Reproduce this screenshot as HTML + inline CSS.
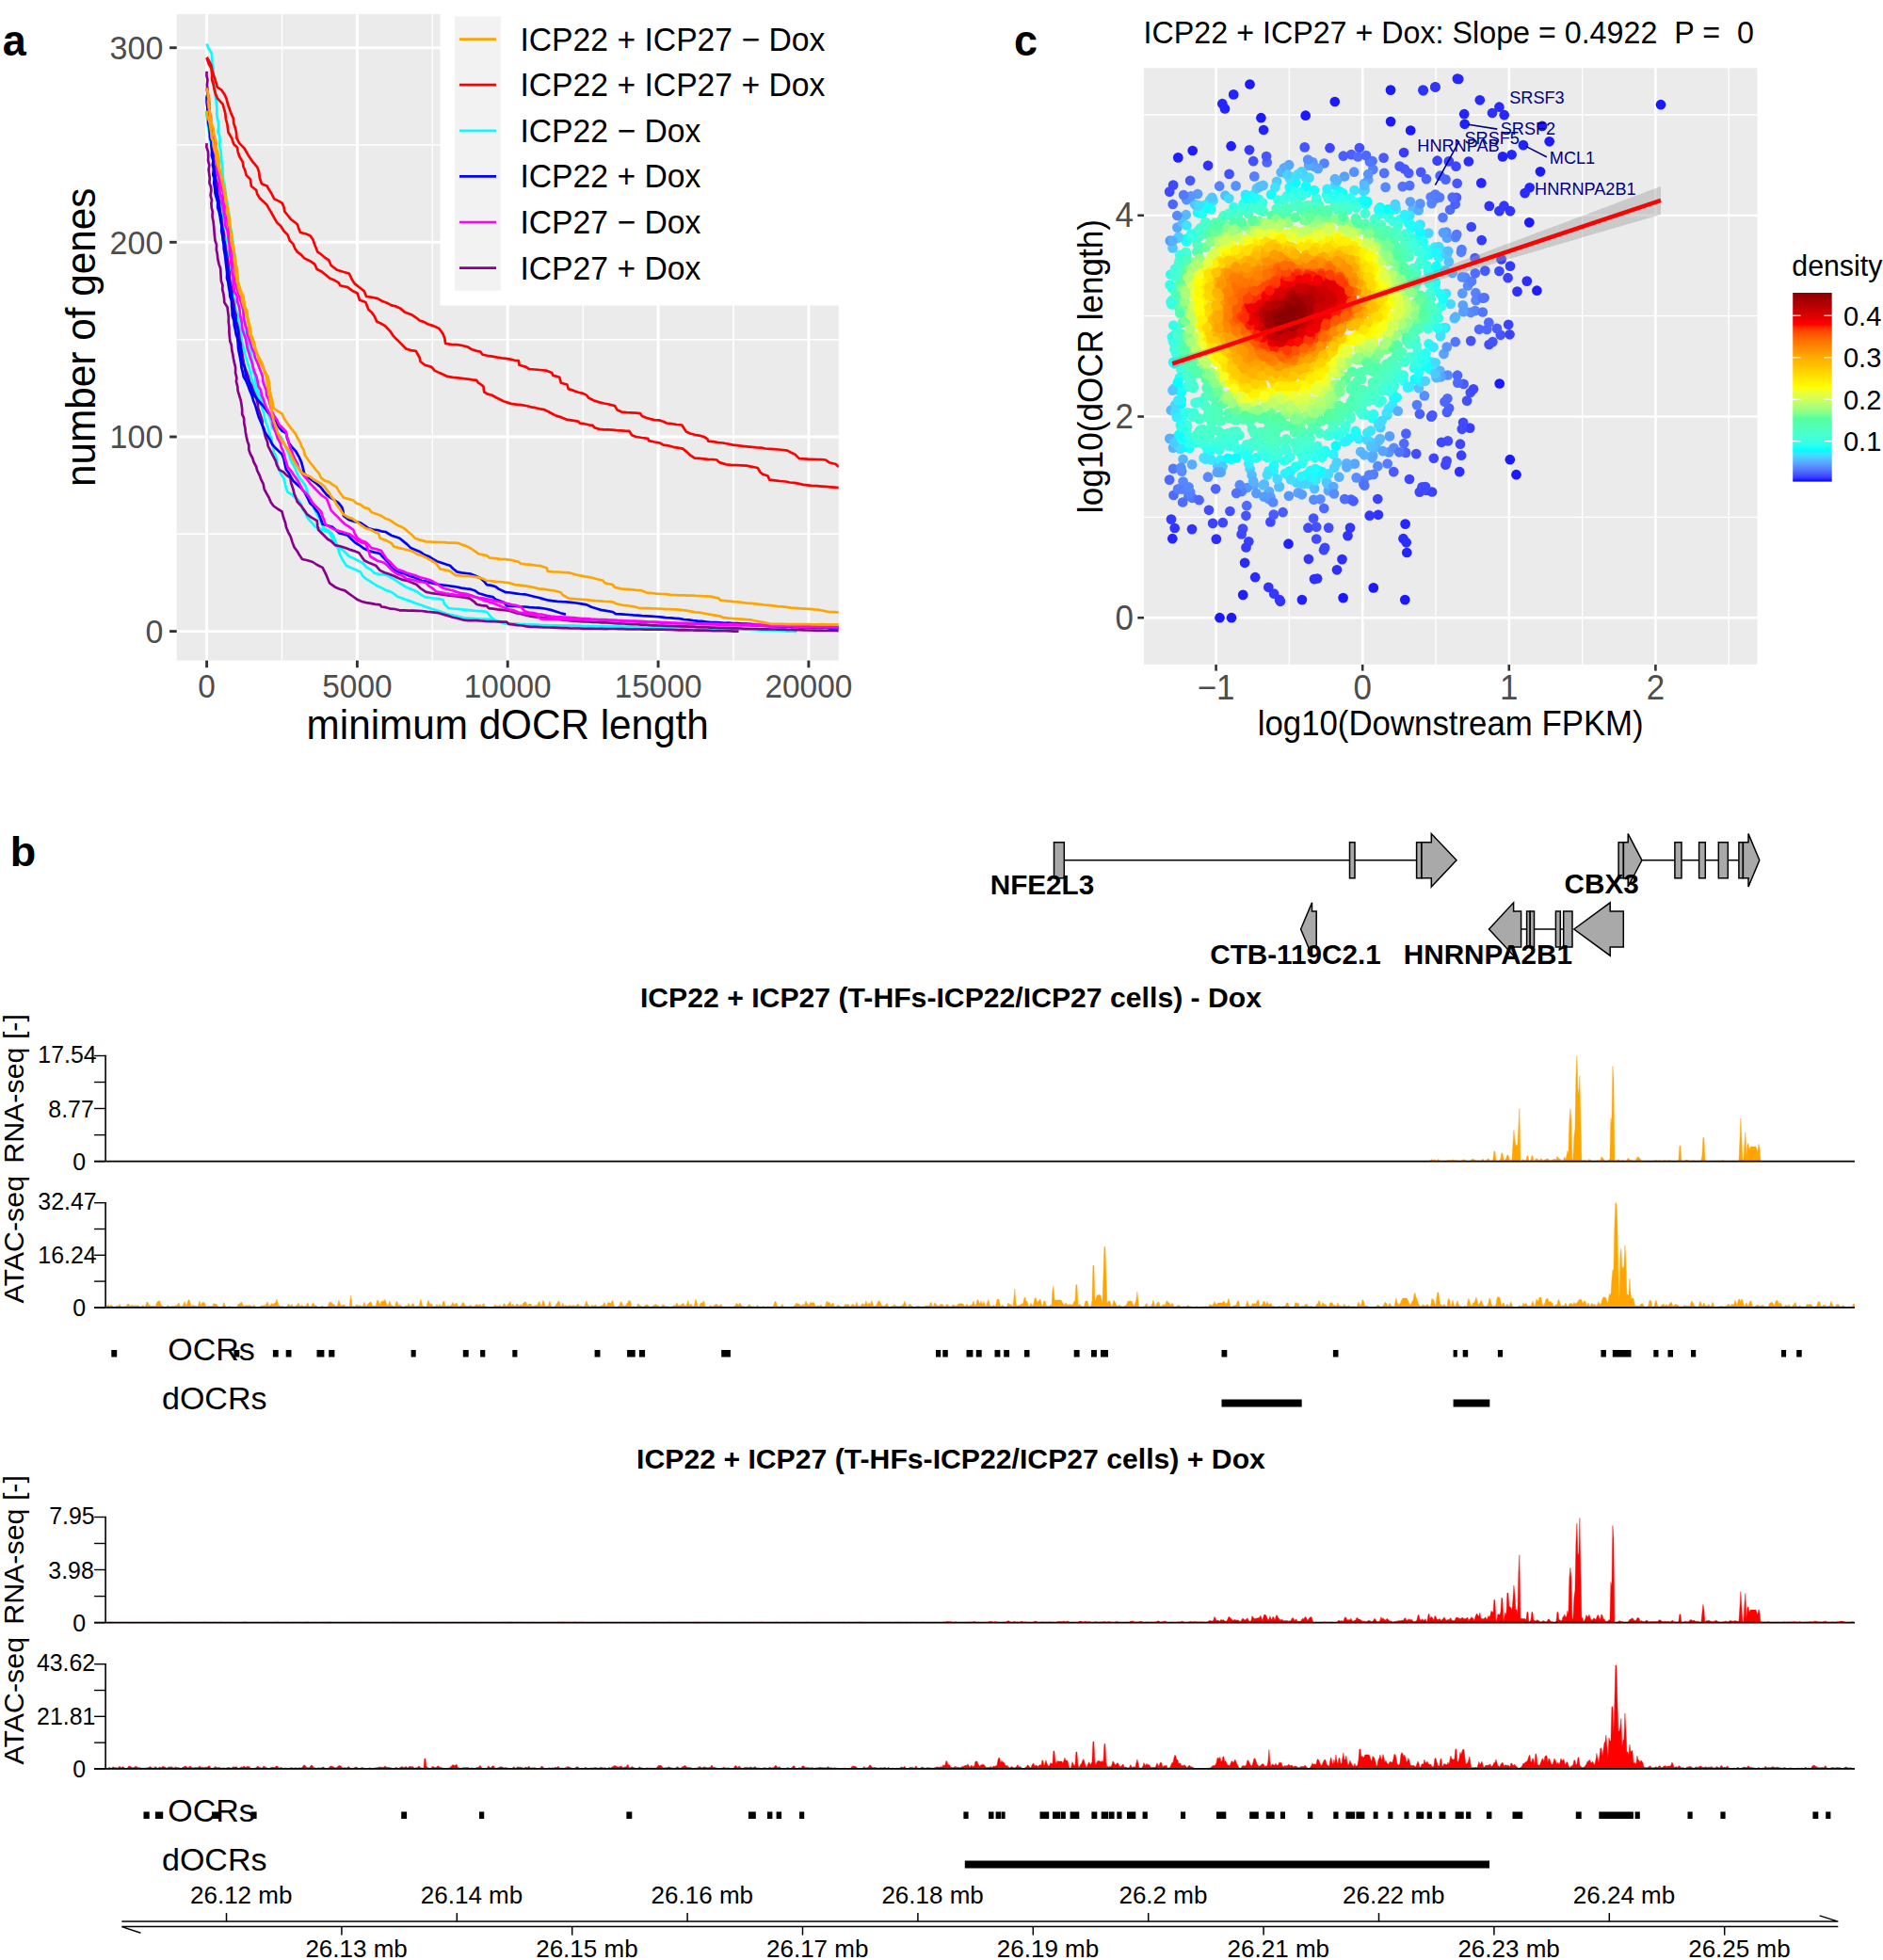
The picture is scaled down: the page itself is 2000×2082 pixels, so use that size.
<!DOCTYPE html>
<html lang="en"><head><meta charset="utf-8"><title>Figure</title>
<style>html,body{margin:0;padding:0;background:#fff}svg{display:block}text{font-family:'Liberation Sans', sans-serif}</style></head><body>
<svg width="2000" height="2082" viewBox="0 0 2000 2082">
<defs><clipPath id="clipA"><rect x="187.7" y="15.0" width="703.1" height="686.6"/></clipPath><linearGradient id="jet" x1="0" y1="0" x2="0" y2="1"><stop offset="0.0000" stop-color="#8b0000"/><stop offset="0.0208" stop-color="#990001"/><stop offset="0.0417" stop-color="#a70002"/><stop offset="0.0625" stop-color="#b50002"/><stop offset="0.0833" stop-color="#c30002"/><stop offset="0.1042" stop-color="#d20002"/><stop offset="0.1250" stop-color="#e10001"/><stop offset="0.1458" stop-color="#f00001"/><stop offset="0.1667" stop-color="#ff0000"/><stop offset="0.1875" stop-color="#ff3400"/><stop offset="0.2083" stop-color="#ff4b00"/><stop offset="0.2292" stop-color="#ff5e00"/><stop offset="0.2500" stop-color="#ff6e00"/><stop offset="0.2708" stop-color="#ff7d00"/><stop offset="0.2917" stop-color="#ff8b00"/><stop offset="0.3125" stop-color="#ff9800"/><stop offset="0.3333" stop-color="#ffa500"/><stop offset="0.3542" stop-color="#ffb100"/><stop offset="0.3750" stop-color="#ffbc00"/><stop offset="0.3958" stop-color="#ffc700"/><stop offset="0.4167" stop-color="#ffd300"/><stop offset="0.4375" stop-color="#ffde00"/><stop offset="0.4583" stop-color="#ffe900"/><stop offset="0.4792" stop-color="#fff400"/><stop offset="0.5000" stop-color="#ffff00"/><stop offset="0.5208" stop-color="#f0ff30"/><stop offset="0.5417" stop-color="#e1ff47"/><stop offset="0.5625" stop-color="#d1ff59"/><stop offset="0.5833" stop-color="#bfff69"/><stop offset="0.6042" stop-color="#abff78"/><stop offset="0.6250" stop-color="#95ff85"/><stop offset="0.6458" stop-color="#79ff92"/><stop offset="0.6667" stop-color="#54ff9f"/><stop offset="0.6875" stop-color="#52ffab"/><stop offset="0.7083" stop-color="#50ffb7"/><stop offset="0.7292" stop-color="#4cffc3"/><stop offset="0.7500" stop-color="#47ffcf"/><stop offset="0.7708" stop-color="#40ffdb"/><stop offset="0.7917" stop-color="#36ffe7"/><stop offset="0.8125" stop-color="#26fff3"/><stop offset="0.8333" stop-color="#00ffff"/><stop offset="0.8542" stop-color="#3ee4ff"/><stop offset="0.8750" stop-color="#4fc8ff"/><stop offset="0.8958" stop-color="#57adff"/><stop offset="0.9167" stop-color="#5792ff"/><stop offset="0.9375" stop-color="#5377ff"/><stop offset="0.9583" stop-color="#485aff"/><stop offset="0.9792" stop-color="#353aff"/><stop offset="1.0000" stop-color="#0000ff"/></linearGradient></defs>
<rect width="2000" height="2082" fill="#fff"/>
<g id="panel-a">
<rect x="187.7" y="15.0" width="703.1" height="686.6" fill="#ebebeb"/>
<line x1="299.5" x2="299.5" y1="15.0" y2="701.6" stroke="#fff" stroke-width="1.45"/>
<line x1="459.3" x2="459.3" y1="15.0" y2="701.6" stroke="#fff" stroke-width="1.45"/>
<line x1="619.2" x2="619.2" y1="15.0" y2="701.6" stroke="#fff" stroke-width="1.45"/>
<line x1="779.0" x2="779.0" y1="15.0" y2="701.6" stroke="#fff" stroke-width="1.45"/>
<line x1="187.7" x2="890.8" y1="567.3" y2="567.3" stroke="#fff" stroke-width="1.45"/>
<line x1="187.7" x2="890.8" y1="360.7" y2="360.7" stroke="#fff" stroke-width="1.45"/>
<line x1="187.7" x2="890.8" y1="154.0" y2="154.0" stroke="#fff" stroke-width="1.45"/>
<line x1="219.6" x2="219.6" y1="15.0" y2="701.6" stroke="#fff" stroke-width="2.9"/>
<line x1="379.4" x2="379.4" y1="15.0" y2="701.6" stroke="#fff" stroke-width="2.9"/>
<line x1="539.2" x2="539.2" y1="15.0" y2="701.6" stroke="#fff" stroke-width="2.9"/>
<line x1="699.1" x2="699.1" y1="15.0" y2="701.6" stroke="#fff" stroke-width="2.9"/>
<line x1="858.9" x2="858.9" y1="15.0" y2="701.6" stroke="#fff" stroke-width="2.9"/>
<line x1="187.7" x2="890.8" y1="670.6" y2="670.6" stroke="#fff" stroke-width="2.9"/>
<line x1="187.7" x2="890.8" y1="464.0" y2="464.0" stroke="#fff" stroke-width="2.9"/>
<line x1="187.7" x2="890.8" y1="257.3" y2="257.3" stroke="#fff" stroke-width="2.9"/>
<line x1="187.7" x2="890.8" y1="50.7" y2="50.7" stroke="#fff" stroke-width="2.9"/>
<g clip-path="url(#clipA)">
<path d="M219.6 117.6 L219.4 122.3 L220.2 126.4 L220.6 132.1 L221.3 136.1 L222.2 141.7 L222.3 145.8 L223.6 151.2 L224.6 155.8 L224.7 160.0 L225.0 164.3 L225.9 169.5 L227.5 172.8 L227.0 177.4 L227.8 182.2 L229.1 186.3 L228.9 191.0 L230.2 195.7 L231.1 200.0 L232.6 205.3 L232.7 210.2 L233.8 214.3 L234.9 220.4 L235.7 225.4 L235.8 229.8 L236.8 235.0 L237.0 240.2 L237.7 244.4 L238.7 249.5 L239.7 254.3 L240.0 259.5 L241.0 264.8 L242.4 270.0 L242.1 275.6 L243.5 279.5 L243.4 284.8 L244.1 289.4 L245.3 295.7 L245.2 300.0 L246.2 305.0 L246.6 309.4 L247.9 314.6 L249.6 319.5 L249.4 325.7 L251.1 330.0 L252.1 334.5 L253.0 339.3 L254.0 345.7 L255.4 350.3 L255.8 355.0 L256.6 359.8 L257.5 365.4 L259.2 370.4 L260.0 374.6 L261.4 380.0 L263.2 385.7 L264.6 390.5 L265.8 395.4 L266.7 400.0 L268.0 405.0 L269.9 409.3 L271.1 414.7 L273.5 420.0 L274.7 425.2 L277.4 429.7 L278.9 435.4 L280.5 439.3 L281.0 444.0 L282.6 448.9 L284.6 454.2 L286.3 460.3 L288.1 465.1 L289.1 470.6 L290.5 475.8 L290.8 480.3 L293.3 485.2 L294.2 489.5 L295.0 494.3 L296.4 499.2 L298.5 503.7 L301.3 507.6 L302.5 512.2 L303.8 518.1 L305.4 522.6 L309.7 525.1 L312.8 528.0 L317.3 531.5 L320.1 536.4 L321.2 540.9 L324.7 545.2 L326.2 549.4 L329.0 552.9 L331.6 555.6 L335.2 559.8 L340.7 561.9 L345.1 564.2 L350.0 565.7 L352.9 572.2 L356.0 577.6 L359.0 582.6 L360.6 588.2 L363.4 594.0 L367.9 600.7 L372.5 603.0 L377.5 605.1 L382.8 607.4 L385.2 611.7 L388.7 614.8 L392.6 617.1 L397.1 620.2 L401.1 622.6 L405.3 624.4 L409.5 626.7 L414.0 628.2 L418.4 630.7 L422.2 633.8 L427.4 635.6 L432.2 637.4 L438.0 639.4 L442.8 641.2 L448.2 643.0 L453.0 644.9 L457.3 646.3 L462.2 647.7 L467.5 649.6 L472.0 651.2 L477.3 652.7 L482.7 653.8 L487.7 655.1 L492.8 656.4 L497.5 656.7 L502.2 656.9 L507.0 657.3 L511.8 657.5 L516.6 657.6 L521.2 657.9 L526.9 659.7 L532.8 660.4 L538.2 662.1 L542.7 662.3 L547.4 662.5 L552.1 662.9 L557.0 663.2 L561.5 663.4 L566.3 663.5 L571.1 664.0 L575.5 664.3 L580.3 664.3 L585.0 664.6 L589.7 664.8 L594.0 664.8 L598.7 664.8 L603.1 664.9 L607.8 664.9 L612.3 665.1 L616.7 665.2 L621.4 665.3 L625.8 665.6 L630.6 665.7 L634.9 665.6 L639.5 665.8 L644.1 665.7 L648.7 666.0 L653.3 665.9 L657.7 666.2 L662.4 666.2 L666.8 666.2 L671.5 666.3 L675.9 666.6 L680.6 666.6 L685.0 666.7 L689.5 666.8 L694.2 666.8 L698.8 667.0 L703.2 666.9 L707.9 667.0 L712.4 667.2 L716.9 667.2 L721.5 667.3 L726.2 667.4 L730.9 667.5 L735.5 667.6 L740.1 667.7 L744.7 667.8 L749.4 668.0 L753.9 668.1 L758.7 668.1 L763.3 668.3 L767.8 668.5 L772.4 668.5 L777.1 668.7 L781.6 668.8 L786.3 668.8 L790.9 668.9 L795.4 668.9 L800.0 669.2 L804.7 669.1 L809.3 669.4 L814.1 669.4 L818.6 669.5 L823.1 669.6 L827.8 670.0 L832.3 670.2 L837.0 670.6 L841.8 670.7 L846.3 670.9" fill="none" stroke="#00ffff" stroke-width="2.70" stroke-linejoin="round" stroke-linecap="butt"/>
<path d="M219.6 46.5 L221.9 52.2 L225.0 56.6 L225.2 61.7 L225.3 67.0 L226.5 72.4 L226.6 77.7 L227.6 83.0 L227.2 87.4 L227.7 92.3 L228.0 96.5 L228.7 101.5 L229.5 106.7 L230.1 111.6 L230.4 116.7 L230.3 120.6 L230.8 125.6 L232.0 129.8 L232.1 135.2 L231.5 140.2 L233.3 144.6 L233.5 149.6 L233.1 153.9 L234.1 159.1 L235.0 163.8 L235.0 168.0 L235.7 173.2 L236.4 177.5 L236.3 181.2 L236.7 186.3 L237.2 191.6 L238.5 195.9 L239.1 200.6 L239.5 205.0 L240.2 209.3 L241.4 215.4 L241.8 220.1 L242.7 224.3 L243.6 229.6 L244.0 235.0 L244.2 240.1 L245.9 245.6 L246.8 252.2 L247.2 257.0 L247.9 261.5 L248.5 266.7 L249.7 271.3 L250.2 275.2 L250.1 280.2 L251.7 285.0 L252.0 290.0 L252.8 294.3 L252.8 299.7 L254.4 305.3 L255.1 309.7 L255.6 314.9 L256.2 319.4 L257.0 325.0 L258.4 329.5 L259.4 335.7 L258.8 339.9 L260.9 345.7 L261.2 349.7 L261.7 355.7 L263.0 360.0 L263.5 365.1 L264.3 370.0 L266.5 374.4 L267.2 380.0 L268.2 385.3 L268.2 390.6 L269.5 395.0 L270.7 399.3 L271.2 405.0 L273.1 409.7 L273.9 414.8 L275.7 420.0 L277.6 425.3 L279.4 430.0 L282.9 433.9 L284.6 439.3 L286.7 444.6 L288.2 448.9 L289.1 454.2 L292.4 458.0 L296.8 462.3 L299.5 466.1 L301.8 471.5 L304.1 476.4 L306.9 482.5 L308.1 487.2 L310.1 491.5 L311.9 494.6 L314.0 498.7 L315.8 503.3 L318.6 508.5 L322.4 512.7 L324.8 516.7 L326.5 522.8 L328.4 527.6 L329.2 533.0 L332.0 536.8 L334.5 541.9 L336.7 546.4 L339.5 551.6 L341.3 555.7 L344.1 561.3 L349.2 563.7 L353.0 567.2 L355.0 571.4 L356.7 576.5 L359.0 580.6 L363.7 583.7 L367.2 587.2 L370.9 591.0 L375.9 593.3 L380.3 595.5 L385.7 598.4 L389.2 602.5 L393.6 604.9 L397.6 608.8 L402.3 609.9 L406.5 610.1 L411.0 611.1 L415.0 613.3 L419.7 616.0 L424.0 619.1 L428.8 622.2 L434.1 624.9 L439.3 626.7 L443.6 629.0 L447.1 631.7 L451.2 634.1 L456.0 634.8 L460.6 635.5 L466.0 636.1 L470.5 637.1 L472.0 641.6 L476.4 646.0 L481.2 646.5 L486.1 646.8 L490.6 647.3 L495.4 647.8 L500.2 648.3 L506.0 649.0 L511.6 649.2 L517.0 650.0 L522.3 656.4 L526.4 659.0 L531.9 661.1 L538.2 662.8 L543.0 662.9 L547.6 662.9 L552.2 663.4 L557.0 663.5 L561.7 663.5 L566.2 663.6 L571.0 663.9 L575.8 664.1 L580.4 664.2 L585.0 664.3 L589.5 664.4 L594.0 664.6 L598.6 664.7 L603.2 664.6 L607.6 664.7 L612.3 664.9 L616.7 664.8 L621.4 665.0 L625.9 665.0 L630.5 665.1 L635.0 665.3 L639.7 665.4 L644.3 665.5 L648.6 665.5 L653.4 665.7 L657.7 665.6 L662.3 665.9 L666.9 665.8 L671.5 666.1 L675.9 666.0 L680.5 666.2 L685.1 666.2 L689.7 666.4 L694.2 666.4 L698.9 666.5 L703.4 666.5 L707.8 666.8 L712.4 666.8 L717.0 667.0 L721.6 666.9 L726.2 667.1 L730.9 667.3 L735.4 667.3 L740.0 667.6 L744.6 667.4 L749.2 667.6 L754.1 667.8 L758.6 668.0 L763.3 667.9 L767.7 668.2 L772.5 668.0 L777.1 668.2 L781.6 668.3 L786.2 668.3 L790.8 668.5 L795.6 668.6 L800.3 668.7 L804.7 669.0 L809.5 669.0 L813.9 669.1 L818.6 669.2 L823.2 669.6 L827.7 669.7 L832.6 669.9 L837.0 670.4 L841.8 670.4 L846.3 670.9" fill="none" stroke="#00ffff" stroke-width="2.70" stroke-linejoin="round" stroke-linecap="butt"/>
<path d="M219.6 152.1 L219.3 156.1 L221.0 161.0 L221.2 166.6 L221.0 170.4 L222.3 175.5 L221.6 180.3 L222.1 184.3 L222.8 189.3 L222.4 194.2 L224.0 198.5 L224.4 202.2 L223.6 207.4 L225.0 212.6 L224.4 216.1 L224.8 220.9 L225.8 225.0 L225.5 230.0 L226.6 235.6 L227.2 240.9 L227.5 245.5 L228.0 251.0 L228.5 255.6 L230.0 259.9 L229.9 265.7 L230.8 269.5 L231.3 275.0 L232.5 280.4 L234.2 285.2 L234.4 289.3 L234.6 293.2 L234.9 298.4 L236.4 302.9 L236.2 307.4 L237.4 312.3 L238.1 317.2 L238.3 321.2 L241.5 326.3 L242.1 331.1 L242.8 336.7 L242.7 342.1 L243.4 347.2 L243.4 353.0 L243.8 357.2 L244.4 362.8 L245.8 366.5 L246.3 372.1 L247.2 376.0 L247.9 380.5 L249.1 386.1 L250.1 390.2 L250.1 396.2 L251.4 401.3 L250.9 405.3 L252.3 410.5 L252.6 414.8 L254.1 420.0 L255.7 425.1 L256.5 429.7 L257.2 434.8 L257.2 440.2 L259.1 444.2 L259.3 449.7 L260.4 454.6 L260.8 458.9 L261.6 463.3 L262.8 468.6 L264.3 472.7 L264.3 477.6 L266.0 482.5 L268.2 486.5 L269.6 491.0 L272.3 496.0 L273.1 499.7 L275.7 504.8 L277.4 509.7 L279.6 513.8 L280.7 519.6 L283.1 524.1 L285.5 528.2 L287.8 533.7 L290.6 537.5 L294.8 540.5 L299.5 543.4 L300.8 548.7 L303.0 555.1 L303.9 559.8 L305.9 564.8 L308.7 570.2 L310.6 576.1 L312.5 581.2 L315.7 585.5 L318.3 590.1 L321.0 594.0 L326.6 595.2 L332.2 597.0 L336.7 600.0 L342.6 602.9 L346.3 610.3 L348.4 615.4 L350.0 619.3 L356.0 623.7 L360.8 625.7 L366.4 627.4 L370.7 630.6 L374.8 633.5 L379.8 637.1 L384.3 639.0 L388.7 640.1 L393.4 640.8 L398.8 641.8 L403.6 642.3 L405.1 644.5 L409.7 645.2 L415.1 646.7 L419.6 647.0 L424.4 648.3 L429.3 648.4 L434.0 648.6 L438.8 648.6 L443.5 648.8 L448.2 649.0 L454.1 649.9 L460.2 650.3 L466.0 651.2 L470.7 652.6 L476.0 654.1 L480.9 655.7 L486.5 657.0 L492.8 658.7 L497.4 659.1 L501.7 659.2 L506.5 659.2 L511.1 659.5 L515.5 659.9 L520.0 660.1 L524.6 660.2 L529.1 660.4 L533.6 660.6 L538.2 660.7 L540.4 662.8 L545.0 663.4 L549.5 664.1 L554.4 664.5 L559.2 665.3 L563.7 665.8 L568.4 665.9 L573.1 666.1 L577.7 666.3 L582.5 666.5 L587.3 666.6 L592.1 666.8 L596.8 667.2 L601.5 667.2 L606.2 667.5 L610.8 667.5 L615.6 667.5 L620.1 667.8 L624.7 667.8 L629.2 667.9 L633.9 668.0 L638.6 667.8 L643.2 668.1 L647.6 668.0 L652.4 668.0 L657.1 668.1 L661.7 668.1 L666.2 668.4 L670.8 668.3 L675.5 668.4 L680.0 668.4 L684.6 668.6 L689.4 668.7 L693.8 668.7 L698.4 668.7 L703.2 668.7 L707.9 668.9 L712.4 668.9 L716.9 669.1 L721.3 669.3 L726.0 669.2 L730.5 669.3 L735.1 669.5 L739.4 669.6 L744.0 669.6 L748.6 669.6 L753.1 669.8 L757.6 670.1 L762.1 670.1 L766.5 670.0 L770.9 670.2 L775.6 670.4 L780.1 670.6 L784.6 670.6" fill="none" stroke="#8b008b" stroke-width="2.70" stroke-linejoin="round" stroke-linecap="butt"/>
<path d="M219.6 75.7 L219.4 80.2 L220.5 84.8 L219.9 90.2 L220.4 95.2 L220.9 100.4 L221.8 104.8 L222.2 110.1 L221.8 115.7 L222.7 120.0 L222.8 124.5 L223.0 130.2 L224.5 135.4 L224.3 139.6 L224.1 145.2 L225.4 149.8 L225.9 154.9 L226.1 160.0 L227.4 165.4 L226.9 170.6 L227.1 175.0 L228.3 179.6 L228.3 185.4 L228.8 190.1 L230.7 194.5 L230.6 200.0 L230.9 205.2 L232.0 210.2 L233.1 214.5 L233.0 219.7 L233.3 225.6 L235.0 230.3 L235.3 235.0 L235.3 240.5 L237.2 244.9 L238.0 249.9 L238.1 254.4 L238.9 259.3 L239.8 265.4 L240.9 270.0 L241.8 275.5 L242.4 279.6 L242.7 284.9 L243.7 290.0 L243.5 295.2 L244.4 300.0 L245.9 304.6 L246.6 309.3 L246.4 314.6 L248.0 320.7 L248.8 324.7 L249.2 330.0 L250.7 334.7 L250.7 340.6 L252.2 345.3 L253.2 350.7 L253.8 355.0 L254.6 360.5 L255.8 365.5 L256.2 370.3 L257.2 374.7 L257.9 380.0 L258.9 385.2 L260.1 390.6 L261.7 394.3 L263.7 400.0 L265.0 405.6 L267.2 409.5 L268.6 414.3 L271.2 420.0 L272.7 424.7 L273.9 429.3 L274.1 433.5 L275.8 438.3 L277.2 442.3 L278.7 447.3 L278.7 451.8 L281.0 456.3 L280.8 459.7 L281.9 463.9 L284.1 469.5 L284.6 473.5 L287.8 479.9 L290.6 485.4 L292.8 489.5 L293.9 493.7 L296.5 498.8 L300.9 501.3 L304.2 504.6 L308.4 507.7 L309.2 513.3 L311.4 519.6 L312.5 524.4 L314.1 528.3 L315.8 533.0 L320.0 537.5 L323.3 542.1 L326.2 546.4 L330.7 549.6 L336.7 553.1 L337.3 558.4 L338.1 562.8 L344.1 568.7 L347.8 572.5 L352.1 575.2 L356.0 579.1 L361.3 580.2 L366.2 581.8 L370.9 583.6 L375.6 585.1 L381.3 587.3 L384.6 592.1 L387.2 595.5 L392.5 598.1 L399.1 600.7 L403.6 605.9 L408.5 608.2 L413.1 609.8 L418.4 611.8 L423.0 614.0 L427.7 615.9 L432.4 616.8 L437.7 618.9 L442.2 620.7 L446.8 625.0 L452.6 628.9 L457.2 629.8 L462.4 630.6 L467.2 631.1 L472.0 631.9 L477.3 632.6 L482.9 633.1 L488.2 633.9 L493.2 634.7 L498.7 635.6 L503.2 638.8 L506.4 642.0 L511.6 643.1 L517.0 643.7 L519.1 646.2 L523.7 646.7 L528.7 647.4 L533.5 647.8 L538.2 648.3 L543.2 649.4 L548.1 651.1 L553.6 652.3 L558.3 653.4 L563.7 654.7 L568.6 655.3 L573.0 655.7 L578.1 656.2 L582.4 656.7 L587.4 657.5 L591.9 657.7 L596.6 658.3 L601.5 658.8 L606.2 659.5 L610.8 659.6 L615.7 660.1 L620.1 660.4 L624.8 660.5 L629.8 660.9 L634.4 661.0 L638.9 661.3 L643.6 661.4 L648.4 661.6 L653.1 662.1 L657.9 662.3 L662.5 662.5 L667.0 662.8 L671.8 663.1 L676.7 663.2 L681.3 663.6 L685.9 663.7 L690.7 664.1 L695.4 664.3 L700.0 664.5 L704.7 664.7 L709.1 664.8 L713.6 665.0 L718.1 665.1 L722.8 665.4 L727.3 665.4 L731.8 665.6 L736.4 665.7 L741.0 666.1 L745.4 666.1 L750.1 666.2 L754.5 666.6 L758.9 666.6 L763.5 666.8 L768.3 666.9 L772.6 667.1 L777.3 667.3 L781.8 667.4 L786.5 667.5 L790.9 667.8 L795.4 667.9 L800.0 668.0 L804.5 668.2 L809.0 668.4 L813.6 668.2 L818.1 668.4 L822.6 668.5 L827.2 668.7 L831.7 668.7 L836.2 668.9 L841.0 669.0 L845.3 669.2 L849.9 669.1 L854.4 669.4 L859.1 669.5 L863.6 669.6 L868.0 669.8 L872.6 669.8 L877.3 670.0 L881.7 669.9 L886.3 670.0 L890.8 670.2" fill="none" stroke="#8b008b" stroke-width="2.70" stroke-linejoin="round" stroke-linecap="butt"/>
<path d="M219.6 101.0 L220.4 105.5 L220.7 110.2 L220.3 114.9 L220.8 120.0 L221.3 124.5 L221.2 130.3 L222.1 134.6 L222.7 140.0 L223.5 145.2 L224.3 149.8 L225.3 155.5 L225.2 160.0 L224.9 165.5 L226.5 170.4 L225.8 175.5 L226.9 179.3 L226.3 185.7 L227.6 189.6 L227.2 194.5 L228.2 200.0 L228.6 205.4 L229.7 209.5 L231.4 215.4 L231.2 220.6 L232.8 225.4 L233.8 230.6 L234.4 235.0 L235.5 240.5 L235.2 245.3 L236.3 250.4 L236.8 255.6 L237.6 259.6 L237.8 264.5 L238.8 270.0 L239.4 274.3 L239.9 279.5 L240.6 285.0 L241.2 290.5 L241.0 295.5 L242.3 300.0 L243.0 305.1 L244.0 310.5 L244.3 314.9 L245.9 319.4 L246.1 325.2 L246.6 330.0 L246.7 335.2 L248.5 340.6 L248.8 345.7 L249.9 350.0 L250.7 355.0 L252.2 359.3 L252.8 365.2 L253.1 370.5 L254.0 375.0 L255.0 380.0 L256.0 385.4 L256.4 389.9 L257.7 395.1 L258.7 400.0 L261.4 404.7 L263.6 409.9 L265.3 414.7 L267.5 420.0 L269.0 425.2 L270.7 429.4 L272.0 433.4 L273.2 437.6 L274.6 442.5 L276.4 446.8 L278.8 452.2 L280.2 457.0 L283.1 461.6 L286.7 466.9 L289.1 472.0 L291.9 475.2 L295.3 478.5 L299.5 482.5 L301.6 488.1 L302.7 493.8 L303.9 498.8 L307.0 502.9 L309.1 506.9 L311.4 510.7 L315.7 514.8 L319.6 518.2 L323.3 522.6 L326.5 528.5 L329.2 534.5 L332.6 537.4 L334.7 540.7 L338.1 544.9 L340.8 551.5 L342.6 556.8 L347.9 558.2 L353.0 559.8 L357.2 563.6 L360.4 566.5 L365.0 567.4 L369.4 568.7 L372.8 572.3 L376.8 576.1 L381.5 579.0 L386.9 582.8 L391.7 585.1 L397.3 586.6 L403.6 588.0 L405.9 590.8 L410.0 595.0 L413.1 598.2 L414.7 601.5 L418.4 605.1 L424.0 607.9 L429.9 609.5 L434.8 611.8 L439.2 613.1 L443.9 614.9 L448.2 617.0 L452.4 617.6 L456.8 618.9 L461.3 620.0 L465.7 620.9 L470.5 621.5 L475.2 622.0 L480.5 622.8 L485.5 623.5 L490.0 624.6 L495.4 625.4 L500.2 625.9 L504.7 627.5 L508.5 630.3 L513.6 631.7 L518.4 633.2 L523.4 634.1 L526.6 636.7 L535.0 639.8 L538.2 643.5 L543.0 644.0 L548.0 643.9 L552.6 644.5 L557.7 644.5 L562.4 645.1 L567.2 645.4 L572.2 645.6 L578.6 646.5 L585.0 647.9 L590.2 649.5 L595.5 651.2 L600.9 652.6" fill="none" stroke="#0000ff" stroke-width="2.70" stroke-linejoin="round" stroke-linecap="butt"/>
<path d="M219.6 103.0 L219.6 109.1 L220.4 114.6 L221.1 120.0 L221.8 124.9 L221.9 130.4 L223.3 135.4 L223.3 139.7 L223.0 145.7 L224.5 150.5 L224.5 155.2 L225.3 160.0 L226.5 165.5 L226.5 169.7 L226.8 175.6 L227.3 180.3 L228.1 185.6 L229.0 189.7 L228.3 194.6 L229.6 200.0 L230.3 205.1 L231.6 210.6 L231.3 215.5 L233.2 220.6 L233.6 224.7 L234.8 230.5 L235.1 235.0 L236.0 240.6 L236.2 244.4 L237.1 250.4 L237.2 255.4 L239.0 259.6 L239.1 265.3 L239.6 270.0 L240.2 274.6 L240.5 280.4 L241.9 284.9 L241.5 290.5 L243.1 294.6 L243.3 300.0 L244.3 305.6 L245.5 310.0 L245.8 315.1 L246.2 319.5 L247.0 325.3 L248.3 330.0 L249.0 335.1 L250.0 340.0 L250.5 344.3 L252.7 349.8 L252.9 355.0 L253.1 360.2 L254.9 364.5 L255.4 369.8 L256.1 374.3 L256.8 380.0 L257.3 385.7 L259.8 390.0 L260.5 394.6 L261.6 400.0 L264.1 404.9 L266.3 410.4 L268.2 415.7 L269.7 420.0 L272.6 423.0 L275.7 427.0 L278.8 430.5 L282.7 435.4 L285.8 439.3 L289.1 442.3 L292.2 445.6 L294.2 450.1 L296.5 454.2 L299.6 457.8 L303.9 460.1 L305.0 465.4 L306.9 470.6 L310.8 475.7 L314.3 479.5 L317.6 485.3 L320.3 491.4 L321.7 496.8 L323.3 503.3 L328.4 507.7 L332.2 510.7 L336.2 513.7 L341.1 518.1 L343.7 521.6 L347.1 525.6 L351.4 528.8 L354.5 530.8 L359.5 534.2 L363.4 539.0 L364.6 543.8 L364.9 547.9 L370.9 552.3 L377.0 554.2 L382.8 555.3 L386.6 557.8 L391.7 561.3 L396.3 562.5 L400.7 563.0 L405.1 564.3 L409.5 565.0 L415.5 568.7 L419.5 570.0 L424.4 571.7 L428.0 574.6 L432.3 578.1 L436.3 582.1 L440.9 584.1 L446.5 586.3 L451.2 589.5 L456.0 591.3 L460.1 594.0 L464.0 596.2 L468.7 597.8 L473.9 599.5 L477.9 600.7 L481.1 604.0 L485.4 607.4 L490.0 608.4 L495.3 609.0 L500.0 609.7 L505.2 611.8 L510.6 614.3 L514.3 617.7 L517.0 621.1 L521.9 621.9 L526.6 623.3 L529.7 625.6 L537.2 629.2 L542.1 629.5 L547.4 630.3 L552.2 631.0 L557.4 631.3 L562.3 632.5 L567.3 633.7 L572.9 635.0 L577.4 636.4 L582.8 637.7 L587.4 638.3 L592.0 638.8 L596.6 639.1 L601.6 639.3 L606.2 639.8 L611.9 640.5 L617.4 641.4 L623.2 642.4 L628.0 644.8 L633.7 646.5 L638.1 647.9 L644.2 648.8 L650.8 650.0 L654.0 652.2 L658.8 652.3 L663.4 652.7 L668.1 653.0 L672.7 653.4 L677.1 653.6 L682.0 654.1 L686.4 654.4 L691.2 654.7 L696.7 655.0 L701.8 655.4 L707.0 656.1 L712.4 656.4 L717.2 656.8 L721.6 657.2 L726.6 658.0 L731.2 658.3 L736.1 659.1 L740.9 659.6 L745.3 659.8 L750.3 660.5 L754.9 661.1 L759.7 661.1 L764.4 661.4 L769.2 661.8 L773.8 661.7 L778.6 662.0 L783.4 662.2 L787.9 662.5 L792.6 662.5 L797.4 662.8 L802.6 663.5 L807.7 664.1 L813.3 664.7 L818.6 665.3 L823.0 665.5 L827.7 665.7 L832.1 665.8 L836.6 665.9 L841.0 666.1 L845.8 666.1 L850.2 666.3 L854.7 666.3 L859.4 666.5 L863.6 666.6 L868.2 666.9 L872.6 666.8 L877.3 667.0 L881.6 667.3 L886.3 667.4 L890.8 667.5" fill="none" stroke="#0000ff" stroke-width="2.70" stroke-linejoin="round" stroke-linecap="butt"/>
<path d="M219.6 93.2 L220.5 98.0 L221.3 104.2 L220.7 108.7 L222.0 114.6 L222.6 120.0 L222.9 124.4 L223.7 129.5 L224.6 135.5 L224.6 140.1 L226.2 144.5 L226.9 150.7 L226.9 154.9 L227.7 160.0 L229.0 165.0 L229.0 170.7 L230.3 174.8 L230.2 179.8 L231.2 185.7 L232.5 190.6 L233.2 195.5 L233.4 200.0 L233.6 205.0 L235.8 210.7 L235.6 214.9 L237.0 219.8 L237.7 224.4 L238.4 230.0 L239.4 235.0 L239.4 239.5 L241.5 245.4 L242.2 250.2 L242.7 255.6 L243.5 259.3 L243.8 264.6 L244.3 270.0 L245.1 274.7 L245.5 280.6 L246.1 284.6 L246.5 289.9 L247.7 294.7 L247.5 300.0 L248.4 305.2 L249.3 310.1 L251.8 315.0 L252.0 319.9 L253.6 324.5 L254.7 330.0 L255.0 334.4 L256.2 339.9 L257.0 344.6 L257.6 350.1 L259.1 355.0 L261.0 360.2 L261.9 365.2 L262.7 370.3 L264.4 375.1 L265.8 380.0 L267.6 385.0 L268.8 389.6 L270.3 395.0 L272.4 400.0 L273.6 405.1 L274.4 409.8 L277.1 414.6 L277.9 420.0 L279.9 424.4 L281.5 429.7 L283.4 433.8 L285.1 437.2 L287.6 442.3 L289.6 447.0 L289.9 451.8 L291.9 457.1 L293.5 461.6 L294.8 465.7 L297.9 470.9 L298.6 474.8 L301.0 479.5 L302.2 485.2 L304.1 490.9 L305.4 495.8 L308.8 499.8 L311.7 504.1 L314.3 507.7 L317.2 512.1 L319.7 516.9 L321.8 521.1 L325.9 525.0 L329.3 529.3 L332.2 534.5 L337.0 539.1 L341.1 543.4 L342.6 548.6 L344.2 552.2 L345.6 556.8 L351.2 560.4 L356.0 562.8 L361.1 564.2 L365.9 565.7 L370.9 567.2 L375.7 570.6 L379.8 574.6 L384.1 576.2 L388.7 577.6 L390.0 581.8 L392.1 587.1 L393.2 591.0 L400.6 595.5 L408.0 597.7 L411.5 600.8 L414.5 603.9 L418.4 607.4 L422.3 610.0 L427.5 611.7 L431.8 614.8 L437.3 615.8 L442.5 617.3 L447.7 618.0 L452.6 619.3 L456.0 622.9 L458.9 624.6 L463.1 628.2 L468.1 629.2 L473.3 630.4 L477.9 631.2 L483.4 631.8 L489.0 632.1 L494.6 632.4 L500.0 632.9 L504.8 634.0 L509.6 635.2 L514.7 635.9 L519.1 636.8 L524.2 637.9 L529.2 639.1 L534.0 639.8 L539.2 641.0 L543.5 642.3 L548.7 643.2 L553.1 644.5 L557.4 649.4 L562.0 650.5 L566.4 651.0 L571.5 652.3 L575.8 652.7 L580.7 653.9 L585.0 654.7 L589.8 655.2 L594.6 655.3 L599.0 655.6 L603.9 655.9 L608.5 656.1 L613.4 656.6 L618.0 657.1 L622.8 657.0 L627.5 657.5 L632.2 657.8 L636.9 658.0 L641.5 658.1 L646.5 658.4 L651.1 658.5 L655.8 658.9 L660.4 659.1 L665.2 659.4 L670.0 659.5 L674.5 659.6 L679.5 659.8 L684.0 660.1 L688.8 660.5 L693.6 660.7 L698.1 660.7 L703.1 661.0 L707.8 661.2 L712.4 661.5 L716.9 661.5 L721.4 661.8 L726.1 661.8 L730.7 661.9 L735.1 662.2 L739.9 662.3 L744.4 662.3 L748.9 662.3 L753.7 662.6 L758.1 662.7 L762.8 662.7 L767.3 663.0 L771.9 663.1 L776.4 663.0 L781.1 663.1 L785.5 663.4 L790.2 663.5 L794.7 663.4 L799.3 663.5 L804.0 663.6 L808.5 663.7 L813.0 663.9 L817.6 663.9 L822.1 664.2 L826.7 664.2 L831.2 664.3 L835.8 664.3 L840.5 664.5 L845.0 664.8 L849.5 664.7 L854.3 664.8 L858.8 665.1 L863.4 665.0 L867.9 665.3 L872.5 665.5 L877.0 665.6 L881.7 665.5 L886.2 665.6 L890.8 665.8" fill="none" stroke="#ff00ff" stroke-width="2.70" stroke-linejoin="round" stroke-linecap="butt"/>
<path d="M219.6 94.5 L220.5 99.2 L221.4 104.8 L221.2 109.4 L222.1 114.5 L222.6 120.0 L223.9 123.9 L224.2 129.0 L224.6 133.7 L225.6 138.0 L226.7 141.9 L227.2 146.0 L227.7 151.6 L228.7 155.8 L229.7 160.0 L229.9 165.1 L231.0 170.0 L231.7 174.3 L232.4 179.6 L232.9 185.3 L233.9 189.9 L235.6 195.4 L235.7 200.0 L237.1 205.5 L236.8 209.7 L237.5 215.3 L239.2 219.8 L239.7 225.2 L240.9 229.6 L241.4 235.0 L242.7 239.8 L243.2 244.5 L243.2 250.6 L244.9 255.3 L244.7 259.3 L245.6 264.5 L246.9 270.0 L247.1 274.8 L247.2 279.7 L248.6 284.5 L249.4 290.1 L249.8 294.6 L249.9 300.0 L251.3 305.3 L252.5 309.3 L254.7 315.4 L255.3 319.3 L257.5 325.2 L258.4 330.0 L258.6 334.6 L259.5 340.4 L260.5 345.6 L262.2 349.4 L262.6 355.0 L264.6 359.8 L266.3 365.5 L267.3 369.4 L269.9 374.9 L270.9 380.0 L273.5 385.3 L275.3 390.5 L277.1 394.9 L278.9 400.0 L279.3 405.3 L280.9 410.0 L282.7 414.4 L283.1 420.0 L285.4 424.5 L287.2 430.9 L288.4 435.7 L290.6 440.8 L294.3 446.2 L296.5 451.2 L300.3 454.6 L303.9 458.7 L304.4 462.9 L306.0 467.2 L307.0 471.5 L308.4 476.5 L310.5 480.9 L311.6 484.4 L313.8 488.9 L316.2 492.9 L317.3 497.3 L320.0 501.8 L322.7 505.3 L326.2 509.2 L329.9 514.1 L334.2 518.5 L338.1 522.6 L342.1 526.5 L347.1 530.0 L349.4 535.9 L351.5 541.9 L355.6 546.1 L359.0 549.4 L362.1 552.8 L366.4 556.8 L370.6 559.4 L375.3 562.8 L376.9 566.9 L379.8 571.7 L383.8 574.2 L388.7 576.1 L394.6 582.1 L399.8 583.2 L405.1 585.1 L407.8 589.5 L411.0 594.0 L414.3 597.0 L417.3 600.2 L421.4 604.4 L427.4 606.6 L431.9 608.6 L437.8 610.3 L442.8 611.9 L446.3 613.3 L451.1 614.5 L455.7 615.8 L460.1 617.8 L464.7 620.5 L468.2 623.4 L472.0 625.2 L476.6 626.2 L480.7 627.3 L485.4 628.9 L489.9 630.2 L495.4 630.9 L500.0 632.2 L504.2 634.1 L509.5 636.1 L513.3 637.6 L518.6 639.3 L522.6 640.3 L527.7 642.2 L531.9 644.1 L536.5 645.8 L541.3 647.6 L546.0 648.4 L551.0 650.5 L556.7 651.3 L562.5 652.0 L568.0 652.6 L574.4 657.5 L579.3 657.7 L584.1 657.6 L588.8 657.6 L593.7 657.6 L598.6 657.7 L603.3 657.9 L608.1 657.8 L613.0 657.9 L617.9 657.9 L622.8 658.1 L627.5 658.1 L632.3 658.3 L636.9 658.6 L641.7 658.7 L646.3 659.0 L651.1 659.3 L655.9 659.3 L660.4 659.6 L665.3 659.8 L669.8 660.0 L674.6 660.3 L679.5 660.7 L684.2 660.9 L689.0 661.0 L693.6 661.1 L698.3 661.5 L702.9 661.7 L707.8 661.9 L712.4 662.1 L717.1 662.2 L721.6 662.5 L726.1 662.4 L730.9 662.6 L735.4 662.8 L740.1 663.0 L744.7 663.1 L749.4 663.2 L753.8 663.3 L758.7 663.5 L763.1 663.7 L767.7 663.6 L772.4 663.8 L777.0 664.1 L781.6 664.2 L786.2 664.3 L790.9 664.3 L795.5 664.5 L800.1 664.9 L804.8 664.9 L809.4 664.9 L814.1 665.2 L818.6 665.3 L823.0 665.5 L827.6 665.4 L832.3 665.5 L836.7 665.5 L841.2 665.5 L845.6 665.7 L850.1 665.8 L854.6 665.8 L859.3 665.9 L863.8 666.0 L868.3 666.1 L872.9 666.2 L877.2 666.3 L881.7 666.3 L886.3 666.4 L890.8 666.4" fill="none" stroke="#ff00ff" stroke-width="2.70" stroke-linejoin="round" stroke-linecap="butt"/>
<path d="M219.6 117.6 L220.0 122.1 L221.8 127.7 L222.8 131.0 L223.5 135.8 L224.4 141.6 L224.7 146.5 L226.4 150.2 L226.7 155.2 L228.1 160.0 L229.7 164.6 L229.7 168.2 L230.8 173.8 L232.0 177.9 L233.3 182.5 L234.5 186.1 L236.4 191.2 L237.2 196.0 L238.0 200.0 L239.4 204.3 L239.2 209.5 L240.1 215.6 L241.2 219.3 L240.9 225.5 L242.4 229.8 L242.8 235.0 L243.5 239.5 L244.9 244.8 L245.7 250.2 L245.3 254.7 L246.3 260.6 L247.6 264.3 L248.3 270.0 L248.4 274.8 L249.5 280.1 L249.9 284.8 L250.0 290.1 L251.1 294.3 L251.9 300.0 L253.3 305.7 L254.2 309.5 L256.6 314.7 L257.4 320.0 L258.9 325.1 L260.7 330.0 L261.7 335.7 L263.4 339.3 L263.7 345.4 L265.1 350.4 L265.5 355.0 L267.4 360.2 L268.8 364.7 L271.1 370.6 L273.1 375.3 L274.2 380.0 L276.1 385.4 L278.9 390.0 L280.9 394.8 L282.9 400.0 L283.8 404.9 L283.8 409.8 L285.0 415.7 L286.1 420.0 L286.8 424.3 L287.2 428.5 L288.1 432.9 L288.4 438.4 L289.8 442.3 L290.6 446.8 L292.7 451.9 L294.0 457.0 L296.5 463.1 L298.7 466.8 L301.8 471.1 L303.9 475.0 L307.1 479.2 L309.5 484.1 L311.4 488.4 L313.7 492.4 L317.5 498.1 L320.3 501.8 L324.5 504.4 L329.2 506.2 L333.1 509.3 L336.5 511.2 L341.1 513.7 L344.7 516.8 L346.7 519.9 L350.0 524.1 L352.0 527.7 L355.3 531.6 L357.5 536.0 L361.0 540.8 L364.9 546.4 L369.5 549.4 L374.1 550.9 L378.3 553.8 L383.9 558.2 L388.7 561.3 L393.3 562.5 L398.0 565.2 L402.1 566.5 L403.6 571.7 L409.3 573.8 L415.5 576.9 L418.4 580.6 L423.1 581.9 L428.6 583.2 L433.3 584.3 L438.8 586.0 L443.0 588.6 L448.2 590.3 L453.4 592.9 L458.4 595.5 L463.1 598.4 L467.5 604.4 L472.4 605.4 L477.9 606.6 L483.9 611.1 L489.1 611.5 L494.6 611.8 L500.0 612.2 L508.5 613.3 L512.9 614.8 L517.0 616.9 L521.7 617.1 L526.5 617.8 L531.3 618.0 L535.8 618.7 L540.4 619.0 L546.7 621.1 L552.3 621.6 L557.8 622.4 L563.7 623.3 L572.2 625.4 L578.0 625.9 L583.7 626.8 L589.2 627.5 L595.6 629.2 L597.7 632.0 L604.1 635.6 L608.8 636.1 L613.5 636.5 L618.2 636.8 L622.9 637.2 L627.5 637.7 L632.2 638.1 L636.9 638.3 L641.6 638.9 L646.1 639.0 L650.8 639.4 L655.1 641.5 L661.5 642.8 L667.8 643.5 L672.8 644.3 L678.4 645.8 L683.1 646.1 L687.9 646.2 L692.7 646.3 L697.4 646.5 L701.9 646.7 L706.6 647.1 L711.5 647.2 L716.3 647.4 L720.9 647.7 L727.1 648.4 L733.7 649.4 L738.4 650.4 L742.6 650.6 L747.5 651.5 L752.2 652.4 L756.5 653.1 L761.1 653.9 L765.5 654.7 L768.7 656.2 L773.4 656.7 L778.1 657.0 L782.9 657.3 L787.8 657.7 L792.4 658.0 L797.4 658.3 L802.6 659.7 L808.3 660.6 L813.1 661.5 L818.6 662.8 L823.1 662.8 L827.6 662.8 L832.2 662.9 L836.6 663.1 L841.1 663.0 L845.6 663.1 L850.3 663.0 L854.8 663.2 L859.2 663.1 L863.7 663.3 L868.2 663.3 L872.8 663.2 L877.3 663.4 L881.7 663.4 L886.3 663.4 L890.8 663.4" fill="none" stroke="#ffa500" stroke-width="2.70" stroke-linejoin="round" stroke-linecap="butt"/>
<path d="M219.6 93.7 L220.9 98.5 L221.6 105.0 L221.5 108.8 L222.0 115.5 L223.3 120.0 L223.4 125.1 L224.4 129.2 L225.2 132.8 L226.9 137.2 L227.2 142.8 L228.5 147.2 L229.8 150.4 L229.4 156.0 L230.7 160.0 L231.7 163.8 L232.3 168.5 L232.9 172.7 L233.1 178.5 L234.3 182.8 L234.8 186.6 L235.6 191.0 L236.5 195.8 L237.8 200.0 L238.1 205.4 L239.5 209.4 L240.2 215.0 L241.9 219.8 L241.8 225.7 L243.7 230.3 L244.0 235.0 L244.3 239.5 L245.0 244.4 L245.4 250.0 L246.7 255.1 L247.3 259.3 L248.5 265.2 L249.0 270.0 L249.7 275.1 L250.6 280.7 L251.6 285.3 L251.6 289.7 L252.3 295.7 L253.1 300.0 L254.5 304.8 L256.0 309.5 L258.4 314.3 L259.3 320.6 L260.2 325.2 L262.1 330.0 L262.8 334.6 L263.4 339.4 L265.2 345.4 L266.2 349.3 L266.5 355.0 L268.5 359.7 L270.2 365.1 L271.4 370.7 L272.7 375.4 L275.2 380.0 L278.0 385.0 L279.9 390.7 L281.7 395.2 L284.4 400.0 L285.6 404.8 L286.3 409.8 L286.8 415.2 L287.6 420.0 L288.9 424.2 L289.8 429.0 L290.6 433.4 L294.6 436.5 L299.5 439.3 L302.1 445.1 L305.4 449.7 L308.3 454.0 L311.4 457.6 L314.3 461.6 L315.9 465.3 L318.9 470.1 L320.3 474.3 L322.7 478.1 L323.7 483.2 L326.2 486.9 L329.1 491.1 L332.7 495.4 L335.2 498.8 L338.7 502.6 L341.1 507.7 L345.0 510.6 L349.8 512.0 L352.9 514.6 L357.5 517.4 L360.6 522.8 L364.9 528.6 L370.4 530.1 L375.3 531.5 L378.3 534.5 L382.7 535.9 L387.1 539.1 L391.7 540.4 L394.6 544.2 L400.1 546.0 L405.1 547.9 L409.1 550.7 L413.6 552.2 L417.6 554.9 L421.4 557.5 L425.9 559.4 L430.3 562.0 L433.6 565.0 L437.1 567.7 L440.7 571.7 L446.4 573.6 L452.6 575.4 L457.3 575.5 L462.4 575.8 L467.2 576.0 L472.3 576.1 L477.1 576.6 L481.8 576.7 L486.8 576.9 L491.6 578.9 L495.4 580.1 L500.0 582.5 L504.2 585.3 L508.5 588.4 L517.0 590.1 L520.2 592.7 L525.9 593.1 L531.3 593.8 L537.1 594.2 L542.5 594.8 L551.0 596.9 L553.1 598.8 L558.3 599.4 L563.9 599.8 L569.2 600.7 L574.3 601.2 L580.7 603.3 L581.8 606.9 L587.3 607.3 L592.9 607.5 L598.6 608.0 L604.1 608.4 L609.4 609.8 L614.7 611.2 L621.3 612.4 L627.5 613.3 L633.5 615.0 L640.2 616.5 L642.3 619.2 L650.8 621.1 L652.9 623.9 L659.3 625.4 L664.6 625.8 L670.1 626.2 L675.3 626.8 L680.6 627.1 L686.9 629.6 L692.0 630.0 L697.1 630.6 L702.3 631.0 L707.3 631.2 L712.4 631.8 L717.2 632.0 L721.9 632.3 L726.4 632.3 L731.2 632.7 L735.9 632.6 L740.8 633.0 L745.3 633.2 L750.2 633.3 L754.9 633.5 L763.4 635.6 L765.5 637.7 L769.8 638.2 L774.6 638.7 L779.4 639.2 L783.9 639.4 L788.2 640.0 L792.6 640.7 L797.4 640.9 L802.0 641.3 L806.8 641.8 L811.7 642.5 L816.3 642.9 L820.8 643.4 L825.9 644.2 L830.6 644.4 L835.0 644.9 L839.9 645.6 L844.9 645.9 L849.8 646.3 L854.8 646.6 L859.8 646.9 L864.8 647.4 L869.6 647.7 L874.6 648.7 L880.3 650.0 L885.6 650.2 L890.8 650.5" fill="none" stroke="#ffa500" stroke-width="2.70" stroke-linejoin="round" stroke-linecap="butt"/>
<path d="M219.6 60.8 L222.1 64.8 L224.4 69.3 L225.5 75.0 L227.0 80.2 L228.7 85.2 L230.8 92.7 L235.0 95.3 L238.2 99.9 L240.4 104.3 L241.9 110.3 L243.5 115.0 L245.6 120.9 L247.8 125.6 L248.2 130.8 L250.0 136.2 L251.0 140.8 L251.5 146.8 L254.2 152.1 L259.5 157.5 L263.7 164.9 L268.0 171.3 L273.3 177.6 L275.1 182.8 L275.9 189.3 L278.0 195.2 L283.9 197.8 L284.8 200.0 L288.1 205.1 L291.2 211.2 L296.2 213.6 L299.9 215.9 L301.6 220.3 L302.3 224.7 L305.8 229.0 L308.7 232.7 L315.8 238.2 L317.1 242.2 L319.0 247.0 L324.5 248.3 L329.4 250.2 L332.4 254.5 L334.2 259.7 L337.4 267.7 L340.8 270.0 L345.8 274.2 L349.3 276.5 L351.7 282.0 L358.1 286.8 L364.4 288.8 L370.8 290.5 L374.0 297.2 L376.8 301.4 L380.4 304.3 L386.7 309.1 L389.1 315.0 L395.2 315.8 L401.1 317.1 L406.1 320.0 L412.2 322.3 L415.9 324.4 L420.5 325.4 L425.0 327.4 L429.7 331.4 L437.7 334.6 L441.8 337.3 L445.7 340.5 L450.1 341.9 L454.4 344.2 L460.9 346.4 L466.4 349.0 L470.4 354.5 L472.3 359.2 L473.1 364.9 L479.4 365.8 L485.5 366.2 L491.0 367.0 L496.7 368.5 L501.4 371.3 L505.7 372.6 L510.2 373.6 L512.6 376.8 L517.7 377.8 L522.9 378.7 L528.5 379.7 L533.1 380.4 L537.5 380.9 L542.1 381.6 L546.6 382.8 L550.8 383.2 L551.6 387.7 L558.8 389.9 L562.0 392.0 L568.2 392.5 L573.8 393.0 L579.9 393.6 L586.2 395.9 L587.1 398.6 L594.3 400.8 L595.8 406.7 L602.4 408.5 L603.7 413.1 L609.2 414.9 L614.2 416.7 L619.2 417.9 L623.2 419.9 L625.0 422.5 L630.4 425.3 L635.8 427.1 L641.6 428.5 L646.9 429.5 L653.0 431.1 L655.7 435.6 L660.2 437.6 L665.1 438.2 L670.3 438.3 L675.3 438.6 L680.1 439.2 L681.9 442.0 L686.4 443.8 L691.0 445.1 L695.3 446.1 L700.1 446.4 L704.5 447.7 L708.1 449.5 L713.4 450.1 L718.8 451.0 L724.3 451.5 L728.8 458.6 L733.0 460.5 L737.9 461.8 L742.7 462.6 L747.8 464.0 L751.4 466.3 L752.3 468.7 L757.5 469.1 L762.6 470.0 L767.7 470.5 L773.2 471.5 L778.5 472.6 L783.3 473.2 L788.4 473.8 L793.5 474.3 L798.7 474.8 L803.8 475.4 L808.5 475.7 L812.9 476.5 L817.7 476.9 L822.5 477.2 L826.9 477.5 L831.8 478.0 L836.3 478.6 L840.3 480.7 L844.4 482.6 L848.9 487.1 L853.4 487.3 L858.1 487.6 L862.9 487.8 L867.5 488.0 L872.1 488.1 L876.9 488.5 L880.5 491.2 L887.7 493.0 L890.8 496.1" fill="none" stroke="#ff0000" stroke-width="2.70" stroke-linejoin="round" stroke-linecap="butt"/>
<path d="M219.6 61.5 L221.6 67.6 L224.4 72.5 L225.1 78.8 L225.1 84.5 L226.6 89.5 L227.6 94.7 L228.7 99.0 L230.8 104.3 L236.6 110.7 L238.1 115.8 L239.3 120.3 L239.9 126.5 L241.4 132.0 L242.5 140.5 L246.2 146.8 L248.3 153.2 L252.0 156.4 L252.6 160.8 L254.2 166.0 L257.9 172.3 L258.4 176.7 L260.4 181.2 L261.6 186.1 L265.9 190.4 L266.9 197.8 L272.2 202.0 L273.3 206.3 L275.9 210.6 L280.0 214.3 L283.3 217.4 L285.5 221.4 L288.0 225.5 L291.3 231.5 L294.3 236.6 L298.3 240.2 L301.4 245.3 L305.5 249.4 L307.9 255.8 L311.3 259.1 L313.3 264.0 L315.8 267.7 L319.9 270.7 L323.0 274.1 L329.1 277.2 L334.2 280.5 L336.6 286.0 L341.7 288.5 L346.3 292.3 L350.1 295.6 L354.8 297.4 L359.7 300.4 L361.2 303.2 L369.2 305.1 L374.0 308.7 L379.6 311.5 L382.0 318.7 L388.3 321.1 L391.5 329.0 L395.0 332.1 L397.9 336.2 L400.3 341.8 L404.4 343.5 L409.0 346.2 L414.6 352.1 L417.8 356.9 L420.9 360.1 L425.0 364.1 L431.3 370.5 L436.4 372.1 L441.7 372.9 L445.7 380.0 L446.5 384.0 L451.3 387.7 L458.4 389.9 L461.6 393.6 L466.8 396.1 L470.6 397.8 L475.2 399.9 L480.9 400.8 L486.5 401.4 L491.9 402.0 L496.5 402.7 L501.6 403.4 L506.2 403.9 L507.8 406.3 L513.4 410.3 L514.2 416.3 L517.9 418.6 L522.5 419.8 L526.9 422.2 L534.9 426.2 L542.9 428.9 L548.5 429.7 L553.6 430.1 L558.8 431.0 L563.9 432.3 L568.7 433.2 L573.5 434.3 L578.1 435.1 L582.4 437.2 L587.0 439.8 L590.7 441.6 L596.5 443.4 L601.5 445.6 L608.1 446.7 L614.2 447.7 L616.0 449.7 L620.8 450.2 L625.3 451.3 L629.5 451.9 L631.3 454.2 L636.7 455.9 L641.1 456.3 L645.6 456.3 L650.2 456.6 L654.8 457.1 L659.3 457.3 L663.7 457.6 L668.3 457.8 L671.1 462.2 L675.6 464.0 L682.1 465.0 L688.2 465.8 L689.1 468.1 L695.3 469.5 L700.8 470.5 L704.5 472.6 L709.6 473.3 L715.0 474.8 L719.9 475.7 L725.2 476.6 L729.9 480.4 L732.9 483.3 L737.9 486.7 L742.4 486.9 L747.4 487.4 L752.0 487.8 L756.6 488.0 L761.3 488.5 L764.0 491.1 L771.3 493.4 L776.6 493.9 L782.1 494.0 L787.3 494.3 L792.9 494.7 L798.9 495.8 L804.7 497.0 L807.4 501.5 L810.1 503.7 L815.5 505.5 L817.3 509.7 L823.1 510.4 L828.6 511.0 L834.5 511.5 L838.9 512.5 L843.7 512.9 L848.8 513.8 L853.0 514.9 L857.9 515.4 L862.6 516.0 L867.3 516.2 L872.2 516.6 L876.9 516.9 L881.5 517.3 L886.1 517.6 L890.8 518.2" fill="none" stroke="#ff0000" stroke-width="2.70" stroke-linejoin="round" stroke-linecap="butt"/>
</g>
<rect x="467.5" y="3.0" width="543.3" height="321.5" fill="#fff"/>
<rect x="483" y="17.3" width="48.8" height="291.5" fill="#f2f2f2"/>
<line x1="488" x2="527" y1="41.6" y2="41.6" stroke="#ffa500" stroke-width="2.7"/>
<text transform="translate(552.4,53.5) scale(1,1.04)" font-size="33.7" fill="#000">ICP22 + ICP27 − Dox</text>
<line x1="488" x2="527" y1="90.2" y2="90.2" stroke="#ff0000" stroke-width="2.7"/>
<text transform="translate(552.4,102.1) scale(1,1.04)" font-size="33.7" fill="#000">ICP22 + ICP27 + Dox</text>
<line x1="488" x2="527" y1="138.8" y2="138.8" stroke="#00ffff" stroke-width="2.7"/>
<text transform="translate(552.4,150.7) scale(1,1.04)" font-size="33.7" fill="#000">ICP22 − Dox</text>
<line x1="488" x2="527" y1="187.4" y2="187.4" stroke="#0000ff" stroke-width="2.7"/>
<text transform="translate(552.4,199.3) scale(1,1.04)" font-size="33.7" fill="#000">ICP22 + Dox</text>
<line x1="488" x2="527" y1="236.0" y2="236.0" stroke="#ff00ff" stroke-width="2.7"/>
<text transform="translate(552.4,247.9) scale(1,1.04)" font-size="33.7" fill="#000">ICP27 − Dox</text>
<line x1="488" x2="527" y1="284.6" y2="284.6" stroke="#8b008b" stroke-width="2.7"/>
<text transform="translate(552.4,296.5) scale(1,1.04)" font-size="33.7" fill="#000">ICP27 + Dox</text>
<line x1="219.6" x2="219.6" y1="701.6" y2="709.2" stroke="#333" stroke-width="2.9"/>
<text transform="translate(219.6,740.9) scale(1,1.04)" font-size="33.4" fill="#4d4d4d" text-anchor="middle">0</text>
<line x1="379.4" x2="379.4" y1="701.6" y2="709.2" stroke="#333" stroke-width="2.9"/>
<text transform="translate(379.4,740.9) scale(1,1.04)" font-size="33.4" fill="#4d4d4d" text-anchor="middle">5000</text>
<line x1="539.2" x2="539.2" y1="701.6" y2="709.2" stroke="#333" stroke-width="2.9"/>
<text transform="translate(539.2,740.9) scale(1,1.04)" font-size="33.4" fill="#4d4d4d" text-anchor="middle">10000</text>
<line x1="699.1" x2="699.1" y1="701.6" y2="709.2" stroke="#333" stroke-width="2.9"/>
<text transform="translate(699.1,740.9) scale(1,1.04)" font-size="33.4" fill="#4d4d4d" text-anchor="middle">15000</text>
<line x1="858.9" x2="858.9" y1="701.6" y2="709.2" stroke="#333" stroke-width="2.9"/>
<text transform="translate(858.9,740.9) scale(1,1.04)" font-size="33.4" fill="#4d4d4d" text-anchor="middle">20000</text>
<line x1="180.1" x2="187.7" y1="670.6" y2="670.6" stroke="#333" stroke-width="2.9"/>
<text transform="translate(173.3,682.8) scale(1,1.04)" font-size="34" fill="#4d4d4d" text-anchor="end">0</text>
<line x1="180.1" x2="187.7" y1="464.0" y2="464.0" stroke="#333" stroke-width="2.9"/>
<text transform="translate(173.3,476.2) scale(1,1.04)" font-size="34" fill="#4d4d4d" text-anchor="end">100</text>
<line x1="180.1" x2="187.7" y1="257.3" y2="257.3" stroke="#333" stroke-width="2.9"/>
<text transform="translate(173.3,269.5) scale(1,1.04)" font-size="34" fill="#4d4d4d" text-anchor="end">200</text>
<line x1="180.1" x2="187.7" y1="50.7" y2="50.7" stroke="#333" stroke-width="2.9"/>
<text transform="translate(173.3,62.9) scale(1,1.04)" font-size="34" fill="#4d4d4d" text-anchor="end">300</text>
<text transform="translate(539.2,785.2) scale(1,1.04)" font-size="42.25" fill="#000" text-anchor="middle">minimum dOCR length</text>
<text transform="translate(101,358.3) rotate(-90) scale(1,1.04)" font-size="42.3" fill="#000" text-anchor="middle">number of genes</text>
<text transform="translate(2.7,58.9) scale(1,1.04)" font-size="45" font-weight="bold" fill="#000">a</text>
</g>
<g id="panel-c">
<rect x="1215.0" y="72.3" width="651.4" height="633.6" fill="#ebebeb"/>
<line x1="1369.4" x2="1369.4" y1="72.3" y2="705.9" stroke="#fff" stroke-width="1.3"/>
<line x1="1525.0" x2="1525.0" y1="72.3" y2="705.9" stroke="#fff" stroke-width="1.3"/>
<line x1="1680.6" x2="1680.6" y1="72.3" y2="705.9" stroke="#fff" stroke-width="1.3"/>
<line x1="1836.2" x2="1836.2" y1="72.3" y2="705.9" stroke="#fff" stroke-width="1.3"/>
<line x1="1215.0" x2="1866.4" y1="549.4" y2="549.4" stroke="#fff" stroke-width="1.3"/>
<line x1="1215.0" x2="1866.4" y1="335.7" y2="335.7" stroke="#fff" stroke-width="1.3"/>
<line x1="1215.0" x2="1866.4" y1="122.0" y2="122.0" stroke="#fff" stroke-width="1.3"/>
<line x1="1291.6" x2="1291.6" y1="72.3" y2="705.9" stroke="#fff" stroke-width="2.6"/>
<line x1="1447.2" x2="1447.2" y1="72.3" y2="705.9" stroke="#fff" stroke-width="2.6"/>
<line x1="1602.8" x2="1602.8" y1="72.3" y2="705.9" stroke="#fff" stroke-width="2.6"/>
<line x1="1758.4" x2="1758.4" y1="72.3" y2="705.9" stroke="#fff" stroke-width="2.6"/>
<line x1="1215.0" x2="1866.4" y1="656.2" y2="656.2" stroke="#fff" stroke-width="2.6"/>
<line x1="1215.0" x2="1866.4" y1="442.5" y2="442.5" stroke="#fff" stroke-width="2.6"/>
<line x1="1215.0" x2="1866.4" y1="228.8" y2="228.8" stroke="#fff" stroke-width="2.6"/>
<g class="pt">
<circle cx="1388.8" cy="370.6" r="5.35" fill="#ff7100"/>
<circle cx="1367.8" cy="416.3" r="5.35" fill="#fcff12"/>
<circle cx="1374.7" cy="393.2" r="5.35" fill="#ffb200"/>
<circle cx="1256.6" cy="487.8" r="5.35" fill="#56b3ff"/>
<circle cx="1414.5" cy="361.3" r="5.35" fill="#ffa600"/>
<circle cx="1409.2" cy="206.7" r="5.35" fill="#2afff1"/>
<circle cx="1315.8" cy="386.2" r="5.35" fill="#ffb000"/>
<circle cx="1532.5" cy="231.1" r="5.35" fill="#547bff"/>
<circle cx="1428.4" cy="325.7" r="5.35" fill="#ff1800"/>
<circle cx="1360.3" cy="236.5" r="5.35" fill="#a5ff7c"/>
<circle cx="1340.1" cy="407.9" r="5.35" fill="#ffd600"/>
<circle cx="1535.4" cy="348.3" r="5.35" fill="#43deff"/>
<circle cx="1536.9" cy="437.9" r="5.35" fill="#495cff"/>
<circle cx="1421.6" cy="301.4" r="5.35" fill="#fb0000"/>
<circle cx="1321.8" cy="476.9" r="5.35" fill="#38ffe5"/>
<circle cx="1389.6" cy="435.2" r="5.35" fill="#b4ff71"/>
<circle cx="1395.9" cy="426.5" r="5.35" fill="#c8ff62"/>
<circle cx="1348.0" cy="522.0" r="5.35" fill="#56afff"/>
<circle cx="1394.5" cy="280.4" r="5.35" fill="#ff8400"/>
<circle cx="1341.4" cy="370.3" r="5.35" fill="#ff5a00"/>
<circle cx="1251.1" cy="519.5" r="5.35" fill="#547dff"/>
<circle cx="1329.3" cy="326.1" r="5.35" fill="#f30001"/>
<circle cx="1374.3" cy="303.8" r="5.35" fill="#da0001"/>
<circle cx="1365.7" cy="286.3" r="5.35" fill="#ff5600"/>
<circle cx="1408.9" cy="511.5" r="5.35" fill="#4ccfff"/>
<circle cx="1446.8" cy="440.1" r="5.35" fill="#41ffda"/>
<circle cx="1479.2" cy="417.4" r="5.35" fill="#2fffed"/>
<circle cx="1379.1" cy="324.6" r="5.35" fill="#900001"/>
<circle cx="1336.6" cy="289.8" r="5.35" fill="#ff8600"/>
<circle cx="1424.2" cy="378.0" r="5.35" fill="#efff32"/>
<circle cx="1295.6" cy="271.4" r="5.35" fill="#fffc00"/>
<circle cx="1336.9" cy="319.3" r="5.35" fill="#f20001"/>
<circle cx="1321.2" cy="381.0" r="5.35" fill="#ff9f00"/>
<circle cx="1283.8" cy="221.6" r="5.35" fill="#20fff6"/>
<circle cx="1402.8" cy="404.6" r="5.35" fill="#f6ff25"/>
<circle cx="1330.6" cy="368.4" r="5.35" fill="#ff7700"/>
<circle cx="1363.3" cy="284.3" r="5.35" fill="#ff6100"/>
<circle cx="1314.4" cy="346.2" r="5.35" fill="#ff6800"/>
<circle cx="1433.5" cy="295.9" r="5.35" fill="#ff7c00"/>
<circle cx="1420.6" cy="296.1" r="5.35" fill="#ff3500"/>
<circle cx="1424.3" cy="315.8" r="5.35" fill="#e50001"/>
<circle cx="1345.0" cy="374.3" r="5.35" fill="#ff6400"/>
<circle cx="1382.2" cy="443.9" r="5.35" fill="#8dff89"/>
<circle cx="1441.7" cy="334.2" r="5.35" fill="#ff9700"/>
<circle cx="1253.7" cy="476.9" r="5.35" fill="#45dbff"/>
<circle cx="1477.1" cy="291.0" r="5.35" fill="#bdff6b"/>
<circle cx="1336.0" cy="285.1" r="5.35" fill="#ff9200"/>
<circle cx="1398.9" cy="353.6" r="5.35" fill="#ff3100"/>
<circle cx="1375.0" cy="347.9" r="5.35" fill="#af0002"/>
<circle cx="1446.2" cy="338.9" r="5.35" fill="#ffb700"/>
<circle cx="1438.1" cy="282.7" r="5.35" fill="#ffad00"/>
<circle cx="1359.4" cy="344.2" r="5.35" fill="#900001"/>
<circle cx="1273.2" cy="334.0" r="5.35" fill="#fbff15"/>
<circle cx="1432.0" cy="339.3" r="5.35" fill="#ff8800"/>
<circle cx="1338.3" cy="341.1" r="5.35" fill="#c80002"/>
<circle cx="1327.9" cy="427.5" r="5.35" fill="#d6ff53"/>
<circle cx="1364.1" cy="344.5" r="5.35" fill="#910001"/>
<circle cx="1314.1" cy="297.9" r="5.35" fill="#ff7600"/>
<circle cx="1310.3" cy="313.2" r="5.35" fill="#ff7300"/>
<circle cx="1490.9" cy="398.9" r="5.35" fill="#38ffe5"/>
<circle cx="1427.9" cy="326.7" r="5.35" fill="#ff1c00"/>
<circle cx="1315.1" cy="248.9" r="5.35" fill="#bbff6c"/>
<circle cx="1289.8" cy="380.9" r="5.35" fill="#faff1b"/>
<circle cx="1343.2" cy="311.3" r="5.35" fill="#ff1d00"/>
<circle cx="1423.2" cy="342.4" r="5.35" fill="#ff7700"/>
<circle cx="1261.7" cy="284.1" r="5.35" fill="#7cff91"/>
<circle cx="1259.7" cy="336.3" r="5.35" fill="#89ff8b"/>
<circle cx="1498.7" cy="303.3" r="5.35" fill="#6bff98"/>
<circle cx="1342.6" cy="261.0" r="5.35" fill="#ffcf00"/>
<circle cx="1338.7" cy="324.0" r="5.35" fill="#db0001"/>
<circle cx="1398.8" cy="390.4" r="5.35" fill="#ffd600"/>
<circle cx="1456.8" cy="329.3" r="5.35" fill="#ffc000"/>
<circle cx="1345.6" cy="385.7" r="5.35" fill="#ff9700"/>
<circle cx="1380.3" cy="391.5" r="5.35" fill="#ffb500"/>
<circle cx="1387.5" cy="283.9" r="5.35" fill="#ff6d00"/>
<circle cx="1497.0" cy="509.0" r="5.35" fill="#3d45ff"/>
<circle cx="1489.3" cy="374.3" r="5.35" fill="#4effbe"/>
<circle cx="1395.8" cy="177.0" r="5.35" fill="#57a6ff"/>
<circle cx="1593.8" cy="355.8" r="5.35" fill="#4554ff"/>
<circle cx="1362.0" cy="400.4" r="5.35" fill="#ffc600"/>
<circle cx="1501.9" cy="390.9" r="5.35" fill="#36ffe7"/>
<circle cx="1331.1" cy="256.7" r="5.35" fill="#fffb00"/>
<circle cx="1277.4" cy="391.7" r="5.35" fill="#8bff8a"/>
<circle cx="1428.3" cy="340.9" r="5.35" fill="#ff8300"/>
<circle cx="1288.8" cy="375.8" r="5.35" fill="#fff800"/>
<circle cx="1429.3" cy="295.3" r="5.35" fill="#ff6700"/>
<circle cx="1384.0" cy="381.1" r="5.35" fill="#ff9500"/>
<circle cx="1246.5" cy="526.0" r="5.35" fill="#4f6aff"/>
<circle cx="1396.4" cy="400.7" r="5.35" fill="#ffef00"/>
<circle cx="1338.8" cy="296.3" r="5.35" fill="#ff7300"/>
<circle cx="1244.5" cy="323.4" r="5.35" fill="#3bffe1"/>
<circle cx="1463.3" cy="245.0" r="5.35" fill="#53ffa9"/>
<circle cx="1535.4" cy="493.7" r="5.35" fill="#3d45ff"/>
<circle cx="1337.9" cy="336.8" r="5.35" fill="#c50002"/>
<circle cx="1452.5" cy="323.1" r="5.35" fill="#ffaf00"/>
<circle cx="1399.1" cy="410.9" r="5.35" fill="#edff36"/>
<circle cx="1518.5" cy="320.5" r="5.35" fill="#4effbc"/>
<circle cx="1253.0" cy="303.2" r="5.35" fill="#54ff9f"/>
<circle cx="1324.3" cy="284.5" r="5.35" fill="#ff9c00"/>
<circle cx="1334.5" cy="417.1" r="5.35" fill="#fff000"/>
<circle cx="1460.6" cy="314.6" r="5.35" fill="#ffd100"/>
<circle cx="1357.8" cy="264.6" r="5.35" fill="#ffb800"/>
<circle cx="1256.0" cy="342.8" r="5.35" fill="#53ffa9"/>
<circle cx="1257.6" cy="281.1" r="5.35" fill="#52ffb0"/>
<circle cx="1348.5" cy="368.1" r="5.35" fill="#ff2900"/>
<circle cx="1334.4" cy="417.9" r="5.35" fill="#fff300"/>
<circle cx="1371.0" cy="370.3" r="5.35" fill="#ff3600"/>
<circle cx="1354.1" cy="262.6" r="5.35" fill="#ffbf00"/>
<circle cx="1278.9" cy="469.2" r="5.35" fill="#41ffd9"/>
<circle cx="1346.3" cy="273.0" r="5.35" fill="#ff9d00"/>
<circle cx="1323.1" cy="333.4" r="5.35" fill="#ff1200"/>
<circle cx="1263.3" cy="476.0" r="5.35" fill="#18fffa"/>
<circle cx="1285.0" cy="354.3" r="5.35" fill="#ffcf00"/>
<circle cx="1447.1" cy="413.9" r="5.35" fill="#4fffba"/>
<circle cx="1498.2" cy="138.5" r="5.35" fill="#1b1aff"/>
<circle cx="1274.6" cy="291.5" r="5.35" fill="#f8ff20"/>
<circle cx="1284.0" cy="541.8" r="5.35" fill="#414cff"/>
<circle cx="1365.2" cy="340.8" r="5.35" fill="#8b0000"/>
<circle cx="1382.8" cy="339.3" r="5.35" fill="#a40002"/>
<circle cx="1362.7" cy="342.0" r="5.35" fill="#8b0000"/>
<circle cx="1448.1" cy="370.5" r="5.35" fill="#c0ff68"/>
<circle cx="1479.8" cy="335.7" r="5.35" fill="#efff33"/>
<circle cx="1280.5" cy="421.5" r="5.35" fill="#4cffc4"/>
<circle cx="1247.5" cy="412.3" r="5.35" fill="#48d7ff"/>
<circle cx="1573.7" cy="255.1" r="5.35" fill="#353aff"/>
<circle cx="1383.4" cy="491.9" r="5.35" fill="#2dffef"/>
<circle cx="1398.2" cy="278.0" r="5.35" fill="#ff9100"/>
<circle cx="1432.7" cy="380.1" r="5.35" fill="#b9ff6e"/>
<circle cx="1390.1" cy="233.0" r="5.35" fill="#7bff91"/>
<circle cx="1333.4" cy="213.3" r="5.35" fill="#2fffed"/>
<circle cx="1312.3" cy="276.9" r="5.35" fill="#ffbc00"/>
<circle cx="1336.8" cy="211.6" r="5.35" fill="#29fff2"/>
<circle cx="1300.5" cy="385.1" r="5.35" fill="#ffe400"/>
<circle cx="1394.7" cy="391.0" r="5.35" fill="#ffcf00"/>
<circle cx="1561.2" cy="454.6" r="5.35" fill="#383dff"/>
<circle cx="1433.7" cy="314.3" r="5.35" fill="#ff4500"/>
<circle cx="1376.1" cy="293.8" r="5.35" fill="#ff1400"/>
<circle cx="1431.8" cy="325.7" r="5.35" fill="#ff3f00"/>
<circle cx="1289.5" cy="362.3" r="5.35" fill="#ffce00"/>
<circle cx="1356.7" cy="455.7" r="5.35" fill="#51ffb1"/>
<circle cx="1358.7" cy="360.7" r="5.35" fill="#d10002"/>
<circle cx="1287.3" cy="368.6" r="5.35" fill="#ffe700"/>
<circle cx="1331.1" cy="355.0" r="5.35" fill="#ff4100"/>
<circle cx="1429.5" cy="379.3" r="5.35" fill="#cdff5d"/>
<circle cx="1342.8" cy="514.4" r="5.35" fill="#53bfff"/>
<circle cx="1429.3" cy="343.5" r="5.35" fill="#ff9600"/>
<circle cx="1374.2" cy="383.4" r="5.35" fill="#ff8800"/>
<circle cx="1298.6" cy="319.8" r="5.35" fill="#ff9e00"/>
<circle cx="1298.1" cy="357.1" r="5.35" fill="#ffa800"/>
<circle cx="1365.9" cy="358.4" r="5.35" fill="#cc0002"/>
<circle cx="1261.7" cy="411.0" r="5.35" fill="#3cffe0"/>
<circle cx="1320.8" cy="284.9" r="5.35" fill="#ff9a00"/>
<circle cx="1370.5" cy="200.7" r="5.35" fill="#1ffff7"/>
<circle cx="1477.8" cy="402.8" r="5.35" fill="#46ffd2"/>
<circle cx="1463.8" cy="305.8" r="5.35" fill="#ffea00"/>
<circle cx="1442.5" cy="325.8" r="5.35" fill="#ff8300"/>
<circle cx="1449.9" cy="325.8" r="5.35" fill="#ffa500"/>
<circle cx="1284.9" cy="276.2" r="5.35" fill="#e2ff46"/>
<circle cx="1363.9" cy="256.7" r="5.35" fill="#ffe600"/>
<circle cx="1331.5" cy="381.0" r="5.35" fill="#ff9300"/>
<circle cx="1388.1" cy="460.5" r="5.35" fill="#4fffba"/>
<circle cx="1443.3" cy="466.2" r="5.35" fill="#3fe3ff"/>
<circle cx="1520.9" cy="340.0" r="5.35" fill="#4affc9"/>
<circle cx="1397.5" cy="238.0" r="5.35" fill="#aeff76"/>
<circle cx="1356.3" cy="401.0" r="5.35" fill="#ffc900"/>
<circle cx="1275.2" cy="318.5" r="5.35" fill="#fff700"/>
<circle cx="1399.9" cy="337.6" r="5.35" fill="#de0001"/>
<circle cx="1396.3" cy="324.7" r="5.35" fill="#b90002"/>
<circle cx="1469.2" cy="291.2" r="5.35" fill="#e1ff48"/>
<circle cx="1390.1" cy="248.2" r="5.35" fill="#d7ff53"/>
<circle cx="1463.4" cy="495.2" r="5.35" fill="#568aff"/>
<circle cx="1310.1" cy="353.5" r="5.35" fill="#ff8800"/>
<circle cx="1441.3" cy="268.1" r="5.35" fill="#ffdb00"/>
<circle cx="1386.7" cy="122.7" r="5.35" fill="#1b1aff"/>
<circle cx="1404.3" cy="349.0" r="5.35" fill="#ff3900"/>
<circle cx="1390.4" cy="175.2" r="5.35" fill="#57a9ff"/>
<circle cx="1501.7" cy="348.2" r="5.35" fill="#53ffaa"/>
<circle cx="1368.7" cy="273.9" r="5.35" fill="#ff9900"/>
<circle cx="1517.1" cy="335.8" r="5.35" fill="#51ffb4"/>
<circle cx="1448.5" cy="510.3" r="5.35" fill="#547eff"/>
<circle cx="1401.7" cy="289.9" r="5.35" fill="#ff4700"/>
<circle cx="1367.1" cy="208.1" r="5.35" fill="#34ffe9"/>
<circle cx="1459.4" cy="393.9" r="5.35" fill="#51ffb1"/>
<circle cx="1421.4" cy="223.7" r="5.35" fill="#50ffb7"/>
<circle cx="1430.1" cy="260.1" r="5.35" fill="#ffe200"/>
<circle cx="1500.7" cy="222.2" r="5.35" fill="#54baff"/>
<circle cx="1337.4" cy="415.6" r="5.35" fill="#ffed00"/>
<circle cx="1298.8" cy="555.2" r="5.35" fill="#3d46ff"/>
<circle cx="1381.8" cy="354.1" r="5.35" fill="#dc0001"/>
<circle cx="1410.0" cy="236.4" r="5.35" fill="#adff76"/>
<circle cx="1538.8" cy="277.9" r="5.35" fill="#53bfff"/>
<circle cx="1410.9" cy="521.1" r="5.35" fill="#57a7ff"/>
<circle cx="1366.0" cy="317.7" r="5.35" fill="#b10002"/>
<circle cx="1507.8" cy="319.7" r="5.35" fill="#6eff97"/>
<circle cx="1310.8" cy="466.2" r="5.35" fill="#42ffd8"/>
<circle cx="1351.4" cy="346.9" r="5.35" fill="#a20002"/>
<circle cx="1339.3" cy="253.7" r="5.35" fill="#fff600"/>
<circle cx="1384.0" cy="408.7" r="5.35" fill="#fff300"/>
<circle cx="1267.6" cy="356.5" r="5.35" fill="#c6ff63"/>
<circle cx="1255.2" cy="304.2" r="5.35" fill="#80ff90"/>
<circle cx="1445.3" cy="360.2" r="5.35" fill="#f7ff24"/>
<circle cx="1417.9" cy="190.2" r="5.35" fill="#56b0ff"/>
<circle cx="1366.8" cy="281.5" r="5.35" fill="#ff6f00"/>
<circle cx="1435.3" cy="164.1" r="5.35" fill="#4b60ff"/>
<circle cx="1385.3" cy="389.2" r="5.35" fill="#ffb600"/>
<circle cx="1322.5" cy="401.0" r="5.35" fill="#ffc100"/>
<circle cx="1450.5" cy="216.9" r="5.35" fill="#23fff5"/>
<circle cx="1311.0" cy="331.1" r="5.35" fill="#ff6200"/>
<circle cx="1323.9" cy="397.4" r="5.35" fill="#ffb700"/>
<circle cx="1448.5" cy="215.7" r="5.35" fill="#23fff5"/>
<circle cx="1311.1" cy="405.5" r="5.35" fill="#ffeb00"/>
<circle cx="1377.0" cy="473.3" r="5.35" fill="#46ffd1"/>
<circle cx="1476.8" cy="310.0" r="5.35" fill="#f7ff23"/>
<circle cx="1455.3" cy="260.0" r="5.35" fill="#ceff5c"/>
<circle cx="1293.6" cy="345.0" r="5.35" fill="#ffa200"/>
<circle cx="1262.5" cy="343.0" r="5.35" fill="#a1ff7e"/>
<circle cx="1409.3" cy="410.1" r="5.35" fill="#cfff5b"/>
<circle cx="1465.6" cy="323.4" r="5.35" fill="#ffd800"/>
<circle cx="1330.7" cy="376.5" r="5.35" fill="#ff8a00"/>
<circle cx="1334.7" cy="337.9" r="5.35" fill="#d40002"/>
<circle cx="1415.7" cy="455.6" r="5.35" fill="#47ffcf"/>
<circle cx="1370.4" cy="382.7" r="5.35" fill="#ff7f00"/>
<circle cx="1498.9" cy="328.9" r="5.35" fill="#adff76"/>
<circle cx="1328.8" cy="351.6" r="5.35" fill="#ff3e00"/>
<circle cx="1321.6" cy="366.9" r="5.35" fill="#ff8d00"/>
<circle cx="1348.3" cy="342.6" r="5.35" fill="#a20002"/>
<circle cx="1381.2" cy="334.8" r="5.35" fill="#950001"/>
<circle cx="1508.5" cy="238.6" r="5.35" fill="#42dfff"/>
<circle cx="1255.6" cy="461.0" r="5.35" fill="#2bfff0"/>
<circle cx="1512.4" cy="272.7" r="5.35" fill="#37ffe6"/>
<circle cx="1624.7" cy="199.3" r="5.35" fill="#2626ff"/>
<circle cx="1345.8" cy="284.7" r="5.35" fill="#ff7e00"/>
<circle cx="1356.3" cy="400.2" r="5.35" fill="#ffc600"/>
<circle cx="1382.2" cy="335.9" r="5.35" fill="#9a0001"/>
<circle cx="1304.3" cy="289.6" r="5.35" fill="#ff9600"/>
<circle cx="1370.0" cy="412.2" r="5.35" fill="#fff300"/>
<circle cx="1295.3" cy="308.6" r="5.35" fill="#ffa600"/>
<circle cx="1430.1" cy="360.7" r="5.35" fill="#ffe600"/>
<circle cx="1466.2" cy="454.2" r="5.35" fill="#4eccff"/>
<circle cx="1461.9" cy="317.7" r="5.35" fill="#ffd100"/>
<circle cx="1316.1" cy="274.8" r="5.35" fill="#ffc200"/>
<circle cx="1252.8" cy="303.0" r="5.35" fill="#54ffa0"/>
<circle cx="1416.4" cy="409.1" r="5.35" fill="#afff75"/>
<circle cx="1311.2" cy="242.8" r="5.35" fill="#90ff87"/>
<circle cx="1408.8" cy="313.5" r="5.35" fill="#c80002"/>
<circle cx="1325.5" cy="311.6" r="5.35" fill="#ff5600"/>
<circle cx="1261.1" cy="382.0" r="5.35" fill="#53ffaa"/>
<circle cx="1257.3" cy="333.9" r="5.35" fill="#69ff99"/>
<circle cx="1358.4" cy="391.3" r="5.35" fill="#ffa300"/>
<circle cx="1320.2" cy="269.0" r="5.35" fill="#ffd800"/>
<circle cx="1424.7" cy="262.6" r="5.35" fill="#ffd400"/>
<circle cx="1332.8" cy="403.2" r="5.35" fill="#ffc300"/>
<circle cx="1316.9" cy="409.1" r="5.35" fill="#ffe500"/>
<circle cx="1331.1" cy="406.5" r="5.35" fill="#ffcb00"/>
<circle cx="1418.0" cy="250.6" r="5.35" fill="#fbff17"/>
<circle cx="1427.1" cy="345.0" r="5.35" fill="#ff9500"/>
<circle cx="1278.2" cy="299.6" r="5.35" fill="#ffe900"/>
<circle cx="1473.9" cy="292.1" r="5.35" fill="#cfff5b"/>
<circle cx="1311.0" cy="290.9" r="5.35" fill="#ff8700"/>
<circle cx="1405.3" cy="316.6" r="5.35" fill="#c50002"/>
<circle cx="1352.3" cy="475.9" r="5.35" fill="#47ffcf"/>
<circle cx="1410.5" cy="374.2" r="5.35" fill="#ffc700"/>
<circle cx="1357.8" cy="304.1" r="5.35" fill="#fc0000"/>
<circle cx="1396.2" cy="378.9" r="5.35" fill="#ffaa00"/>
<circle cx="1259.9" cy="271.4" r="5.35" fill="#4affc8"/>
<circle cx="1407.6" cy="479.3" r="5.35" fill="#23fff5"/>
<circle cx="1365.9" cy="227.8" r="5.35" fill="#53ffa8"/>
<circle cx="1284.9" cy="464.6" r="5.35" fill="#47ffd0"/>
<circle cx="1479.3" cy="299.0" r="5.35" fill="#ceff5b"/>
<circle cx="1345.2" cy="371.8" r="5.35" fill="#ff5500"/>
<circle cx="1393.1" cy="448.7" r="5.35" fill="#5bff9d"/>
<circle cx="1338.7" cy="459.0" r="5.35" fill="#4effbf"/>
<circle cx="1442.5" cy="342.6" r="5.35" fill="#ffbb00"/>
<circle cx="1332.7" cy="422.8" r="5.35" fill="#f4ff29"/>
<circle cx="1354.5" cy="356.8" r="5.35" fill="#c20002"/>
<circle cx="1423.8" cy="247.2" r="5.35" fill="#e4ff43"/>
<circle cx="1244.0" cy="551.6" r="5.35" fill="#353aff"/>
<circle cx="1376.1" cy="283.8" r="5.35" fill="#ff6800"/>
<circle cx="1438.2" cy="275.3" r="5.35" fill="#ffbe00"/>
<circle cx="1260.0" cy="256.7" r="5.35" fill="#2cffef"/>
<circle cx="1346.4" cy="351.4" r="5.35" fill="#c00002"/>
<circle cx="1331.9" cy="459.8" r="5.35" fill="#4bffc7"/>
<circle cx="1414.9" cy="356.4" r="5.35" fill="#ff9400"/>
<circle cx="1528.2" cy="273.5" r="5.35" fill="#2df1ff"/>
<circle cx="1290.4" cy="472.9" r="5.35" fill="#3dffdf"/>
<circle cx="1415.9" cy="264.4" r="5.35" fill="#ffce00"/>
<circle cx="1383.7" cy="335.4" r="5.35" fill="#9d0002"/>
<circle cx="1252.5" cy="327.1" r="5.35" fill="#52ffaf"/>
<circle cx="1495.9" cy="236.8" r="5.35" fill="#21fff6"/>
<circle cx="1277.7" cy="456.0" r="5.35" fill="#4affc8"/>
<circle cx="1328.8" cy="315.7" r="5.35" fill="#ff3d00"/>
<circle cx="1259.4" cy="296.0" r="5.35" fill="#a3ff7d"/>
<circle cx="1414.3" cy="338.9" r="5.35" fill="#ff3900"/>
<circle cx="1377.3" cy="512.6" r="5.35" fill="#4ad4ff"/>
<circle cx="1304.7" cy="279.8" r="5.35" fill="#ffbc00"/>
<circle cx="1507.8" cy="522.6" r="5.35" fill="#3d46ff"/>
<circle cx="1447.5" cy="359.1" r="5.35" fill="#f9ff1e"/>
<circle cx="1302.3" cy="335.2" r="5.35" fill="#ff8200"/>
<circle cx="1356.1" cy="192.9" r="5.35" fill="#4eccff"/>
<circle cx="1395.4" cy="327.8" r="5.35" fill="#ba0002"/>
<circle cx="1277.0" cy="369.4" r="5.35" fill="#eaff3b"/>
<circle cx="1286.3" cy="309.0" r="5.35" fill="#ffca00"/>
<circle cx="1286.7" cy="454.5" r="5.35" fill="#4bffc6"/>
<circle cx="1435.5" cy="317.0" r="5.35" fill="#ff5200"/>
<circle cx="1367.7" cy="405.7" r="5.35" fill="#ffdb00"/>
<circle cx="1375.9" cy="329.0" r="5.35" fill="#8b0000"/>
<circle cx="1465.7" cy="258.5" r="5.35" fill="#97ff84"/>
<circle cx="1556.3" cy="294.7" r="5.35" fill="#5685ff"/>
<circle cx="1344.0" cy="351.3" r="5.35" fill="#ca0002"/>
<circle cx="1329.9" cy="473.2" r="5.35" fill="#42ffd8"/>
<circle cx="1438.6" cy="321.7" r="5.35" fill="#ff6800"/>
<circle cx="1290.7" cy="372.0" r="5.35" fill="#ffe600"/>
<circle cx="1350.3" cy="286.3" r="5.35" fill="#ff6e00"/>
<circle cx="1487.0" cy="287.3" r="5.35" fill="#76ff94"/>
<circle cx="1269.6" cy="470.1" r="5.35" fill="#3affe2"/>
<circle cx="1481.9" cy="217.0" r="5.35" fill="#4fcaff"/>
<circle cx="1328.4" cy="284.0" r="5.35" fill="#ff9d00"/>
<circle cx="1367.2" cy="261.4" r="5.35" fill="#ffd600"/>
<circle cx="1361.0" cy="227.9" r="5.35" fill="#53ffa6"/>
<circle cx="1458.0" cy="383.8" r="5.35" fill="#5cff9d"/>
<circle cx="1272.0" cy="225.6" r="5.35" fill="#23f6ff"/>
<circle cx="1345.2" cy="278.5" r="5.35" fill="#ff8f00"/>
<circle cx="1506.5" cy="267.4" r="5.35" fill="#3fffdd"/>
<circle cx="1363.7" cy="267.1" r="5.35" fill="#ffb500"/>
<circle cx="1334.6" cy="258.6" r="5.35" fill="#ffeb00"/>
<circle cx="1330.2" cy="245.3" r="5.35" fill="#bcff6b"/>
<circle cx="1466.4" cy="372.9" r="5.35" fill="#90ff88"/>
<circle cx="1369.8" cy="198.8" r="5.35" fill="#15fffb"/>
<circle cx="1286.5" cy="395.4" r="5.35" fill="#afff75"/>
<circle cx="1332.0" cy="367.8" r="5.35" fill="#ff7000"/>
<circle cx="1269.2" cy="217.3" r="5.35" fill="#51c5ff"/>
<circle cx="1350.3" cy="437.7" r="5.35" fill="#7dff91"/>
<circle cx="1417.2" cy="350.4" r="5.35" fill="#ff8500"/>
<circle cx="1414.5" cy="295.8" r="5.35" fill="#ff1500"/>
<circle cx="1295.5" cy="291.2" r="5.35" fill="#ffb000"/>
<circle cx="1272.8" cy="266.3" r="5.35" fill="#53ffaa"/>
<circle cx="1344.9" cy="242.6" r="5.35" fill="#d1ff59"/>
<circle cx="1363.5" cy="250.2" r="5.35" fill="#faff1b"/>
<circle cx="1493.7" cy="361.9" r="5.35" fill="#50ffb5"/>
<circle cx="1345.4" cy="307.6" r="5.35" fill="#ff3500"/>
<circle cx="1307.7" cy="339.4" r="5.35" fill="#ff6f00"/>
<circle cx="1394.3" cy="172.4" r="5.35" fill="#5897ff"/>
<circle cx="1429.2" cy="326.7" r="5.35" fill="#ff2c00"/>
<circle cx="1391.9" cy="218.6" r="5.35" fill="#4cffc3"/>
<circle cx="1347.6" cy="374.0" r="5.35" fill="#ff5c00"/>
<circle cx="1341.0" cy="410.3" r="5.35" fill="#ffdf00"/>
<circle cx="1321.0" cy="420.2" r="5.35" fill="#f8ff20"/>
<circle cx="1390.1" cy="175.6" r="5.35" fill="#57abff"/>
<circle cx="1356.3" cy="282.3" r="5.35" fill="#ff6f00"/>
<circle cx="1418.4" cy="366.1" r="5.35" fill="#ffca00"/>
<circle cx="1342.0" cy="224.6" r="5.35" fill="#4effbe"/>
<circle cx="1320.4" cy="377.6" r="5.35" fill="#ff9c00"/>
<circle cx="1369.3" cy="301.4" r="5.35" fill="#eb0001"/>
<circle cx="1359.9" cy="638.8" r="5.35" fill="#3134ff"/>
<circle cx="1300.3" cy="290.9" r="5.35" fill="#ff9f00"/>
<circle cx="1388.8" cy="273.8" r="5.35" fill="#ffa800"/>
<circle cx="1400.7" cy="295.0" r="5.35" fill="#fd0000"/>
<circle cx="1261.6" cy="325.3" r="5.35" fill="#b2ff73"/>
<circle cx="1279.1" cy="300.2" r="5.35" fill="#ffe500"/>
<circle cx="1318.6" cy="387.6" r="5.35" fill="#ffac00"/>
<circle cx="1355.7" cy="299.7" r="5.35" fill="#ff3400"/>
<circle cx="1527.8" cy="286.5" r="5.35" fill="#25f5ff"/>
<circle cx="1339.6" cy="444.6" r="5.35" fill="#53ffa7"/>
<circle cx="1363.6" cy="411.3" r="5.35" fill="#fff000"/>
<circle cx="1353.5" cy="359.5" r="5.35" fill="#d10002"/>
<circle cx="1346.0" cy="254.3" r="5.35" fill="#ffe700"/>
<circle cx="1283.9" cy="325.7" r="5.35" fill="#ffd700"/>
<circle cx="1387.6" cy="504.3" r="5.35" fill="#10fcff"/>
<circle cx="1398.2" cy="559.7" r="5.35" fill="#4351ff"/>
<circle cx="1355.4" cy="486.7" r="5.35" fill="#36ffe7"/>
<circle cx="1632.4" cy="308.7" r="5.35" fill="#1f1eff"/>
<circle cx="1426.5" cy="284.0" r="5.35" fill="#ff8900"/>
<circle cx="1494.3" cy="273.1" r="5.35" fill="#4fffbc"/>
<circle cx="1458.2" cy="483.8" r="5.35" fill="#57adff"/>
<circle cx="1392.9" cy="442.9" r="5.35" fill="#8aff8b"/>
<circle cx="1283.8" cy="436.7" r="5.35" fill="#4cffc3"/>
<circle cx="1323.2" cy="212.2" r="5.35" fill="#1afff9"/>
<circle cx="1320.7" cy="331.2" r="5.35" fill="#ff2e00"/>
<circle cx="1465.9" cy="220.3" r="5.35" fill="#08fffe"/>
<circle cx="1465.5" cy="354.1" r="5.35" fill="#ebff3a"/>
<circle cx="1368.4" cy="235.3" r="5.35" fill="#8aff8b"/>
<circle cx="1344.9" cy="304.4" r="5.35" fill="#ff4900"/>
<circle cx="1344.7" cy="305.9" r="5.35" fill="#ff4200"/>
<circle cx="1395.0" cy="315.9" r="5.35" fill="#b70002"/>
<circle cx="1339.6" cy="382.4" r="5.35" fill="#ff9000"/>
<circle cx="1390.7" cy="330.8" r="5.35" fill="#ad0002"/>
<circle cx="1344.0" cy="270.0" r="5.35" fill="#ffab00"/>
<circle cx="1381.5" cy="324.5" r="5.35" fill="#930001"/>
<circle cx="1280.8" cy="369.3" r="5.35" fill="#fdff0b"/>
<circle cx="1393.4" cy="260.6" r="5.35" fill="#ffe800"/>
<circle cx="1364.2" cy="343.0" r="5.35" fill="#8d0000"/>
<circle cx="1387.9" cy="382.5" r="5.35" fill="#ffa400"/>
<circle cx="1399.6" cy="407.6" r="5.35" fill="#f6ff25"/>
<circle cx="1390.8" cy="356.3" r="5.35" fill="#fe0000"/>
<circle cx="1394.0" cy="316.9" r="5.35" fill="#b40002"/>
<circle cx="1353.2" cy="265.2" r="5.35" fill="#ffb400"/>
<circle cx="1435.9" cy="312.8" r="5.35" fill="#ff5b00"/>
<circle cx="1303.3" cy="228.7" r="5.35" fill="#4bffc6"/>
<circle cx="1386.7" cy="291.4" r="5.35" fill="#ff3500"/>
<circle cx="1415.0" cy="356.2" r="5.35" fill="#ff9400"/>
<circle cx="1358.8" cy="331.5" r="5.35" fill="#8e0000"/>
<circle cx="1428.8" cy="322.6" r="5.35" fill="#fe0000"/>
<circle cx="1522.9" cy="334.3" r="5.35" fill="#4affc8"/>
<circle cx="1342.5" cy="475.4" r="5.35" fill="#46ffd0"/>
<circle cx="1372.2" cy="273.8" r="5.35" fill="#ff9e00"/>
<circle cx="1434.7" cy="278.4" r="5.35" fill="#ffad00"/>
<circle cx="1372.1" cy="411.4" r="5.35" fill="#fff100"/>
<circle cx="1338.4" cy="328.7" r="5.35" fill="#cd0002"/>
<circle cx="1312.1" cy="238.2" r="5.35" fill="#63ff9b"/>
<circle cx="1429.8" cy="335.6" r="5.35" fill="#ff6a00"/>
<circle cx="1473.4" cy="441.0" r="5.35" fill="#48d6ff"/>
<circle cx="1275.2" cy="456.5" r="5.35" fill="#4affca"/>
<circle cx="1396.5" cy="268.4" r="5.35" fill="#ffc200"/>
<circle cx="1246.1" cy="497.9" r="5.35" fill="#5378ff"/>
<circle cx="1530.2" cy="288.6" r="5.35" fill="#39e8ff"/>
<circle cx="1484.2" cy="377.1" r="5.35" fill="#50ffb7"/>
<circle cx="1371.6" cy="360.5" r="5.35" fill="#e10001"/>
<circle cx="1365.6" cy="437.3" r="5.35" fill="#98ff83"/>
<circle cx="1293.3" cy="495.2" r="5.35" fill="#50c6ff"/>
<circle cx="1367.7" cy="261.0" r="5.35" fill="#ffd900"/>
<circle cx="1283.3" cy="404.4" r="5.35" fill="#62ff9b"/>
<circle cx="1448.7" cy="290.4" r="5.35" fill="#ffcc00"/>
<circle cx="1407.4" cy="348.0" r="5.35" fill="#ff4800"/>
<circle cx="1276.8" cy="226.9" r="5.35" fill="#23fff5"/>
<circle cx="1398.1" cy="304.6" r="5.35" fill="#d30002"/>
<circle cx="1295.7" cy="265.6" r="5.35" fill="#e7ff3f"/>
<circle cx="1399.0" cy="366.5" r="5.35" fill="#ff7c00"/>
<circle cx="1454.4" cy="314.5" r="5.35" fill="#ffbd00"/>
<circle cx="1520.6" cy="216.1" r="5.35" fill="#5686ff"/>
<circle cx="1273.6" cy="365.2" r="5.35" fill="#e3ff45"/>
<circle cx="1469.0" cy="339.2" r="5.35" fill="#fff300"/>
<circle cx="1355.1" cy="332.3" r="5.35" fill="#930001"/>
<circle cx="1352.3" cy="348.6" r="5.35" fill="#a50002"/>
<circle cx="1388.0" cy="369.4" r="5.35" fill="#ff6900"/>
<circle cx="1286.2" cy="277.8" r="5.35" fill="#f3ff2c"/>
<circle cx="1455.9" cy="357.4" r="5.35" fill="#f4ff2a"/>
<circle cx="1505.7" cy="373.9" r="5.35" fill="#3cffe0"/>
<circle cx="1320.5" cy="390.0" r="5.35" fill="#ffac00"/>
<circle cx="1318.2" cy="396.9" r="5.35" fill="#ffbe00"/>
<circle cx="1288.7" cy="213.2" r="5.35" fill="#41e0ff"/>
<circle cx="1343.4" cy="342.6" r="5.35" fill="#b40002"/>
<circle cx="1362.1" cy="356.2" r="5.35" fill="#bd0002"/>
<circle cx="1292.5" cy="366.1" r="5.35" fill="#ffcf00"/>
<circle cx="1469.3" cy="268.8" r="5.35" fill="#a9ff79"/>
<circle cx="1373.2" cy="188.1" r="5.35" fill="#3ce6ff"/>
<circle cx="1304.6" cy="274.7" r="5.35" fill="#ffd300"/>
<circle cx="1383.7" cy="386.7" r="5.35" fill="#ffaa00"/>
<circle cx="1412.9" cy="333.1" r="5.35" fill="#f50000"/>
<circle cx="1331.6" cy="401.9" r="5.35" fill="#ffc000"/>
<circle cx="1296.7" cy="351.2" r="5.35" fill="#ff9f00"/>
<circle cx="1441.2" cy="356.5" r="5.35" fill="#fff200"/>
<circle cx="1416.1" cy="290.2" r="5.35" fill="#ff5300"/>
<circle cx="1458.3" cy="335.4" r="5.35" fill="#ffce00"/>
<circle cx="1308.1" cy="304.3" r="5.35" fill="#ff7800"/>
<circle cx="1448.6" cy="353.5" r="5.35" fill="#fff200"/>
<circle cx="1404.9" cy="394.1" r="5.35" fill="#fff100"/>
<circle cx="1422.0" cy="282.8" r="5.35" fill="#ff8500"/>
<circle cx="1378.2" cy="337.8" r="5.35" fill="#940001"/>
<circle cx="1503.0" cy="387.4" r="5.35" fill="#39ffe4"/>
<circle cx="1310.3" cy="294.9" r="5.35" fill="#ff7d00"/>
<circle cx="1242.1" cy="509.6" r="5.35" fill="#4d66ff"/>
<circle cx="1395.9" cy="202.1" r="5.35" fill="#16fffa"/>
<circle cx="1305.5" cy="257.4" r="5.35" fill="#e1ff48"/>
<circle cx="1278.7" cy="355.0" r="5.35" fill="#ffed00"/>
<circle cx="1307.9" cy="314.8" r="5.35" fill="#ff7a00"/>
<circle cx="1346.3" cy="399.2" r="5.35" fill="#ffc300"/>
<circle cx="1441.4" cy="333.8" r="5.35" fill="#ff9400"/>
<circle cx="1414.6" cy="308.1" r="5.35" fill="#d40002"/>
<circle cx="1327.6" cy="246.2" r="5.35" fill="#bbff6c"/>
<circle cx="1433.9" cy="251.6" r="5.35" fill="#ecff38"/>
<circle cx="1502.7" cy="291.5" r="5.35" fill="#4effbd"/>
<circle cx="1355.4" cy="332.0" r="5.35" fill="#930001"/>
<circle cx="1323.5" cy="383.8" r="5.35" fill="#ff9f00"/>
<circle cx="1439.4" cy="287.2" r="5.35" fill="#ffaa00"/>
<circle cx="1490.6" cy="404.3" r="5.35" fill="#2dffee"/>
<circle cx="1482.1" cy="323.9" r="5.35" fill="#f2ff2d"/>
<circle cx="1434.0" cy="433.3" r="5.35" fill="#51ffb5"/>
<circle cx="1409.2" cy="402.3" r="5.35" fill="#e6ff41"/>
<circle cx="1404.1" cy="330.1" r="5.35" fill="#d80001"/>
<circle cx="1562.2" cy="362.1" r="5.35" fill="#4553ff"/>
<circle cx="1377.8" cy="426.2" r="5.35" fill="#d6ff53"/>
<circle cx="1477.3" cy="349.9" r="5.35" fill="#cfff5b"/>
<circle cx="1456.2" cy="347.9" r="5.35" fill="#ffea00"/>
<circle cx="1303.5" cy="460.7" r="5.35" fill="#46ffd0"/>
<circle cx="1358.4" cy="517.2" r="5.35" fill="#53bfff"/>
<circle cx="1356.5" cy="430.7" r="5.35" fill="#aeff76"/>
<circle cx="1309.3" cy="365.5" r="5.35" fill="#ffa600"/>
<circle cx="1463.5" cy="257.9" r="5.35" fill="#9eff80"/>
<circle cx="1299.9" cy="341.3" r="5.35" fill="#ff8a00"/>
<circle cx="1533.5" cy="375.9" r="5.35" fill="#57a4ff"/>
<circle cx="1320.0" cy="399.8" r="5.35" fill="#ffc200"/>
<circle cx="1423.2" cy="363.3" r="5.35" fill="#ffd400"/>
<circle cx="1473.1" cy="247.2" r="5.35" fill="#51ffb1"/>
<circle cx="1412.0" cy="415.4" r="5.35" fill="#b6ff70"/>
<circle cx="1290.4" cy="440.9" r="5.35" fill="#4effbd"/>
<circle cx="1453.6" cy="384.8" r="5.35" fill="#5aff9d"/>
<circle cx="1329.4" cy="266.9" r="5.35" fill="#ffd500"/>
<circle cx="1307.6" cy="370.3" r="5.35" fill="#ffb200"/>
<circle cx="1463.3" cy="530.0" r="5.35" fill="#3b42ff"/>
<circle cx="1254.2" cy="392.1" r="5.35" fill="#3fffdc"/>
<circle cx="1352.9" cy="382.1" r="5.35" fill="#ff7e00"/>
<circle cx="1393.1" cy="409.7" r="5.35" fill="#fdff0d"/>
<circle cx="1436.3" cy="324.1" r="5.35" fill="#ff5b00"/>
<circle cx="1392.3" cy="447.1" r="5.35" fill="#6dff97"/>
<circle cx="1468.5" cy="226.6" r="5.35" fill="#30ffec"/>
<circle cx="1454.0" cy="317.0" r="5.35" fill="#ffb800"/>
<circle cx="1461.0" cy="309.4" r="5.35" fill="#ffdb00"/>
<circle cx="1462.3" cy="330.6" r="5.35" fill="#ffd200"/>
<circle cx="1245.8" cy="361.9" r="5.35" fill="#34ffe9"/>
<circle cx="1422.7" cy="253.2" r="5.35" fill="#fff900"/>
<circle cx="1318.0" cy="264.5" r="5.35" fill="#ffee00"/>
<circle cx="1313.6" cy="235.0" r="5.35" fill="#53ffa8"/>
<circle cx="1405.7" cy="420.2" r="5.35" fill="#c2ff67"/>
<circle cx="1474.7" cy="406.1" r="5.35" fill="#46ffd0"/>
<circle cx="1404.2" cy="350.5" r="5.35" fill="#ff4100"/>
<circle cx="1406.4" cy="259.3" r="5.35" fill="#ffe600"/>
<circle cx="1333.7" cy="389.0" r="5.35" fill="#ffa400"/>
<circle cx="1258.8" cy="253.9" r="5.35" fill="#19fff9"/>
<circle cx="1389.4" cy="560.7" r="5.35" fill="#3f49ff"/>
<circle cx="1423.0" cy="303.0" r="5.35" fill="#fa0000"/>
<circle cx="1246.0" cy="475.6" r="5.35" fill="#56b2ff"/>
<circle cx="1328.4" cy="380.1" r="5.35" fill="#ff9400"/>
<circle cx="1523.9" cy="262.5" r="5.35" fill="#2ef1ff"/>
<circle cx="1474.0" cy="370.7" r="5.35" fill="#7bff91"/>
<circle cx="1311.6" cy="440.9" r="5.35" fill="#53ffa9"/>
<circle cx="1385.6" cy="313.1" r="5.35" fill="#b00002"/>
<circle cx="1278.8" cy="369.7" r="5.35" fill="#f2ff2e"/>
<circle cx="1291.3" cy="431.1" r="5.35" fill="#51ffb4"/>
<circle cx="1456.5" cy="346.0" r="5.35" fill="#ffe500"/>
<circle cx="1325.2" cy="381.1" r="5.35" fill="#ff9900"/>
<circle cx="1470.2" cy="183.9" r="5.35" fill="#5171ff"/>
<circle cx="1368.9" cy="526.8" r="5.35" fill="#5796ff"/>
<circle cx="1332.4" cy="299.7" r="5.35" fill="#ff7300"/>
<circle cx="1436.2" cy="332.1" r="5.35" fill="#ff7600"/>
<circle cx="1308.8" cy="326.7" r="5.35" fill="#ff6f00"/>
<circle cx="1263.7" cy="373.1" r="5.35" fill="#84ff8e"/>
<circle cx="1414.8" cy="331.5" r="5.35" fill="#f20001"/>
<circle cx="1369.4" cy="331.3" r="5.35" fill="#8b0000"/>
<circle cx="1306.8" cy="402.2" r="5.35" fill="#fff100"/>
<circle cx="1457.8" cy="444.1" r="5.35" fill="#1efff7"/>
<circle cx="1345.4" cy="274.2" r="5.35" fill="#ff9b00"/>
<circle cx="1412.2" cy="237.6" r="5.35" fill="#b4ff72"/>
<circle cx="1259.7" cy="228.2" r="5.35" fill="#54bbff"/>
<circle cx="1281.8" cy="304.9" r="5.35" fill="#ffda00"/>
<circle cx="1307.4" cy="342.7" r="5.35" fill="#ff7300"/>
<circle cx="1480.5" cy="322.0" r="5.35" fill="#f8ff1f"/>
<circle cx="1482.3" cy="365.1" r="5.35" fill="#65ff9a"/>
<circle cx="1391.2" cy="376.3" r="5.35" fill="#ff9300"/>
<circle cx="1385.2" cy="465.2" r="5.35" fill="#4cffc3"/>
<circle cx="1353.8" cy="235.4" r="5.35" fill="#9fff7f"/>
<circle cx="1366.2" cy="306.1" r="5.35" fill="#e10001"/>
<circle cx="1319.9" cy="374.7" r="5.35" fill="#ff9a00"/>
<circle cx="1280.9" cy="236.3" r="5.35" fill="#46ffd0"/>
<circle cx="1283.8" cy="342.1" r="5.35" fill="#ffcd00"/>
<circle cx="1312.5" cy="435.7" r="5.35" fill="#72ff95"/>
<circle cx="1361.8" cy="345.8" r="5.35" fill="#940001"/>
<circle cx="1380.8" cy="457.4" r="5.35" fill="#52ffaf"/>
<circle cx="1358.4" cy="351.0" r="5.35" fill="#a60002"/>
<circle cx="1292.3" cy="419.9" r="5.35" fill="#54ffa1"/>
<circle cx="1369.9" cy="365.7" r="5.35" fill="#f70000"/>
<circle cx="1347.0" cy="293.2" r="5.35" fill="#ff6700"/>
<circle cx="1359.0" cy="352.2" r="5.35" fill="#aa0002"/>
<circle cx="1379.7" cy="314.7" r="5.35" fill="#aa0002"/>
<circle cx="1265.4" cy="403.2" r="5.35" fill="#4affc8"/>
<circle cx="1316.6" cy="266.6" r="5.35" fill="#ffe600"/>
<circle cx="1324.7" cy="240.6" r="5.35" fill="#88ff8c"/>
<circle cx="1446.4" cy="243.7" r="5.35" fill="#7eff90"/>
<circle cx="1463.8" cy="372.5" r="5.35" fill="#9aff82"/>
<circle cx="1368.0" cy="384.7" r="5.35" fill="#ff8500"/>
<circle cx="1246.0" cy="466.2" r="5.35" fill="#4eccff"/>
<circle cx="1356.1" cy="338.6" r="5.35" fill="#8c0000"/>
<circle cx="1401.2" cy="218.1" r="5.35" fill="#4cffc4"/>
<circle cx="1334.4" cy="265.8" r="5.35" fill="#ffce00"/>
<circle cx="1259.6" cy="267.8" r="5.35" fill="#44ffd5"/>
<circle cx="1377.8" cy="435.5" r="5.35" fill="#b4ff72"/>
<circle cx="1467.0" cy="238.9" r="5.35" fill="#4dffc2"/>
<circle cx="1249.2" cy="373.0" r="5.35" fill="#41ffd9"/>
<circle cx="1298.1" cy="495.3" r="5.35" fill="#4fc9ff"/>
<circle cx="1412.3" cy="249.8" r="5.35" fill="#f6ff25"/>
<circle cx="1420.9" cy="274.8" r="5.35" fill="#ffa600"/>
<circle cx="1435.0" cy="530.5" r="5.35" fill="#4c63ff"/>
<circle cx="1265.0" cy="384.3" r="5.35" fill="#55ff9f"/>
<circle cx="1517.1" cy="321.0" r="5.35" fill="#50ffb6"/>
<circle cx="1481.1" cy="356.7" r="5.35" fill="#9fff7f"/>
<circle cx="1370.8" cy="500.6" r="5.35" fill="#05feff"/>
<circle cx="1439.1" cy="358.6" r="5.35" fill="#fff600"/>
<circle cx="1274.5" cy="326.0" r="5.35" fill="#fffc00"/>
<circle cx="1456.9" cy="260.4" r="5.35" fill="#c9ff61"/>
<circle cx="1425.5" cy="594.1" r="5.35" fill="#2d2fff"/>
<circle cx="1335.0" cy="374.3" r="5.35" fill="#ff7c00"/>
<circle cx="1403.6" cy="503.5" r="5.35" fill="#28f4ff"/>
<circle cx="1353.3" cy="485.5" r="5.35" fill="#39ffe4"/>
<circle cx="1452.9" cy="392.3" r="5.35" fill="#52ffad"/>
<circle cx="1429.4" cy="241.5" r="5.35" fill="#b2ff73"/>
<circle cx="1394.6" cy="363.1" r="5.35" fill="#ff5b00"/>
<circle cx="1250.1" cy="319.4" r="5.35" fill="#50ffb8"/>
<circle cx="1418.9" cy="473.6" r="5.35" fill="#05feff"/>
<circle cx="1430.7" cy="302.3" r="5.35" fill="#ff5400"/>
<circle cx="1307.2" cy="293.8" r="5.35" fill="#ff8400"/>
<circle cx="1260.9" cy="283.1" r="5.35" fill="#69ff99"/>
<circle cx="1439.9" cy="234.9" r="5.35" fill="#53ffaa"/>
<circle cx="1305.4" cy="397.0" r="5.35" fill="#ffe900"/>
<circle cx="1349.7" cy="288.9" r="5.35" fill="#ff6900"/>
<circle cx="1386.2" cy="460.8" r="5.35" fill="#4fffba"/>
<circle cx="1384.9" cy="247.7" r="5.35" fill="#ceff5c"/>
<circle cx="1345.4" cy="335.5" r="5.35" fill="#a90002"/>
<circle cx="1393.2" cy="317.5" r="5.35" fill="#b20002"/>
<circle cx="1411.0" cy="503.3" r="5.35" fill="#41e1ff"/>
<circle cx="1298.6" cy="401.2" r="5.35" fill="#e5ff42"/>
<circle cx="1307.8" cy="356.4" r="5.35" fill="#ff9400"/>
<circle cx="1260.3" cy="212.2" r="5.35" fill="#5793ff"/>
<circle cx="1444.5" cy="366.5" r="5.35" fill="#daff50"/>
<circle cx="1464.4" cy="247.7" r="5.35" fill="#54ffa1"/>
<circle cx="1349.4" cy="554.4" r="5.35" fill="#3f49ff"/>
<circle cx="1434.5" cy="321.7" r="5.35" fill="#ff4900"/>
<circle cx="1298.4" cy="267.0" r="5.35" fill="#faff1b"/>
<circle cx="1452.2" cy="214.0" r="5.35" fill="#05fffe"/>
<circle cx="1256.3" cy="306.1" r="5.35" fill="#8fff88"/>
<circle cx="1420.8" cy="232.7" r="5.35" fill="#7eff90"/>
<circle cx="1389.6" cy="323.8" r="5.35" fill="#a50002"/>
<circle cx="1286.9" cy="417.7" r="5.35" fill="#52ffae"/>
<circle cx="1364.3" cy="329.9" r="5.35" fill="#8b0000"/>
<circle cx="1456.8" cy="295.0" r="5.35" fill="#ffe600"/>
<circle cx="1408.8" cy="334.8" r="5.35" fill="#f10001"/>
<circle cx="1309.4" cy="383.5" r="5.35" fill="#ffbf00"/>
<circle cx="1320.4" cy="219.9" r="5.35" fill="#3cffe0"/>
<circle cx="1502.8" cy="402.8" r="5.35" fill="#04fffe"/>
<circle cx="1418.1" cy="336.0" r="5.35" fill="#ff3500"/>
<circle cx="1301.8" cy="277.5" r="5.35" fill="#ffce00"/>
<circle cx="1280.4" cy="473.6" r="5.35" fill="#39ffe3"/>
<circle cx="1370.3" cy="338.8" r="5.35" fill="#8b0000"/>
<circle cx="1439.5" cy="284.6" r="5.35" fill="#ffaf00"/>
<circle cx="1408.5" cy="330.1" r="5.35" fill="#e10001"/>
<circle cx="1386.9" cy="188.7" r="5.35" fill="#3fe2ff"/>
<circle cx="1297.8" cy="393.7" r="5.35" fill="#fbff17"/>
<circle cx="1517.3" cy="315.9" r="5.35" fill="#4dffc1"/>
<circle cx="1383.1" cy="327.0" r="5.35" fill="#940001"/>
<circle cx="1428.2" cy="280.0" r="5.35" fill="#ff9a00"/>
<circle cx="1376.2" cy="360.8" r="5.35" fill="#ee0001"/>
<circle cx="1312.1" cy="426.6" r="5.35" fill="#b5ff71"/>
<circle cx="1483.0" cy="395.3" r="5.35" fill="#46ffd1"/>
<circle cx="1296.6" cy="330.0" r="5.35" fill="#ffa000"/>
<circle cx="1381.5" cy="287.0" r="5.35" fill="#ff5700"/>
<circle cx="1258.4" cy="474.6" r="5.35" fill="#01ffff"/>
<circle cx="1477.1" cy="349.9" r="5.35" fill="#d0ff5a"/>
<circle cx="1318.6" cy="319.5" r="5.35" fill="#ff5300"/>
<circle cx="1489.7" cy="198.1" r="5.35" fill="#5273ff"/>
<circle cx="1459.5" cy="355.3" r="5.35" fill="#f5ff26"/>
<circle cx="1496.2" cy="183.9" r="5.35" fill="#4a5dff"/>
<circle cx="1305.6" cy="184.9" r="5.35" fill="#4350ff"/>
<circle cx="1258.5" cy="368.6" r="5.35" fill="#54ffa3"/>
<circle cx="1394.1" cy="475.2" r="5.35" fill="#3fffdc"/>
<circle cx="1276.5" cy="395.7" r="5.35" fill="#6aff98"/>
<circle cx="1330.4" cy="339.9" r="5.35" fill="#e90001"/>
<circle cx="1425.5" cy="216.3" r="5.35" fill="#43ffd7"/>
<circle cx="1295.8" cy="346.8" r="5.35" fill="#ff9b00"/>
<circle cx="1472.3" cy="353.7" r="5.35" fill="#d6ff54"/>
<circle cx="1338.8" cy="345.3" r="5.35" fill="#ce0002"/>
<circle cx="1393.8" cy="456.0" r="5.35" fill="#51ffb3"/>
<circle cx="1427.7" cy="368.1" r="5.35" fill="#fff800"/>
<circle cx="1328.9" cy="362.5" r="5.35" fill="#ff6c00"/>
<circle cx="1343.5" cy="255.3" r="5.35" fill="#ffe600"/>
<circle cx="1369.8" cy="305.4" r="5.35" fill="#dc0001"/>
<circle cx="1377.1" cy="317.6" r="5.35" fill="#a10002"/>
<circle cx="1272.4" cy="304.4" r="5.35" fill="#fffc00"/>
<circle cx="1387.9" cy="204.7" r="5.35" fill="#2dffee"/>
<circle cx="1271.4" cy="267.3" r="5.35" fill="#52ffac"/>
<circle cx="1429.4" cy="317.8" r="5.35" fill="#fd0000"/>
<circle cx="1347.9" cy="343.0" r="5.35" fill="#a40002"/>
<circle cx="1301.9" cy="326.8" r="5.35" fill="#ff8c00"/>
<circle cx="1462.3" cy="330.0" r="5.35" fill="#ffd200"/>
<circle cx="1343.5" cy="303.5" r="5.35" fill="#ff5100"/>
<circle cx="1446.1" cy="402.7" r="5.35" fill="#50ffb7"/>
<circle cx="1389.6" cy="243.4" r="5.35" fill="#bcff6b"/>
<circle cx="1402.1" cy="270.0" r="5.35" fill="#ffb900"/>
<circle cx="1356.7" cy="452.8" r="5.35" fill="#52ffad"/>
<circle cx="1421.1" cy="212.7" r="5.35" fill="#3dffdf"/>
<circle cx="1415.1" cy="252.2" r="5.35" fill="#fffc00"/>
<circle cx="1404.2" cy="501.1" r="5.35" fill="#1df9ff"/>
<circle cx="1448.3" cy="260.0" r="5.35" fill="#edff37"/>
<circle cx="1355.1" cy="367.9" r="5.35" fill="#fa0000"/>
<circle cx="1274.0" cy="458.3" r="5.35" fill="#49ffcb"/>
<circle cx="1428.0" cy="187.5" r="5.35" fill="#58a1ff"/>
<circle cx="1340.5" cy="378.8" r="5.35" fill="#ff8200"/>
<circle cx="1286.5" cy="222.1" r="5.35" fill="#2afff1"/>
<circle cx="1367.2" cy="452.3" r="5.35" fill="#53ffa7"/>
<circle cx="1249.3" cy="313.2" r="5.35" fill="#50ffb9"/>
<circle cx="1555.0" cy="329.2" r="5.35" fill="#589eff"/>
<circle cx="1277.5" cy="298.9" r="5.35" fill="#ffed00"/>
<circle cx="1307.7" cy="487.8" r="5.35" fill="#1ff8ff"/>
<circle cx="1286.5" cy="328.9" r="5.35" fill="#ffcb00"/>
<circle cx="1343.3" cy="421.2" r="5.35" fill="#f0ff31"/>
<circle cx="1464.7" cy="468.0" r="5.35" fill="#53bdff"/>
<circle cx="1407.2" cy="581.8" r="5.35" fill="#3e47ff"/>
<circle cx="1331.9" cy="515.3" r="5.35" fill="#57abff"/>
<circle cx="1450.2" cy="238.6" r="5.35" fill="#52ffae"/>
<circle cx="1247.3" cy="356.0" r="5.35" fill="#3cffe1"/>
<circle cx="1358.0" cy="237.2" r="5.35" fill="#acff77"/>
<circle cx="1443.7" cy="261.8" r="5.35" fill="#fff800"/>
<circle cx="1287.1" cy="271.5" r="5.35" fill="#d5ff55"/>
<circle cx="1422.1" cy="311.5" r="5.35" fill="#e00001"/>
<circle cx="1275.3" cy="316.9" r="5.35" fill="#fff600"/>
<circle cx="1399.5" cy="441.1" r="5.35" fill="#86ff8d"/>
<circle cx="1341.1" cy="215.3" r="5.35" fill="#39ffe3"/>
<circle cx="1400.8" cy="282.9" r="5.35" fill="#ff7600"/>
<circle cx="1483.6" cy="422.3" r="5.35" fill="#22f7ff"/>
<circle cx="1452.9" cy="287.7" r="5.35" fill="#ffe000"/>
<circle cx="1474.5" cy="222.4" r="5.35" fill="#06feff"/>
<circle cx="1325.9" cy="309.1" r="5.35" fill="#ff5e00"/>
<circle cx="1396.1" cy="268.6" r="5.35" fill="#ffc100"/>
<circle cx="1396.3" cy="288.2" r="5.35" fill="#ff5300"/>
<circle cx="1341.7" cy="421.7" r="5.35" fill="#f0ff31"/>
<circle cx="1385.2" cy="324.2" r="5.35" fill="#9a0001"/>
<circle cx="1324.0" cy="254.0" r="5.35" fill="#e4ff43"/>
<circle cx="1302.1" cy="306.2" r="5.35" fill="#ff8900"/>
<circle cx="1359.4" cy="283.1" r="5.35" fill="#ff6900"/>
<circle cx="1376.4" cy="251.3" r="5.35" fill="#e5ff42"/>
<circle cx="1362.8" cy="339.3" r="5.35" fill="#8b0000"/>
<circle cx="1390.6" cy="302.8" r="5.35" fill="#d70002"/>
<circle cx="1287.9" cy="272.1" r="5.35" fill="#ddff4c"/>
<circle cx="1443.8" cy="332.9" r="5.35" fill="#ff9b00"/>
<circle cx="1403.2" cy="261.9" r="5.35" fill="#ffdd00"/>
<circle cx="1275.5" cy="325.3" r="5.35" fill="#fff800"/>
<circle cx="1423.0" cy="393.3" r="5.35" fill="#b6ff70"/>
<circle cx="1350.9" cy="423.7" r="5.35" fill="#d7ff53"/>
<circle cx="1365.9" cy="399.5" r="5.35" fill="#ffc300"/>
<circle cx="1340.0" cy="369.3" r="5.35" fill="#ff5a00"/>
<circle cx="1390.4" cy="304.8" r="5.35" fill="#cf0002"/>
<circle cx="1277.8" cy="249.0" r="5.35" fill="#4effbe"/>
<circle cx="1426.8" cy="236.3" r="5.35" fill="#8dff89"/>
<circle cx="1311.9" cy="326.8" r="5.35" fill="#ff6200"/>
<circle cx="1318.9" cy="272.6" r="5.35" fill="#ffca00"/>
<circle cx="1334.4" cy="524.0" r="5.35" fill="#589bff"/>
<circle cx="1360.1" cy="413.3" r="5.35" fill="#fff700"/>
<circle cx="1406.8" cy="339.3" r="5.35" fill="#fa0000"/>
<circle cx="1404.4" cy="308.3" r="5.35" fill="#cc0002"/>
<circle cx="1440.9" cy="263.2" r="5.35" fill="#ffeb00"/>
<circle cx="1381.0" cy="454.0" r="5.35" fill="#53ffa6"/>
<circle cx="1500.1" cy="324.8" r="5.35" fill="#a9ff79"/>
<circle cx="1301.4" cy="207.7" r="5.35" fill="#52c2ff"/>
<circle cx="1353.3" cy="314.7" r="5.35" fill="#de0001"/>
<circle cx="1423.3" cy="324.3" r="5.35" fill="#ec0001"/>
<circle cx="1385.0" cy="386.7" r="5.35" fill="#ffad00"/>
<circle cx="1495.6" cy="345.1" r="5.35" fill="#81ff8f"/>
<circle cx="1363.6" cy="265.9" r="5.35" fill="#ffbb00"/>
<circle cx="1352.9" cy="326.0" r="5.35" fill="#ab0002"/>
<circle cx="1299.9" cy="230.0" r="5.35" fill="#4cffc3"/>
<circle cx="1251.6" cy="251.7" r="5.35" fill="#4ccfff"/>
<circle cx="1506.5" cy="324.7" r="5.35" fill="#86ff8d"/>
<circle cx="1350.6" cy="285.3" r="5.35" fill="#ff7000"/>
<circle cx="1413.1" cy="380.8" r="5.35" fill="#ffe700"/>
<circle cx="1278.7" cy="281.7" r="5.35" fill="#e0ff49"/>
<circle cx="1334.1" cy="405.7" r="5.35" fill="#ffca00"/>
<circle cx="1496.6" cy="272.5" r="5.35" fill="#4dffc2"/>
<circle cx="1254.1" cy="429.7" r="5.35" fill="#05fffe"/>
<circle cx="1375.7" cy="438.8" r="5.35" fill="#a3ff7d"/>
<circle cx="1435.0" cy="334.7" r="5.35" fill="#ff7d00"/>
<circle cx="1529.6" cy="186.7" r="5.35" fill="#4a5fff"/>
<circle cx="1453.0" cy="252.6" r="5.35" fill="#aeff76"/>
<circle cx="1399.3" cy="356.8" r="5.35" fill="#ff4900"/>
<circle cx="1251.6" cy="382.0" r="5.35" fill="#42ffd8"/>
<circle cx="1415.4" cy="385.1" r="5.35" fill="#fffd00"/>
<circle cx="1458.8" cy="503.9" r="5.35" fill="#547dff"/>
<circle cx="1308.6" cy="293.8" r="5.35" fill="#ff8100"/>
<circle cx="1449.4" cy="342.1" r="5.35" fill="#ffca00"/>
<circle cx="1497.3" cy="410.6" r="5.35" fill="#35ecff"/>
<circle cx="1428.2" cy="376.3" r="5.35" fill="#e1ff47"/>
<circle cx="1266.4" cy="528.9" r="5.35" fill="#5275ff"/>
<circle cx="1387.9" cy="276.6" r="5.35" fill="#ff9800"/>
<circle cx="1385.3" cy="276.1" r="5.35" fill="#ff9a00"/>
<circle cx="1306.0" cy="262.0" r="5.35" fill="#f8ff21"/>
<circle cx="1253.2" cy="270.8" r="5.35" fill="#36ffe7"/>
<circle cx="1562.1" cy="331.9" r="5.35" fill="#578cff"/>
<circle cx="1514.6" cy="264.5" r="5.35" fill="#2afff1"/>
<circle cx="1265.7" cy="292.7" r="5.35" fill="#ccff5e"/>
<circle cx="1300.3" cy="323.3" r="5.35" fill="#ff9600"/>
<circle cx="1428.2" cy="530.1" r="5.35" fill="#4f6bff"/>
<circle cx="1399.0" cy="293.9" r="5.35" fill="#ff1900"/>
<circle cx="1322.1" cy="442.5" r="5.35" fill="#53ffa5"/>
<circle cx="1298.9" cy="287.2" r="5.35" fill="#ffb000"/>
<circle cx="1352.4" cy="344.9" r="5.35" fill="#9b0001"/>
<circle cx="1343.5" cy="394.4" r="5.35" fill="#ffb400"/>
<circle cx="1470.3" cy="270.9" r="5.35" fill="#a9ff79"/>
<circle cx="1431.2" cy="307.5" r="5.35" fill="#ff4200"/>
<circle cx="1483.1" cy="245.3" r="5.35" fill="#4affc8"/>
<circle cx="1398.2" cy="572.5" r="5.35" fill="#404bff"/>
<circle cx="1491.8" cy="179.5" r="5.35" fill="#4859ff"/>
<circle cx="1463.5" cy="415.7" r="5.35" fill="#49ffcb"/>
<circle cx="1369.7" cy="324.3" r="5.35" fill="#920001"/>
<circle cx="1247.5" cy="386.3" r="5.35" fill="#24fff4"/>
<circle cx="1358.2" cy="253.6" r="5.35" fill="#ffeb00"/>
<circle cx="1410.6" cy="274.2" r="5.35" fill="#ffa600"/>
<circle cx="1452.3" cy="358.9" r="5.35" fill="#f3ff2c"/>
<circle cx="1481.6" cy="366.1" r="5.35" fill="#64ff9a"/>
<circle cx="1358.4" cy="230.0" r="5.35" fill="#5fff9c"/>
<circle cx="1290.4" cy="336.1" r="5.35" fill="#ffb300"/>
<circle cx="1332.0" cy="353.2" r="5.35" fill="#ff2d00"/>
<circle cx="1362.1" cy="332.8" r="5.35" fill="#8b0000"/>
<circle cx="1297.7" cy="245.5" r="5.35" fill="#91ff87"/>
<circle cx="1474.3" cy="277.4" r="5.35" fill="#a3ff7d"/>
<circle cx="1441.2" cy="382.0" r="5.35" fill="#8aff8b"/>
<circle cx="1326.8" cy="305.7" r="5.35" fill="#ff6700"/>
<circle cx="1503.2" cy="295.0" r="5.35" fill="#50ffb9"/>
<circle cx="1412.5" cy="157.2" r="5.35" fill="#3e47ff"/>
<circle cx="1339.6" cy="326.5" r="5.35" fill="#d00002"/>
<circle cx="1302.7" cy="469.8" r="5.35" fill="#40ffdb"/>
<circle cx="1376.3" cy="193.9" r="5.35" fill="#08feff"/>
<circle cx="1443.2" cy="292.8" r="5.35" fill="#ffb100"/>
<circle cx="1292.0" cy="338.0" r="5.35" fill="#ffab00"/>
<circle cx="1319.8" cy="326.5" r="5.35" fill="#ff3c00"/>
<circle cx="1415.9" cy="329.7" r="5.35" fill="#ed0001"/>
<circle cx="1295.0" cy="310.3" r="5.35" fill="#ffa800"/>
<circle cx="1508.1" cy="345.2" r="5.35" fill="#51ffb1"/>
<circle cx="1278.4" cy="393.0" r="5.35" fill="#89ff8b"/>
<circle cx="1357.4" cy="399.9" r="5.35" fill="#ffc500"/>
<circle cx="1406.2" cy="328.7" r="5.35" fill="#d90001"/>
<circle cx="1308.6" cy="334.9" r="5.35" fill="#ff6a00"/>
<circle cx="1243.8" cy="435.7" r="5.35" fill="#55b8ff"/>
<circle cx="1342.5" cy="527.7" r="5.35" fill="#589bff"/>
<circle cx="1392.0" cy="311.9" r="5.35" fill="#ba0002"/>
<circle cx="1316.6" cy="438.6" r="5.35" fill="#62ff9b"/>
<circle cx="1333.2" cy="365.1" r="5.35" fill="#ff6300"/>
<circle cx="1429.4" cy="387.4" r="5.35" fill="#a6ff7b"/>
<circle cx="1277.7" cy="331.4" r="5.35" fill="#ffee00"/>
<circle cx="1406.0" cy="358.3" r="5.35" fill="#ff7200"/>
<circle cx="1377.2" cy="368.2" r="5.35" fill="#ff3e00"/>
<circle cx="1340.3" cy="479.0" r="5.35" fill="#41ffda"/>
<circle cx="1253.6" cy="298.8" r="5.35" fill="#56ff9e"/>
<circle cx="1415.0" cy="427.6" r="5.35" fill="#8cff8a"/>
<circle cx="1447.5" cy="343.8" r="5.35" fill="#ffcc00"/>
<circle cx="1270.7" cy="293.8" r="5.35" fill="#ecff38"/>
<circle cx="1326.8" cy="242.8" r="5.35" fill="#a0ff7f"/>
<circle cx="1399.7" cy="312.6" r="5.35" fill="#c10002"/>
<circle cx="1279.5" cy="359.9" r="5.35" fill="#fff100"/>
<circle cx="1280.1" cy="217.5" r="5.35" fill="#35ecff"/>
<circle cx="1263.0" cy="397.6" r="5.35" fill="#4cffc3"/>
<circle cx="1512.9" cy="420.4" r="5.35" fill="#578fff"/>
<circle cx="1425.7" cy="276.2" r="5.35" fill="#ffa400"/>
<circle cx="1340.5" cy="418.6" r="5.35" fill="#fffc00"/>
<circle cx="1407.5" cy="243.2" r="5.35" fill="#d4ff56"/>
<circle cx="1379.8" cy="353.8" r="5.35" fill="#d60002"/>
<circle cx="1294.4" cy="328.2" r="5.35" fill="#ffab00"/>
<circle cx="1268.1" cy="381.1" r="5.35" fill="#88ff8c"/>
<circle cx="1333.3" cy="343.8" r="5.35" fill="#e40001"/>
<circle cx="1504.5" cy="378.6" r="5.35" fill="#3cffe0"/>
<circle cx="1535.5" cy="190.6" r="5.35" fill="#4b62ff"/>
<circle cx="1338.4" cy="408.2" r="5.35" fill="#ffd600"/>
<circle cx="1290.1" cy="399.7" r="5.35" fill="#b3ff72"/>
<circle cx="1430.6" cy="273.1" r="5.35" fill="#ffb400"/>
<circle cx="1446.0" cy="431.8" r="5.35" fill="#4bffc7"/>
<circle cx="1579.3" cy="350.0" r="5.35" fill="#4d67ff"/>
<circle cx="1482.6" cy="323.3" r="5.35" fill="#f1ff30"/>
<circle cx="1304.3" cy="357.1" r="5.35" fill="#ff9b00"/>
<circle cx="1347.5" cy="286.9" r="5.35" fill="#ff7400"/>
<circle cx="1448.3" cy="301.8" r="5.35" fill="#ffbb00"/>
<circle cx="1433.5" cy="250.6" r="5.35" fill="#e7ff3f"/>
<circle cx="1247.4" cy="371.2" r="5.35" fill="#3affe2"/>
<circle cx="1566.8" cy="330.1" r="5.35" fill="#5686ff"/>
<circle cx="1400.2" cy="263.5" r="5.35" fill="#ffd700"/>
<circle cx="1311.0" cy="317.5" r="5.35" fill="#ff6f00"/>
<circle cx="1547.0" cy="209.8" r="5.35" fill="#4a5eff"/>
<circle cx="1276.2" cy="396.8" r="5.35" fill="#5eff9c"/>
<circle cx="1254.7" cy="271.5" r="5.35" fill="#3effde"/>
<circle cx="1404.6" cy="408.0" r="5.35" fill="#e6ff41"/>
<circle cx="1319.7" cy="254.6" r="5.35" fill="#e1ff47"/>
<circle cx="1281.1" cy="465.8" r="5.35" fill="#46ffd2"/>
<circle cx="1416.9" cy="346.4" r="5.35" fill="#ff7100"/>
<circle cx="1245.3" cy="572.2" r="5.35" fill="#2525ff"/>
<circle cx="1288.5" cy="363.8" r="5.35" fill="#ffd500"/>
<circle cx="1327.5" cy="423.0" r="5.35" fill="#f3ff2c"/>
<circle cx="1402.9" cy="240.4" r="5.35" fill="#c2ff67"/>
<circle cx="1385.9" cy="231.5" r="5.35" fill="#63ff9b"/>
<circle cx="1372.8" cy="301.2" r="5.35" fill="#e60001"/>
<circle cx="1506.1" cy="330.9" r="5.35" fill="#87ff8c"/>
<circle cx="1300.8" cy="312.6" r="5.35" fill="#ff9300"/>
<circle cx="1388.6" cy="291.0" r="5.35" fill="#ff3900"/>
<circle cx="1352.7" cy="484.9" r="5.35" fill="#3affe3"/>
<circle cx="1321.0" cy="318.9" r="5.35" fill="#ff4c00"/>
<circle cx="1474.9" cy="264.7" r="5.35" fill="#7bff91"/>
<circle cx="1295.9" cy="287.2" r="5.35" fill="#ffbb00"/>
<circle cx="1432.3" cy="493.7" r="5.35" fill="#57adff"/>
<circle cx="1343.1" cy="293.8" r="5.35" fill="#ff7000"/>
<circle cx="1474.9" cy="434.0" r="5.35" fill="#33eeff"/>
<circle cx="1567.6" cy="319.1" r="5.35" fill="#5685ff"/>
<circle cx="1404.5" cy="224.0" r="5.35" fill="#53ffab"/>
<circle cx="1400.0" cy="241.1" r="5.35" fill="#c2ff66"/>
<circle cx="1455.6" cy="469.6" r="5.35" fill="#4ecbff"/>
<circle cx="1325.7" cy="319.2" r="5.35" fill="#ff3700"/>
<circle cx="1511.6" cy="256.4" r="5.35" fill="#23fff5"/>
<circle cx="1342.7" cy="442.6" r="5.35" fill="#54ffa1"/>
<circle cx="1361.0" cy="235.2" r="5.35" fill="#98ff84"/>
<circle cx="1436.3" cy="394.8" r="5.35" fill="#54ffa2"/>
<circle cx="1342.1" cy="349.0" r="5.35" fill="#ca0002"/>
<circle cx="1423.6" cy="444.4" r="5.35" fill="#4fffba"/>
<circle cx="1362.1" cy="293.0" r="5.35" fill="#ff3a00"/>
<circle cx="1389.2" cy="296.6" r="5.35" fill="#f40001"/>
<circle cx="1425.8" cy="436.3" r="5.35" fill="#52ffac"/>
<circle cx="1436.6" cy="214.4" r="5.35" fill="#34ffe8"/>
<circle cx="1380.2" cy="302.1" r="5.35" fill="#db0001"/>
<circle cx="1363.2" cy="279.3" r="5.35" fill="#ff7800"/>
<circle cx="1330.8" cy="207.1" r="5.35" fill="#27f5ff"/>
<circle cx="1314.2" cy="273.4" r="5.35" fill="#ffca00"/>
<circle cx="1428.4" cy="456.8" r="5.35" fill="#38ffe5"/>
<circle cx="1339.6" cy="266.4" r="5.35" fill="#ffc000"/>
<circle cx="1290.1" cy="256.4" r="5.35" fill="#a3ff7d"/>
<circle cx="1281.3" cy="464.7" r="5.35" fill="#46ffd0"/>
<circle cx="1462.3" cy="292.3" r="5.35" fill="#fffd00"/>
<circle cx="1337.3" cy="248.2" r="5.35" fill="#e4ff43"/>
<circle cx="1512.6" cy="344.3" r="5.35" fill="#4fffba"/>
<circle cx="1374.3" cy="282.0" r="5.35" fill="#ff7100"/>
<circle cx="1347.8" cy="530.2" r="5.35" fill="#5795ff"/>
<circle cx="1255.1" cy="415.9" r="5.35" fill="#1cfff8"/>
<circle cx="1324.1" cy="285.6" r="5.35" fill="#ff9800"/>
<circle cx="1372.2" cy="280.0" r="5.35" fill="#ff7b00"/>
<circle cx="1445.3" cy="214.4" r="5.35" fill="#25fff4"/>
<circle cx="1399.3" cy="307.5" r="5.35" fill="#cb0002"/>
<circle cx="1387.6" cy="325.0" r="5.35" fill="#a00002"/>
<circle cx="1338.5" cy="223.4" r="5.35" fill="#4bffc6"/>
<circle cx="1474.9" cy="323.9" r="5.35" fill="#fff400"/>
<circle cx="1552.0" cy="267.8" r="5.35" fill="#5582ff"/>
<circle cx="1430.5" cy="258.4" r="5.35" fill="#ffea00"/>
<circle cx="1368.5" cy="577.7" r="5.35" fill="#2121ff"/>
<circle cx="1323.4" cy="547.8" r="5.35" fill="#4656ff"/>
<circle cx="1379.4" cy="378.1" r="5.35" fill="#ff7c00"/>
<circle cx="1249.7" cy="348.0" r="5.35" fill="#45ffd3"/>
<circle cx="1299.3" cy="429.0" r="5.35" fill="#57ff9e"/>
<circle cx="1603.5" cy="355.3" r="5.35" fill="#3a41ff"/>
<circle cx="1410.1" cy="344.5" r="5.35" fill="#ff4500"/>
<circle cx="1385.7" cy="156.4" r="5.35" fill="#4555ff"/>
<circle cx="1513.5" cy="324.5" r="5.35" fill="#53ffa4"/>
<circle cx="1471.3" cy="342.6" r="5.35" fill="#feff05"/>
<circle cx="1503.5" cy="259.6" r="5.35" fill="#3effde"/>
<circle cx="1408.4" cy="355.7" r="5.35" fill="#ff7100"/>
<circle cx="1369.6" cy="397.6" r="5.35" fill="#ffbd00"/>
<circle cx="1347.1" cy="331.1" r="5.35" fill="#ab0002"/>
<circle cx="1425.1" cy="314.4" r="5.35" fill="#e90001"/>
<circle cx="1305.2" cy="392.1" r="5.35" fill="#ffde00"/>
<circle cx="1327.9" cy="323.0" r="5.35" fill="#ff0000"/>
<circle cx="1369.8" cy="345.2" r="5.35" fill="#9a0001"/>
<circle cx="1396.2" cy="349.5" r="5.35" fill="#f30001"/>
<circle cx="1411.5" cy="250.1" r="5.35" fill="#f7ff22"/>
<circle cx="1452.9" cy="331.0" r="5.35" fill="#ffb600"/>
<circle cx="1431.4" cy="385.2" r="5.35" fill="#a5ff7b"/>
<circle cx="1318.6" cy="381.1" r="5.35" fill="#ffa400"/>
<circle cx="1359.8" cy="384.4" r="5.35" fill="#ff8300"/>
<circle cx="1473.0" cy="395.7" r="5.35" fill="#4dffc1"/>
<circle cx="1298.5" cy="261.6" r="5.35" fill="#e2ff47"/>
<circle cx="1308.5" cy="338.2" r="5.35" fill="#ff6b00"/>
<circle cx="1260.4" cy="451.2" r="5.35" fill="#3bffe1"/>
<circle cx="1423.7" cy="350.5" r="5.35" fill="#ffa300"/>
<circle cx="1252.6" cy="324.5" r="5.35" fill="#52ffac"/>
<circle cx="1357.5" cy="366.6" r="5.35" fill="#f10001"/>
<circle cx="1324.7" cy="518.0" r="5.35" fill="#5795ff"/>
<circle cx="1392.5" cy="274.7" r="5.35" fill="#ffa300"/>
<circle cx="1426.8" cy="312.7" r="5.35" fill="#f20001"/>
<circle cx="1386.4" cy="307.6" r="5.35" fill="#c30002"/>
<circle cx="1450.1" cy="237.7" r="5.35" fill="#51ffb1"/>
<circle cx="1378.3" cy="334.8" r="5.35" fill="#8e0000"/>
<circle cx="1469.5" cy="276.8" r="5.35" fill="#bcff6b"/>
<circle cx="1363.6" cy="212.1" r="5.35" fill="#3cffe1"/>
<circle cx="1396.4" cy="397.0" r="5.35" fill="#ffe400"/>
<circle cx="1369.0" cy="366.5" r="5.35" fill="#f80000"/>
<circle cx="1458.4" cy="335.1" r="5.35" fill="#ffce00"/>
<circle cx="1328.0" cy="372.8" r="5.35" fill="#ff8700"/>
<circle cx="1427.2" cy="298.1" r="5.35" fill="#ff4f00"/>
<circle cx="1423.1" cy="356.4" r="5.35" fill="#ffb900"/>
<circle cx="1335.7" cy="340.5" r="5.35" fill="#d20002"/>
<circle cx="1389.7" cy="361.1" r="5.35" fill="#ff3a00"/>
<circle cx="1410.0" cy="302.1" r="5.35" fill="#e10001"/>
<circle cx="1416.1" cy="411.6" r="5.35" fill="#abff78"/>
<circle cx="1418.1" cy="324.9" r="5.35" fill="#e10001"/>
<circle cx="1365.9" cy="317.8" r="5.35" fill="#b10002"/>
<circle cx="1433.8" cy="293.5" r="5.35" fill="#ff8400"/>
<circle cx="1536.6" cy="489.5" r="5.35" fill="#3f48ff"/>
<circle cx="1335.5" cy="406.5" r="5.35" fill="#ffce00"/>
<circle cx="1326.0" cy="283.9" r="5.35" fill="#ff9e00"/>
<circle cx="1429.2" cy="433.4" r="5.35" fill="#52ffac"/>
<circle cx="1299.8" cy="333.5" r="5.35" fill="#ff8e00"/>
<circle cx="1369.7" cy="274.5" r="5.35" fill="#ff9700"/>
<circle cx="1433.6" cy="304.6" r="5.35" fill="#ff6100"/>
<circle cx="1302.7" cy="424.0" r="5.35" fill="#92ff87"/>
<circle cx="1415.7" cy="363.4" r="5.35" fill="#ffb300"/>
<circle cx="1354.4" cy="354.4" r="5.35" fill="#b70002"/>
<circle cx="1486.8" cy="397.5" r="5.35" fill="#3fffdc"/>
<circle cx="1394.7" cy="374.8" r="5.35" fill="#ff9600"/>
<circle cx="1536.8" cy="270.5" r="5.35" fill="#50c6ff"/>
<circle cx="1374.1" cy="393.9" r="5.35" fill="#ffb300"/>
<circle cx="1395.1" cy="353.0" r="5.35" fill="#fd0000"/>
<circle cx="1387.1" cy="326.2" r="5.35" fill="#9e0002"/>
<circle cx="1382.9" cy="483.9" r="5.35" fill="#3affe3"/>
<circle cx="1267.4" cy="412.2" r="5.35" fill="#44ffd4"/>
<circle cx="1422.5" cy="289.6" r="5.35" fill="#ff6600"/>
<circle cx="1454.8" cy="327.4" r="5.35" fill="#ffb800"/>
<circle cx="1306.6" cy="420.0" r="5.35" fill="#bfff69"/>
<circle cx="1498.9" cy="290.9" r="5.35" fill="#51ffb1"/>
<circle cx="1468.9" cy="412.2" r="5.35" fill="#47ffce"/>
<circle cx="1486.6" cy="315.4" r="5.35" fill="#dbff4f"/>
<circle cx="1336.7" cy="334.5" r="5.35" fill="#cb0002"/>
<circle cx="1427.8" cy="233.3" r="5.35" fill="#67ff99"/>
<circle cx="1400.7" cy="361.6" r="5.35" fill="#ff6a00"/>
<circle cx="1350.9" cy="344.8" r="5.35" fill="#9e0002"/>
<circle cx="1492.6" cy="556.6" r="5.35" fill="#2525ff"/>
<circle cx="1274.1" cy="381.7" r="5.35" fill="#abff77"/>
<circle cx="1364.8" cy="233.3" r="5.35" fill="#7fff90"/>
<circle cx="1294.2" cy="286.4" r="5.35" fill="#ffc500"/>
<circle cx="1467.4" cy="313.3" r="5.35" fill="#ffe600"/>
<circle cx="1480.9" cy="259.0" r="5.35" fill="#53ffa9"/>
<circle cx="1490.8" cy="285.8" r="5.35" fill="#54ffa2"/>
<circle cx="1383.5" cy="256.1" r="5.35" fill="#feff08"/>
<circle cx="1310.7" cy="276.9" r="5.35" fill="#ffbe00"/>
<circle cx="1422.1" cy="446.8" r="5.35" fill="#4effbe"/>
<circle cx="1376.2" cy="300.8" r="5.35" fill="#e40001"/>
<circle cx="1443.0" cy="371.1" r="5.35" fill="#c4ff64"/>
<circle cx="1362.6" cy="270.6" r="5.35" fill="#ffa300"/>
<circle cx="1465.3" cy="295.4" r="5.35" fill="#fbff15"/>
<circle cx="1369.8" cy="278.1" r="5.35" fill="#ff8300"/>
<circle cx="1480.0" cy="254.1" r="5.35" fill="#52ffaf"/>
<circle cx="1298.0" cy="232.6" r="5.35" fill="#4fffba"/>
<circle cx="1431.3" cy="276.3" r="5.35" fill="#ffac00"/>
<circle cx="1417.8" cy="353.6" r="5.35" fill="#ff9600"/>
<circle cx="1434.1" cy="274.8" r="5.35" fill="#ffb500"/>
<circle cx="1382.6" cy="203.8" r="5.35" fill="#2dffee"/>
<circle cx="1319.9" cy="354.9" r="5.35" fill="#ff7500"/>
<circle cx="1411.2" cy="289.5" r="5.35" fill="#ff5000"/>
<circle cx="1259.8" cy="288.8" r="5.35" fill="#89ff8b"/>
<circle cx="1515.0" cy="521.0" r="5.35" fill="#3f48ff"/>
<circle cx="1451.1" cy="362.5" r="5.35" fill="#e4ff44"/>
<circle cx="1368.7" cy="424.0" r="5.35" fill="#daff4f"/>
<circle cx="1425.1" cy="264.1" r="5.35" fill="#ffcf00"/>
<circle cx="1386.8" cy="473.9" r="5.35" fill="#44ffd4"/>
<circle cx="1266.0" cy="333.8" r="5.35" fill="#cbff5e"/>
<circle cx="1360.0" cy="366.0" r="5.35" fill="#ed0001"/>
<circle cx="1317.3" cy="305.0" r="5.35" fill="#ff6d00"/>
<circle cx="1256.2" cy="439.7" r="5.35" fill="#26fff3"/>
<circle cx="1465.9" cy="466.0" r="5.35" fill="#54bcff"/>
<circle cx="1422.0" cy="413.1" r="5.35" fill="#84ff8e"/>
<circle cx="1417.0" cy="294.9" r="5.35" fill="#ff2e00"/>
<circle cx="1434.5" cy="297.6" r="5.35" fill="#ff7c00"/>
<circle cx="1529.9" cy="357.3" r="5.35" fill="#44ddff"/>
<circle cx="1254.1" cy="417.0" r="5.35" fill="#0ffffc"/>
<circle cx="1320.0" cy="272.4" r="5.35" fill="#ffca00"/>
<circle cx="1411.4" cy="292.8" r="5.35" fill="#ff3300"/>
<circle cx="1385.0" cy="402.4" r="5.35" fill="#ffe100"/>
<circle cx="1250.4" cy="241.6" r="5.35" fill="#57a8ff"/>
<circle cx="1345.7" cy="311.9" r="5.35" fill="#fc0000"/>
<circle cx="1492.1" cy="250.7" r="5.35" fill="#47ffd0"/>
<circle cx="1418.1" cy="196.7" r="5.35" fill="#49d5ff"/>
<circle cx="1293.4" cy="328.4" r="5.35" fill="#ffaf00"/>
<circle cx="1373.1" cy="295.7" r="5.35" fill="#fc0000"/>
<circle cx="1457.2" cy="282.3" r="5.35" fill="#fff800"/>
<circle cx="1421.6" cy="334.7" r="5.35" fill="#ff3c00"/>
<circle cx="1297.8" cy="378.0" r="5.35" fill="#ffdf00"/>
<circle cx="1443.4" cy="428.5" r="5.35" fill="#4effbd"/>
<circle cx="1441.2" cy="333.6" r="5.35" fill="#ff9200"/>
<circle cx="1368.5" cy="383.6" r="5.35" fill="#ff8100"/>
<circle cx="1391.9" cy="344.0" r="5.35" fill="#d20002"/>
<circle cx="1400.3" cy="370.7" r="5.35" fill="#ff9500"/>
<circle cx="1362.4" cy="287.9" r="5.35" fill="#ff5100"/>
<circle cx="1376.6" cy="214.0" r="5.35" fill="#44ffd5"/>
<circle cx="1492.7" cy="248.5" r="5.35" fill="#44ffd5"/>
<circle cx="1456.3" cy="292.3" r="5.35" fill="#ffe800"/>
<circle cx="1301.8" cy="315.6" r="5.35" fill="#ff9100"/>
<circle cx="1315.3" cy="402.6" r="5.35" fill="#ffd400"/>
<circle cx="1354.3" cy="377.7" r="5.35" fill="#ff6400"/>
<circle cx="1377.5" cy="335.5" r="5.35" fill="#8e0000"/>
<circle cx="1453.1" cy="289.5" r="5.35" fill="#ffdf00"/>
<circle cx="1369.6" cy="500.6" r="5.35" fill="#0bfdff"/>
<circle cx="1291.0" cy="301.3" r="5.35" fill="#ffb500"/>
<circle cx="1566.6" cy="274.0" r="5.35" fill="#495bff"/>
<circle cx="1269.5" cy="312.2" r="5.35" fill="#f2ff2e"/>
<circle cx="1350.1" cy="206.6" r="5.35" fill="#10fffc"/>
<circle cx="1306.4" cy="338.3" r="5.35" fill="#ff7200"/>
<circle cx="1468.8" cy="415.1" r="5.35" fill="#45ffd3"/>
<circle cx="1451.2" cy="440.6" r="5.35" fill="#39ffe3"/>
<circle cx="1403.3" cy="282.5" r="5.35" fill="#ff7900"/>
<circle cx="1316.9" cy="443.9" r="5.35" fill="#52ffae"/>
<circle cx="1300.0" cy="378.9" r="5.35" fill="#ffd900"/>
<circle cx="1443.0" cy="278.0" r="5.35" fill="#ffc700"/>
<circle cx="1381.2" cy="251.3" r="5.35" fill="#e2ff46"/>
<circle cx="1364.0" cy="183.1" r="5.35" fill="#53bdff"/>
<circle cx="1530.7" cy="325.4" r="5.35" fill="#34ffe9"/>
<circle cx="1475.2" cy="480.4" r="5.35" fill="#5793ff"/>
<circle cx="1318.9" cy="522.0" r="5.35" fill="#5580ff"/>
<circle cx="1437.3" cy="423.3" r="5.35" fill="#52ffb0"/>
<circle cx="1389.1" cy="513.8" r="5.35" fill="#48d7ff"/>
<circle cx="1404.2" cy="236.2" r="5.35" fill="#abff77"/>
<circle cx="1362.6" cy="544.2" r="5.35" fill="#495dff"/>
<circle cx="1354.6" cy="292.9" r="5.35" fill="#ff5000"/>
<circle cx="1465.3" cy="227.3" r="5.35" fill="#36ffe7"/>
<circle cx="1309.4" cy="241.6" r="5.35" fill="#85ff8d"/>
<circle cx="1520.9" cy="268.2" r="5.35" fill="#18fffa"/>
<circle cx="1382.0" cy="457.3" r="5.35" fill="#52ffaf"/>
<circle cx="1368.1" cy="359.7" r="5.35" fill="#d60002"/>
<circle cx="1508.8" cy="313.8" r="5.35" fill="#53ffa6"/>
<circle cx="1423.3" cy="441.3" r="5.35" fill="#51ffb2"/>
<circle cx="1300.4" cy="242.6" r="5.35" fill="#83ff8e"/>
<circle cx="1417.1" cy="299.4" r="5.35" fill="#f60000"/>
<circle cx="1292.9" cy="355.7" r="5.35" fill="#ffb300"/>
<circle cx="1274.0" cy="445.5" r="5.35" fill="#49ffcc"/>
<circle cx="1449.9" cy="367.4" r="5.35" fill="#cdff5c"/>
<circle cx="1468.8" cy="288.1" r="5.35" fill="#daff4f"/>
<circle cx="1418.3" cy="350.6" r="5.35" fill="#ff8b00"/>
<circle cx="1366.4" cy="360.4" r="5.35" fill="#d60002"/>
<circle cx="1431.8" cy="238.1" r="5.35" fill="#8bff8a"/>
<circle cx="1332.0" cy="407.8" r="5.35" fill="#ffcf00"/>
<circle cx="1389.0" cy="367.4" r="5.35" fill="#ff6100"/>
<circle cx="1272.0" cy="377.3" r="5.35" fill="#b3ff72"/>
<circle cx="1437.6" cy="323.2" r="5.35" fill="#ff6200"/>
<circle cx="1306.4" cy="543.0" r="5.35" fill="#4350ff"/>
<circle cx="1349.0" cy="267.0" r="5.35" fill="#ffae00"/>
<circle cx="1356.6" cy="336.6" r="5.35" fill="#8b0000"/>
<circle cx="1479.2" cy="356.6" r="5.35" fill="#aaff78"/>
<circle cx="1293.8" cy="457.9" r="5.35" fill="#49ffca"/>
<circle cx="1409.7" cy="513.8" r="5.35" fill="#51c6ff"/>
<circle cx="1487.3" cy="401.4" r="5.35" fill="#3affe3"/>
<circle cx="1272.1" cy="206.0" r="5.35" fill="#589aff"/>
<circle cx="1296.6" cy="418.8" r="5.35" fill="#83ff8e"/>
<circle cx="1378.8" cy="523.4" r="5.35" fill="#57a4ff"/>
<circle cx="1318.5" cy="334.1" r="5.35" fill="#ff3d00"/>
<circle cx="1339.5" cy="332.7" r="5.35" fill="#c20002"/>
<circle cx="1470.7" cy="334.0" r="5.35" fill="#ffef00"/>
<circle cx="1434.0" cy="560.6" r="5.35" fill="#3236ff"/>
<circle cx="1390.1" cy="330.5" r="5.35" fill="#ab0002"/>
<circle cx="1314.4" cy="336.1" r="5.35" fill="#ff5300"/>
<circle cx="1322.0" cy="333.9" r="5.35" fill="#ff2100"/>
<circle cx="1313.4" cy="251.8" r="5.35" fill="#cbff5e"/>
<circle cx="1399.6" cy="369.7" r="5.35" fill="#ff8e00"/>
<circle cx="1349.4" cy="320.7" r="5.35" fill="#cb0002"/>
<circle cx="1449.0" cy="272.4" r="5.35" fill="#ffe900"/>
<circle cx="1285.9" cy="282.8" r="5.35" fill="#fff600"/>
<circle cx="1396.8" cy="255.0" r="5.35" fill="#fffd00"/>
<circle cx="1253.6" cy="360.9" r="5.35" fill="#4fffba"/>
<circle cx="1349.0" cy="245.5" r="5.35" fill="#ebff39"/>
<circle cx="1490.2" cy="351.1" r="5.35" fill="#81ff8f"/>
<circle cx="1298.9" cy="301.9" r="5.35" fill="#ff9300"/>
<circle cx="1321.0" cy="351.2" r="5.35" fill="#ff6400"/>
<circle cx="1391.8" cy="347.7" r="5.35" fill="#de0001"/>
<circle cx="1414.1" cy="360.6" r="5.35" fill="#ffa100"/>
<circle cx="1256.3" cy="326.5" r="5.35" fill="#6fff96"/>
<circle cx="1309.3" cy="407.5" r="5.35" fill="#fff800"/>
<circle cx="1507.4" cy="253.1" r="5.35" fill="#2bfff0"/>
<circle cx="1314.3" cy="425.4" r="5.35" fill="#c5ff64"/>
<circle cx="1372.5" cy="418.2" r="5.35" fill="#f4ff29"/>
<circle cx="1405.9" cy="332.6" r="5.35" fill="#e30001"/>
<circle cx="1387.3" cy="323.5" r="5.35" fill="#a00002"/>
<circle cx="1323.1" cy="349.1" r="5.35" fill="#ff5300"/>
<circle cx="1484.4" cy="378.1" r="5.35" fill="#4fffb9"/>
<circle cx="1459.8" cy="318.3" r="5.35" fill="#ffca00"/>
<circle cx="1294.4" cy="445.2" r="5.35" fill="#4effbe"/>
<circle cx="1317.0" cy="278.3" r="5.35" fill="#ffb300"/>
<circle cx="1441.5" cy="268.2" r="5.35" fill="#ffdc00"/>
<circle cx="1449.5" cy="288.8" r="5.35" fill="#ffd100"/>
<circle cx="1374.5" cy="428.6" r="5.35" fill="#ccff5e"/>
<circle cx="1290.9" cy="267.5" r="5.35" fill="#d8ff52"/>
<circle cx="1263.9" cy="282.0" r="5.35" fill="#83ff8e"/>
<circle cx="1410.3" cy="422.7" r="5.35" fill="#acff77"/>
<circle cx="1311.8" cy="374.8" r="5.35" fill="#ffad00"/>
<circle cx="1297.1" cy="245.5" r="5.35" fill="#8fff88"/>
<circle cx="1345.1" cy="463.6" r="5.35" fill="#4effbe"/>
<circle cx="1305.7" cy="269.5" r="5.35" fill="#ffe700"/>
<circle cx="1382.1" cy="334.9" r="5.35" fill="#980001"/>
<circle cx="1284.2" cy="442.5" r="5.35" fill="#4cffc3"/>
<circle cx="1470.6" cy="320.0" r="5.35" fill="#ffe900"/>
<circle cx="1349.2" cy="301.4" r="5.35" fill="#ff4700"/>
<circle cx="1461.7" cy="345.1" r="5.35" fill="#ffed00"/>
<circle cx="1477.1" cy="129.1" r="5.35" fill="#1b1aff"/>
<circle cx="1493.2" cy="480.9" r="5.35" fill="#4c63ff"/>
<circle cx="1418.3" cy="295.2" r="5.35" fill="#ff3100"/>
<circle cx="1303.7" cy="250.2" r="5.35" fill="#baff6d"/>
<circle cx="1452.0" cy="422.2" r="5.35" fill="#4cffc3"/>
<circle cx="1331.1" cy="356.7" r="5.35" fill="#ff4a00"/>
<circle cx="1440.0" cy="308.3" r="5.35" fill="#ff8200"/>
<circle cx="1444.3" cy="400.3" r="5.35" fill="#51ffb4"/>
<circle cx="1363.8" cy="289.7" r="5.35" fill="#ff4700"/>
<circle cx="1524.8" cy="335.5" r="5.35" fill="#46ffd1"/>
<circle cx="1412.7" cy="359.4" r="5.35" fill="#ff9600"/>
<circle cx="1487.0" cy="344.6" r="5.35" fill="#b6ff70"/>
<circle cx="1358.5" cy="253.5" r="5.35" fill="#ffec00"/>
<circle cx="1424.9" cy="327.4" r="5.35" fill="#fc0000"/>
<circle cx="1346.7" cy="337.9" r="5.35" fill="#a40002"/>
<circle cx="1336.7" cy="317.8" r="5.35" fill="#f80000"/>
<circle cx="1421.2" cy="220.3" r="5.35" fill="#4cffc4"/>
<circle cx="1430.3" cy="257.0" r="5.35" fill="#ffef00"/>
<circle cx="1280.4" cy="309.8" r="5.35" fill="#ffe100"/>
<circle cx="1480.1" cy="291.3" r="5.35" fill="#b0ff74"/>
<circle cx="1430.1" cy="400.3" r="5.35" fill="#62ff9b"/>
<circle cx="1355.1" cy="365.2" r="5.35" fill="#ec0001"/>
<circle cx="1438.7" cy="214.6" r="5.35" fill="#32ffea"/>
<circle cx="1325.5" cy="291.9" r="5.35" fill="#ff8800"/>
<circle cx="1329.3" cy="244.2" r="5.35" fill="#b1ff74"/>
<circle cx="1494.7" cy="310.7" r="5.35" fill="#aaff79"/>
<circle cx="1492.4" cy="256.5" r="5.35" fill="#4bffc8"/>
<circle cx="1460.7" cy="274.4" r="5.35" fill="#e6ff41"/>
<circle cx="1487.4" cy="278.9" r="5.35" fill="#54ffa3"/>
<circle cx="1306.6" cy="385.2" r="5.35" fill="#ffcb00"/>
<circle cx="1532.5" cy="348.4" r="5.35" fill="#2bf3ff"/>
<circle cx="1519.5" cy="384.3" r="5.35" fill="#19faff"/>
<circle cx="1378.3" cy="302.4" r="5.35" fill="#db0001"/>
<circle cx="1398.1" cy="275.6" r="5.35" fill="#ff9e00"/>
<circle cx="1262.3" cy="527.0" r="5.35" fill="#547cff"/>
<circle cx="1448.9" cy="371.8" r="5.35" fill="#b7ff6f"/>
<circle cx="1326.1" cy="384.5" r="5.35" fill="#ff9e00"/>
<circle cx="1339.3" cy="276.6" r="5.35" fill="#ffa100"/>
<circle cx="1464.7" cy="427.4" r="5.35" fill="#3bffe1"/>
<circle cx="1494.7" cy="309.5" r="5.35" fill="#a5ff7b"/>
<circle cx="1308.6" cy="425.2" r="5.35" fill="#adff76"/>
<circle cx="1482.2" cy="305.4" r="5.35" fill="#d6ff54"/>
<circle cx="1422.4" cy="291.6" r="5.35" fill="#ff5b00"/>
<circle cx="1396.2" cy="358.6" r="5.35" fill="#ff4500"/>
<circle cx="1419.7" cy="383.6" r="5.35" fill="#f0ff31"/>
<circle cx="1256.6" cy="511.5" r="5.35" fill="#5689ff"/>
<circle cx="1413.4" cy="332.1" r="5.35" fill="#f20001"/>
<circle cx="1351.3" cy="267.2" r="5.35" fill="#ffac00"/>
<circle cx="1344.7" cy="381.7" r="5.35" fill="#ff8800"/>
<circle cx="1274.7" cy="462.4" r="5.35" fill="#47ffcf"/>
<circle cx="1459.4" cy="239.4" r="5.35" fill="#50ffb8"/>
<circle cx="1383.2" cy="248.2" r="5.35" fill="#d0ff5a"/>
<circle cx="1416.2" cy="482.7" r="5.35" fill="#33eeff"/>
<circle cx="1381.7" cy="260.0" r="5.35" fill="#ffed00"/>
<circle cx="1315.6" cy="369.7" r="5.35" fill="#ff9f00"/>
<circle cx="1359.7" cy="229.1" r="5.35" fill="#54ffa0"/>
<circle cx="1362.0" cy="337.3" r="5.35" fill="#8b0000"/>
<circle cx="1552.5" cy="265.0" r="5.35" fill="#547eff"/>
<circle cx="1290.0" cy="345.7" r="5.35" fill="#ffb100"/>
<circle cx="1437.5" cy="532.3" r="5.35" fill="#495dff"/>
<circle cx="1336.2" cy="380.8" r="5.35" fill="#ff8e00"/>
<circle cx="1355.8" cy="233.5" r="5.35" fill="#8cff8a"/>
<circle cx="1256.0" cy="519.7" r="5.35" fill="#5684ff"/>
<circle cx="1326.1" cy="331.6" r="5.35" fill="#f70000"/>
<circle cx="1552.1" cy="483.7" r="5.35" fill="#3940ff"/>
<circle cx="1449.6" cy="202.0" r="5.35" fill="#4dceff"/>
<circle cx="1295.4" cy="314.9" r="5.35" fill="#ffaa00"/>
<circle cx="1492.6" cy="309.0" r="5.35" fill="#b0ff74"/>
<circle cx="1449.2" cy="348.0" r="5.35" fill="#ffde00"/>
<circle cx="1357.4" cy="298.5" r="5.35" fill="#ff3100"/>
<circle cx="1294.3" cy="244.3" r="5.35" fill="#79ff92"/>
<circle cx="1350.7" cy="229.0" r="5.35" fill="#54ffa2"/>
<circle cx="1445.8" cy="438.5" r="5.35" fill="#44ffd4"/>
<circle cx="1373.1" cy="276.8" r="5.35" fill="#ff8e00"/>
<circle cx="1324.7" cy="303.7" r="5.35" fill="#ff6d00"/>
<circle cx="1377.8" cy="478.6" r="5.35" fill="#41ffda"/>
<circle cx="1437.5" cy="415.6" r="5.35" fill="#52ffb0"/>
<circle cx="1303.9" cy="273.0" r="5.35" fill="#ffdc00"/>
<circle cx="1329.4" cy="387.3" r="5.35" fill="#ffa100"/>
<circle cx="1392.3" cy="228.7" r="5.35" fill="#57ff9e"/>
<circle cx="1288.8" cy="253.2" r="5.35" fill="#8cff8a"/>
<circle cx="1461.2" cy="337.3" r="5.35" fill="#ffda00"/>
<circle cx="1333.0" cy="434.9" r="5.35" fill="#9dff80"/>
<circle cx="1305.8" cy="363.6" r="5.35" fill="#ffa900"/>
<circle cx="1323.6" cy="305.6" r="5.35" fill="#ff6900"/>
<circle cx="1395.0" cy="322.2" r="5.35" fill="#b40002"/>
<circle cx="1452.4" cy="386.0" r="5.35" fill="#54ffa0"/>
<circle cx="1353.9" cy="320.7" r="5.35" fill="#c00002"/>
<circle cx="1318.7" cy="397.3" r="5.35" fill="#ffbe00"/>
<circle cx="1364.8" cy="441.1" r="5.35" fill="#81ff8f"/>
<circle cx="1264.2" cy="403.3" r="5.35" fill="#49ffcc"/>
<circle cx="1411.2" cy="319.7" r="5.35" fill="#cd0002"/>
<circle cx="1354.5" cy="460.8" r="5.35" fill="#50ffb8"/>
<circle cx="1419.5" cy="276.7" r="5.35" fill="#ff9d00"/>
<circle cx="1296.5" cy="307.8" r="5.35" fill="#ffa000"/>
<circle cx="1517.3" cy="334.3" r="5.35" fill="#51ffb3"/>
<circle cx="1449.6" cy="425.9" r="5.35" fill="#4cffc4"/>
<circle cx="1521.1" cy="341.8" r="5.35" fill="#48ffcd"/>
<circle cx="1313.9" cy="243.0" r="5.35" fill="#93ff86"/>
<circle cx="1338.5" cy="328.1" r="5.35" fill="#ce0002"/>
<circle cx="1400.1" cy="499.9" r="5.35" fill="#0dfffd"/>
<circle cx="1288.4" cy="358.8" r="5.35" fill="#ffc900"/>
<circle cx="1402.9" cy="317.0" r="5.35" fill="#c20002"/>
<circle cx="1390.5" cy="275.5" r="5.35" fill="#ff9f00"/>
<circle cx="1307.9" cy="320.7" r="5.35" fill="#ff7800"/>
<circle cx="1532.2" cy="266.6" r="5.35" fill="#49d6ff"/>
<circle cx="1460.7" cy="370.7" r="5.35" fill="#acff77"/>
<circle cx="1358.3" cy="269.1" r="5.35" fill="#ffa500"/>
<circle cx="1494.3" cy="587.0" r="5.35" fill="#2424ff"/>
<circle cx="1416.2" cy="517.0" r="5.35" fill="#57aaff"/>
<circle cx="1400.3" cy="264.8" r="5.35" fill="#ffd100"/>
<circle cx="1404.6" cy="343.4" r="5.35" fill="#ff0500"/>
<circle cx="1444.3" cy="272.0" r="5.35" fill="#ffd900"/>
<circle cx="1451.6" cy="364.9" r="5.35" fill="#d8ff52"/>
<circle cx="1348.3" cy="242.5" r="5.35" fill="#d6ff54"/>
<circle cx="1384.2" cy="310.2" r="5.35" fill="#b90002"/>
<circle cx="1300.5" cy="308.9" r="5.35" fill="#ff9100"/>
<circle cx="1423.6" cy="361.0" r="5.35" fill="#ffcd00"/>
<circle cx="1391.2" cy="410.6" r="5.35" fill="#fdff0b"/>
<circle cx="1383.8" cy="184.4" r="5.35" fill="#47d8ff"/>
<circle cx="1408.4" cy="326.3" r="5.35" fill="#d70002"/>
<circle cx="1245.5" cy="263.4" r="5.35" fill="#50c8ff"/>
<circle cx="1448.5" cy="312.8" r="5.35" fill="#ffa800"/>
<circle cx="1323.2" cy="337.7" r="5.35" fill="#ff1b00"/>
<circle cx="1295.1" cy="477.9" r="5.35" fill="#32ffea"/>
<circle cx="1392.2" cy="346.6" r="5.35" fill="#db0001"/>
<circle cx="1350.2" cy="390.2" r="5.35" fill="#ffa500"/>
<circle cx="1443.3" cy="432.4" r="5.35" fill="#4cffc3"/>
<circle cx="1466.1" cy="349.7" r="5.35" fill="#f9ff1c"/>
<circle cx="1363.7" cy="265.8" r="5.35" fill="#ffbb00"/>
<circle cx="1537.4" cy="423.3" r="5.35" fill="#4f6aff"/>
<circle cx="1422.4" cy="340.6" r="5.35" fill="#ff6900"/>
<circle cx="1468.7" cy="326.3" r="5.35" fill="#ffe200"/>
<circle cx="1297.3" cy="446.8" r="5.35" fill="#4effbf"/>
<circle cx="1250.2" cy="308.5" r="5.35" fill="#51ffb1"/>
<circle cx="1357.2" cy="279.9" r="5.35" fill="#ff7700"/>
<circle cx="1405.9" cy="272.9" r="5.35" fill="#ffac00"/>
<circle cx="1297.5" cy="336.8" r="5.35" fill="#ff9500"/>
<circle cx="1345.2" cy="370.1" r="5.35" fill="#ff4a00"/>
<circle cx="1458.7" cy="327.0" r="5.35" fill="#ffc400"/>
<circle cx="1550.2" cy="501.1" r="5.35" fill="#2d2fff"/>
<circle cx="1359.5" cy="380.8" r="5.35" fill="#ff7000"/>
<circle cx="1469.8" cy="395.4" r="5.35" fill="#4fffbc"/>
<circle cx="1443.5" cy="361.3" r="5.35" fill="#f4ff29"/>
<circle cx="1464.7" cy="241.1" r="5.35" fill="#50ffb8"/>
<circle cx="1430.2" cy="301.3" r="5.35" fill="#ff5400"/>
<circle cx="1537.0" cy="252.7" r="5.35" fill="#58a1ff"/>
<circle cx="1509.9" cy="377.8" r="5.35" fill="#33ffea"/>
<circle cx="1283.6" cy="399.0" r="5.35" fill="#89ff8b"/>
<circle cx="1362.7" cy="276.2" r="5.35" fill="#ff8700"/>
<circle cx="1336.9" cy="317.9" r="5.35" fill="#f70000"/>
<circle cx="1396.0" cy="295.2" r="5.35" fill="#fc0000"/>
<circle cx="1333.0" cy="402.1" r="5.35" fill="#ffc100"/>
<circle cx="1506.7" cy="223.4" r="5.35" fill="#56aeff"/>
<circle cx="1377.9" cy="333.3" r="5.35" fill="#8c0000"/>
<circle cx="1311.9" cy="341.8" r="5.35" fill="#ff6400"/>
<circle cx="1299.9" cy="406.1" r="5.35" fill="#daff50"/>
<circle cx="1400.5" cy="316.1" r="5.35" fill="#bf0002"/>
<circle cx="1293.0" cy="356.2" r="5.35" fill="#ffb400"/>
<circle cx="1493.2" cy="314.5" r="5.35" fill="#bbff6c"/>
<circle cx="1327.6" cy="386.4" r="5.35" fill="#ffa000"/>
<circle cx="1301.3" cy="239.1" r="5.35" fill="#61ff9b"/>
<circle cx="1398.0" cy="299.2" r="5.35" fill="#e90001"/>
<circle cx="1277.8" cy="301.4" r="5.35" fill="#ffea00"/>
<circle cx="1481.0" cy="409.9" r="5.35" fill="#39ffe3"/>
<circle cx="1433.2" cy="257.1" r="5.35" fill="#fff300"/>
<circle cx="1360.5" cy="246.8" r="5.35" fill="#ecff38"/>
<circle cx="1372.5" cy="430.9" r="5.35" fill="#c1ff67"/>
<circle cx="1289.3" cy="344.5" r="5.35" fill="#ffb400"/>
<circle cx="1312.1" cy="344.9" r="5.35" fill="#ff6b00"/>
<circle cx="1558.1" cy="425.6" r="5.35" fill="#4350ff"/>
<circle cx="1347.5" cy="500.4" r="5.35" fill="#30f0ff"/>
<circle cx="1316.6" cy="462.2" r="5.35" fill="#45ffd3"/>
<circle cx="1409.0" cy="242.4" r="5.35" fill="#d0ff5a"/>
<circle cx="1378.9" cy="248.3" r="5.35" fill="#d1ff59"/>
<circle cx="1524.6" cy="307.7" r="5.35" fill="#31ffec"/>
<circle cx="1425.2" cy="254.7" r="5.35" fill="#fff400"/>
<circle cx="1621.8" cy="298.6" r="5.35" fill="#2c2eff"/>
<circle cx="1273.1" cy="251.1" r="5.35" fill="#48ffcc"/>
<circle cx="1553.0" cy="294.4" r="5.35" fill="#578cff"/>
<circle cx="1252.4" cy="277.8" r="5.35" fill="#43ffd6"/>
<circle cx="1289.8" cy="423.0" r="5.35" fill="#52ffad"/>
<circle cx="1313.5" cy="458.3" r="5.35" fill="#47ffcf"/>
<circle cx="1242.2" cy="203.6" r="5.35" fill="#3f4aff"/>
<circle cx="1260.6" cy="455.5" r="5.35" fill="#3cffe0"/>
<circle cx="1285.7" cy="250.6" r="5.35" fill="#60ff9c"/>
<circle cx="1251.1" cy="253.0" r="5.35" fill="#4cd0ff"/>
<circle cx="1581.6" cy="366.0" r="5.35" fill="#414cff"/>
<circle cx="1414.3" cy="312.1" r="5.35" fill="#ce0002"/>
<circle cx="1463.5" cy="327.6" r="5.35" fill="#ffd300"/>
<circle cx="1410.1" cy="391.6" r="5.35" fill="#fffb00"/>
<circle cx="1373.6" cy="380.9" r="5.35" fill="#ff7c00"/>
<circle cx="1295.8" cy="447.4" r="5.35" fill="#4dffc0"/>
<circle cx="1266.1" cy="289.7" r="5.35" fill="#c3ff66"/>
<circle cx="1423.6" cy="235.1" r="5.35" fill="#8cff8a"/>
<circle cx="1291.8" cy="572.6" r="5.35" fill="#2c2eff"/>
<circle cx="1268.7" cy="345.1" r="5.35" fill="#d8ff52"/>
<circle cx="1348.8" cy="338.2" r="5.35" fill="#9d0002"/>
<circle cx="1284.8" cy="355.5" r="5.35" fill="#ffd100"/>
<circle cx="1499.3" cy="252.8" r="5.35" fill="#3effdd"/>
<circle cx="1385.0" cy="409.0" r="5.35" fill="#fff500"/>
<circle cx="1419.7" cy="378.4" r="5.35" fill="#fffa00"/>
<circle cx="1357.9" cy="302.2" r="5.35" fill="#ff1200"/>
<circle cx="1403.9" cy="301.2" r="5.35" fill="#e10001"/>
<circle cx="1448.2" cy="513.9" r="5.35" fill="#5377ff"/>
<circle cx="1273.4" cy="296.5" r="5.35" fill="#ffff00"/>
<circle cx="1491.9" cy="384.6" r="5.35" fill="#46ffd1"/>
<circle cx="1359.7" cy="249.1" r="5.35" fill="#fbff15"/>
<circle cx="1264.0" cy="307.9" r="5.35" fill="#d4ff56"/>
<circle cx="1592.7" cy="407.5" r="5.35" fill="#1b1aff"/>
<circle cx="1441.2" cy="463.7" r="5.35" fill="#2ff0ff"/>
<circle cx="1419.3" cy="359.9" r="5.35" fill="#ffb700"/>
<circle cx="1388.8" cy="351.3" r="5.35" fill="#e30001"/>
<circle cx="1308.4" cy="261.0" r="5.35" fill="#f7ff22"/>
<circle cx="1442.1" cy="279.8" r="5.35" fill="#ffc000"/>
<circle cx="1251.6" cy="473.8" r="5.35" fill="#43deff"/>
<circle cx="1476.3" cy="388.9" r="5.35" fill="#4effbc"/>
<circle cx="1423.0" cy="396.6" r="5.35" fill="#a9ff79"/>
<circle cx="1481.1" cy="341.4" r="5.35" fill="#dcff4e"/>
<circle cx="1373.1" cy="440.4" r="5.35" fill="#97ff84"/>
<circle cx="1339.7" cy="312.7" r="5.35" fill="#ff2300"/>
<circle cx="1372.4" cy="262.7" r="5.35" fill="#ffd800"/>
<circle cx="1341.1" cy="265.0" r="5.35" fill="#ffc200"/>
<circle cx="1435.7" cy="318.2" r="5.35" fill="#ff5200"/>
<circle cx="1485.8" cy="309.4" r="5.35" fill="#d2ff58"/>
<circle cx="1420.0" cy="191.7" r="5.35" fill="#55b7ff"/>
<circle cx="1379.0" cy="217.0" r="5.35" fill="#49ffcc"/>
<circle cx="1305.0" cy="277.7" r="5.35" fill="#ffc500"/>
<circle cx="1352.6" cy="362.9" r="5.35" fill="#e40001"/>
<circle cx="1394.7" cy="433.6" r="5.35" fill="#b3ff72"/>
<circle cx="1497.2" cy="197.1" r="5.35" fill="#506fff"/>
<circle cx="1417.7" cy="312.6" r="5.35" fill="#d30002"/>
<circle cx="1346.7" cy="269.4" r="5.35" fill="#ffa900"/>
<circle cx="1545.9" cy="251.9" r="5.35" fill="#5582ff"/>
<circle cx="1509.2" cy="277.1" r="5.35" fill="#3fffdc"/>
<circle cx="1409.8" cy="333.7" r="5.35" fill="#f00001"/>
<circle cx="1342.3" cy="418.8" r="5.35" fill="#ffff01"/>
<circle cx="1390.6" cy="374.7" r="5.35" fill="#ff8a00"/>
<circle cx="1301.3" cy="472.4" r="5.35" fill="#3dffdf"/>
<circle cx="1415.6" cy="286.5" r="5.35" fill="#ff6900"/>
<circle cx="1407.8" cy="255.2" r="5.35" fill="#fff400"/>
<circle cx="1360.6" cy="287.6" r="5.35" fill="#ff5500"/>
<circle cx="1389.9" cy="424.9" r="5.35" fill="#d5ff55"/>
<circle cx="1435.6" cy="241.0" r="5.35" fill="#97ff84"/>
<circle cx="1519.7" cy="317.4" r="5.35" fill="#4bffc7"/>
<circle cx="1410.3" cy="328.7" r="5.35" fill="#e00001"/>
<circle cx="1323.0" cy="206.9" r="5.35" fill="#3de5ff"/>
<circle cx="1454.6" cy="315.0" r="5.35" fill="#ffbd00"/>
<circle cx="1418.6" cy="394.8" r="5.35" fill="#ccff5d"/>
<circle cx="1339.6" cy="388.7" r="5.35" fill="#ffa400"/>
<circle cx="1301.7" cy="360.2" r="5.35" fill="#ffa800"/>
<circle cx="1452.2" cy="467.5" r="5.35" fill="#4ad4ff"/>
<circle cx="1349.5" cy="528.1" r="5.35" fill="#589cff"/>
<circle cx="1320.1" cy="317.6" r="5.35" fill="#ff5200"/>
<circle cx="1394.1" cy="379.5" r="5.35" fill="#ffa700"/>
<circle cx="1415.6" cy="307.1" r="5.35" fill="#d80001"/>
<circle cx="1471.2" cy="410.6" r="5.35" fill="#47ffd0"/>
<circle cx="1358.9" cy="442.7" r="5.35" fill="#69ff99"/>
<circle cx="1370.0" cy="287.2" r="5.35" fill="#ff5100"/>
<circle cx="1454.1" cy="276.7" r="5.35" fill="#fff400"/>
<circle cx="1314.1" cy="289.4" r="5.35" fill="#ff8a00"/>
<circle cx="1377.9" cy="477.8" r="5.35" fill="#42ffd9"/>
<circle cx="1374.9" cy="315.9" r="5.35" fill="#a90002"/>
<circle cx="1331.2" cy="428.1" r="5.35" fill="#d3ff57"/>
<circle cx="1355.3" cy="400.3" r="5.35" fill="#ffc700"/>
<circle cx="1370.5" cy="349.1" r="5.35" fill="#aa0002"/>
<circle cx="1357.8" cy="325.8" r="5.35" fill="#a10002"/>
<circle cx="1350.3" cy="333.4" r="5.35" fill="#9d0002"/>
<circle cx="1406.8" cy="323.0" r="5.35" fill="#cd0002"/>
<circle cx="1332.5" cy="234.4" r="5.35" fill="#59ff9e"/>
<circle cx="1392.6" cy="315.3" r="5.35" fill="#b40002"/>
<circle cx="1295.9" cy="344.5" r="5.35" fill="#ff9900"/>
<circle cx="1353.7" cy="362.8" r="5.35" fill="#e10001"/>
<circle cx="1373.5" cy="366.7" r="5.35" fill="#ff1900"/>
<circle cx="1324.6" cy="339.9" r="5.35" fill="#ff1400"/>
<circle cx="1406.3" cy="540.0" r="5.35" fill="#4e69ff"/>
<circle cx="1418.4" cy="419.9" r="5.35" fill="#8eff89"/>
<circle cx="1363.3" cy="309.4" r="5.35" fill="#db0001"/>
<circle cx="1461.5" cy="474.8" r="5.35" fill="#54baff"/>
<circle cx="1297.1" cy="369.9" r="5.35" fill="#ffcc00"/>
<circle cx="1481.4" cy="288.3" r="5.35" fill="#9eff80"/>
<circle cx="1484.7" cy="266.6" r="5.35" fill="#53ffa9"/>
<circle cx="1457.6" cy="171.0" r="5.35" fill="#5171ff"/>
<circle cx="1376.2" cy="495.6" r="5.35" fill="#21fff6"/>
<circle cx="1393.8" cy="340.0" r="5.35" fill="#cd0002"/>
<circle cx="1350.3" cy="427.5" r="5.35" fill="#c1ff67"/>
<circle cx="1428.8" cy="304.9" r="5.35" fill="#ff3700"/>
<circle cx="1320.5" cy="216.7" r="5.35" fill="#31ffec"/>
<circle cx="1244.9" cy="358.0" r="5.35" fill="#2dffee"/>
<circle cx="1449.7" cy="281.8" r="5.35" fill="#ffda00"/>
<circle cx="1338.2" cy="319.0" r="5.35" fill="#ef0001"/>
<circle cx="1449.9" cy="345.7" r="5.35" fill="#ffd800"/>
<circle cx="1297.0" cy="339.8" r="5.35" fill="#ff9500"/>
<circle cx="1469.6" cy="167.6" r="5.35" fill="#4859ff"/>
<circle cx="1385.7" cy="356.7" r="5.35" fill="#f20001"/>
<circle cx="1426.6" cy="242.6" r="5.35" fill="#c1ff67"/>
<circle cx="1370.6" cy="340.5" r="5.35" fill="#8d0000"/>
<circle cx="1468.8" cy="479.2" r="5.35" fill="#57a5ff"/>
<circle cx="1406.0" cy="354.3" r="5.35" fill="#ff5e00"/>
<circle cx="1305.8" cy="310.1" r="5.35" fill="#ff8000"/>
<circle cx="1428.3" cy="247.8" r="5.35" fill="#e1ff48"/>
<circle cx="1502.3" cy="306.7" r="5.35" fill="#59ff9e"/>
<circle cx="1371.2" cy="377.9" r="5.35" fill="#ff6800"/>
<circle cx="1409.8" cy="357.3" r="5.35" fill="#ff7f00"/>
<circle cx="1376.1" cy="450.4" r="5.35" fill="#5aff9d"/>
<circle cx="1399.3" cy="398.5" r="5.35" fill="#ffef00"/>
<circle cx="1280.9" cy="402.7" r="5.35" fill="#57ff9e"/>
<circle cx="1315.7" cy="280.8" r="5.35" fill="#ffa900"/>
<circle cx="1346.7" cy="317.6" r="5.35" fill="#e00001"/>
<circle cx="1374.7" cy="395.4" r="5.35" fill="#ffba00"/>
<circle cx="1309.5" cy="299.7" r="5.35" fill="#ff7700"/>
<circle cx="1521.0" cy="326.1" r="5.35" fill="#4dffc0"/>
<circle cx="1602.2" cy="344.8" r="5.35" fill="#3b43ff"/>
<circle cx="1363.3" cy="317.9" r="5.35" fill="#b60002"/>
<circle cx="1398.8" cy="261.5" r="5.35" fill="#ffe100"/>
<circle cx="1262.4" cy="354.5" r="5.35" fill="#96ff84"/>
<circle cx="1381.0" cy="339.0" r="5.35" fill="#9e0002"/>
<circle cx="1297.4" cy="280.7" r="5.35" fill="#ffcf00"/>
<circle cx="1317.5" cy="411.2" r="5.35" fill="#ffea00"/>
<circle cx="1490.9" cy="321.5" r="5.35" fill="#d0ff5a"/>
<circle cx="1407.4" cy="478.8" r="5.35" fill="#25fff4"/>
<circle cx="1261.5" cy="464.2" r="5.35" fill="#39ffe4"/>
<circle cx="1324.5" cy="291.3" r="5.35" fill="#ff8900"/>
<circle cx="1482.6" cy="306.4" r="5.35" fill="#d8ff52"/>
<circle cx="1444.8" cy="335.9" r="5.35" fill="#ffa800"/>
<circle cx="1342.4" cy="333.8" r="5.35" fill="#b60002"/>
<circle cx="1413.1" cy="301.6" r="5.35" fill="#e60001"/>
<circle cx="1478.4" cy="247.3" r="5.35" fill="#4fffba"/>
<circle cx="1374.8" cy="438.0" r="5.35" fill="#a5ff7c"/>
<circle cx="1396.0" cy="615.1" r="5.35" fill="#2d2fff"/>
<circle cx="1293.8" cy="288.6" r="5.35" fill="#ffbf00"/>
<circle cx="1500.6" cy="310.6" r="5.35" fill="#81ff8f"/>
<circle cx="1296.0" cy="335.2" r="5.35" fill="#ff9c00"/>
<circle cx="1343.9" cy="250.3" r="5.35" fill="#fffc00"/>
<circle cx="1264.1" cy="522.8" r="5.35" fill="#5580ff"/>
<circle cx="1334.2" cy="265.8" r="5.35" fill="#ffcf00"/>
<circle cx="1501.7" cy="325.9" r="5.35" fill="#a2ff7e"/>
<circle cx="1390.5" cy="430.7" r="5.35" fill="#c3ff66"/>
<circle cx="1517.2" cy="270.8" r="5.35" fill="#2afff1"/>
<circle cx="1290.4" cy="369.8" r="5.35" fill="#ffe100"/>
<circle cx="1601.6" cy="295.2" r="5.35" fill="#3a41ff"/>
<circle cx="1397.8" cy="235.9" r="5.35" fill="#a1ff7e"/>
<circle cx="1438.6" cy="202.1" r="5.35" fill="#3ce6ff"/>
<circle cx="1271.3" cy="310.0" r="5.35" fill="#fcff12"/>
<circle cx="1323.0" cy="360.0" r="5.35" fill="#ff7a00"/>
<circle cx="1389.8" cy="351.7" r="5.35" fill="#e70001"/>
<circle cx="1418.2" cy="351.9" r="5.35" fill="#ff9100"/>
<circle cx="1334.8" cy="298.1" r="5.35" fill="#ff7500"/>
<circle cx="1322.5" cy="406.0" r="5.35" fill="#ffcf00"/>
<circle cx="1417.1" cy="330.3" r="5.35" fill="#f20001"/>
<circle cx="1321.0" cy="270.1" r="5.35" fill="#ffd300"/>
<circle cx="1368.4" cy="504.8" r="5.35" fill="#33edff"/>
<circle cx="1319.9" cy="477.0" r="5.35" fill="#36ffe6"/>
<circle cx="1512.0" cy="319.6" r="5.35" fill="#53ffa6"/>
<circle cx="1332.0" cy="266.5" r="5.35" fill="#ffd100"/>
<circle cx="1381.6" cy="398.0" r="5.35" fill="#ffcd00"/>
<circle cx="1388.8" cy="390.7" r="5.35" fill="#ffc200"/>
<circle cx="1425.2" cy="321.1" r="5.35" fill="#eb0001"/>
<circle cx="1338.4" cy="333.9" r="5.35" fill="#c50002"/>
<circle cx="1326.0" cy="381.0" r="5.35" fill="#ff9800"/>
<circle cx="1440.1" cy="231.7" r="5.35" fill="#50ffb7"/>
<circle cx="1439.8" cy="302.8" r="5.35" fill="#ff8e00"/>
<circle cx="1366.5" cy="389.6" r="5.35" fill="#ff9b00"/>
<circle cx="1503.4" cy="360.6" r="5.35" fill="#48ffce"/>
<circle cx="1326.1" cy="478.3" r="5.35" fill="#38ffe5"/>
<circle cx="1290.4" cy="437.1" r="5.35" fill="#4fffbb"/>
<circle cx="1470.7" cy="309.2" r="5.35" fill="#fff600"/>
<circle cx="1417.0" cy="524.5" r="5.35" fill="#578eff"/>
<circle cx="1419.1" cy="282.6" r="5.35" fill="#ff8200"/>
<circle cx="1517.4" cy="247.6" r="5.35" fill="#47d8ff"/>
<circle cx="1353.8" cy="297.2" r="5.35" fill="#ff4600"/>
<circle cx="1316.6" cy="392.3" r="5.35" fill="#ffb800"/>
<circle cx="1401.6" cy="378.3" r="5.35" fill="#ffb700"/>
<circle cx="1281.9" cy="443.0" r="5.35" fill="#4cffc5"/>
<circle cx="1445.6" cy="291.9" r="5.35" fill="#ffbd00"/>
<circle cx="1300.8" cy="350.8" r="5.35" fill="#ff9300"/>
<circle cx="1481.1" cy="278.0" r="5.35" fill="#79ff92"/>
<circle cx="1362.1" cy="370.8" r="5.35" fill="#ff2300"/>
<circle cx="1334.0" cy="244.2" r="5.35" fill="#bfff69"/>
<circle cx="1295.3" cy="277.3" r="5.35" fill="#ffe600"/>
<circle cx="1407.3" cy="375.1" r="5.35" fill="#ffbe00"/>
<circle cx="1486.3" cy="309.6" r="5.35" fill="#d0ff5a"/>
<circle cx="1447.9" cy="380.1" r="5.35" fill="#87ff8c"/>
<circle cx="1429.8" cy="261.5" r="5.35" fill="#ffdc00"/>
<circle cx="1427.8" cy="469.3" r="5.35" fill="#24f6ff"/>
<circle cx="1337.0" cy="234.9" r="5.35" fill="#74ff94"/>
<circle cx="1455.6" cy="259.8" r="5.35" fill="#ccff5e"/>
<circle cx="1374.0" cy="288.7" r="5.35" fill="#ff4800"/>
<circle cx="1341.2" cy="331.5" r="5.35" fill="#be0002"/>
<circle cx="1475.7" cy="321.7" r="5.35" fill="#fff700"/>
<circle cx="1335.8" cy="406.8" r="5.35" fill="#ffcf00"/>
<circle cx="1422.8" cy="331.3" r="5.35" fill="#ff1e00"/>
<circle cx="1269.9" cy="464.2" r="5.35" fill="#43ffd6"/>
<circle cx="1324.3" cy="291.3" r="5.35" fill="#ff8900"/>
<circle cx="1328.1" cy="366.6" r="5.35" fill="#ff7a00"/>
<circle cx="1396.3" cy="358.9" r="5.35" fill="#ff4800"/>
<circle cx="1368.3" cy="341.7" r="5.35" fill="#8d0000"/>
<circle cx="1273.9" cy="360.0" r="5.35" fill="#efff32"/>
<circle cx="1335.0" cy="413.1" r="5.35" fill="#ffe200"/>
<circle cx="1374.3" cy="442.3" r="5.35" fill="#8fff88"/>
<circle cx="1286.4" cy="213.3" r="5.35" fill="#44ddff"/>
<circle cx="1254.2" cy="412.4" r="5.35" fill="#1bfff8"/>
<circle cx="1360.0" cy="326.2" r="5.35" fill="#9b0001"/>
<circle cx="1292.1" cy="317.0" r="5.35" fill="#ffb800"/>
<circle cx="1369.7" cy="316.7" r="5.35" fill="#ae0002"/>
<circle cx="1288.6" cy="248.0" r="5.35" fill="#6cff98"/>
<circle cx="1349.2" cy="330.4" r="5.35" fill="#a70002"/>
<circle cx="1281.3" cy="386.1" r="5.35" fill="#bcff6c"/>
<circle cx="1380.6" cy="285.4" r="5.35" fill="#ff6100"/>
<circle cx="1339.6" cy="345.3" r="5.35" fill="#ca0002"/>
<circle cx="1284.7" cy="458.7" r="5.35" fill="#4affc9"/>
<circle cx="1383.4" cy="514.1" r="5.35" fill="#4bd2ff"/>
<circle cx="1529.5" cy="393.8" r="5.35" fill="#55b5ff"/>
<circle cx="1469.3" cy="304.1" r="5.35" fill="#fffc00"/>
<circle cx="1310.1" cy="322.3" r="5.35" fill="#ff6e00"/>
<circle cx="1280.3" cy="248.6" r="5.35" fill="#51ffb5"/>
<circle cx="1417.3" cy="496.8" r="5.35" fill="#49d5ff"/>
<circle cx="1339.2" cy="294.0" r="5.35" fill="#ff7800"/>
<circle cx="1464.5" cy="282.6" r="5.35" fill="#e3ff44"/>
<circle cx="1355.8" cy="346.3" r="5.35" fill="#980001"/>
<circle cx="1408.6" cy="300.8" r="5.35" fill="#e50001"/>
<circle cx="1272.1" cy="427.4" r="5.35" fill="#42ffd8"/>
<circle cx="1507.9" cy="439.7" r="5.35" fill="#4a5fff"/>
<circle cx="1254.7" cy="289.7" r="5.35" fill="#53ffa8"/>
<circle cx="1554.6" cy="407.9" r="5.35" fill="#495bff"/>
<circle cx="1352.8" cy="546.6" r="5.35" fill="#495dff"/>
<circle cx="1434.7" cy="259.1" r="5.35" fill="#ffed00"/>
<circle cx="1265.1" cy="378.3" r="5.35" fill="#7bff91"/>
<circle cx="1396.4" cy="300.6" r="5.35" fill="#e20001"/>
<circle cx="1431.2" cy="222.9" r="5.35" fill="#4bffc7"/>
<circle cx="1335.0" cy="386.8" r="5.35" fill="#ff9f00"/>
<circle cx="1348.2" cy="473.4" r="5.35" fill="#49ffca"/>
<circle cx="1471.7" cy="297.5" r="5.35" fill="#e8ff3f"/>
<circle cx="1477.8" cy="301.1" r="5.35" fill="#dbff4e"/>
<circle cx="1544.8" cy="338.1" r="5.35" fill="#54bcff"/>
<circle cx="1446.7" cy="338.0" r="5.35" fill="#ffb500"/>
<circle cx="1271.0" cy="362.9" r="5.35" fill="#d7ff53"/>
<circle cx="1381.8" cy="466.2" r="5.35" fill="#4cffc4"/>
<circle cx="1317.9" cy="342.6" r="5.35" fill="#ff5100"/>
<circle cx="1496.8" cy="330.6" r="5.35" fill="#b5ff71"/>
<circle cx="1410.9" cy="288.7" r="5.35" fill="#ff5500"/>
<circle cx="1381.9" cy="274.5" r="5.35" fill="#ffa200"/>
<circle cx="1379.0" cy="335.5" r="5.35" fill="#910001"/>
<circle cx="1249.3" cy="312.2" r="5.35" fill="#50ffb8"/>
<circle cx="1276.5" cy="286.3" r="5.35" fill="#ecff38"/>
<circle cx="1322.7" cy="309.9" r="5.35" fill="#ff6000"/>
<circle cx="1368.3" cy="374.5" r="5.35" fill="#ff4f00"/>
<circle cx="1361.9" cy="328.3" r="5.35" fill="#900001"/>
<circle cx="1417.7" cy="420.9" r="5.35" fill="#90ff88"/>
<circle cx="1388.6" cy="263.0" r="5.35" fill="#ffde00"/>
<circle cx="1483.5" cy="334.9" r="5.35" fill="#e2ff46"/>
<circle cx="1347.9" cy="259.5" r="5.35" fill="#ffce00"/>
<circle cx="1435.0" cy="427.2" r="5.35" fill="#52ffaf"/>
<circle cx="1307.1" cy="406.2" r="5.35" fill="#fffc00"/>
<circle cx="1353.8" cy="319.2" r="5.35" fill="#c70002"/>
<circle cx="1426.6" cy="234.0" r="5.35" fill="#76ff94"/>
<circle cx="1248.1" cy="365.9" r="5.35" fill="#40ffdb"/>
<circle cx="1308.1" cy="229.5" r="5.35" fill="#4dffc1"/>
<circle cx="1449.1" cy="194.8" r="5.35" fill="#56b3ff"/>
<circle cx="1308.7" cy="380.2" r="5.35" fill="#ffbd00"/>
<circle cx="1430.6" cy="276.7" r="5.35" fill="#ffa900"/>
<circle cx="1299.1" cy="297.4" r="5.35" fill="#ff9500"/>
<circle cx="1548.0" cy="398.7" r="5.35" fill="#4d66ff"/>
<circle cx="1306.0" cy="361.8" r="5.35" fill="#ffa500"/>
<circle cx="1345.2" cy="388.6" r="5.35" fill="#ffa200"/>
<circle cx="1327.8" cy="307.8" r="5.35" fill="#ff5f00"/>
<circle cx="1434.2" cy="441.9" r="5.35" fill="#4bffc6"/>
<circle cx="1308.5" cy="297.9" r="5.35" fill="#ff7a00"/>
<circle cx="1348.7" cy="477.7" r="5.35" fill="#45ffd2"/>
<circle cx="1325.7" cy="257.1" r="5.35" fill="#f9ff1c"/>
<circle cx="1417.8" cy="446.3" r="5.35" fill="#50ffb6"/>
<circle cx="1326.3" cy="265.3" r="5.35" fill="#ffe000"/>
<circle cx="1432.1" cy="433.5" r="5.35" fill="#51ffb2"/>
<circle cx="1308.6" cy="323.7" r="5.35" fill="#ff7300"/>
<circle cx="1263.5" cy="465.4" r="5.35" fill="#3bffe1"/>
<circle cx="1352.2" cy="281.5" r="5.35" fill="#ff7800"/>
<circle cx="1392.6" cy="335.2" r="5.35" fill="#bc0002"/>
<circle cx="1430.0" cy="313.9" r="5.35" fill="#ff1500"/>
<circle cx="1310.2" cy="304.6" r="5.35" fill="#ff7400"/>
<circle cx="1376.7" cy="373.2" r="5.35" fill="#ff5c00"/>
<circle cx="1310.6" cy="407.4" r="5.35" fill="#fff300"/>
<circle cx="1259.5" cy="384.0" r="5.35" fill="#51ffb5"/>
<circle cx="1334.3" cy="303.0" r="5.35" fill="#ff6700"/>
<circle cx="1318.6" cy="426.9" r="5.35" fill="#caff60"/>
<circle cx="1467.6" cy="425.6" r="5.35" fill="#39ffe3"/>
<circle cx="1373.5" cy="371.0" r="5.35" fill="#ff4400"/>
<circle cx="1395.4" cy="530.8" r="5.35" fill="#568aff"/>
<circle cx="1379.9" cy="470.4" r="5.35" fill="#49ffcc"/>
<circle cx="1398.8" cy="354.6" r="5.35" fill="#ff3700"/>
<circle cx="1312.2" cy="446.5" r="5.35" fill="#50ffb8"/>
<circle cx="1399.0" cy="434.6" r="5.35" fill="#a7ff7a"/>
<circle cx="1337.6" cy="417.6" r="5.35" fill="#fff500"/>
<circle cx="1315.9" cy="275.9" r="5.35" fill="#ffbe00"/>
<circle cx="1545.9" cy="336.7" r="5.35" fill="#55b8ff"/>
<circle cx="1458.0" cy="406.4" r="5.35" fill="#4effbd"/>
<circle cx="1444.5" cy="436.9" r="5.35" fill="#48ffce"/>
<circle cx="1371.5" cy="330.7" r="5.35" fill="#8b0000"/>
<circle cx="1256.2" cy="236.7" r="5.35" fill="#53bfff"/>
<circle cx="1464.7" cy="223.7" r="5.35" fill="#28fff2"/>
<circle cx="1368.7" cy="237.0" r="5.35" fill="#97ff84"/>
<circle cx="1376.1" cy="217.8" r="5.35" fill="#49ffca"/>
<circle cx="1441.3" cy="276.1" r="5.35" fill="#ffc500"/>
<circle cx="1284.7" cy="302.9" r="5.35" fill="#ffce00"/>
<circle cx="1434.4" cy="361.4" r="5.35" fill="#fff600"/>
<circle cx="1413.2" cy="304.0" r="5.35" fill="#dd0001"/>
<circle cx="1347.2" cy="312.1" r="5.35" fill="#f80000"/>
<circle cx="1353.9" cy="407.9" r="5.35" fill="#ffe200"/>
<circle cx="1460.3" cy="316.6" r="5.35" fill="#ffcd00"/>
<circle cx="1390.4" cy="357.4" r="5.35" fill="#ff1200"/>
<circle cx="1302.2" cy="261.4" r="5.35" fill="#ecff37"/>
<circle cx="1399.5" cy="324.6" r="5.35" fill="#c20002"/>
<circle cx="1256.1" cy="441.7" r="5.35" fill="#28fff2"/>
<circle cx="1265.3" cy="248.4" r="5.35" fill="#2fffed"/>
<circle cx="1419.0" cy="384.2" r="5.35" fill="#f2ff2e"/>
<circle cx="1402.4" cy="500.9" r="5.35" fill="#0afeff"/>
<circle cx="1528.1" cy="262.0" r="5.35" fill="#43deff"/>
<circle cx="1287.5" cy="315.4" r="5.35" fill="#ffc900"/>
<circle cx="1431.8" cy="300.1" r="5.35" fill="#ff6400"/>
<circle cx="1419.9" cy="397.1" r="5.35" fill="#bcff6b"/>
<circle cx="1347.8" cy="449.7" r="5.35" fill="#52ffad"/>
<circle cx="1306.6" cy="460.1" r="5.35" fill="#46ffd0"/>
<circle cx="1382.4" cy="256.7" r="5.35" fill="#fffd00"/>
<circle cx="1414.9" cy="308.8" r="5.35" fill="#d30002"/>
<circle cx="1325.9" cy="226.9" r="5.35" fill="#4dffc2"/>
<circle cx="1335.6" cy="342.7" r="5.35" fill="#d70002"/>
<circle cx="1307.4" cy="292.6" r="5.35" fill="#ff8600"/>
<circle cx="1245.5" cy="414.6" r="5.35" fill="#51c5ff"/>
<circle cx="1371.0" cy="288.5" r="5.35" fill="#ff4900"/>
<circle cx="1428.3" cy="311.1" r="5.35" fill="#fd0000"/>
<circle cx="1388.7" cy="440.6" r="5.35" fill="#9dff81"/>
<circle cx="1372.8" cy="318.6" r="5.35" fill="#a10002"/>
<circle cx="1493.0" cy="316.0" r="5.35" fill="#c0ff68"/>
<circle cx="1495.2" cy="411.7" r="5.35" fill="#32eeff"/>
<circle cx="1343.9" cy="431.6" r="5.35" fill="#acff77"/>
<circle cx="1448.1" cy="203.0" r="5.35" fill="#48d7ff"/>
<circle cx="1266.7" cy="160.0" r="5.35" fill="#1e1dff"/>
<circle cx="1274.6" cy="426.9" r="5.35" fill="#45ffd3"/>
<circle cx="1424.3" cy="332.7" r="5.35" fill="#ff3900"/>
<circle cx="1288.0" cy="352.6" r="5.35" fill="#ffbf00"/>
<circle cx="1441.7" cy="276.7" r="5.35" fill="#ffc600"/>
<circle cx="1369.6" cy="367.3" r="5.35" fill="#fe0000"/>
<circle cx="1313.4" cy="291.1" r="5.35" fill="#ff8500"/>
<circle cx="1296.7" cy="406.3" r="5.35" fill="#c4ff65"/>
<circle cx="1509.2" cy="182.9" r="5.35" fill="#4758ff"/>
<circle cx="1441.5" cy="325.1" r="5.35" fill="#ff7d00"/>
<circle cx="1341.9" cy="307.6" r="5.35" fill="#ff4200"/>
<circle cx="1345.7" cy="323.6" r="5.35" fill="#c80002"/>
<circle cx="1324.1" cy="343.5" r="5.35" fill="#ff3100"/>
<circle cx="1433.9" cy="210.7" r="5.35" fill="#2bfff0"/>
<circle cx="1420.1" cy="333.0" r="5.35" fill="#ff2000"/>
<circle cx="1401.5" cy="377.1" r="5.35" fill="#ffb200"/>
<circle cx="1346.4" cy="283.9" r="5.35" fill="#ff7e00"/>
<circle cx="1393.7" cy="348.3" r="5.35" fill="#e70001"/>
<circle cx="1349.2" cy="382.7" r="5.35" fill="#ff8600"/>
<circle cx="1388.1" cy="365.0" r="5.35" fill="#ff5000"/>
<circle cx="1325.4" cy="219.5" r="5.35" fill="#3effde"/>
<circle cx="1319.9" cy="293.5" r="5.35" fill="#ff8100"/>
<circle cx="1471.6" cy="411.2" r="5.35" fill="#46ffd2"/>
<circle cx="1388.2" cy="218.3" r="5.35" fill="#4bffc6"/>
<circle cx="1336.7" cy="373.2" r="5.35" fill="#ff7500"/>
<circle cx="1308.9" cy="365.4" r="5.35" fill="#ffa700"/>
<circle cx="1361.4" cy="448.0" r="5.35" fill="#54ffa2"/>
<circle cx="1287.6" cy="409.6" r="5.35" fill="#66ff9a"/>
<circle cx="1365.0" cy="503.0" r="5.35" fill="#2bf2ff"/>
<circle cx="1311.3" cy="353.4" r="5.35" fill="#ff8500"/>
<circle cx="1328.4" cy="397.6" r="5.35" fill="#ffb500"/>
<circle cx="1422.8" cy="203.3" r="5.35" fill="#00ffff"/>
<circle cx="1319.2" cy="376.2" r="5.35" fill="#ff9d00"/>
<circle cx="1375.3" cy="325.0" r="5.35" fill="#8d0000"/>
<circle cx="1480.5" cy="422.5" r="5.35" fill="#14fffb"/>
<circle cx="1353.1" cy="494.5" r="5.35" fill="#1cfff8"/>
<circle cx="1451.6" cy="372.4" r="5.35" fill="#b1ff74"/>
<circle cx="1348.8" cy="314.6" r="5.35" fill="#e90001"/>
<circle cx="1451.0" cy="313.3" r="5.35" fill="#ffb200"/>
<circle cx="1323.8" cy="272.2" r="5.35" fill="#ffc700"/>
<circle cx="1418.3" cy="323.4" r="5.35" fill="#dd0001"/>
<circle cx="1324.2" cy="537.2" r="5.35" fill="#4f6aff"/>
<circle cx="1462.9" cy="343.2" r="5.35" fill="#ffeb00"/>
<circle cx="1375.5" cy="324.6" r="5.35" fill="#8e0000"/>
<circle cx="1515.3" cy="281.8" r="5.35" fill="#35ffe7"/>
<circle cx="1526.6" cy="170.7" r="5.35" fill="#3a41ff"/>
<circle cx="1480.2" cy="312.5" r="5.35" fill="#efff33"/>
<circle cx="1444.5" cy="261.9" r="5.35" fill="#fffb00"/>
<circle cx="1418.3" cy="368.0" r="5.35" fill="#ffd000"/>
<circle cx="1335.8" cy="295.0" r="5.35" fill="#ff7b00"/>
<circle cx="1352.7" cy="500.6" r="5.35" fill="#28f4ff"/>
<circle cx="1324.3" cy="472.1" r="5.35" fill="#3fffdc"/>
<circle cx="1286.4" cy="345.1" r="5.35" fill="#ffc100"/>
<circle cx="1386.3" cy="325.3" r="5.35" fill="#9c0002"/>
<circle cx="1420.2" cy="336.5" r="5.35" fill="#ff4400"/>
<circle cx="1301.3" cy="265.7" r="5.35" fill="#feff08"/>
<circle cx="1396.2" cy="274.6" r="5.35" fill="#ffa400"/>
<circle cx="1367.1" cy="393.3" r="5.35" fill="#ffab00"/>
<circle cx="1392.5" cy="389.9" r="5.35" fill="#ffc700"/>
<circle cx="1285.2" cy="479.8" r="5.35" fill="#28fff2"/>
<circle cx="1328.9" cy="315.4" r="5.35" fill="#ff3e00"/>
<circle cx="1291.2" cy="519.3" r="5.35" fill="#4c64ff"/>
<circle cx="1325.1" cy="433.6" r="5.35" fill="#a6ff7b"/>
<circle cx="1331.8" cy="320.3" r="5.35" fill="#fc0000"/>
<circle cx="1364.6" cy="374.4" r="5.35" fill="#ff4900"/>
<circle cx="1444.1" cy="355.2" r="5.35" fill="#fff200"/>
<circle cx="1364.0" cy="429.7" r="5.35" fill="#bbff6c"/>
<circle cx="1393.9" cy="235.9" r="5.35" fill="#9aff82"/>
<circle cx="1368.5" cy="328.0" r="5.35" fill="#8b0000"/>
<circle cx="1354.6" cy="416.5" r="5.35" fill="#fbff17"/>
<circle cx="1369.4" cy="436.6" r="5.35" fill="#a3ff7d"/>
<circle cx="1410.9" cy="294.9" r="5.35" fill="#ff1400"/>
<circle cx="1309.9" cy="375.4" r="5.35" fill="#ffb300"/>
<circle cx="1383.9" cy="425.1" r="5.35" fill="#d9ff50"/>
<circle cx="1430.6" cy="271.9" r="5.35" fill="#ffb800"/>
<circle cx="1284.7" cy="290.4" r="5.35" fill="#ffe000"/>
<circle cx="1399.6" cy="333.4" r="5.35" fill="#d20002"/>
<circle cx="1283.0" cy="366.3" r="5.35" fill="#fff000"/>
<circle cx="1462.2" cy="286.5" r="5.35" fill="#f7ff23"/>
<circle cx="1373.7" cy="398.5" r="5.35" fill="#ffc400"/>
<circle cx="1374.1" cy="277.7" r="5.35" fill="#ff8a00"/>
<circle cx="1280.1" cy="361.9" r="5.35" fill="#fff200"/>
<circle cx="1367.4" cy="365.6" r="5.35" fill="#f10001"/>
<circle cx="1340.5" cy="311.7" r="5.35" fill="#ff2900"/>
<circle cx="1457.1" cy="320.5" r="5.35" fill="#ffbf00"/>
<circle cx="1349.7" cy="466.7" r="5.35" fill="#4effbf"/>
<circle cx="1334.0" cy="284.6" r="5.35" fill="#ff9600"/>
<circle cx="1355.9" cy="365.2" r="5.35" fill="#ea0001"/>
<circle cx="1296.8" cy="400.6" r="5.35" fill="#dcff4d"/>
<circle cx="1597.5" cy="218.7" r="5.35" fill="#3337ff"/>
<circle cx="1363.0" cy="401.7" r="5.35" fill="#ffcb00"/>
<circle cx="1285.1" cy="212.6" r="5.35" fill="#48d7ff"/>
<circle cx="1464.2" cy="254.2" r="5.35" fill="#87ff8c"/>
<circle cx="1285.1" cy="345.8" r="5.35" fill="#ffc700"/>
<circle cx="1396.2" cy="519.1" r="5.35" fill="#52c0ff"/>
<circle cx="1359.0" cy="388.1" r="5.35" fill="#ff9500"/>
<circle cx="1296.9" cy="361.1" r="5.35" fill="#ffb500"/>
<circle cx="1425.8" cy="321.3" r="5.35" fill="#ee0001"/>
<circle cx="1518.9" cy="292.8" r="5.35" fill="#31ffeb"/>
<circle cx="1477.1" cy="406.7" r="5.35" fill="#43ffd6"/>
<circle cx="1254.8" cy="424.8" r="5.35" fill="#0efffc"/>
<circle cx="1306.5" cy="357.1" r="5.35" fill="#ff9800"/>
<circle cx="1332.4" cy="362.7" r="5.35" fill="#ff5d00"/>
<circle cx="1309.7" cy="458.5" r="5.35" fill="#47ffcf"/>
<circle cx="1283.2" cy="334.3" r="5.35" fill="#ffd500"/>
<circle cx="1344.6" cy="371.5" r="5.35" fill="#ff5600"/>
<circle cx="1394.1" cy="382.5" r="5.35" fill="#ffb200"/>
<circle cx="1384.2" cy="342.5" r="5.35" fill="#b20002"/>
<circle cx="1390.4" cy="354.3" r="5.35" fill="#f40000"/>
<circle cx="1329.9" cy="338.9" r="5.35" fill="#ea0001"/>
<circle cx="1395.0" cy="334.3" r="5.35" fill="#c40002"/>
<circle cx="1450.0" cy="258.5" r="5.35" fill="#deff4b"/>
<circle cx="1453.3" cy="191.0" r="5.35" fill="#58a0ff"/>
<circle cx="1323.6" cy="326.4" r="5.35" fill="#ff2100"/>
<circle cx="1326.7" cy="329.2" r="5.35" fill="#f60000"/>
<circle cx="1312.5" cy="398.4" r="5.35" fill="#ffd100"/>
<circle cx="1352.8" cy="358.8" r="5.35" fill="#ce0002"/>
<circle cx="1465.7" cy="332.2" r="5.35" fill="#ffde00"/>
<circle cx="1296.8" cy="341.7" r="5.35" fill="#ff9500"/>
<circle cx="1420.2" cy="408.4" r="5.35" fill="#9aff82"/>
<circle cx="1347.9" cy="326.4" r="5.35" fill="#b70002"/>
<circle cx="1444.5" cy="382.0" r="5.35" fill="#81ff8f"/>
<circle cx="1441.3" cy="432.6" r="5.35" fill="#4dffc0"/>
<circle cx="1375.9" cy="204.1" r="5.35" fill="#2fffed"/>
<circle cx="1396.8" cy="348.4" r="5.35" fill="#f20001"/>
<circle cx="1402.7" cy="235.4" r="5.35" fill="#a5ff7c"/>
<circle cx="1411.2" cy="445.7" r="5.35" fill="#53ffab"/>
<circle cx="1480.9" cy="338.3" r="5.35" fill="#e5ff42"/>
<circle cx="1329.3" cy="401.4" r="5.35" fill="#ffbe00"/>
<circle cx="1377.7" cy="348.1" r="5.35" fill="#b70002"/>
<circle cx="1273.5" cy="218.3" r="5.35" fill="#45dbff"/>
<circle cx="1352.2" cy="393.6" r="5.35" fill="#ffb000"/>
<circle cx="1432.4" cy="273.9" r="5.35" fill="#ffb500"/>
<circle cx="1299.2" cy="387.0" r="5.35" fill="#ffed00"/>
<circle cx="1400.2" cy="274.5" r="5.35" fill="#ffa400"/>
<circle cx="1397.3" cy="409.1" r="5.35" fill="#f6ff24"/>
<circle cx="1308.0" cy="291.6" r="5.35" fill="#ff8800"/>
<circle cx="1297.5" cy="346.3" r="5.35" fill="#ff9500"/>
<circle cx="1453.5" cy="271.2" r="5.35" fill="#fffd00"/>
<circle cx="1352.5" cy="275.0" r="5.35" fill="#ff8d00"/>
<circle cx="1415.3" cy="392.0" r="5.35" fill="#e9ff3d"/>
<circle cx="1534.7" cy="287.1" r="5.35" fill="#4bd1ff"/>
<circle cx="1248.1" cy="430.3" r="5.35" fill="#48d6ff"/>
<circle cx="1409.3" cy="389.4" r="5.35" fill="#fff300"/>
<circle cx="1401.4" cy="274.8" r="5.35" fill="#ffa300"/>
<circle cx="1410.8" cy="380.1" r="5.35" fill="#ffdc00"/>
<circle cx="1289.8" cy="368.2" r="5.35" fill="#ffde00"/>
<circle cx="1522.0" cy="294.3" r="5.35" fill="#27fff3"/>
<circle cx="1403.8" cy="237.7" r="5.35" fill="#b4ff72"/>
<circle cx="1389.8" cy="260.0" r="5.35" fill="#ffec00"/>
<circle cx="1537.8" cy="468.4" r="5.35" fill="#414cff"/>
<circle cx="1438.9" cy="492.6" r="5.35" fill="#57a6ff"/>
<circle cx="1318.2" cy="332.0" r="5.35" fill="#ff3e00"/>
<circle cx="1357.3" cy="297.3" r="5.35" fill="#ff3700"/>
<circle cx="1398.7" cy="381.3" r="5.35" fill="#ffb900"/>
<circle cx="1365.1" cy="436.2" r="5.35" fill="#9cff81"/>
<circle cx="1405.2" cy="364.0" r="5.35" fill="#ff8800"/>
<circle cx="1351.8" cy="247.9" r="5.35" fill="#fbff15"/>
<circle cx="1581.3" cy="342.5" r="5.35" fill="#4e69ff"/>
<circle cx="1365.6" cy="314.4" r="5.35" fill="#c10002"/>
<circle cx="1288.8" cy="297.3" r="5.35" fill="#ffc100"/>
<circle cx="1242.8" cy="255.7" r="5.35" fill="#589bff"/>
<circle cx="1398.2" cy="398.4" r="5.35" fill="#ffec00"/>
<circle cx="1393.3" cy="217.8" r="5.35" fill="#4bffc6"/>
<circle cx="1348.6" cy="441.0" r="5.35" fill="#62ff9b"/>
<circle cx="1411.0" cy="414.0" r="5.35" fill="#beff6a"/>
<circle cx="1400.0" cy="336.0" r="5.35" fill="#da0001"/>
<circle cx="1456.1" cy="351.2" r="5.35" fill="#fff400"/>
<circle cx="1386.9" cy="416.9" r="5.35" fill="#f0ff32"/>
<circle cx="1269.5" cy="427.8" r="5.35" fill="#3fffdc"/>
<circle cx="1482.8" cy="221.9" r="5.35" fill="#3ae7ff"/>
<circle cx="1459.6" cy="312.8" r="5.35" fill="#ffd100"/>
<circle cx="1294.1" cy="414.0" r="5.35" fill="#89ff8b"/>
<circle cx="1402.1" cy="230.0" r="5.35" fill="#7aff92"/>
<circle cx="1408.2" cy="409.6" r="5.35" fill="#d5ff55"/>
<circle cx="1279.9" cy="361.2" r="5.35" fill="#fff100"/>
<circle cx="1498.7" cy="362.0" r="5.35" fill="#4cffc4"/>
<circle cx="1371.1" cy="509.5" r="5.35" fill="#44ddff"/>
<circle cx="1256.1" cy="533.5" r="5.35" fill="#4f6dff"/>
<circle cx="1334.3" cy="353.8" r="5.35" fill="#ff1300"/>
<circle cx="1476.1" cy="323.1" r="5.35" fill="#fff700"/>
<circle cx="1415.7" cy="373.1" r="5.35" fill="#ffd800"/>
<circle cx="1282.5" cy="363.1" r="5.35" fill="#ffea00"/>
<circle cx="1341.6" cy="338.1" r="5.35" fill="#b70002"/>
<circle cx="1426.3" cy="370.2" r="5.35" fill="#fffa00"/>
<circle cx="1412.3" cy="231.4" r="5.35" fill="#84ff8e"/>
<circle cx="1343.5" cy="360.5" r="5.35" fill="#f40001"/>
<circle cx="1429.0" cy="404.2" r="5.35" fill="#5eff9c"/>
<circle cx="1283.0" cy="506.7" r="5.35" fill="#5688ff"/>
<circle cx="1525.8" cy="332.6" r="5.35" fill="#45ffd3"/>
<circle cx="1509.2" cy="344.8" r="5.35" fill="#51ffb2"/>
<circle cx="1390.2" cy="277.7" r="5.35" fill="#ff9200"/>
<circle cx="1390.7" cy="325.0" r="5.35" fill="#a90002"/>
<circle cx="1571.1" cy="349.8" r="5.35" fill="#4e69ff"/>
<circle cx="1406.7" cy="322.0" r="5.35" fill="#cb0002"/>
<circle cx="1481.3" cy="343.2" r="5.35" fill="#d5ff55"/>
<circle cx="1316.8" cy="393.8" r="5.35" fill="#ffba00"/>
<circle cx="1260.4" cy="239.5" r="5.35" fill="#3fe3ff"/>
<circle cx="1326.1" cy="406.0" r="5.35" fill="#ffcb00"/>
<circle cx="1417.1" cy="344.7" r="5.35" fill="#ff6900"/>
<circle cx="1297.2" cy="471.7" r="5.35" fill="#3effdd"/>
<circle cx="1268.7" cy="381.9" r="5.35" fill="#89ff8b"/>
<circle cx="1354.3" cy="308.0" r="5.35" fill="#f80000"/>
<circle cx="1422.6" cy="412.7" r="5.35" fill="#81ff8f"/>
<circle cx="1395.7" cy="380.9" r="5.35" fill="#ffb000"/>
<circle cx="1275.2" cy="242.1" r="5.35" fill="#44ffd6"/>
<circle cx="1268.1" cy="314.2" r="5.35" fill="#e9ff3c"/>
<circle cx="1411.7" cy="460.3" r="5.35" fill="#42ffd7"/>
<circle cx="1336.9" cy="410.9" r="5.35" fill="#ffdc00"/>
<circle cx="1373.3" cy="306.0" r="5.35" fill="#d30002"/>
<circle cx="1428.4" cy="331.3" r="5.35" fill="#ff4700"/>
<circle cx="1479.6" cy="235.0" r="5.35" fill="#3effde"/>
<circle cx="1437.8" cy="328.7" r="5.35" fill="#ff7100"/>
<circle cx="1491.7" cy="301.0" r="5.35" fill="#97ff84"/>
<circle cx="1404.5" cy="281.6" r="5.35" fill="#ff7f00"/>
<circle cx="1265.2" cy="208.3" r="5.35" fill="#5795ff"/>
<circle cx="1390.7" cy="426.6" r="5.35" fill="#cfff5b"/>
<circle cx="1390.3" cy="362.5" r="5.35" fill="#ff4700"/>
<circle cx="1453.2" cy="244.6" r="5.35" fill="#63ff9a"/>
<circle cx="1474.1" cy="245.1" r="5.35" fill="#50ffb8"/>
<circle cx="1537.7" cy="398.5" r="5.35" fill="#568aff"/>
<circle cx="1253.1" cy="366.9" r="5.35" fill="#4effbf"/>
<circle cx="1504.4" cy="290.2" r="5.35" fill="#4cffc4"/>
<circle cx="1373.0" cy="374.7" r="5.35" fill="#ff5a00"/>
<circle cx="1403.2" cy="257.4" r="5.35" fill="#ffef00"/>
<circle cx="1265.8" cy="288.5" r="5.35" fill="#bcff6b"/>
<circle cx="1472.8" cy="438.9" r="5.35" fill="#3fe2ff"/>
<circle cx="1409.9" cy="290.1" r="5.35" fill="#ff4a00"/>
<circle cx="1453.5" cy="247.5" r="5.35" fill="#83ff8e"/>
<circle cx="1266.1" cy="493.4" r="5.35" fill="#57aeff"/>
<circle cx="1337.2" cy="335.1" r="5.35" fill="#c90002"/>
<circle cx="1249.2" cy="383.5" r="5.35" fill="#36ffe7"/>
<circle cx="1407.1" cy="433.1" r="5.35" fill="#97ff84"/>
<circle cx="1501.0" cy="353.1" r="5.35" fill="#50ffb6"/>
<circle cx="1390.0" cy="308.6" r="5.35" fill="#c10002"/>
<circle cx="1476.8" cy="223.8" r="5.35" fill="#0bfffd"/>
<circle cx="1447.5" cy="289.2" r="5.35" fill="#ffc800"/>
<circle cx="1295.4" cy="302.9" r="5.35" fill="#ffa200"/>
<circle cx="1334.9" cy="332.1" r="5.35" fill="#d40002"/>
<circle cx="1423.7" cy="432.1" r="5.35" fill="#54ffa1"/>
<circle cx="1376.5" cy="332.8" r="5.35" fill="#8b0000"/>
<circle cx="1412.8" cy="293.7" r="5.35" fill="#ff2d00"/>
<circle cx="1264.0" cy="298.0" r="5.35" fill="#ceff5c"/>
<circle cx="1430.6" cy="318.5" r="5.35" fill="#ff1700"/>
<circle cx="1295.4" cy="345.5" r="5.35" fill="#ff9c00"/>
<circle cx="1277.8" cy="278.9" r="5.35" fill="#caff5f"/>
<circle cx="1327.7" cy="498.2" r="5.35" fill="#4ad3ff"/>
<circle cx="1369.1" cy="175.2" r="5.35" fill="#57a5ff"/>
<circle cx="1483.0" cy="325.6" r="5.35" fill="#efff33"/>
<circle cx="1422.5" cy="355.2" r="5.35" fill="#ffb200"/>
<circle cx="1398.4" cy="450.5" r="5.35" fill="#53ffa8"/>
<circle cx="1504.8" cy="338.6" r="5.35" fill="#71ff96"/>
<circle cx="1426.0" cy="288.2" r="5.35" fill="#ff7700"/>
<circle cx="1498.3" cy="256.0" r="5.35" fill="#43ffd6"/>
<circle cx="1448.5" cy="323.7" r="5.35" fill="#ff9e00"/>
<circle cx="1417.0" cy="455.9" r="5.35" fill="#46ffd1"/>
<circle cx="1273.4" cy="322.5" r="5.35" fill="#ffff03"/>
<circle cx="1408.3" cy="292.6" r="5.35" fill="#ff3200"/>
<circle cx="1317.0" cy="269.6" r="5.35" fill="#ffd800"/>
<circle cx="1369.2" cy="364.6" r="5.35" fill="#f00001"/>
<circle cx="1422.3" cy="431.0" r="5.35" fill="#5bff9d"/>
<circle cx="1342.3" cy="305.6" r="5.35" fill="#ff4b00"/>
<circle cx="1272.1" cy="267.5" r="5.35" fill="#53ffa9"/>
<circle cx="1441.9" cy="295.5" r="5.35" fill="#ffa700"/>
<circle cx="1266.3" cy="278.7" r="5.35" fill="#7bff92"/>
<circle cx="1337.3" cy="315.7" r="5.35" fill="#ff0400"/>
<circle cx="1315.4" cy="316.9" r="5.35" fill="#ff6200"/>
<circle cx="1382.9" cy="412.6" r="5.35" fill="#fffc00"/>
<circle cx="1329.4" cy="264.2" r="5.35" fill="#ffdf00"/>
<circle cx="1374.7" cy="244.8" r="5.35" fill="#c1ff67"/>
<circle cx="1448.7" cy="278.3" r="5.35" fill="#ffdc00"/>
<circle cx="1358.9" cy="290.3" r="5.35" fill="#ff4d00"/>
<circle cx="1290.1" cy="248.9" r="5.35" fill="#7fff90"/>
<circle cx="1318.0" cy="335.6" r="5.35" fill="#ff4100"/>
<circle cx="1507.0" cy="412.3" r="5.35" fill="#52c2ff"/>
<circle cx="1327.2" cy="296.1" r="5.35" fill="#ff7e00"/>
<circle cx="1280.6" cy="262.6" r="5.35" fill="#70ff96"/>
<circle cx="1284.7" cy="294.7" r="5.35" fill="#ffd700"/>
<circle cx="1521.4" cy="326.9" r="5.35" fill="#4dffc0"/>
<circle cx="1353.9" cy="320.4" r="5.35" fill="#c10002"/>
<circle cx="1375.4" cy="449.3" r="5.35" fill="#62ff9b"/>
<circle cx="1440.5" cy="220.6" r="5.35" fill="#3fffdd"/>
<circle cx="1319.4" cy="481.3" r="5.35" fill="#2cfff0"/>
<circle cx="1458.9" cy="285.9" r="5.35" fill="#fffa00"/>
<circle cx="1275.8" cy="470.7" r="5.35" fill="#3effde"/>
<circle cx="1331.2" cy="171.2" r="5.35" fill="#4350ff"/>
<circle cx="1243.3" cy="291.5" r="5.35" fill="#2dffef"/>
<circle cx="1420.8" cy="286.0" r="5.35" fill="#ff7400"/>
<circle cx="1367.2" cy="330.7" r="5.35" fill="#8b0000"/>
<circle cx="1360.3" cy="260.5" r="5.35" fill="#ffcf00"/>
<circle cx="1467.2" cy="316.9" r="5.35" fill="#ffe100"/>
<circle cx="1294.2" cy="439.7" r="5.35" fill="#50ffb9"/>
<circle cx="1359.9" cy="386.0" r="5.35" fill="#ff8b00"/>
<circle cx="1339.4" cy="253.3" r="5.35" fill="#fff700"/>
<circle cx="1530.3" cy="400.4" r="5.35" fill="#57a5ff"/>
<circle cx="1395.1" cy="550.6" r="5.35" fill="#4656ff"/>
<circle cx="1460.9" cy="326.5" r="5.35" fill="#ffcb00"/>
<circle cx="1469.3" cy="331.0" r="5.35" fill="#ffe700"/>
<circle cx="1525.7" cy="282.8" r="5.35" fill="#04fffe"/>
<circle cx="1409.7" cy="425.1" r="5.35" fill="#a8ff7a"/>
<circle cx="1366.2" cy="388.5" r="5.35" fill="#ff9600"/>
<circle cx="1328.3" cy="342.6" r="5.35" fill="#f80000"/>
<circle cx="1491.7" cy="310.5" r="5.35" fill="#b9ff6e"/>
<circle cx="1478.4" cy="383.3" r="5.35" fill="#50ffb7"/>
<circle cx="1421.3" cy="283.6" r="5.35" fill="#ff8000"/>
<circle cx="1411.1" cy="303.7" r="5.35" fill="#dc0001"/>
<circle cx="1309.5" cy="390.6" r="5.35" fill="#ffca00"/>
<circle cx="1364.0" cy="359.6" r="5.35" fill="#cf0002"/>
<circle cx="1393.5" cy="375.0" r="5.35" fill="#ff9300"/>
<circle cx="1270.9" cy="381.8" r="5.35" fill="#98ff83"/>
<circle cx="1377.5" cy="412.3" r="5.35" fill="#fff700"/>
<circle cx="1318.9" cy="373.5" r="5.35" fill="#ff9b00"/>
<circle cx="1402.7" cy="342.6" r="5.35" fill="#f60000"/>
<circle cx="1402.4" cy="530.3" r="5.35" fill="#578bff"/>
<circle cx="1242.3" cy="465.9" r="5.35" fill="#57aeff"/>
<circle cx="1339.9" cy="293.3" r="5.35" fill="#ff7800"/>
<circle cx="1307.4" cy="403.0" r="5.35" fill="#fff100"/>
<circle cx="1406.9" cy="299.2" r="5.35" fill="#eb0001"/>
<circle cx="1315.0" cy="321.8" r="5.35" fill="#ff5c00"/>
<circle cx="1257.4" cy="317.4" r="5.35" fill="#94ff85"/>
<circle cx="1341.8" cy="515.4" r="5.35" fill="#54bcff"/>
<circle cx="1344.1" cy="244.9" r="5.35" fill="#dfff4a"/>
<circle cx="1416.4" cy="445.8" r="5.35" fill="#51ffb2"/>
<circle cx="1536.8" cy="368.6" r="5.35" fill="#5897ff"/>
<circle cx="1420.9" cy="269.8" r="5.35" fill="#ffb800"/>
<circle cx="1379.8" cy="331.7" r="5.35" fill="#8e0000"/>
<circle cx="1308.5" cy="342.8" r="5.35" fill="#ff7000"/>
<circle cx="1369.9" cy="354.0" r="5.35" fill="#bf0002"/>
<circle cx="1254.2" cy="291.6" r="5.35" fill="#53ffa6"/>
<circle cx="1347.7" cy="317.7" r="5.35" fill="#dd0001"/>
<circle cx="1371.1" cy="391.4" r="5.35" fill="#ffa600"/>
<circle cx="1338.3" cy="337.6" r="5.35" fill="#c40002"/>
<circle cx="1318.3" cy="391.6" r="5.35" fill="#ffb300"/>
<circle cx="1268.0" cy="438.6" r="5.35" fill="#41ffd9"/>
<circle cx="1468.6" cy="276.7" r="5.35" fill="#c1ff67"/>
<circle cx="1520.2" cy="442.6" r="5.35" fill="#4656ff"/>
<circle cx="1280.6" cy="330.6" r="5.35" fill="#ffe200"/>
<circle cx="1343.0" cy="484.0" r="5.35" fill="#39ffe4"/>
<circle cx="1496.3" cy="291.0" r="5.35" fill="#53ffa9"/>
<circle cx="1265.0" cy="408.9" r="5.35" fill="#44ffd4"/>
<circle cx="1245.2" cy="306.5" r="5.35" fill="#44ffd4"/>
<circle cx="1545.8" cy="363.2" r="5.35" fill="#5276ff"/>
<circle cx="1297.0" cy="394.2" r="5.35" fill="#f4ff29"/>
<circle cx="1423.8" cy="305.4" r="5.35" fill="#f50000"/>
<circle cx="1279.4" cy="292.1" r="5.35" fill="#fff100"/>
<circle cx="1366.0" cy="426.9" r="5.35" fill="#cbff5f"/>
<circle cx="1330.7" cy="288.0" r="5.35" fill="#ff9100"/>
<circle cx="1473.9" cy="357.3" r="5.35" fill="#c1ff68"/>
<circle cx="1255.4" cy="306.5" r="5.35" fill="#83ff8e"/>
<circle cx="1305.1" cy="280.0" r="5.35" fill="#ffba00"/>
<circle cx="1338.2" cy="400.5" r="5.35" fill="#ffc100"/>
<circle cx="1305.2" cy="317.3" r="5.35" fill="#ff8400"/>
<circle cx="1271.4" cy="363.2" r="5.35" fill="#d9ff51"/>
<circle cx="1497.3" cy="228.9" r="5.35" fill="#3ee4ff"/>
<circle cx="1437.0" cy="427.3" r="5.35" fill="#51ffb2"/>
<circle cx="1525.1" cy="283.8" r="5.35" fill="#0cfffd"/>
<circle cx="1442.1" cy="345.2" r="5.35" fill="#ffc500"/>
<circle cx="1363.8" cy="178.6" r="5.35" fill="#57a9ff"/>
<circle cx="1314.5" cy="425.0" r="5.35" fill="#c9ff61"/>
<circle cx="1366.5" cy="322.5" r="5.35" fill="#9c0002"/>
<circle cx="1475.3" cy="231.4" r="5.35" fill="#39ffe4"/>
<circle cx="1385.1" cy="398.8" r="5.35" fill="#ffd600"/>
<circle cx="1439.4" cy="307.2" r="5.35" fill="#ff8100"/>
<circle cx="1382.3" cy="365.2" r="5.35" fill="#ff3c00"/>
<circle cx="1391.8" cy="445.8" r="5.35" fill="#79ff93"/>
<circle cx="1297.5" cy="460.4" r="5.35" fill="#48ffce"/>
<circle cx="1370.6" cy="209.1" r="5.35" fill="#39ffe4"/>
<circle cx="1365.7" cy="340.4" r="5.35" fill="#8b0000"/>
<circle cx="1419.6" cy="327.4" r="5.35" fill="#ec0001"/>
<circle cx="1427.8" cy="320.5" r="5.35" fill="#f60000"/>
<circle cx="1553.8" cy="324.3" r="5.35" fill="#58a2ff"/>
<circle cx="1327.9" cy="436.6" r="5.35" fill="#8dff89"/>
<circle cx="1325.1" cy="290.5" r="5.35" fill="#ff8b00"/>
<circle cx="1381.9" cy="449.0" r="5.35" fill="#6aff98"/>
<circle cx="1464.5" cy="222.0" r="5.35" fill="#1efff7"/>
<circle cx="1396.0" cy="355.0" r="5.35" fill="#ff2700"/>
<circle cx="1416.7" cy="395.8" r="5.35" fill="#d4ff56"/>
<circle cx="1324.9" cy="356.2" r="5.35" fill="#ff6700"/>
<circle cx="1449.3" cy="515.7" r="5.35" fill="#5172ff"/>
<circle cx="1337.9" cy="324.0" r="5.35" fill="#dd0001"/>
<circle cx="1430.3" cy="492.4" r="5.35" fill="#56b3ff"/>
<circle cx="1266.1" cy="252.8" r="5.35" fill="#3affe3"/>
<circle cx="1314.6" cy="287.4" r="5.35" fill="#ff9000"/>
<circle cx="1357.9" cy="315.0" r="5.35" fill="#d10002"/>
<circle cx="1411.1" cy="323.0" r="5.35" fill="#d20002"/>
<circle cx="1356.0" cy="361.2" r="5.35" fill="#d60002"/>
<circle cx="1357.4" cy="311.7" r="5.35" fill="#e10001"/>
<circle cx="1452.3" cy="343.0" r="5.35" fill="#ffd300"/>
<circle cx="1491.7" cy="334.4" r="5.35" fill="#c2ff67"/>
<circle cx="1406.0" cy="584.2" r="5.35" fill="#3d46ff"/>
<circle cx="1401.6" cy="459.9" r="5.35" fill="#4affc8"/>
<circle cx="1387.1" cy="197.9" r="5.35" fill="#0dfffd"/>
<circle cx="1422.7" cy="294.0" r="5.35" fill="#ff4e00"/>
<circle cx="1324.7" cy="365.9" r="5.35" fill="#ff8300"/>
<circle cx="1450.6" cy="275.9" r="5.35" fill="#ffe700"/>
<circle cx="1390.4" cy="375.5" r="5.35" fill="#ff8d00"/>
<circle cx="1311.6" cy="403.8" r="5.35" fill="#ffe400"/>
<circle cx="1335.5" cy="323.8" r="5.35" fill="#e50001"/>
<circle cx="1387.0" cy="304.7" r="5.35" fill="#cf0002"/>
<circle cx="1381.0" cy="336.3" r="5.35" fill="#970001"/>
<circle cx="1508.4" cy="216.4" r="5.35" fill="#5896ff"/>
<circle cx="1373.2" cy="331.9" r="5.35" fill="#8b0000"/>
<circle cx="1511.0" cy="333.4" r="5.35" fill="#5bff9d"/>
<circle cx="1353.2" cy="630.7" r="5.35" fill="#3438ff"/>
<circle cx="1271.0" cy="462.1" r="5.35" fill="#46ffd2"/>
<circle cx="1332.8" cy="473.4" r="5.35" fill="#43ffd6"/>
<circle cx="1379.8" cy="324.5" r="5.35" fill="#910001"/>
<circle cx="1388.3" cy="266.4" r="5.35" fill="#ffcd00"/>
<circle cx="1320.3" cy="436.0" r="5.35" fill="#88ff8c"/>
<circle cx="1291.8" cy="399.2" r="5.35" fill="#c1ff67"/>
<circle cx="1334.9" cy="200.2" r="5.35" fill="#4fcaff"/>
<circle cx="1404.0" cy="485.6" r="5.35" fill="#23fff5"/>
<circle cx="1357.6" cy="284.9" r="5.35" fill="#ff6400"/>
<circle cx="1478.5" cy="433.5" r="5.35" fill="#44ddff"/>
<circle cx="1302.1" cy="393.9" r="5.35" fill="#fff000"/>
<circle cx="1509.2" cy="405.4" r="5.35" fill="#42dfff"/>
<circle cx="1349.5" cy="381.9" r="5.35" fill="#ff8200"/>
<circle cx="1294.9" cy="294.3" r="5.35" fill="#ffab00"/>
<circle cx="1342.9" cy="367.9" r="5.35" fill="#ff4500"/>
<circle cx="1396.2" cy="398.1" r="5.35" fill="#ffe700"/>
<circle cx="1378.3" cy="411.6" r="5.35" fill="#fff500"/>
<circle cx="1425.8" cy="331.7" r="5.35" fill="#ff3a00"/>
<circle cx="1389.2" cy="328.1" r="5.35" fill="#a50002"/>
<circle cx="1390.0" cy="425.5" r="5.35" fill="#d3ff57"/>
<circle cx="1449.9" cy="326.5" r="5.35" fill="#ffa600"/>
<circle cx="1306.3" cy="334.3" r="5.35" fill="#ff7300"/>
<circle cx="1404.6" cy="287.6" r="5.35" fill="#ff5900"/>
<circle cx="1433.5" cy="288.5" r="5.35" fill="#ff9000"/>
<circle cx="1341.4" cy="366.1" r="5.35" fill="#ff4100"/>
<circle cx="1353.4" cy="454.4" r="5.35" fill="#52ffb0"/>
<circle cx="1349.5" cy="263.2" r="5.35" fill="#ffbd00"/>
<circle cx="1347.9" cy="279.8" r="5.35" fill="#ff8500"/>
<circle cx="1472.7" cy="258.5" r="5.35" fill="#70ff96"/>
<circle cx="1462.8" cy="345.3" r="5.35" fill="#fff100"/>
<circle cx="1304.2" cy="292.9" r="5.35" fill="#ff8d00"/>
<circle cx="1255.0" cy="354.9" r="5.35" fill="#51ffb2"/>
<circle cx="1360.8" cy="391.0" r="5.35" fill="#ffa100"/>
<circle cx="1364.0" cy="328.5" r="5.35" fill="#8d0000"/>
<circle cx="1373.9" cy="249.2" r="5.35" fill="#dcff4d"/>
<circle cx="1371.3" cy="289.8" r="5.35" fill="#ff4000"/>
<circle cx="1401.7" cy="279.5" r="5.35" fill="#ff8a00"/>
<circle cx="1360.5" cy="402.2" r="5.35" fill="#ffcd00"/>
<circle cx="1246.1" cy="384.7" r="5.35" fill="#19fff9"/>
<circle cx="1254.4" cy="375.0" r="5.35" fill="#4effbf"/>
<circle cx="1348.8" cy="339.1" r="5.35" fill="#9d0002"/>
<circle cx="1352.3" cy="389.9" r="5.35" fill="#ffa200"/>
<circle cx="1381.3" cy="284.0" r="5.35" fill="#ff6900"/>
<circle cx="1362.1" cy="340.1" r="5.35" fill="#8b0000"/>
<circle cx="1373.6" cy="292.1" r="5.35" fill="#ff2c00"/>
<circle cx="1432.1" cy="247.0" r="5.35" fill="#d3ff57"/>
<circle cx="1299.0" cy="264.7" r="5.35" fill="#f1ff2f"/>
<circle cx="1437.7" cy="327.1" r="5.35" fill="#ff6b00"/>
<circle cx="1458.6" cy="273.6" r="5.35" fill="#efff33"/>
<circle cx="1251.9" cy="363.2" r="5.35" fill="#4cffc5"/>
<circle cx="1524.8" cy="300.1" r="5.35" fill="#20fff6"/>
<circle cx="1273.1" cy="318.3" r="5.35" fill="#ffff00"/>
<circle cx="1414.3" cy="346.1" r="5.35" fill="#ff6300"/>
<circle cx="1399.2" cy="356.8" r="5.35" fill="#ff4900"/>
<circle cx="1297.4" cy="339.6" r="5.35" fill="#ff9300"/>
<circle cx="1269.7" cy="333.5" r="5.35" fill="#e6ff41"/>
<circle cx="1454.1" cy="504.6" r="5.35" fill="#5582ff"/>
<circle cx="1542.6" cy="290.0" r="5.35" fill="#57acff"/>
<circle cx="1559.1" cy="303.5" r="5.35" fill="#5688ff"/>
<circle cx="1290.8" cy="295.4" r="5.35" fill="#ffbb00"/>
<circle cx="1273.1" cy="356.2" r="5.35" fill="#efff33"/>
<circle cx="1404.8" cy="319.8" r="5.35" fill="#c60002"/>
<circle cx="1508.6" cy="381.5" r="5.35" fill="#34ffe8"/>
<circle cx="1380.8" cy="312.8" r="5.35" fill="#b00002"/>
<circle cx="1455.3" cy="380.3" r="5.35" fill="#7bff92"/>
<circle cx="1293.9" cy="437.2" r="5.35" fill="#50ffb6"/>
<circle cx="1458.8" cy="303.9" r="5.35" fill="#ffde00"/>
<circle cx="1471.9" cy="371.5" r="5.35" fill="#82ff8f"/>
<circle cx="1413.8" cy="446.6" r="5.35" fill="#51ffb1"/>
<circle cx="1330.0" cy="275.1" r="5.35" fill="#ffb600"/>
<circle cx="1334.2" cy="296.8" r="5.35" fill="#ff7900"/>
<circle cx="1299.3" cy="300.0" r="5.35" fill="#ff9300"/>
<circle cx="1359.0" cy="516.8" r="5.35" fill="#52c0ff"/>
<circle cx="1504.2" cy="482.1" r="5.35" fill="#414cff"/>
<circle cx="1315.9" cy="478.2" r="5.35" fill="#33ffea"/>
<circle cx="1336.1" cy="318.7" r="5.35" fill="#f60000"/>
<circle cx="1373.5" cy="297.4" r="5.35" fill="#f50000"/>
<circle cx="1359.8" cy="453.0" r="5.35" fill="#52ffac"/>
<circle cx="1286.8" cy="488.5" r="5.35" fill="#3be7ff"/>
<circle cx="1509.8" cy="382.1" r="5.35" fill="#32ffeb"/>
<circle cx="1386.2" cy="410.4" r="5.35" fill="#fffa00"/>
<circle cx="1314.5" cy="290.2" r="5.35" fill="#ff8700"/>
<circle cx="1371.4" cy="403.2" r="5.35" fill="#ffd300"/>
<circle cx="1364.5" cy="386.0" r="5.35" fill="#ff8a00"/>
<circle cx="1388.0" cy="274.1" r="5.35" fill="#ffa600"/>
<circle cx="1287.2" cy="361.2" r="5.35" fill="#ffd300"/>
<circle cx="1554.1" cy="448.8" r="5.35" fill="#3f4aff"/>
<circle cx="1253.3" cy="332.6" r="5.35" fill="#51ffb1"/>
<circle cx="1370.8" cy="404.4" r="5.35" fill="#ffd700"/>
<circle cx="1388.2" cy="310.7" r="5.35" fill="#b90002"/>
<circle cx="1270.4" cy="279.7" r="5.35" fill="#a3ff7d"/>
<circle cx="1413.3" cy="241.7" r="5.35" fill="#ccff5e"/>
<circle cx="1320.1" cy="325.2" r="5.35" fill="#ff3e00"/>
<circle cx="1473.7" cy="492.5" r="5.35" fill="#547dff"/>
<circle cx="1422.3" cy="358.1" r="5.35" fill="#ffbd00"/>
<circle cx="1484.3" cy="263.2" r="5.35" fill="#52ffac"/>
<circle cx="1288.0" cy="338.1" r="5.35" fill="#ffbc00"/>
<circle cx="1313.2" cy="234.7" r="5.35" fill="#53ffa9"/>
<circle cx="1274.4" cy="329.7" r="5.35" fill="#fffd00"/>
<circle cx="1284.4" cy="417.8" r="5.35" fill="#50ffb5"/>
<circle cx="1504.3" cy="301.6" r="5.35" fill="#52ffb0"/>
<circle cx="1361.4" cy="420.2" r="5.35" fill="#e8ff3f"/>
<circle cx="1440.4" cy="338.6" r="5.35" fill="#ffa400"/>
<circle cx="1408.8" cy="254.2" r="5.35" fill="#fff700"/>
<circle cx="1428.9" cy="301.7" r="5.35" fill="#ff4800"/>
<circle cx="1280.0" cy="236.0" r="5.35" fill="#44ffd4"/>
<circle cx="1388.1" cy="430.9" r="5.35" fill="#c4ff65"/>
<circle cx="1423.4" cy="350.6" r="5.35" fill="#ffa200"/>
<circle cx="1418.7" cy="360.5" r="5.35" fill="#ffb600"/>
<circle cx="1356.8" cy="323.8" r="5.35" fill="#ab0002"/>
<circle cx="1458.3" cy="179.9" r="5.35" fill="#5581ff"/>
<circle cx="1334.5" cy="321.9" r="5.35" fill="#ef0001"/>
<circle cx="1457.4" cy="486.3" r="5.35" fill="#57a8ff"/>
<circle cx="1382.5" cy="506.1" r="5.35" fill="#2bf3ff"/>
<circle cx="1410.2" cy="462.6" r="5.35" fill="#40ffdb"/>
<circle cx="1435.2" cy="346.1" r="5.35" fill="#ffb700"/>
<circle cx="1416.7" cy="309.8" r="5.35" fill="#d50002"/>
<circle cx="1459.7" cy="421.9" r="5.35" fill="#48ffce"/>
<circle cx="1300.5" cy="399.5" r="5.35" fill="#f7ff22"/>
<circle cx="1360.1" cy="325.2" r="5.35" fill="#9e0002"/>
<circle cx="1336.1" cy="313.5" r="5.35" fill="#ff2f00"/>
<circle cx="1341.3" cy="373.0" r="5.35" fill="#ff6700"/>
<circle cx="1514.2" cy="337.8" r="5.35" fill="#52ffae"/>
<circle cx="1459.0" cy="440.2" r="5.35" fill="#29fff1"/>
<circle cx="1331.9" cy="301.0" r="5.35" fill="#ff7000"/>
<circle cx="1369.3" cy="376.1" r="5.35" fill="#ff5a00"/>
<circle cx="1490.5" cy="572.2" r="5.35" fill="#2c2eff"/>
<circle cx="1345.7" cy="172.5" r="5.35" fill="#4e68ff"/>
<circle cx="1330.8" cy="395.1" r="5.35" fill="#ffb000"/>
<circle cx="1335.1" cy="366.8" r="5.35" fill="#ff6100"/>
<circle cx="1346.1" cy="309.2" r="5.35" fill="#ff2300"/>
<circle cx="1504.4" cy="350.1" r="5.35" fill="#50ffb6"/>
<circle cx="1249.5" cy="376.3" r="5.35" fill="#40ffdb"/>
<circle cx="1308.9" cy="335.3" r="5.35" fill="#ff6900"/>
<circle cx="1264.1" cy="191.8" r="5.35" fill="#4657ff"/>
<circle cx="1342.5" cy="333.2" r="5.35" fill="#b60002"/>
<circle cx="1402.0" cy="426.0" r="5.35" fill="#bcff6b"/>
<circle cx="1318.3" cy="326.7" r="5.35" fill="#ff4400"/>
<circle cx="1295.4" cy="236.1" r="5.35" fill="#52ffaf"/>
<circle cx="1323.6" cy="332.3" r="5.35" fill="#ff0700"/>
<circle cx="1353.1" cy="343.5" r="5.35" fill="#960001"/>
<circle cx="1371.5" cy="433.0" r="5.35" fill="#b6ff70"/>
<circle cx="1370.0" cy="189.8" r="5.35" fill="#3be7ff"/>
<circle cx="1519.0" cy="392.3" r="5.35" fill="#2ef1ff"/>
<circle cx="1480.6" cy="337.7" r="5.35" fill="#e8ff3f"/>
<circle cx="1385.2" cy="233.9" r="5.35" fill="#77ff93"/>
<circle cx="1450.2" cy="366.4" r="5.35" fill="#d2ff58"/>
<circle cx="1408.5" cy="353.2" r="5.35" fill="#ff6600"/>
<circle cx="1353.0" cy="301.3" r="5.35" fill="#ff3800"/>
<circle cx="1427.0" cy="374.8" r="5.35" fill="#eeff34"/>
<circle cx="1298.6" cy="296.4" r="5.35" fill="#ff9900"/>
<circle cx="1256.9" cy="369.0" r="5.35" fill="#52ffab"/>
<circle cx="1264.9" cy="391.1" r="5.35" fill="#52ffaf"/>
<circle cx="1242.6" cy="302.6" r="5.35" fill="#35ffe8"/>
<circle cx="1433.2" cy="465.5" r="5.35" fill="#18faff"/>
<circle cx="1391.5" cy="340.2" r="5.35" fill="#c50002"/>
<circle cx="1306.4" cy="375.2" r="5.35" fill="#ffbd00"/>
<circle cx="1337.9" cy="406.6" r="5.35" fill="#ffd000"/>
<circle cx="1399.4" cy="325.7" r="5.35" fill="#c30002"/>
<circle cx="1368.7" cy="283.4" r="5.35" fill="#ff6500"/>
<circle cx="1315.3" cy="294.5" r="5.35" fill="#ff7c00"/>
<circle cx="1460.0" cy="232.7" r="5.35" fill="#46ffd0"/>
<circle cx="1399.1" cy="614.5" r="5.35" fill="#2e30ff"/>
<circle cx="1364.7" cy="325.7" r="5.35" fill="#940001"/>
<circle cx="1473.6" cy="413.8" r="5.35" fill="#41ffda"/>
<circle cx="1294.9" cy="468.4" r="5.35" fill="#42ffd8"/>
<circle cx="1351.9" cy="248.3" r="5.35" fill="#feff08"/>
<circle cx="1404.6" cy="279.7" r="5.35" fill="#ff8900"/>
<circle cx="1345.1" cy="166.0" r="5.35" fill="#4655ff"/>
<circle cx="1416.8" cy="282.7" r="5.35" fill="#ff7f00"/>
<circle cx="1357.8" cy="241.8" r="5.35" fill="#d0ff5a"/>
<circle cx="1399.3" cy="372.1" r="5.35" fill="#ff9700"/>
<circle cx="1435.2" cy="333.1" r="5.35" fill="#ff7500"/>
<circle cx="1405.3" cy="358.9" r="5.35" fill="#ff7100"/>
<circle cx="1443.1" cy="333.9" r="5.35" fill="#ff9b00"/>
<circle cx="1460.4" cy="322.5" r="5.35" fill="#ffc900"/>
<circle cx="1383.1" cy="207.7" r="5.35" fill="#37ffe5"/>
<circle cx="1324.4" cy="380.3" r="5.35" fill="#ff9900"/>
<circle cx="1365.2" cy="220.6" r="5.35" fill="#4cffc3"/>
<circle cx="1321.6" cy="328.6" r="5.35" fill="#ff2b00"/>
<circle cx="1281.2" cy="238.9" r="5.35" fill="#4affc8"/>
<circle cx="1340.0" cy="287.9" r="5.35" fill="#ff8400"/>
<circle cx="1458.7" cy="278.1" r="5.35" fill="#f9ff1e"/>
<circle cx="1515.5" cy="385.5" r="5.35" fill="#1cfff8"/>
<circle cx="1354.5" cy="459.7" r="5.35" fill="#50ffb7"/>
<circle cx="1264.7" cy="282.1" r="5.35" fill="#8bff8a"/>
<circle cx="1248.1" cy="437.7" r="5.35" fill="#45dcff"/>
<circle cx="1430.4" cy="496.3" r="5.35" fill="#57aeff"/>
<circle cx="1251.9" cy="281.4" r="5.35" fill="#47ffcf"/>
<circle cx="1496.9" cy="333.2" r="5.35" fill="#afff75"/>
<circle cx="1306.6" cy="391.9" r="5.35" fill="#ffd800"/>
<circle cx="1404.9" cy="305.3" r="5.35" fill="#d30002"/>
<circle cx="1382.0" cy="222.7" r="5.35" fill="#4fffb9"/>
<circle cx="1293.4" cy="370.3" r="5.35" fill="#ffd800"/>
<circle cx="1293.7" cy="257.0" r="5.35" fill="#b9ff6d"/>
<circle cx="1401.9" cy="290.0" r="5.35" fill="#ff4600"/>
<circle cx="1306.3" cy="360.1" r="5.35" fill="#ffa000"/>
<circle cx="1426.6" cy="635.1" r="5.35" fill="#1b1aff"/>
<circle cx="1379.3" cy="476.4" r="5.35" fill="#43ffd6"/>
<circle cx="1540.1" cy="222.8" r="5.35" fill="#4f6aff"/>
<circle cx="1510.3" cy="388.7" r="5.35" fill="#2bfff0"/>
<circle cx="1276.1" cy="366.8" r="5.35" fill="#edff37"/>
<circle cx="1352.9" cy="344.2" r="5.35" fill="#980001"/>
<circle cx="1456.6" cy="354.3" r="5.35" fill="#ffff00"/>
<circle cx="1494.2" cy="322.8" r="5.35" fill="#c3ff66"/>
<circle cx="1353.5" cy="423.0" r="5.35" fill="#d9ff50"/>
<circle cx="1365.3" cy="420.7" r="5.35" fill="#e7ff3f"/>
<circle cx="1414.7" cy="331.6" r="5.35" fill="#f30001"/>
<circle cx="1516.7" cy="349.3" r="5.35" fill="#44ffd4"/>
<circle cx="1482.8" cy="355.9" r="5.35" fill="#99ff83"/>
<circle cx="1546.5" cy="176.7" r="5.35" fill="#3d45ff"/>
<circle cx="1468.6" cy="250.2" r="5.35" fill="#54ffa1"/>
<circle cx="1389.7" cy="315.2" r="5.35" fill="#af0002"/>
<circle cx="1317.5" cy="422.3" r="5.35" fill="#e2ff46"/>
<circle cx="1517.9" cy="301.1" r="5.35" fill="#3cffe0"/>
<circle cx="1383.0" cy="262.0" r="5.35" fill="#ffe400"/>
<circle cx="1302.6" cy="390.5" r="5.35" fill="#ffe600"/>
<circle cx="1303.3" cy="301.6" r="5.35" fill="#ff8400"/>
<circle cx="1372.8" cy="382.8" r="5.35" fill="#ff8300"/>
<circle cx="1337.0" cy="287.9" r="5.35" fill="#ff8a00"/>
<circle cx="1521.0" cy="522.5" r="5.35" fill="#3a41ff"/>
<circle cx="1424.1" cy="459.3" r="5.35" fill="#37ffe6"/>
<circle cx="1306.7" cy="467.0" r="5.35" fill="#42ffd8"/>
<circle cx="1405.8" cy="231.5" r="5.35" fill="#8aff8b"/>
<circle cx="1387.1" cy="233.9" r="5.35" fill="#7bff92"/>
<circle cx="1374.7" cy="470.4" r="5.35" fill="#49ffcb"/>
<circle cx="1285.6" cy="399.3" r="5.35" fill="#96ff85"/>
<circle cx="1389.6" cy="342.0" r="5.35" fill="#c30002"/>
<circle cx="1283.7" cy="439.6" r="5.35" fill="#4cffc4"/>
<circle cx="1292.8" cy="416.8" r="5.35" fill="#6cff98"/>
<circle cx="1312.9" cy="377.3" r="5.35" fill="#ffad00"/>
<circle cx="1371.0" cy="328.2" r="5.35" fill="#8b0000"/>
<circle cx="1332.2" cy="415.5" r="5.35" fill="#ffe900"/>
<circle cx="1284.0" cy="295.6" r="5.35" fill="#ffd800"/>
<circle cx="1303.7" cy="242.0" r="5.35" fill="#84ff8d"/>
<circle cx="1362.3" cy="388.6" r="5.35" fill="#ff9600"/>
<circle cx="1353.5" cy="290.6" r="5.35" fill="#ff5a00"/>
<circle cx="1465.7" cy="373.5" r="5.35" fill="#8fff88"/>
<circle cx="1269.2" cy="342.3" r="5.35" fill="#ddff4c"/>
<circle cx="1302.8" cy="343.8" r="5.35" fill="#ff8200"/>
<circle cx="1342.5" cy="344.4" r="5.35" fill="#bb0002"/>
<circle cx="1423.2" cy="275.1" r="5.35" fill="#ffa600"/>
<circle cx="1281.4" cy="336.2" r="5.35" fill="#ffdc00"/>
<circle cx="1467.7" cy="302.0" r="5.35" fill="#fffc00"/>
<circle cx="1486.7" cy="342.7" r="5.35" fill="#beff6a"/>
<circle cx="1486.1" cy="271.9" r="5.35" fill="#53ffa8"/>
<circle cx="1461.4" cy="396.4" r="5.35" fill="#50ffb6"/>
<circle cx="1380.6" cy="350.5" r="5.35" fill="#c90002"/>
<circle cx="1459.3" cy="354.5" r="5.35" fill="#f9ff1d"/>
<circle cx="1353.0" cy="298.9" r="5.35" fill="#ff4200"/>
<circle cx="1302.9" cy="270.1" r="5.35" fill="#ffeb00"/>
<circle cx="1362.1" cy="328.8" r="5.35" fill="#8f0000"/>
<circle cx="1397.5" cy="303.5" r="5.35" fill="#d60002"/>
<circle cx="1312.9" cy="486.5" r="5.35" fill="#06fffe"/>
<circle cx="1267.7" cy="358.0" r="5.35" fill="#c6ff63"/>
<circle cx="1300.8" cy="289.9" r="5.35" fill="#ffa000"/>
<circle cx="1357.4" cy="481.4" r="5.35" fill="#40ffdc"/>
<circle cx="1378.7" cy="281.8" r="5.35" fill="#ff7600"/>
<circle cx="1332.9" cy="397.5" r="5.35" fill="#ffb600"/>
<circle cx="1304.7" cy="439.0" r="5.35" fill="#52ffab"/>
<circle cx="1444.8" cy="415.7" r="5.35" fill="#50ffb8"/>
<circle cx="1369.2" cy="397.2" r="5.35" fill="#ffbb00"/>
<circle cx="1274.0" cy="344.7" r="5.35" fill="#ffff03"/>
<circle cx="1255.6" cy="308.7" r="5.35" fill="#86ff8d"/>
<circle cx="1246.5" cy="363.6" r="5.35" fill="#38ffe5"/>
<circle cx="1332.4" cy="338.8" r="5.35" fill="#df0001"/>
<circle cx="1278.4" cy="381.8" r="5.35" fill="#c0ff68"/>
<circle cx="1378.3" cy="310.4" r="5.35" fill="#bb0002"/>
<circle cx="1393.8" cy="318.1" r="5.35" fill="#b30002"/>
<circle cx="1334.5" cy="220.2" r="5.35" fill="#44ffd4"/>
<circle cx="1496.5" cy="331.1" r="5.35" fill="#b5ff71"/>
<circle cx="1387.5" cy="274.1" r="5.35" fill="#ffa600"/>
<circle cx="1333.3" cy="246.9" r="5.35" fill="#d0ff5a"/>
<circle cx="1382.0" cy="384.1" r="5.35" fill="#ff9c00"/>
<circle cx="1441.2" cy="308.9" r="5.35" fill="#ff8900"/>
<circle cx="1517.6" cy="365.3" r="5.35" fill="#1cfff8"/>
<circle cx="1311.5" cy="328.7" r="5.35" fill="#ff6200"/>
<circle cx="1370.7" cy="308.0" r="5.35" fill="#d00002"/>
<circle cx="1403.7" cy="447.2" r="5.35" fill="#53ffa5"/>
<circle cx="1402.6" cy="294.8" r="5.35" fill="#ff0000"/>
<circle cx="1335.0" cy="298.5" r="5.35" fill="#ff7300"/>
<circle cx="1484.8" cy="250.8" r="5.35" fill="#4effbf"/>
<circle cx="1366.5" cy="327.0" r="5.35" fill="#8e0000"/>
<circle cx="1315.9" cy="405.8" r="5.35" fill="#ffdc00"/>
<circle cx="1434.6" cy="444.3" r="5.35" fill="#48ffcd"/>
<circle cx="1279.6" cy="302.7" r="5.35" fill="#ffe200"/>
<circle cx="1356.0" cy="264.1" r="5.35" fill="#ffb900"/>
<circle cx="1310.0" cy="400.0" r="5.35" fill="#ffde00"/>
<circle cx="1392.8" cy="447.1" r="5.35" fill="#6cff98"/>
<circle cx="1358.0" cy="401.8" r="5.35" fill="#ffcc00"/>
<circle cx="1310.7" cy="234.9" r="5.35" fill="#53ffa9"/>
<circle cx="1422.3" cy="506.7" r="5.35" fill="#56b3ff"/>
<circle cx="1381.3" cy="316.7" r="5.35" fill="#a40002"/>
<circle cx="1411.9" cy="255.1" r="5.35" fill="#fff200"/>
<circle cx="1398.0" cy="281.1" r="5.35" fill="#ff8000"/>
<circle cx="1480.4" cy="475.8" r="5.35" fill="#568aff"/>
<circle cx="1387.7" cy="482.2" r="5.35" fill="#3bffe1"/>
<circle cx="1427.0" cy="281.7" r="5.35" fill="#ff9200"/>
<circle cx="1331.1" cy="220.4" r="5.35" fill="#43ffd6"/>
<circle cx="1351.4" cy="402.2" r="5.35" fill="#ffce00"/>
<circle cx="1319.6" cy="344.0" r="5.35" fill="#ff4e00"/>
<circle cx="1540.8" cy="323.0" r="5.35" fill="#46daff"/>
<circle cx="1249.8" cy="443.2" r="5.35" fill="#31efff"/>
<circle cx="1366.3" cy="224.7" r="5.35" fill="#51ffb4"/>
<circle cx="1491.2" cy="471.2" r="5.35" fill="#4f6aff"/>
<circle cx="1245.5" cy="255.8" r="5.35" fill="#56afff"/>
<circle cx="1396.3" cy="253.2" r="5.35" fill="#f8ff1e"/>
<circle cx="1346.9" cy="365.6" r="5.35" fill="#ff0d00"/>
<circle cx="1254.8" cy="295.1" r="5.35" fill="#60ff9c"/>
<circle cx="1474.1" cy="399.1" r="5.35" fill="#4bffc7"/>
<circle cx="1503.9" cy="321.2" r="5.35" fill="#90ff88"/>
<circle cx="1361.2" cy="373.6" r="5.35" fill="#ff4000"/>
<circle cx="1252.8" cy="401.4" r="5.35" fill="#29fff1"/>
<circle cx="1326.3" cy="492.5" r="5.35" fill="#34edff"/>
<circle cx="1394.4" cy="438.5" r="5.35" fill="#9fff7f"/>
<circle cx="1349.7" cy="238.1" r="5.35" fill="#b4ff71"/>
<circle cx="1496.2" cy="306.8" r="5.35" fill="#92ff87"/>
<circle cx="1296.1" cy="488.6" r="5.35" fill="#2ef0ff"/>
<circle cx="1261.8" cy="409.7" r="5.35" fill="#3effde"/>
<circle cx="1314.1" cy="376.7" r="5.35" fill="#ffaa00"/>
<circle cx="1330.8" cy="359.9" r="5.35" fill="#ff5a00"/>
<circle cx="1437.1" cy="361.9" r="5.35" fill="#fffe00"/>
<circle cx="1342.6" cy="331.0" r="5.35" fill="#ba0002"/>
<circle cx="1375.5" cy="313.0" r="5.35" fill="#b40002"/>
<circle cx="1423.2" cy="315.8" r="5.35" fill="#e10001"/>
<circle cx="1295.0" cy="311.6" r="5.35" fill="#ffa900"/>
<circle cx="1296.4" cy="384.2" r="5.35" fill="#fff300"/>
<circle cx="1360.7" cy="183.0" r="5.35" fill="#56b3ff"/>
<circle cx="1492.1" cy="262.5" r="5.35" fill="#4dffc0"/>
<circle cx="1348.1" cy="457.1" r="5.35" fill="#50ffb6"/>
<circle cx="1327.0" cy="324.2" r="5.35" fill="#ff0000"/>
<circle cx="1476.3" cy="262.7" r="5.35" fill="#6aff98"/>
<circle cx="1401.4" cy="232.7" r="5.35" fill="#90ff88"/>
<circle cx="1305.6" cy="315.7" r="5.35" fill="#ff8200"/>
<circle cx="1409.7" cy="200.8" r="5.35" fill="#2af3ff"/>
<circle cx="1416.4" cy="324.8" r="5.35" fill="#de0001"/>
<circle cx="1388.1" cy="301.3" r="5.35" fill="#dd0001"/>
<circle cx="1472.3" cy="333.5" r="5.35" fill="#fff300"/>
<circle cx="1307.0" cy="345.0" r="5.35" fill="#ff7900"/>
<circle cx="1303.8" cy="335.5" r="5.35" fill="#ff7d00"/>
<circle cx="1388.0" cy="307.7" r="5.35" fill="#c30002"/>
<circle cx="1356.8" cy="258.9" r="5.35" fill="#ffd100"/>
<circle cx="1292.2" cy="384.4" r="5.35" fill="#f9ff1e"/>
<circle cx="1393.2" cy="368.4" r="5.35" fill="#ff7300"/>
<circle cx="1375.3" cy="362.0" r="5.35" fill="#f20001"/>
<circle cx="1298.4" cy="495.4" r="5.35" fill="#4fc8ff"/>
<circle cx="1388.0" cy="304.7" r="5.35" fill="#cf0002"/>
<circle cx="1249.3" cy="293.9" r="5.35" fill="#4cffc3"/>
<circle cx="1332.3" cy="187.4" r="5.35" fill="#5581ff"/>
<circle cx="1388.2" cy="332.1" r="5.35" fill="#a70002"/>
<circle cx="1417.4" cy="219.4" r="5.35" fill="#4cffc4"/>
<circle cx="1283.2" cy="220.3" r="5.35" fill="#14fffb"/>
<circle cx="1261.0" cy="453.3" r="5.35" fill="#3dffdf"/>
<circle cx="1375.7" cy="325.5" r="5.35" fill="#8d0000"/>
<circle cx="1412.4" cy="462.3" r="5.35" fill="#3effdd"/>
<circle cx="1398.2" cy="210.9" r="5.35" fill="#3cffe0"/>
<circle cx="1455.8" cy="457.6" r="5.35" fill="#3de5ff"/>
<circle cx="1493.8" cy="358.9" r="5.35" fill="#52ffaf"/>
<circle cx="1394.4" cy="397.2" r="5.35" fill="#ffe100"/>
<circle cx="1360.0" cy="254.3" r="5.35" fill="#ffeb00"/>
<circle cx="1361.3" cy="237.5" r="5.35" fill="#aaff78"/>
<circle cx="1285.4" cy="249.5" r="5.35" fill="#54ffa0"/>
<circle cx="1318.3" cy="389.2" r="5.35" fill="#ffaf00"/>
<circle cx="1317.1" cy="359.3" r="5.35" fill="#ff8900"/>
<circle cx="1364.0" cy="489.5" r="5.35" fill="#2fffed"/>
<circle cx="1401.9" cy="327.7" r="5.35" fill="#cd0002"/>
<circle cx="1368.8" cy="415.7" r="5.35" fill="#ffff02"/>
<circle cx="1426.1" cy="205.1" r="5.35" fill="#15fffb"/>
<circle cx="1378.2" cy="356.4" r="5.35" fill="#de0001"/>
<circle cx="1485.2" cy="287.2" r="5.35" fill="#83ff8e"/>
<circle cx="1398.5" cy="298.0" r="5.35" fill="#ee0001"/>
<circle cx="1394.3" cy="287.1" r="5.35" fill="#ff5a00"/>
<circle cx="1460.6" cy="393.2" r="5.35" fill="#51ffb1"/>
<circle cx="1408.5" cy="229.9" r="5.35" fill="#7aff92"/>
<circle cx="1339.8" cy="269.2" r="5.35" fill="#ffb600"/>
<circle cx="1383.8" cy="324.7" r="5.35" fill="#970001"/>
<circle cx="1334.8" cy="392.8" r="5.35" fill="#ffad00"/>
<circle cx="1411.0" cy="503.5" r="5.35" fill="#41e0ff"/>
<circle cx="1314.7" cy="345.6" r="5.35" fill="#ff6500"/>
<circle cx="1423.1" cy="416.4" r="5.35" fill="#78ff93"/>
<circle cx="1456.6" cy="283.0" r="5.35" fill="#fff400"/>
<circle cx="1338.2" cy="198.1" r="5.35" fill="#52c1ff"/>
<circle cx="1519.7" cy="209.3" r="5.35" fill="#5580ff"/>
<circle cx="1438.2" cy="182.7" r="5.35" fill="#5791ff"/>
<circle cx="1376.4" cy="334.8" r="5.35" fill="#8b0000"/>
<circle cx="1539.1" cy="433.5" r="5.35" fill="#4a5fff"/>
<circle cx="1315.0" cy="304.5" r="5.35" fill="#ff6e00"/>
<circle cx="1358.2" cy="358.8" r="5.35" fill="#c80002"/>
<circle cx="1515.0" cy="190.2" r="5.35" fill="#4c64ff"/>
<circle cx="1248.1" cy="285.6" r="5.35" fill="#40ffdb"/>
<circle cx="1387.6" cy="381.6" r="5.35" fill="#ff9f00"/>
<circle cx="1407.6" cy="480.7" r="5.35" fill="#20fff6"/>
<circle cx="1413.9" cy="376.4" r="5.35" fill="#ffdc00"/>
<circle cx="1296.8" cy="305.7" r="5.35" fill="#ff9d00"/>
<circle cx="1397.9" cy="273.3" r="5.35" fill="#ffaa00"/>
<circle cx="1412.4" cy="282.1" r="5.35" fill="#ff7f00"/>
<circle cx="1262.9" cy="471.2" r="5.35" fill="#2effee"/>
<circle cx="1447.1" cy="292.0" r="5.35" fill="#ffc300"/>
<circle cx="1395.9" cy="313.9" r="5.35" fill="#bb0002"/>
<circle cx="1285.9" cy="353.0" r="5.35" fill="#ffc900"/>
<circle cx="1406.1" cy="405.0" r="5.35" fill="#eaff3b"/>
<circle cx="1272.7" cy="328.0" r="5.35" fill="#f9ff1c"/>
<circle cx="1311.0" cy="368.3" r="5.35" fill="#ffa700"/>
<circle cx="1484.4" cy="373.6" r="5.35" fill="#51ffb1"/>
<circle cx="1411.2" cy="560.6" r="5.35" fill="#414cff"/>
<circle cx="1328.4" cy="421.1" r="5.35" fill="#feff05"/>
<circle cx="1296.7" cy="501.7" r="5.35" fill="#57a5ff"/>
<circle cx="1499.1" cy="263.8" r="5.35" fill="#47ffcf"/>
<circle cx="1470.2" cy="306.1" r="5.35" fill="#fffb00"/>
<circle cx="1523.7" cy="211.8" r="5.35" fill="#5580ff"/>
<circle cx="1441.4" cy="416.9" r="5.35" fill="#51ffb4"/>
<circle cx="1448.5" cy="212.9" r="5.35" fill="#11fffc"/>
<circle cx="1464.2" cy="353.6" r="5.35" fill="#f0ff31"/>
<circle cx="1460.7" cy="349.0" r="5.35" fill="#fff600"/>
<circle cx="1284.5" cy="325.9" r="5.35" fill="#ffd500"/>
<circle cx="1486.2" cy="480.3" r="5.35" fill="#5275ff"/>
<circle cx="1594.6" cy="275.4" r="5.35" fill="#353aff"/>
<circle cx="1476.3" cy="310.7" r="5.35" fill="#faff1b"/>
<circle cx="1399.8" cy="341.1" r="5.35" fill="#e70001"/>
<circle cx="1415.8" cy="452.8" r="5.35" fill="#4bffc7"/>
<circle cx="1359.4" cy="324.1" r="5.35" fill="#a40002"/>
<circle cx="1294.7" cy="335.4" r="5.35" fill="#ffa100"/>
<circle cx="1310.5" cy="308.0" r="5.35" fill="#ff7300"/>
<circle cx="1375.0" cy="344.0" r="5.35" fill="#a00002"/>
<circle cx="1360.5" cy="359.7" r="5.35" fill="#cd0002"/>
<circle cx="1475.6" cy="248.1" r="5.35" fill="#51ffb3"/>
<circle cx="1258.8" cy="357.2" r="5.35" fill="#61ff9b"/>
<circle cx="1304.1" cy="252.8" r="5.35" fill="#c8ff61"/>
<circle cx="1386.2" cy="356.5" r="5.35" fill="#f30001"/>
<circle cx="1439.0" cy="298.2" r="5.35" fill="#ff9400"/>
<circle cx="1390.0" cy="364.2" r="5.35" fill="#ff5100"/>
<circle cx="1288.1" cy="555.9" r="5.35" fill="#3a41ff"/>
<circle cx="1481.9" cy="218.6" r="5.35" fill="#4ad4ff"/>
<circle cx="1353.1" cy="458.9" r="5.35" fill="#50ffb6"/>
<circle cx="1374.2" cy="381.1" r="5.35" fill="#ff7e00"/>
<circle cx="1465.4" cy="307.1" r="5.35" fill="#ffec00"/>
<circle cx="1473.8" cy="346.5" r="5.35" fill="#eaff3c"/>
<circle cx="1452.4" cy="354.4" r="5.35" fill="#fff900"/>
<circle cx="1433.9" cy="309.7" r="5.35" fill="#ff5300"/>
<circle cx="1272.1" cy="317.0" r="5.35" fill="#fbff15"/>
<circle cx="1371.9" cy="288.9" r="5.35" fill="#ff4600"/>
<circle cx="1366.2" cy="177.6" r="5.35" fill="#57abff"/>
<circle cx="1513.8" cy="332.9" r="5.35" fill="#53ffa5"/>
<circle cx="1392.0" cy="389.2" r="5.35" fill="#ffc400"/>
<circle cx="1426.4" cy="230.0" r="5.35" fill="#53ffa5"/>
<circle cx="1313.1" cy="266.1" r="5.35" fill="#ffeb00"/>
<circle cx="1506.9" cy="348.9" r="5.35" fill="#4fffb9"/>
<circle cx="1491.3" cy="332.0" r="5.35" fill="#c8ff61"/>
<circle cx="1545.7" cy="216.8" r="5.35" fill="#4b60ff"/>
<circle cx="1380.2" cy="276.3" r="5.35" fill="#ff9700"/>
<circle cx="1547.2" cy="249.1" r="5.35" fill="#5379ff"/>
<circle cx="1301.9" cy="385.6" r="5.35" fill="#ffdf00"/>
<circle cx="1395.5" cy="454.4" r="5.35" fill="#51ffb1"/>
<circle cx="1283.9" cy="290.9" r="5.35" fill="#ffe300"/>
<circle cx="1346.6" cy="317.7" r="5.35" fill="#e00001"/>
<circle cx="1493.5" cy="270.6" r="5.35" fill="#4fffbc"/>
<circle cx="1483.6" cy="303.4" r="5.35" fill="#caff5f"/>
<circle cx="1346.5" cy="276.6" r="5.35" fill="#ff9100"/>
<circle cx="1365.3" cy="476.1" r="5.35" fill="#44ffd4"/>
<circle cx="1362.3" cy="343.2" r="5.35" fill="#8d0000"/>
<circle cx="1484.4" cy="367.4" r="5.35" fill="#53ffa5"/>
<circle cx="1379.9" cy="309.8" r="5.35" fill="#bc0002"/>
<circle cx="1440.4" cy="246.6" r="5.35" fill="#b4ff71"/>
<circle cx="1391.8" cy="500.1" r="5.35" fill="#18fffa"/>
<circle cx="1478.9" cy="430.2" r="5.35" fill="#37eaff"/>
<circle cx="1421.8" cy="302.8" r="5.35" fill="#f60000"/>
<circle cx="1290.7" cy="348.9" r="5.35" fill="#ffb000"/>
<circle cx="1253.9" cy="451.6" r="5.35" fill="#24fff4"/>
<circle cx="1389.9" cy="593.8" r="5.35" fill="#3135ff"/>
<circle cx="1381.3" cy="354.3" r="5.35" fill="#dc0001"/>
<circle cx="1538.1" cy="266.8" r="5.35" fill="#54bcff"/>
<circle cx="1471.8" cy="369.4" r="5.35" fill="#8fff88"/>
<circle cx="1495.2" cy="292.2" r="5.35" fill="#54ffa4"/>
<circle cx="1311.4" cy="243.5" r="5.35" fill="#95ff85"/>
<circle cx="1310.4" cy="432.4" r="5.35" fill="#85ff8d"/>
<circle cx="1487.0" cy="233.4" r="5.35" fill="#2dffee"/>
<circle cx="1286.9" cy="448.7" r="5.35" fill="#4cffc3"/>
<circle cx="1247.7" cy="561.0" r="5.35" fill="#3135ff"/>
<circle cx="1292.4" cy="289.1" r="5.35" fill="#ffc400"/>
<circle cx="1410.9" cy="378.9" r="5.35" fill="#ffd900"/>
<circle cx="1255.2" cy="500.6" r="5.35" fill="#578dff"/>
<circle cx="1369.7" cy="406.6" r="5.35" fill="#ffdf00"/>
<circle cx="1375.5" cy="275.5" r="5.35" fill="#ff9800"/>
<circle cx="1428.2" cy="262.6" r="5.35" fill="#ffd600"/>
<circle cx="1375.3" cy="459.4" r="5.35" fill="#51ffb5"/>
<circle cx="1482.8" cy="247.2" r="5.35" fill="#4cffc3"/>
<circle cx="1432.7" cy="263.4" r="5.35" fill="#ffd900"/>
<circle cx="1389.5" cy="336.6" r="5.35" fill="#b40002"/>
<circle cx="1321.1" cy="375.4" r="5.35" fill="#ff9900"/>
<circle cx="1410.9" cy="211.1" r="5.35" fill="#3bffe1"/>
<circle cx="1454.7" cy="547.7" r="5.35" fill="#3337ff"/>
<circle cx="1345.4" cy="258.6" r="5.35" fill="#ffd500"/>
<circle cx="1371.5" cy="269.2" r="5.35" fill="#ffb600"/>
<circle cx="1390.7" cy="360.3" r="5.35" fill="#ff3700"/>
<circle cx="1377.5" cy="335.9" r="5.35" fill="#8e0000"/>
<circle cx="1310.4" cy="220.1" r="5.35" fill="#36ffe7"/>
<circle cx="1392.4" cy="226.3" r="5.35" fill="#53ffa7"/>
<circle cx="1404.0" cy="434.9" r="5.35" fill="#99ff83"/>
<circle cx="1424.1" cy="309.6" r="5.35" fill="#eb0001"/>
<circle cx="1310.1" cy="418.2" r="5.35" fill="#daff4f"/>
<circle cx="1281.6" cy="397.2" r="5.35" fill="#85ff8d"/>
<circle cx="1297.9" cy="382.2" r="5.35" fill="#ffe800"/>
<circle cx="1260.9" cy="335.1" r="5.35" fill="#9aff82"/>
<circle cx="1324.0" cy="402.6" r="5.35" fill="#ffc300"/>
<circle cx="1263.4" cy="282.4" r="5.35" fill="#80ff8f"/>
<circle cx="1247.3" cy="469.9" r="5.35" fill="#4dcdff"/>
<circle cx="1388.1" cy="344.7" r="5.35" fill="#c70002"/>
<circle cx="1327.5" cy="423.6" r="5.35" fill="#efff33"/>
<circle cx="1362.5" cy="403.1" r="5.35" fill="#ffd000"/>
<circle cx="1478.9" cy="320.0" r="5.35" fill="#fdff0c"/>
<circle cx="1504.0" cy="389.2" r="5.35" fill="#35ffe8"/>
<circle cx="1309.6" cy="385.2" r="5.35" fill="#ffc000"/>
<circle cx="1395.1" cy="224.7" r="5.35" fill="#52ffab"/>
<circle cx="1336.9" cy="363.6" r="5.35" fill="#ff4b00"/>
<circle cx="1312.7" cy="289.4" r="5.35" fill="#ff8a00"/>
<circle cx="1454.6" cy="374.0" r="5.35" fill="#a4ff7c"/>
<circle cx="1365.2" cy="380.6" r="5.35" fill="#ff6f00"/>
<circle cx="1378.5" cy="445.5" r="5.35" fill="#82ff8f"/>
<circle cx="1421.8" cy="266.1" r="5.35" fill="#ffc600"/>
<circle cx="1374.1" cy="309.4" r="5.35" fill="#c40002"/>
<circle cx="1498.9" cy="241.9" r="5.35" fill="#2afff1"/>
<circle cx="1397.1" cy="415.2" r="5.35" fill="#e5ff42"/>
<circle cx="1266.3" cy="324.9" r="5.35" fill="#d6ff54"/>
<circle cx="1337.7" cy="347.1" r="5.35" fill="#d90001"/>
<circle cx="1477.7" cy="368.8" r="5.35" fill="#71ff96"/>
<circle cx="1395.2" cy="479.8" r="5.35" fill="#39ffe3"/>
<circle cx="1333.2" cy="268.9" r="5.35" fill="#ffc600"/>
<circle cx="1318.5" cy="333.6" r="5.35" fill="#ff3c00"/>
<circle cx="1491.1" cy="162.0" r="5.35" fill="#373cff"/>
<circle cx="1421.7" cy="279.4" r="5.35" fill="#ff9300"/>
<circle cx="1322.6" cy="277.0" r="5.35" fill="#ffb600"/>
<circle cx="1417.8" cy="259.7" r="5.35" fill="#ffdf00"/>
<circle cx="1312.6" cy="197.4" r="5.35" fill="#5790ff"/>
<circle cx="1267.6" cy="410.4" r="5.35" fill="#46ffd1"/>
<circle cx="1306.2" cy="298.2" r="5.35" fill="#ff7e00"/>
<circle cx="1277.3" cy="347.6" r="5.35" fill="#ffef00"/>
<circle cx="1349.7" cy="453.0" r="5.35" fill="#51ffb1"/>
<circle cx="1324.8" cy="266.4" r="5.35" fill="#ffde00"/>
<circle cx="1445.2" cy="479.8" r="5.35" fill="#54bbff"/>
<circle cx="1273.7" cy="296.7" r="5.35" fill="#fffd00"/>
<circle cx="1525.2" cy="337.7" r="5.35" fill="#44ffd5"/>
<circle cx="1491.9" cy="228.1" r="5.35" fill="#2af3ff"/>
<circle cx="1369.6" cy="372.5" r="5.35" fill="#ff4300"/>
<circle cx="1372.8" cy="331.2" r="5.35" fill="#8b0000"/>
<circle cx="1374.3" cy="322.5" r="5.35" fill="#930001"/>
<circle cx="1394.3" cy="298.3" r="5.35" fill="#ec0001"/>
<circle cx="1342.5" cy="307.7" r="5.35" fill="#ff3f00"/>
<circle cx="1346.5" cy="331.5" r="5.35" fill="#ac0002"/>
<circle cx="1576.6" cy="316.3" r="5.35" fill="#506dff"/>
<circle cx="1530.0" cy="355.9" r="5.35" fill="#40e2ff"/>
<circle cx="1463.9" cy="336.5" r="5.35" fill="#ffdf00"/>
<circle cx="1420.4" cy="317.3" r="5.35" fill="#d80001"/>
<circle cx="1407.0" cy="390.2" r="5.35" fill="#ffed00"/>
<circle cx="1413.9" cy="363.9" r="5.35" fill="#ffad00"/>
<circle cx="1265.8" cy="439.2" r="5.35" fill="#3fffdd"/>
<circle cx="1443.9" cy="157.0" r="5.35" fill="#4452ff"/>
<circle cx="1507.5" cy="250.2" r="5.35" fill="#22fff5"/>
<circle cx="1349.7" cy="281.3" r="5.35" fill="#ff7d00"/>
<circle cx="1444.2" cy="288.6" r="5.35" fill="#ffbb00"/>
<circle cx="1475.5" cy="352.6" r="5.35" fill="#cdff5d"/>
<circle cx="1367.0" cy="479.4" r="5.35" fill="#40ffda"/>
<circle cx="1372.0" cy="354.3" r="5.35" fill="#c50002"/>
<circle cx="1491.3" cy="284.1" r="5.35" fill="#53ffa6"/>
<circle cx="1478.1" cy="336.2" r="5.35" fill="#f4ff29"/>
<circle cx="1352.4" cy="259.9" r="5.35" fill="#ffca00"/>
<circle cx="1471.6" cy="198.9" r="5.35" fill="#5688ff"/>
<circle cx="1410.4" cy="357.7" r="5.35" fill="#ff8400"/>
<circle cx="1329.4" cy="378.9" r="5.35" fill="#ff9000"/>
<circle cx="1473.3" cy="369.8" r="5.35" fill="#85ff8d"/>
<circle cx="1326.3" cy="575.3" r="5.35" fill="#383eff"/>
<circle cx="1449.0" cy="483.3" r="5.35" fill="#56b3ff"/>
<circle cx="1332.6" cy="342.5" r="5.35" fill="#e40001"/>
<circle cx="1479.8" cy="369.6" r="5.35" fill="#5aff9d"/>
<circle cx="1290.2" cy="253.6" r="5.35" fill="#98ff84"/>
<circle cx="1337.9" cy="266.3" r="5.35" fill="#ffc500"/>
<circle cx="1384.1" cy="414.6" r="5.35" fill="#fbff18"/>
<circle cx="1278.2" cy="308.1" r="5.35" fill="#ffe800"/>
<circle cx="1256.4" cy="327.1" r="5.35" fill="#6fff96"/>
<circle cx="1365.8" cy="294.9" r="5.35" fill="#ff2200"/>
<circle cx="1451.1" cy="312.8" r="5.35" fill="#ffb300"/>
<circle cx="1496.8" cy="365.4" r="5.35" fill="#4cffc4"/>
<circle cx="1417.3" cy="306.8" r="5.35" fill="#dc0001"/>
<circle cx="1514.4" cy="375.4" r="5.35" fill="#25fff4"/>
<circle cx="1333.4" cy="324.6" r="5.35" fill="#e90001"/>
<circle cx="1297.6" cy="279.0" r="5.35" fill="#ffd600"/>
<circle cx="1455.4" cy="319.7" r="5.35" fill="#ffba00"/>
<circle cx="1347.2" cy="371.7" r="5.35" fill="#ff4e00"/>
<circle cx="1506.6" cy="402.0" r="5.35" fill="#1df9ff"/>
<circle cx="1387.9" cy="254.2" r="5.35" fill="#f5ff28"/>
<circle cx="1524.7" cy="385.3" r="5.35" fill="#46daff"/>
<circle cx="1484.4" cy="342.3" r="5.35" fill="#cbff5f"/>
<circle cx="1446.8" cy="395.1" r="5.35" fill="#52ffaf"/>
<circle cx="1505.0" cy="430.1" r="5.35" fill="#547cff"/>
<circle cx="1266.3" cy="303.8" r="5.35" fill="#e3ff45"/>
<circle cx="1347.3" cy="416.1" r="5.35" fill="#fffb00"/>
<circle cx="1382.8" cy="525.3" r="5.35" fill="#589dff"/>
<circle cx="1365.2" cy="344.1" r="5.35" fill="#910001"/>
<circle cx="1297.3" cy="354.3" r="5.35" fill="#ffa300"/>
<circle cx="1498.0" cy="310.4" r="5.35" fill="#94ff86"/>
<circle cx="1315.0" cy="300.5" r="5.35" fill="#ff7200"/>
<circle cx="1423.4" cy="325.2" r="5.35" fill="#ef0001"/>
<circle cx="1339.5" cy="351.1" r="5.35" fill="#dd0001"/>
<circle cx="1347.3" cy="275.3" r="5.35" fill="#ff9400"/>
<circle cx="1283.0" cy="478.9" r="5.35" fill="#2afff0"/>
<circle cx="1355.5" cy="444.9" r="5.35" fill="#54ffa0"/>
<circle cx="1293.0" cy="355.7" r="5.35" fill="#ffb300"/>
<circle cx="1515.3" cy="389.7" r="5.35" fill="#15fffb"/>
<circle cx="1318.4" cy="376.0" r="5.35" fill="#ff9f00"/>
<circle cx="1421.1" cy="438.5" r="5.35" fill="#53ffa8"/>
<circle cx="1266.0" cy="562.1" r="5.35" fill="#3134ff"/>
<circle cx="1452.9" cy="291.3" r="5.35" fill="#ffdc00"/>
<circle cx="1472.5" cy="270.0" r="5.35" fill="#9aff82"/>
<circle cx="1245.5" cy="320.3" r="5.35" fill="#42ffd7"/>
<circle cx="1360.0" cy="322.5" r="5.35" fill="#a90002"/>
<circle cx="1397.4" cy="510.3" r="5.35" fill="#3ce6ff"/>
<circle cx="1459.3" cy="408.6" r="5.35" fill="#4dffbf"/>
<circle cx="1363.4" cy="301.8" r="5.35" fill="#f60000"/>
<circle cx="1395.3" cy="315.2" r="5.35" fill="#b80002"/>
<circle cx="1325.4" cy="210.7" r="5.35" fill="#10fffc"/>
<circle cx="1261.2" cy="333.2" r="5.35" fill="#a1ff7e"/>
<circle cx="1269.6" cy="370.6" r="5.35" fill="#bbff6c"/>
<circle cx="1415.2" cy="305.1" r="5.35" fill="#dd0001"/>
<circle cx="1358.6" cy="308.5" r="5.35" fill="#eb0001"/>
<circle cx="1437.3" cy="271.9" r="5.35" fill="#ffc500"/>
<circle cx="1435.6" cy="291.2" r="5.35" fill="#ff9200"/>
<circle cx="1383.6" cy="431.4" r="5.35" fill="#c5ff64"/>
<circle cx="1476.0" cy="463.4" r="5.35" fill="#589dff"/>
<circle cx="1448.2" cy="270.4" r="5.35" fill="#ffeb00"/>
<circle cx="1309.9" cy="386.5" r="5.35" fill="#ffc100"/>
<circle cx="1276.6" cy="298.9" r="5.35" fill="#fff000"/>
<circle cx="1336.4" cy="399.5" r="5.35" fill="#ffbd00"/>
<circle cx="1371.2" cy="371.1" r="5.35" fill="#ff3d00"/>
<circle cx="1536.3" cy="246.7" r="5.35" fill="#5792ff"/>
<circle cx="1318.1" cy="372.9" r="5.35" fill="#ff9c00"/>
<circle cx="1299.8" cy="229.2" r="5.35" fill="#4bffc7"/>
<circle cx="1302.7" cy="290.6" r="5.35" fill="#ff9700"/>
<circle cx="1323.2" cy="432.1" r="5.35" fill="#b0ff74"/>
<circle cx="1464.4" cy="302.8" r="5.35" fill="#fff100"/>
<circle cx="1416.5" cy="260.9" r="5.35" fill="#ffdb00"/>
<circle cx="1382.0" cy="334.2" r="5.35" fill="#960001"/>
<circle cx="1266.5" cy="383.7" r="5.35" fill="#6bff98"/>
<circle cx="1348.9" cy="247.2" r="5.35" fill="#f6ff25"/>
<circle cx="1385.5" cy="300.5" r="5.35" fill="#e10001"/>
<circle cx="1389.9" cy="293.5" r="5.35" fill="#ff1b00"/>
<circle cx="1273.1" cy="292.5" r="5.35" fill="#f4ff29"/>
<circle cx="1354.1" cy="348.1" r="5.35" fill="#a00002"/>
<circle cx="1431.4" cy="332.2" r="5.35" fill="#ff5d00"/>
<circle cx="1443.1" cy="342.8" r="5.35" fill="#ffbd00"/>
<circle cx="1414.6" cy="307.7" r="5.35" fill="#d50002"/>
<circle cx="1389.3" cy="264.5" r="5.35" fill="#ffd700"/>
<circle cx="1402.8" cy="292.5" r="5.35" fill="#ff2e00"/>
<circle cx="1513.8" cy="404.8" r="5.35" fill="#4ad4ff"/>
<circle cx="1372.9" cy="379.4" r="5.35" fill="#ff7300"/>
<circle cx="1509.1" cy="380.2" r="5.35" fill="#34ffe9"/>
<circle cx="1485.9" cy="263.9" r="5.35" fill="#52ffaf"/>
<circle cx="1438.8" cy="327.3" r="5.35" fill="#ff7200"/>
<circle cx="1349.4" cy="346.1" r="5.35" fill="#a60002"/>
<circle cx="1343.2" cy="366.3" r="5.35" fill="#ff3700"/>
<circle cx="1340.1" cy="351.0" r="5.35" fill="#da0001"/>
<circle cx="1562.7" cy="241.0" r="5.35" fill="#3c44ff"/>
<circle cx="1294.8" cy="295.2" r="5.35" fill="#ffaa00"/>
<circle cx="1459.0" cy="363.6" r="5.35" fill="#d2ff58"/>
<circle cx="1338.0" cy="468.1" r="5.35" fill="#4affc9"/>
<circle cx="1301.5" cy="469.1" r="5.35" fill="#41ffda"/>
<circle cx="1359.9" cy="311.7" r="5.35" fill="#da0001"/>
<circle cx="1262.5" cy="517.3" r="5.35" fill="#5687ff"/>
<circle cx="1335.5" cy="266.5" r="5.35" fill="#ffc900"/>
<circle cx="1390.9" cy="354.7" r="5.35" fill="#f70000"/>
<circle cx="1452.3" cy="459.8" r="5.35" fill="#3be7ff"/>
<circle cx="1515.4" cy="335.0" r="5.35" fill="#52ffad"/>
<circle cx="1384.6" cy="327.0" r="5.35" fill="#980001"/>
<circle cx="1312.1" cy="283.3" r="5.35" fill="#ffa100"/>
<circle cx="1494.0" cy="334.5" r="5.35" fill="#b8ff6e"/>
<circle cx="1390.4" cy="321.8" r="5.35" fill="#a80002"/>
<circle cx="1412.1" cy="377.3" r="5.35" fill="#ffd800"/>
<circle cx="1325.1" cy="485.4" r="5.35" fill="#21fff6"/>
<circle cx="1338.9" cy="351.3" r="5.35" fill="#e10001"/>
<circle cx="1285.8" cy="256.9" r="5.35" fill="#84ff8e"/>
<circle cx="1261.3" cy="438.3" r="5.35" fill="#36ffe7"/>
<circle cx="1381.4" cy="305.3" r="5.35" fill="#cd0002"/>
<circle cx="1251.2" cy="425.5" r="5.35" fill="#35ecff"/>
<circle cx="1369.7" cy="315.6" r="5.35" fill="#b20002"/>
<circle cx="1368.6" cy="376.2" r="5.35" fill="#ff5a00"/>
<circle cx="1337.5" cy="222.9" r="5.35" fill="#4affc8"/>
<circle cx="1475.8" cy="415.7" r="5.35" fill="#3bffe2"/>
<circle cx="1390.3" cy="316.0" r="5.35" fill="#af0002"/>
<circle cx="1450.2" cy="269.4" r="5.35" fill="#fff500"/>
<circle cx="1350.5" cy="331.6" r="5.35" fill="#a00002"/>
<circle cx="1381.3" cy="338.4" r="5.35" fill="#9d0002"/>
<circle cx="1500.8" cy="285.1" r="5.35" fill="#4dffc0"/>
<circle cx="1282.3" cy="310.9" r="5.35" fill="#ffda00"/>
<circle cx="1374.2" cy="370.3" r="5.35" fill="#ff4200"/>
<circle cx="1458.5" cy="407.5" r="5.35" fill="#4effbe"/>
<circle cx="1290.7" cy="341.7" r="5.35" fill="#ffae00"/>
<circle cx="1471.4" cy="262.9" r="5.35" fill="#8bff8a"/>
<circle cx="1353.1" cy="294.6" r="5.35" fill="#ff5000"/>
<circle cx="1487.3" cy="329.5" r="5.35" fill="#dcff4e"/>
<circle cx="1378.5" cy="290.4" r="5.35" fill="#ff3b00"/>
<circle cx="1369.4" cy="296.0" r="5.35" fill="#fe0000"/>
<circle cx="1339.4" cy="275.4" r="5.35" fill="#ffa400"/>
<circle cx="1290.5" cy="337.3" r="5.35" fill="#ffb200"/>
<circle cx="1287.6" cy="245.1" r="5.35" fill="#54ffa3"/>
<circle cx="1343.5" cy="236.7" r="5.35" fill="#9cff81"/>
<circle cx="1265.5" cy="387.2" r="5.35" fill="#54ffa4"/>
<circle cx="1288.3" cy="338.7" r="5.35" fill="#ffba00"/>
<circle cx="1328.1" cy="314.1" r="5.35" fill="#ff4700"/>
<circle cx="1402.3" cy="427.2" r="5.35" fill="#b8ff6e"/>
<circle cx="1370.9" cy="365.5" r="5.35" fill="#f80000"/>
<circle cx="1352.2" cy="362.5" r="5.35" fill="#e30001"/>
<circle cx="1311.5" cy="436.4" r="5.35" fill="#66ff99"/>
<circle cx="1353.8" cy="459.8" r="5.35" fill="#50ffb7"/>
<circle cx="1343.7" cy="355.0" r="5.35" fill="#da0001"/>
<circle cx="1322.6" cy="423.3" r="5.35" fill="#eaff3a"/>
<circle cx="1369.0" cy="221.7" r="5.35" fill="#4effbf"/>
<circle cx="1361.0" cy="431.7" r="5.35" fill="#acff77"/>
<circle cx="1260.1" cy="439.0" r="5.35" fill="#33ffe9"/>
<circle cx="1394.3" cy="287.4" r="5.35" fill="#ff5800"/>
<circle cx="1448.7" cy="439.0" r="5.35" fill="#40ffdb"/>
<circle cx="1409.2" cy="357.4" r="5.35" fill="#ff7c00"/>
<circle cx="1416.0" cy="306.9" r="5.35" fill="#d90001"/>
<circle cx="1366.7" cy="224.2" r="5.35" fill="#50ffb6"/>
<circle cx="1395.3" cy="389.8" r="5.35" fill="#ffcd00"/>
<circle cx="1471.4" cy="298.8" r="5.35" fill="#edff37"/>
<circle cx="1307.9" cy="303.0" r="5.35" fill="#ff7800"/>
<circle cx="1411.6" cy="245.9" r="5.35" fill="#e3ff45"/>
<circle cx="1379.9" cy="392.8" r="5.35" fill="#ffb900"/>
<circle cx="1401.9" cy="405.3" r="5.35" fill="#f7ff23"/>
<circle cx="1321.4" cy="333.8" r="5.35" fill="#ff2700"/>
<circle cx="1362.4" cy="358.4" r="5.35" fill="#c80002"/>
<circle cx="1344.2" cy="351.5" r="5.35" fill="#ca0002"/>
<circle cx="1410.2" cy="225.7" r="5.35" fill="#53ffa5"/>
<circle cx="1355.4" cy="329.0" r="5.35" fill="#9b0001"/>
<circle cx="1280.0" cy="430.9" r="5.35" fill="#4affca"/>
<circle cx="1316.0" cy="348.1" r="5.35" fill="#ff6a00"/>
<circle cx="1380.1" cy="302.9" r="5.35" fill="#d80001"/>
<circle cx="1380.3" cy="329.7" r="5.35" fill="#8e0000"/>
<circle cx="1413.3" cy="388.9" r="5.35" fill="#feff08"/>
<circle cx="1413.3" cy="310.1" r="5.35" fill="#cf0002"/>
<circle cx="1391.5" cy="226.2" r="5.35" fill="#53ffa8"/>
<circle cx="1391.4" cy="230.4" r="5.35" fill="#67ff99"/>
<circle cx="1289.5" cy="406.6" r="5.35" fill="#8cff8a"/>
<circle cx="1392.0" cy="473.8" r="5.35" fill="#42ffd8"/>
<circle cx="1479.2" cy="292.3" r="5.35" fill="#b8ff6f"/>
<circle cx="1341.5" cy="357.6" r="5.35" fill="#ef0001"/>
<circle cx="1390.4" cy="348.7" r="5.35" fill="#dd0001"/>
<circle cx="1398.0" cy="356.0" r="5.35" fill="#ff3d00"/>
<circle cx="1392.3" cy="310.8" r="5.35" fill="#bc0002"/>
<circle cx="1312.2" cy="302.5" r="5.35" fill="#ff7200"/>
<circle cx="1345.6" cy="277.5" r="5.35" fill="#ff9100"/>
<circle cx="1304.7" cy="327.1" r="5.35" fill="#ff8000"/>
<circle cx="1304.2" cy="486.8" r="5.35" fill="#07feff"/>
<circle cx="1473.2" cy="363.5" r="5.35" fill="#a7ff7a"/>
<circle cx="1340.9" cy="358.4" r="5.35" fill="#f50000"/>
<circle cx="1333.9" cy="271.5" r="5.35" fill="#ffbb00"/>
<circle cx="1389.6" cy="329.8" r="5.35" fill="#a80002"/>
<circle cx="1411.0" cy="283.2" r="5.35" fill="#ff7800"/>
<circle cx="1320.6" cy="445.4" r="5.35" fill="#51ffb1"/>
<circle cx="1382.7" cy="182.4" r="5.35" fill="#4bd1ff"/>
<circle cx="1245.1" cy="318.8" r="5.35" fill="#41ffd9"/>
<circle cx="1290.9" cy="236.7" r="5.35" fill="#51ffb4"/>
<circle cx="1441.4" cy="256.8" r="5.35" fill="#f5ff27"/>
<circle cx="1361.6" cy="338.9" r="5.35" fill="#8b0000"/>
<circle cx="1254.3" cy="496.7" r="5.35" fill="#5791ff"/>
<circle cx="1272.8" cy="245.0" r="5.35" fill="#42ffd8"/>
<circle cx="1429.9" cy="372.8" r="5.35" fill="#e9ff3c"/>
<circle cx="1400.0" cy="277.3" r="5.35" fill="#ff9600"/>
<circle cx="1376.8" cy="410.2" r="5.35" fill="#fff000"/>
<circle cx="1464.2" cy="450.7" r="5.35" fill="#44dcff"/>
<circle cx="1260.1" cy="276.5" r="5.35" fill="#51ffb5"/>
<circle cx="1352.2" cy="533.5" r="5.35" fill="#5689ff"/>
<circle cx="1365.8" cy="401.9" r="5.35" fill="#ffcc00"/>
<circle cx="1460.6" cy="262.4" r="5.35" fill="#c1ff67"/>
<circle cx="1442.2" cy="345.6" r="5.35" fill="#ffc700"/>
<circle cx="1449.9" cy="226.8" r="5.35" fill="#42ffd8"/>
<circle cx="1273.1" cy="328.7" r="5.35" fill="#fcff14"/>
<circle cx="1357.5" cy="212.7" r="5.35" fill="#39ffe3"/>
<circle cx="1404.0" cy="416.6" r="5.35" fill="#d0ff5a"/>
<circle cx="1486.0" cy="322.2" r="5.35" fill="#e3ff44"/>
<circle cx="1493.4" cy="460.6" r="5.35" fill="#4b61ff"/>
<circle cx="1296.8" cy="294.9" r="5.35" fill="#ffa200"/>
<circle cx="1330.9" cy="469.7" r="5.35" fill="#45ffd3"/>
<circle cx="1469.5" cy="315.9" r="5.35" fill="#ffe900"/>
<circle cx="1367.8" cy="374.7" r="5.35" fill="#ff4f00"/>
<circle cx="1364.5" cy="334.5" r="5.35" fill="#8b0000"/>
<circle cx="1408.4" cy="304.2" r="5.35" fill="#d80001"/>
<circle cx="1355.7" cy="342.2" r="5.35" fill="#900001"/>
<circle cx="1389.3" cy="292.3" r="5.35" fill="#ff2c00"/>
<circle cx="1387.2" cy="306.6" r="5.35" fill="#c70002"/>
<circle cx="1436.5" cy="250.8" r="5.35" fill="#e0ff49"/>
<circle cx="1355.0" cy="232.6" r="5.35" fill="#82ff8e"/>
<circle cx="1327.5" cy="448.2" r="5.35" fill="#50ffb6"/>
<circle cx="1327.1" cy="371.9" r="5.35" fill="#ff8700"/>
<circle cx="1467.7" cy="446.9" r="5.35" fill="#45dbff"/>
<circle cx="1567.4" cy="311.2" r="5.35" fill="#5581ff"/>
<circle cx="1333.0" cy="361.6" r="5.35" fill="#ff5600"/>
<circle cx="1324.0" cy="284.6" r="5.35" fill="#ff9b00"/>
<circle cx="1331.0" cy="344.4" r="5.35" fill="#f10001"/>
<circle cx="1377.4" cy="249.2" r="5.35" fill="#d8ff52"/>
<circle cx="1261.7" cy="356.6" r="5.35" fill="#8dff89"/>
<circle cx="1292.8" cy="501.7" r="5.35" fill="#57a3ff"/>
<circle cx="1426.7" cy="438.0" r="5.35" fill="#51ffb0"/>
<circle cx="1343.5" cy="256.4" r="5.35" fill="#ffe100"/>
<circle cx="1408.0" cy="343.5" r="5.35" fill="#ff3100"/>
<circle cx="1329.6" cy="504.8" r="5.35" fill="#53beff"/>
<circle cx="1342.7" cy="378.4" r="5.35" fill="#ff7d00"/>
<circle cx="1511.4" cy="315.1" r="5.35" fill="#52ffac"/>
<circle cx="1521.2" cy="327.2" r="5.35" fill="#4dffc0"/>
<circle cx="1390.6" cy="259.2" r="5.35" fill="#ffef00"/>
<circle cx="1523.4" cy="340.2" r="5.35" fill="#45ffd2"/>
<circle cx="1286.1" cy="357.3" r="5.35" fill="#ffcf00"/>
<circle cx="1503.6" cy="334.5" r="5.35" fill="#8bff8a"/>
<circle cx="1416.0" cy="332.7" r="5.35" fill="#fa0000"/>
<circle cx="1401.7" cy="388.3" r="5.35" fill="#ffd800"/>
<circle cx="1336.4" cy="421.6" r="5.35" fill="#f9ff1e"/>
<circle cx="1315.0" cy="306.3" r="5.35" fill="#ff6d00"/>
<circle cx="1474.5" cy="386.3" r="5.35" fill="#50ffb5"/>
<circle cx="1257.5" cy="458.8" r="5.35" fill="#33ffe9"/>
<circle cx="1399.3" cy="473.8" r="5.35" fill="#3cffe1"/>
<circle cx="1365.5" cy="340.9" r="5.35" fill="#8b0000"/>
<circle cx="1455.7" cy="386.7" r="5.35" fill="#54ffa3"/>
<circle cx="1414.0" cy="267.0" r="5.35" fill="#ffc400"/>
<circle cx="1352.2" cy="269.7" r="5.35" fill="#ffa200"/>
<circle cx="1409.4" cy="223.3" r="5.35" fill="#52ffaf"/>
<circle cx="1561.8" cy="417.0" r="5.35" fill="#424eff"/>
<circle cx="1390.8" cy="352.4" r="5.35" fill="#ed0001"/>
<circle cx="1328.6" cy="278.1" r="5.35" fill="#ffae00"/>
<circle cx="1307.1" cy="294.5" r="5.35" fill="#ff8200"/>
<circle cx="1321.3" cy="374.1" r="5.35" fill="#ff9700"/>
<circle cx="1247.5" cy="291.5" r="5.35" fill="#45ffd3"/>
<circle cx="1292.0" cy="366.2" r="5.35" fill="#ffd100"/>
<circle cx="1457.1" cy="265.8" r="5.35" fill="#dfff4a"/>
<circle cx="1251.4" cy="519.6" r="5.35" fill="#547eff"/>
<circle cx="1430.6" cy="324.6" r="5.35" fill="#ff2d00"/>
<circle cx="1300.1" cy="290.3" r="5.35" fill="#ffa100"/>
<circle cx="1407.8" cy="320.8" r="5.35" fill="#cb0002"/>
<circle cx="1400.4" cy="392.1" r="5.35" fill="#ffe000"/>
<circle cx="1416.4" cy="260.1" r="5.35" fill="#ffde00"/>
<circle cx="1278.5" cy="486.4" r="5.35" fill="#3ae8ff"/>
<circle cx="1260.8" cy="357.0" r="5.35" fill="#81ff8f"/>
<circle cx="1351.5" cy="363.9" r="5.35" fill="#eb0001"/>
<circle cx="1365.9" cy="396.1" r="5.35" fill="#ffb600"/>
<circle cx="1509.4" cy="268.3" r="5.35" fill="#3affe3"/>
<circle cx="1330.4" cy="314.4" r="5.35" fill="#ff3f00"/>
<circle cx="1461.4" cy="380.6" r="5.35" fill="#6dff97"/>
<circle cx="1354.4" cy="340.5" r="5.35" fill="#900001"/>
<circle cx="1314.1" cy="476.9" r="5.35" fill="#35ffe8"/>
<circle cx="1416.0" cy="390.5" r="5.35" fill="#eaff3a"/>
<circle cx="1258.3" cy="320.3" r="5.35" fill="#99ff83"/>
<circle cx="1434.8" cy="413.4" r="5.35" fill="#52ffac"/>
<circle cx="1454.4" cy="369.0" r="5.35" fill="#bfff69"/>
<circle cx="1495.7" cy="343.3" r="5.35" fill="#8cff8a"/>
<circle cx="1485.0" cy="239.0" r="5.35" fill="#3fffdc"/>
<circle cx="1349.4" cy="383.5" r="5.35" fill="#ff8900"/>
<circle cx="1403.8" cy="366.7" r="5.35" fill="#ff8f00"/>
<circle cx="1353.2" cy="369.2" r="5.35" fill="#ff1c00"/>
<circle cx="1263.0" cy="334.2" r="5.35" fill="#b1ff74"/>
<circle cx="1323.0" cy="423.2" r="5.35" fill="#ecff39"/>
<circle cx="1536.0" cy="311.8" r="5.35" fill="#40e2ff"/>
<circle cx="1274.2" cy="334.1" r="5.35" fill="#fffd00"/>
<circle cx="1263.3" cy="388.8" r="5.35" fill="#52ffaf"/>
<circle cx="1277.4" cy="242.9" r="5.35" fill="#49ffcc"/>
<circle cx="1394.0" cy="293.5" r="5.35" fill="#ff1c00"/>
<circle cx="1408.6" cy="306.5" r="5.35" fill="#d20002"/>
<circle cx="1320.2" cy="631.9" r="5.35" fill="#1d1dff"/>
<circle cx="1468.8" cy="346.6" r="5.35" fill="#fbff16"/>
<circle cx="1439.4" cy="419.2" r="5.35" fill="#51ffb2"/>
<circle cx="1454.3" cy="415.6" r="5.35" fill="#4dffc0"/>
<circle cx="1405.0" cy="402.9" r="5.35" fill="#f4ff29"/>
<circle cx="1340.4" cy="307.4" r="5.35" fill="#ff4800"/>
<circle cx="1348.7" cy="276.3" r="5.35" fill="#ff8e00"/>
<circle cx="1337.3" cy="469.3" r="5.35" fill="#49ffcb"/>
<circle cx="1331.3" cy="443.7" r="5.35" fill="#53ffa6"/>
<circle cx="1409.4" cy="309.6" r="5.35" fill="#cc0002"/>
<circle cx="1485.2" cy="374.6" r="5.35" fill="#50ffb5"/>
<circle cx="1349.7" cy="238.0" r="5.35" fill="#b4ff72"/>
<circle cx="1483.3" cy="298.4" r="5.35" fill="#bbff6c"/>
<circle cx="1437.8" cy="261.6" r="5.35" fill="#ffea00"/>
<circle cx="1388.8" cy="482.9" r="5.35" fill="#3affe3"/>
<circle cx="1280.6" cy="487.6" r="5.35" fill="#3fe3ff"/>
<circle cx="1371.8" cy="346.8" r="5.35" fill="#a30002"/>
<circle cx="1415.0" cy="268.5" r="5.35" fill="#ffbe00"/>
<circle cx="1399.6" cy="342.2" r="5.35" fill="#e90001"/>
<circle cx="1313.2" cy="365.3" r="5.35" fill="#ff9e00"/>
<circle cx="1524.5" cy="206.5" r="5.35" fill="#547bff"/>
<circle cx="1487.5" cy="295.2" r="5.35" fill="#98ff83"/>
<circle cx="1385.8" cy="375.0" r="5.35" fill="#ff7f00"/>
<circle cx="1292.0" cy="244.8" r="5.35" fill="#6fff96"/>
<circle cx="1425.0" cy="389.3" r="5.35" fill="#b9ff6e"/>
<circle cx="1307.6" cy="155.2" r="5.35" fill="#201fff"/>
<circle cx="1319.4" cy="445.1" r="5.35" fill="#52ffb0"/>
<circle cx="1367.5" cy="185.7" r="5.35" fill="#4bd1ff"/>
<circle cx="1363.0" cy="354.5" r="5.35" fill="#b60002"/>
<circle cx="1341.3" cy="399.0" r="5.35" fill="#ffc000"/>
<circle cx="1330.3" cy="235.0" r="5.35" fill="#59ff9e"/>
<circle cx="1344.2" cy="268.1" r="5.35" fill="#ffb100"/>
<circle cx="1353.7" cy="264.3" r="5.35" fill="#ffb700"/>
<circle cx="1589.9" cy="348.9" r="5.35" fill="#4a5eff"/>
<circle cx="1416.2" cy="367.9" r="5.35" fill="#ffc700"/>
<circle cx="1340.5" cy="375.5" r="5.35" fill="#ff7500"/>
<circle cx="1355.4" cy="396.3" r="5.35" fill="#ffb800"/>
<circle cx="1388.9" cy="428.4" r="5.35" fill="#cbff5e"/>
<circle cx="1304.9" cy="290.7" r="5.35" fill="#ff9100"/>
<circle cx="1255.5" cy="467.0" r="5.35" fill="#1efff7"/>
<circle cx="1485.1" cy="334.3" r="5.35" fill="#ddff4c"/>
<circle cx="1338.6" cy="249.0" r="5.35" fill="#edff36"/>
<circle cx="1424.3" cy="330.3" r="5.35" fill="#ff2000"/>
<circle cx="1246.1" cy="196.6" r="5.35" fill="#3e48ff"/>
<circle cx="1529.0" cy="209.6" r="5.35" fill="#537aff"/>
<circle cx="1298.9" cy="371.8" r="5.35" fill="#ffcc00"/>
<circle cx="1251.3" cy="167.4" r="5.35" fill="#1f1eff"/>
<circle cx="1401.9" cy="398.8" r="5.35" fill="#fff600"/>
<circle cx="1445.4" cy="286.9" r="5.35" fill="#ffc200"/>
<circle cx="1444.7" cy="360.0" r="5.35" fill="#f8ff1e"/>
<circle cx="1444.9" cy="286.5" r="5.35" fill="#ffc100"/>
<circle cx="1355.1" cy="341.8" r="5.35" fill="#900001"/>
<circle cx="1507.9" cy="246.0" r="5.35" fill="#08fffe"/>
<circle cx="1311.0" cy="404.5" r="5.35" fill="#ffe800"/>
<circle cx="1397.4" cy="262.8" r="5.35" fill="#ffdc00"/>
<circle cx="1385.9" cy="421.9" r="5.35" fill="#e2ff47"/>
<circle cx="1340.4" cy="465.0" r="5.35" fill="#4cffc3"/>
<circle cx="1336.9" cy="472.5" r="5.35" fill="#47ffd0"/>
<circle cx="1517.0" cy="288.7" r="5.35" fill="#34ffe9"/>
<circle cx="1373.2" cy="411.9" r="5.35" fill="#fff300"/>
<circle cx="1273.4" cy="310.2" r="5.35" fill="#fffa00"/>
<circle cx="1465.4" cy="402.7" r="5.35" fill="#4effbf"/>
<circle cx="1393.1" cy="435.1" r="5.35" fill="#b0ff74"/>
<circle cx="1334.2" cy="486.4" r="5.35" fill="#29fff1"/>
<circle cx="1333.6" cy="434.7" r="5.35" fill="#9fff7f"/>
<circle cx="1457.1" cy="393.9" r="5.35" fill="#51ffb1"/>
<circle cx="1373.5" cy="337.1" r="5.35" fill="#8b0000"/>
<circle cx="1387.4" cy="485.2" r="5.35" fill="#38ffe5"/>
<circle cx="1532.8" cy="317.7" r="5.35" fill="#18fffa"/>
<circle cx="1347.3" cy="262.7" r="5.35" fill="#ffc100"/>
<circle cx="1359.9" cy="363.5" r="5.35" fill="#e00001"/>
<circle cx="1380.6" cy="299.4" r="5.35" fill="#e70001"/>
<circle cx="1343.3" cy="444.8" r="5.35" fill="#53ffa6"/>
<circle cx="1417.2" cy="209.8" r="5.35" fill="#35ffe8"/>
<circle cx="1399.1" cy="278.6" r="5.35" fill="#ff8e00"/>
<circle cx="1387.0" cy="307.0" r="5.35" fill="#c60002"/>
<circle cx="1335.2" cy="355.8" r="5.35" fill="#ff1e00"/>
<circle cx="1393.0" cy="308.5" r="5.35" fill="#c30002"/>
<circle cx="1372.0" cy="292.6" r="5.35" fill="#ff2900"/>
<circle cx="1376.3" cy="292.6" r="5.35" fill="#ff2600"/>
<circle cx="1416.2" cy="438.5" r="5.35" fill="#54ffa0"/>
<circle cx="1437.8" cy="284.4" r="5.35" fill="#ffa900"/>
<circle cx="1349.9" cy="290.3" r="5.35" fill="#ff6500"/>
<circle cx="1431.5" cy="219.6" r="5.35" fill="#45ffd2"/>
<circle cx="1315.8" cy="270.4" r="5.35" fill="#ffd600"/>
<circle cx="1484.8" cy="436.7" r="5.35" fill="#57adff"/>
<circle cx="1396.4" cy="485.9" r="5.35" fill="#31ffec"/>
<circle cx="1284.6" cy="374.3" r="5.35" fill="#fcff13"/>
<circle cx="1276.6" cy="339.7" r="5.35" fill="#fff200"/>
<circle cx="1369.1" cy="431.2" r="5.35" fill="#bbff6c"/>
<circle cx="1360.1" cy="258.9" r="5.35" fill="#ffd500"/>
<circle cx="1402.8" cy="249.4" r="5.35" fill="#eeff35"/>
<circle cx="1313.7" cy="328.2" r="5.35" fill="#ff5800"/>
<circle cx="1346.8" cy="292.0" r="5.35" fill="#ff6a00"/>
<circle cx="1417.4" cy="309.5" r="5.35" fill="#d60002"/>
<circle cx="1251.0" cy="406.2" r="5.35" fill="#04fffe"/>
<circle cx="1407.6" cy="311.6" r="5.35" fill="#c80002"/>
<circle cx="1294.1" cy="340.2" r="5.35" fill="#ffa000"/>
<circle cx="1291.5" cy="311.3" r="5.35" fill="#ffb700"/>
<circle cx="1274.1" cy="274.4" r="5.35" fill="#93ff86"/>
<circle cx="1315.7" cy="226.6" r="5.35" fill="#4affc9"/>
<circle cx="1358.3" cy="338.9" r="5.35" fill="#8b0000"/>
<circle cx="1354.4" cy="199.0" r="5.35" fill="#3fe2ff"/>
<circle cx="1302.4" cy="302.4" r="5.35" fill="#ff8700"/>
<circle cx="1289.4" cy="280.3" r="5.35" fill="#fff200"/>
<circle cx="1477.0" cy="274.6" r="5.35" fill="#8aff8b"/>
<circle cx="1433.9" cy="276.0" r="5.35" fill="#ffb200"/>
<circle cx="1309.7" cy="368.6" r="5.35" fill="#ffab00"/>
<circle cx="1374.7" cy="218.6" r="5.35" fill="#4affc8"/>
<circle cx="1246.3" cy="345.5" r="5.35" fill="#36ffe7"/>
<circle cx="1415.5" cy="315.2" r="5.35" fill="#ce0002"/>
<circle cx="1374.3" cy="365.0" r="5.35" fill="#fd0000"/>
<circle cx="1303.9" cy="265.4" r="5.35" fill="#fffb00"/>
<circle cx="1303.3" cy="308.0" r="5.35" fill="#ff8600"/>
<circle cx="1425.1" cy="210.2" r="5.35" fill="#33ffea"/>
<circle cx="1527.9" cy="337.8" r="5.35" fill="#3cffe0"/>
<circle cx="1425.9" cy="438.9" r="5.35" fill="#51ffb1"/>
<circle cx="1449.3" cy="197.2" r="5.35" fill="#54bcff"/>
<circle cx="1413.7" cy="285.6" r="5.35" fill="#ff6c00"/>
<circle cx="1355.3" cy="384.9" r="5.35" fill="#ff8900"/>
<circle cx="1491.0" cy="287.2" r="5.35" fill="#54ffa0"/>
<circle cx="1326.2" cy="349.7" r="5.35" fill="#ff4500"/>
<circle cx="1352.2" cy="363.2" r="5.35" fill="#e60001"/>
<circle cx="1297.7" cy="301.4" r="5.35" fill="#ff9800"/>
<circle cx="1391.8" cy="402.9" r="5.35" fill="#ffed00"/>
<circle cx="1347.5" cy="325.3" r="5.35" fill="#bc0002"/>
<circle cx="1369.9" cy="485.7" r="5.35" fill="#37ffe6"/>
<circle cx="1499.4" cy="295.4" r="5.35" fill="#52ffab"/>
<circle cx="1330.7" cy="317.1" r="5.35" fill="#ff2b00"/>
<circle cx="1440.7" cy="507.4" r="5.35" fill="#578cff"/>
<circle cx="1445.6" cy="420.6" r="5.35" fill="#4fffba"/>
<circle cx="1310.6" cy="342.3" r="5.35" fill="#ff6a00"/>
<circle cx="1364.2" cy="333.7" r="5.35" fill="#8b0000"/>
<circle cx="1519.5" cy="311.0" r="5.35" fill="#45ffd3"/>
<circle cx="1284.1" cy="305.0" r="5.35" fill="#ffd100"/>
<circle cx="1467.1" cy="348.2" r="5.35" fill="#fbff16"/>
<circle cx="1456.4" cy="474.5" r="5.35" fill="#52c1ff"/>
<circle cx="1522.6" cy="368.8" r="5.35" fill="#37ebff"/>
<circle cx="1610.5" cy="504.2" r="5.35" fill="#1b1aff"/>
<circle cx="1379.1" cy="184.9" r="5.35" fill="#44dcff"/>
<circle cx="1360.0" cy="410.0" r="5.35" fill="#ffeb00"/>
<circle cx="1407.9" cy="345.7" r="5.35" fill="#ff3f00"/>
<circle cx="1419.2" cy="333.2" r="5.35" fill="#ff1a00"/>
<circle cx="1269.7" cy="393.4" r="5.35" fill="#53ffa5"/>
<circle cx="1351.1" cy="378.2" r="5.35" fill="#ff6d00"/>
<circle cx="1305.0" cy="259.2" r="5.35" fill="#e8ff3e"/>
<circle cx="1330.0" cy="278.4" r="5.35" fill="#ffac00"/>
<circle cx="1272.0" cy="260.2" r="5.35" fill="#4effbe"/>
<circle cx="1308.4" cy="391.3" r="5.35" fill="#ffcf00"/>
<circle cx="1497.9" cy="214.3" r="5.35" fill="#58a0ff"/>
<circle cx="1394.0" cy="506.9" r="5.35" fill="#28f4ff"/>
<circle cx="1293.4" cy="355.8" r="5.35" fill="#ffb200"/>
<circle cx="1249.7" cy="314.1" r="5.35" fill="#50ffb6"/>
<circle cx="1357.5" cy="285.0" r="5.35" fill="#ff6300"/>
<circle cx="1344.6" cy="313.8" r="5.35" fill="#f70000"/>
<circle cx="1411.6" cy="308.8" r="5.35" fill="#cf0002"/>
<circle cx="1397.2" cy="498.0" r="5.35" fill="#1afff9"/>
<circle cx="1314.4" cy="338.3" r="5.35" fill="#ff5500"/>
<circle cx="1577.3" cy="287.6" r="5.35" fill="#4758ff"/>
<circle cx="1366.7" cy="294.9" r="5.35" fill="#ff1f00"/>
<circle cx="1375.5" cy="372.1" r="5.35" fill="#ff5200"/>
<circle cx="1473.7" cy="260.7" r="5.35" fill="#73ff95"/>
<circle cx="1369.4" cy="287.2" r="5.35" fill="#ff5000"/>
<circle cx="1290.7" cy="362.7" r="5.35" fill="#ffcb00"/>
<circle cx="1393.6" cy="308.1" r="5.35" fill="#c50002"/>
<circle cx="1383.4" cy="246.1" r="5.35" fill="#c4ff64"/>
<circle cx="1357.8" cy="313.9" r="5.35" fill="#d60002"/>
<circle cx="1319.8" cy="402.2" r="5.35" fill="#ffc800"/>
<circle cx="1483.5" cy="270.5" r="5.35" fill="#54ffa2"/>
<circle cx="1312.2" cy="265.6" r="5.35" fill="#ffee00"/>
<circle cx="1341.6" cy="196.9" r="5.35" fill="#53bfff"/>
<circle cx="1534.4" cy="426.8" r="5.35" fill="#4e68ff"/>
<circle cx="1366.3" cy="466.3" r="5.35" fill="#4cffc2"/>
<circle cx="1351.1" cy="479.2" r="5.35" fill="#43ffd6"/>
<circle cx="1472.3" cy="246.0" r="5.35" fill="#51ffb3"/>
<circle cx="1301.2" cy="422.0" r="5.35" fill="#93ff86"/>
<circle cx="1294.0" cy="256.1" r="5.35" fill="#b7ff6f"/>
<circle cx="1395.0" cy="281.2" r="5.35" fill="#ff7f00"/>
<circle cx="1378.7" cy="424.6" r="5.35" fill="#dcff4d"/>
<circle cx="1387.9" cy="262.0" r="5.35" fill="#ffe400"/>
<circle cx="1399.0" cy="398.8" r="5.35" fill="#ffef00"/>
<circle cx="1295.2" cy="197.7" r="5.35" fill="#5580ff"/>
<circle cx="1305.4" cy="210.8" r="5.35" fill="#43deff"/>
<circle cx="1395.1" cy="311.0" r="5.35" fill="#bf0002"/>
<circle cx="1259.1" cy="309.2" r="5.35" fill="#aeff76"/>
<circle cx="1503.4" cy="260.4" r="5.35" fill="#3fffdd"/>
<circle cx="1322.6" cy="351.8" r="5.35" fill="#ff6000"/>
<circle cx="1389.2" cy="169.5" r="5.35" fill="#5791ff"/>
<circle cx="1266.7" cy="340.3" r="5.35" fill="#cbff5f"/>
<circle cx="1329.1" cy="328.0" r="5.35" fill="#f00001"/>
<circle cx="1506.1" cy="240.3" r="5.35" fill="#2af3ff"/>
<circle cx="1440.0" cy="344.1" r="5.35" fill="#ffbb00"/>
<circle cx="1399.0" cy="248.7" r="5.35" fill="#e6ff41"/>
<circle cx="1419.4" cy="265.4" r="5.35" fill="#ffc900"/>
<circle cx="1372.5" cy="267.2" r="5.35" fill="#ffc100"/>
<circle cx="1429.6" cy="370.3" r="5.35" fill="#f6ff25"/>
<circle cx="1391.6" cy="465.9" r="5.35" fill="#4affc9"/>
<circle cx="1419.1" cy="258.3" r="5.35" fill="#ffe400"/>
<circle cx="1316.8" cy="515.2" r="5.35" fill="#5689ff"/>
<circle cx="1319.0" cy="336.2" r="5.35" fill="#ff3b00"/>
<circle cx="1437.8" cy="409.4" r="5.35" fill="#51ffb1"/>
<circle cx="1359.3" cy="238.5" r="5.35" fill="#b5ff70"/>
<circle cx="1348.7" cy="465.1" r="5.35" fill="#4effbe"/>
<circle cx="1402.1" cy="481.9" r="5.35" fill="#2dffef"/>
<circle cx="1404.3" cy="229.7" r="5.35" fill="#79ff93"/>
<circle cx="1291.7" cy="324.4" r="5.35" fill="#ffb900"/>
<circle cx="1271.3" cy="396.4" r="5.35" fill="#53ffa8"/>
<circle cx="1486.6" cy="176.6" r="5.35" fill="#4758ff"/>
<circle cx="1553.3" cy="311.6" r="5.35" fill="#589aff"/>
<circle cx="1405.1" cy="224.6" r="5.35" fill="#53ffa8"/>
<circle cx="1440.5" cy="235.0" r="5.35" fill="#52ffab"/>
<circle cx="1425.1" cy="358.9" r="5.35" fill="#ffcc00"/>
<circle cx="1390.3" cy="381.0" r="5.35" fill="#ffa400"/>
<circle cx="1253.4" cy="332.7" r="5.35" fill="#52ffb0"/>
<circle cx="1308.5" cy="428.2" r="5.35" fill="#9aff82"/>
<circle cx="1282.9" cy="278.7" r="5.35" fill="#e5ff42"/>
<circle cx="1380.5" cy="297.3" r="5.35" fill="#f10001"/>
<circle cx="1390.6" cy="188.7" r="5.35" fill="#46daff"/>
<circle cx="1521.3" cy="441.1" r="5.35" fill="#4758ff"/>
<circle cx="1480.2" cy="501.1" r="5.35" fill="#495bff"/>
<circle cx="1422.2" cy="381.3" r="5.35" fill="#ecff38"/>
<circle cx="1332.5" cy="427.3" r="5.35" fill="#d8ff51"/>
<circle cx="1453.5" cy="418.3" r="5.35" fill="#4dffc2"/>
<circle cx="1358.3" cy="362.6" r="5.35" fill="#db0001"/>
<circle cx="1358.1" cy="350.1" r="5.35" fill="#a20002"/>
<circle cx="1363.6" cy="300.3" r="5.35" fill="#fa0000"/>
<circle cx="1371.4" cy="251.9" r="5.35" fill="#f1ff2f"/>
<circle cx="1448.3" cy="302.7" r="5.35" fill="#ffba00"/>
<circle cx="1278.2" cy="457.5" r="5.35" fill="#4affc9"/>
<circle cx="1343.1" cy="422.8" r="5.35" fill="#e8ff3f"/>
<circle cx="1289.2" cy="369.4" r="5.35" fill="#ffe300"/>
<circle cx="1339.7" cy="414.3" r="5.35" fill="#ffeb00"/>
<circle cx="1450.9" cy="310.4" r="5.35" fill="#ffb600"/>
<circle cx="1430.4" cy="330.1" r="5.35" fill="#ff4b00"/>
<circle cx="1467.0" cy="240.3" r="5.35" fill="#4effbd"/>
<circle cx="1355.9" cy="352.9" r="5.35" fill="#af0002"/>
<circle cx="1336.2" cy="411.3" r="5.35" fill="#ffdd00"/>
<circle cx="1309.2" cy="244.8" r="5.35" fill="#9eff80"/>
<circle cx="1419.1" cy="339.9" r="5.35" fill="#ff5700"/>
<circle cx="1392.8" cy="347.2" r="5.35" fill="#e00001"/>
<circle cx="1264.3" cy="295.9" r="5.35" fill="#ccff5e"/>
<circle cx="1392.0" cy="356.6" r="5.35" fill="#ff1600"/>
<circle cx="1421.7" cy="319.3" r="5.35" fill="#dd0001"/>
<circle cx="1469.2" cy="301.6" r="5.35" fill="#fcff10"/>
<circle cx="1352.5" cy="351.3" r="5.35" fill="#ae0002"/>
<circle cx="1315.4" cy="322.3" r="5.35" fill="#ff5900"/>
<circle cx="1529.7" cy="312.2" r="5.35" fill="#20fff7"/>
<circle cx="1243.5" cy="320.8" r="5.35" fill="#38ffe5"/>
<circle cx="1384.5" cy="306.4" r="5.35" fill="#c80002"/>
<circle cx="1310.5" cy="470.1" r="5.35" fill="#3fffdd"/>
<circle cx="1526.8" cy="348.3" r="5.35" fill="#2afff1"/>
<circle cx="1373.6" cy="454.3" r="5.35" fill="#53ffa9"/>
<circle cx="1281.6" cy="412.2" r="5.35" fill="#51ffb3"/>
<circle cx="1261.6" cy="294.5" r="5.35" fill="#b4ff72"/>
<circle cx="1313.2" cy="284.7" r="5.35" fill="#ff9b00"/>
<circle cx="1330.0" cy="455.9" r="5.35" fill="#4cffc4"/>
<circle cx="1356.7" cy="389.2" r="5.35" fill="#ff9b00"/>
<circle cx="1418.5" cy="304.4" r="5.35" fill="#e60001"/>
<circle cx="1355.7" cy="221.8" r="5.35" fill="#4dffc2"/>
<circle cx="1313.2" cy="398.3" r="5.35" fill="#ffcf00"/>
<circle cx="1289.9" cy="246.4" r="5.35" fill="#6bff98"/>
<circle cx="1258.0" cy="375.8" r="5.35" fill="#52ffad"/>
<circle cx="1462.9" cy="390.3" r="5.35" fill="#52ffae"/>
<circle cx="1405.4" cy="377.4" r="5.35" fill="#ffc000"/>
<circle cx="1422.9" cy="321.0" r="5.35" fill="#e30001"/>
<circle cx="1356.1" cy="356.2" r="5.35" fill="#bd0002"/>
<circle cx="1421.5" cy="253.5" r="5.35" fill="#fff700"/>
<circle cx="1300.2" cy="372.2" r="5.35" fill="#ffc900"/>
<circle cx="1532.9" cy="247.2" r="5.35" fill="#589eff"/>
<circle cx="1431.3" cy="285.9" r="5.35" fill="#ff9000"/>
<circle cx="1406.5" cy="173.5" r="5.35" fill="#5581ff"/>
<circle cx="1563.0" cy="298.8" r="5.35" fill="#547dff"/>
<circle cx="1363.6" cy="358.8" r="5.35" fill="#ca0002"/>
<circle cx="1418.3" cy="383.9" r="5.35" fill="#f7ff23"/>
<circle cx="1472.4" cy="296.1" r="5.35" fill="#e1ff48"/>
<circle cx="1290.5" cy="434.9" r="5.35" fill="#4fffb9"/>
<circle cx="1305.8" cy="444.5" r="5.35" fill="#50ffb7"/>
<circle cx="1312.7" cy="351.3" r="5.35" fill="#ff7c00"/>
<circle cx="1453.3" cy="185.0" r="5.35" fill="#5792ff"/>
<circle cx="1373.0" cy="346.2" r="5.35" fill="#a40002"/>
<circle cx="1356.7" cy="508.8" r="5.35" fill="#46daff"/>
<circle cx="1450.1" cy="284.6" r="5.35" fill="#ffd800"/>
<circle cx="1324.9" cy="358.0" r="5.35" fill="#ff6e00"/>
<circle cx="1472.6" cy="386.9" r="5.35" fill="#51ffb3"/>
<circle cx="1399.9" cy="179.1" r="5.35" fill="#58a2ff"/>
<circle cx="1538.9" cy="171.4" r="5.35" fill="#3b42ff"/>
<circle cx="1320.0" cy="561.6" r="5.35" fill="#404aff"/>
<circle cx="1435.4" cy="247.0" r="5.35" fill="#c9ff60"/>
<circle cx="1348.4" cy="308.7" r="5.35" fill="#ff1900"/>
<circle cx="1525.6" cy="401.2" r="5.35" fill="#55b7ff"/>
<circle cx="1434.7" cy="265.8" r="5.35" fill="#ffd300"/>
<circle cx="1355.0" cy="478.3" r="5.35" fill="#44ffd4"/>
<circle cx="1371.2" cy="299.7" r="5.35" fill="#ee0001"/>
<circle cx="1371.0" cy="294.2" r="5.35" fill="#ff1700"/>
<circle cx="1408.2" cy="430.7" r="5.35" fill="#9cff81"/>
<circle cx="1413.1" cy="420.6" r="5.35" fill="#a6ff7b"/>
<circle cx="1452.7" cy="257.4" r="5.35" fill="#ccff5e"/>
<circle cx="1507.7" cy="318.3" r="5.35" fill="#68ff99"/>
<circle cx="1277.2" cy="319.9" r="5.35" fill="#fff100"/>
<circle cx="1438.6" cy="428.4" r="5.35" fill="#50ffb6"/>
<circle cx="1285.1" cy="437.1" r="5.35" fill="#4dffc2"/>
<circle cx="1409.7" cy="263.0" r="5.35" fill="#ffd500"/>
<circle cx="1464.6" cy="376.5" r="5.35" fill="#80ff90"/>
<circle cx="1458.0" cy="411.7" r="5.35" fill="#4dffc1"/>
<circle cx="1293.3" cy="378.7" r="5.35" fill="#fff000"/>
<circle cx="1441.8" cy="326.6" r="5.35" fill="#ff8100"/>
<circle cx="1417.9" cy="206.8" r="5.35" fill="#27fff2"/>
<circle cx="1412.3" cy="422.5" r="5.35" fill="#a4ff7c"/>
<circle cx="1435.2" cy="321.1" r="5.35" fill="#ff4f00"/>
<circle cx="1335.4" cy="292.7" r="5.35" fill="#ff8100"/>
<circle cx="1423.5" cy="414.7" r="5.35" fill="#77ff93"/>
<circle cx="1401.8" cy="316.0" r="5.35" fill="#c10002"/>
<circle cx="1474.5" cy="272.5" r="5.35" fill="#94ff85"/>
<circle cx="1327.6" cy="345.3" r="5.35" fill="#ff1900"/>
<circle cx="1412.5" cy="291.8" r="5.35" fill="#ff3f00"/>
<circle cx="1442.3" cy="166.5" r="5.35" fill="#4f6cff"/>
<circle cx="1425.9" cy="256.6" r="5.35" fill="#ffed00"/>
<circle cx="1441.7" cy="266.9" r="5.35" fill="#ffe100"/>
<circle cx="1322.8" cy="441.7" r="5.35" fill="#54ffa2"/>
<circle cx="1424.6" cy="408.5" r="5.35" fill="#7aff92"/>
<circle cx="1525.6" cy="268.9" r="5.35" fill="#21f7ff"/>
<circle cx="1302.3" cy="347.5" r="5.35" fill="#ff8900"/>
<circle cx="1389.6" cy="360.9" r="5.35" fill="#ff3700"/>
<circle cx="1305.0" cy="276.8" r="5.35" fill="#ffc800"/>
<circle cx="1323.5" cy="581.5" r="5.35" fill="#353aff"/>
<circle cx="1305.4" cy="419.6" r="5.35" fill="#baff6d"/>
<circle cx="1457.0" cy="353.1" r="5.35" fill="#fffc00"/>
<circle cx="1414.9" cy="318.3" r="5.35" fill="#cf0002"/>
<circle cx="1429.7" cy="243.9" r="5.35" fill="#c3ff66"/>
<circle cx="1510.5" cy="517.3" r="5.35" fill="#404bff"/>
<circle cx="1252.2" cy="461.7" r="5.35" fill="#10fffc"/>
<circle cx="1387.2" cy="270.6" r="5.35" fill="#ffb800"/>
<circle cx="1379.3" cy="363.0" r="5.35" fill="#ff0b00"/>
<circle cx="1266.1" cy="391.5" r="5.35" fill="#52ffab"/>
<circle cx="1375.9" cy="270.4" r="5.35" fill="#ffb400"/>
<circle cx="1377.2" cy="312.4" r="5.35" fill="#b40002"/>
<circle cx="1488.6" cy="344.9" r="5.35" fill="#acff77"/>
<circle cx="1398.8" cy="413.3" r="5.35" fill="#e6ff40"/>
<circle cx="1370.8" cy="282.7" r="5.35" fill="#ff6b00"/>
<circle cx="1453.2" cy="426.2" r="5.35" fill="#4affca"/>
<circle cx="1498.1" cy="238.3" r="5.35" fill="#1efff7"/>
<circle cx="1272.2" cy="299.6" r="5.35" fill="#ffff03"/>
<circle cx="1442.4" cy="379.9" r="5.35" fill="#94ff86"/>
<circle cx="1375.7" cy="230.8" r="5.35" fill="#54ffa0"/>
<circle cx="1399.6" cy="297.3" r="5.35" fill="#f20001"/>
<circle cx="1314.5" cy="381.7" r="5.35" fill="#ffae00"/>
<circle cx="1377.1" cy="333.5" r="5.35" fill="#8b0000"/>
<circle cx="1396.5" cy="434.7" r="5.35" fill="#acff77"/>
<circle cx="1376.1" cy="409.3" r="5.35" fill="#ffed00"/>
<circle cx="1361.0" cy="287.4" r="5.35" fill="#ff5500"/>
<circle cx="1265.0" cy="363.4" r="5.35" fill="#a8ff7a"/>
<circle cx="1425.1" cy="313.3" r="5.35" fill="#e90001"/>
<circle cx="1419.9" cy="491.4" r="5.35" fill="#4ad3ff"/>
<circle cx="1313.9" cy="303.0" r="5.35" fill="#ff7000"/>
<circle cx="1374.0" cy="395.4" r="5.35" fill="#ffb900"/>
<circle cx="1388.1" cy="295.5" r="5.35" fill="#f90000"/>
<circle cx="1443.3" cy="301.1" r="5.35" fill="#ffa500"/>
<circle cx="1250.2" cy="356.9" r="5.35" fill="#47ffcf"/>
<circle cx="1373.5" cy="420.4" r="5.35" fill="#ebff39"/>
<circle cx="1323.0" cy="284.1" r="5.35" fill="#ff9d00"/>
<circle cx="1465.1" cy="318.9" r="5.35" fill="#ffd900"/>
<circle cx="1504.7" cy="367.5" r="5.35" fill="#40ffda"/>
<circle cx="1302.1" cy="346.9" r="5.35" fill="#ff8800"/>
<circle cx="1346.0" cy="504.4" r="5.35" fill="#42dfff"/>
<circle cx="1319.8" cy="311.3" r="5.35" fill="#ff6100"/>
<circle cx="1493.7" cy="576.3" r="5.35" fill="#2c2dff"/>
<circle cx="1273.4" cy="321.2" r="5.35" fill="#ffff00"/>
<circle cx="1414.5" cy="303.0" r="5.35" fill="#e30001"/>
<circle cx="1284.1" cy="314.1" r="5.35" fill="#ffd600"/>
<circle cx="1448.3" cy="268.1" r="5.35" fill="#fff200"/>
<circle cx="1294.7" cy="348.4" r="5.35" fill="#ffa100"/>
<circle cx="1304.1" cy="420.9" r="5.35" fill="#acff77"/>
<circle cx="1422.5" cy="353.2" r="5.35" fill="#ffaa00"/>
<circle cx="1348.8" cy="261.5" r="5.35" fill="#ffc500"/>
<circle cx="1336.1" cy="416.9" r="5.35" fill="#fff100"/>
<circle cx="1380.8" cy="333.0" r="5.35" fill="#910001"/>
<circle cx="1309.6" cy="319.4" r="5.35" fill="#ff7300"/>
<circle cx="1331.2" cy="511.4" r="5.35" fill="#56b1ff"/>
<circle cx="1358.1" cy="468.9" r="5.35" fill="#4cffc4"/>
<circle cx="1348.2" cy="343.6" r="5.35" fill="#a40002"/>
<circle cx="1456.4" cy="303.0" r="5.35" fill="#ffd800"/>
<circle cx="1287.4" cy="209.8" r="5.35" fill="#50c6ff"/>
<circle cx="1322.2" cy="300.8" r="5.35" fill="#ff7300"/>
<circle cx="1454.6" cy="272.8" r="5.35" fill="#fffe00"/>
<circle cx="1322.0" cy="239.3" r="5.35" fill="#77ff93"/>
<circle cx="1375.1" cy="327.1" r="5.35" fill="#8b0000"/>
<circle cx="1345.6" cy="290.8" r="5.35" fill="#ff7000"/>
<circle cx="1315.5" cy="298.1" r="5.35" fill="#ff7600"/>
<circle cx="1261.6" cy="400.2" r="5.35" fill="#48ffcd"/>
<circle cx="1374.2" cy="317.4" r="5.35" fill="#a40002"/>
<circle cx="1331.0" cy="210.9" r="5.35" fill="#1ffff7"/>
<circle cx="1305.2" cy="226.8" r="5.35" fill="#48ffce"/>
<circle cx="1343.1" cy="419.9" r="5.35" fill="#f8ff21"/>
<circle cx="1336.1" cy="435.7" r="5.35" fill="#94ff85"/>
<circle cx="1443.1" cy="396.7" r="5.35" fill="#52ffaf"/>
<circle cx="1585.4" cy="363.1" r="5.35" fill="#4452ff"/>
<circle cx="1424.4" cy="384.9" r="5.35" fill="#d0ff5a"/>
<circle cx="1382.8" cy="328.6" r="5.35" fill="#930001"/>
<circle cx="1362.9" cy="340.9" r="5.35" fill="#8b0000"/>
<circle cx="1470.4" cy="366.1" r="5.35" fill="#a6ff7b"/>
<circle cx="1431.7" cy="372.2" r="5.35" fill="#e4ff44"/>
<circle cx="1272.5" cy="443.8" r="5.35" fill="#47ffcf"/>
<circle cx="1368.9" cy="328.6" r="5.35" fill="#8b0000"/>
<circle cx="1461.9" cy="247.8" r="5.35" fill="#5bff9d"/>
<circle cx="1344.5" cy="458.0" r="5.35" fill="#4fffb9"/>
<circle cx="1330.2" cy="396.3" r="5.35" fill="#ffb300"/>
<circle cx="1425.3" cy="323.5" r="5.35" fill="#f10001"/>
<circle cx="1388.1" cy="280.4" r="5.35" fill="#ff8200"/>
<circle cx="1483.2" cy="377.7" r="5.35" fill="#50ffb6"/>
<circle cx="1312.0" cy="395.6" r="5.35" fill="#ffcc00"/>
<circle cx="1259.0" cy="340.8" r="5.35" fill="#76ff94"/>
<circle cx="1273.6" cy="531.2" r="5.35" fill="#4d66ff"/>
<circle cx="1315.8" cy="296.7" r="5.35" fill="#ff7800"/>
<circle cx="1346.1" cy="485.9" r="5.35" fill="#36ffe7"/>
<circle cx="1417.1" cy="351.9" r="5.35" fill="#ff8b00"/>
<circle cx="1396.8" cy="348.7" r="5.35" fill="#f30001"/>
<circle cx="1426.8" cy="165.7" r="5.35" fill="#4a5dff"/>
<circle cx="1379.8" cy="306.1" r="5.35" fill="#cb0002"/>
<circle cx="1454.0" cy="285.9" r="5.35" fill="#ffe600"/>
<circle cx="1332.3" cy="309.2" r="5.35" fill="#ff5300"/>
<circle cx="1497.7" cy="379.3" r="5.35" fill="#44ffd5"/>
<circle cx="1367.2" cy="293.6" r="5.35" fill="#ff2900"/>
<circle cx="1311.0" cy="412.5" r="5.35" fill="#faff19"/>
<circle cx="1459.1" cy="424.6" r="5.35" fill="#46ffd1"/>
<circle cx="1355.0" cy="300.9" r="5.35" fill="#ff3000"/>
<circle cx="1266.9" cy="442.6" r="5.35" fill="#42ffd8"/>
<circle cx="1264.0" cy="350.0" r="5.35" fill="#abff78"/>
<circle cx="1451.4" cy="385.4" r="5.35" fill="#59ff9e"/>
<circle cx="1310.6" cy="294.8" r="5.35" fill="#ff7d00"/>
<circle cx="1318.4" cy="235.8" r="5.35" fill="#54ffa3"/>
<circle cx="1405.0" cy="357.8" r="5.35" fill="#ff6a00"/>
<circle cx="1367.6" cy="248.0" r="5.35" fill="#e3ff45"/>
<circle cx="1511.9" cy="335.5" r="5.35" fill="#54ffa3"/>
<circle cx="1264.7" cy="334.7" r="5.35" fill="#c0ff68"/>
<circle cx="1335.9" cy="357.4" r="5.35" fill="#ff2700"/>
<circle cx="1354.6" cy="298.7" r="5.35" fill="#ff3d00"/>
<circle cx="1360.8" cy="378.2" r="5.35" fill="#ff6000"/>
<circle cx="1430.3" cy="264.4" r="5.35" fill="#ffd200"/>
<circle cx="1512.3" cy="382.2" r="5.35" fill="#2bfff0"/>
<circle cx="1360.9" cy="311.1" r="5.35" fill="#db0001"/>
<circle cx="1484.8" cy="316.7" r="5.35" fill="#e4ff44"/>
<circle cx="1454.3" cy="248.0" r="5.35" fill="#84ff8e"/>
<circle cx="1327.6" cy="422.4" r="5.35" fill="#f6ff24"/>
<circle cx="1304.9" cy="310.1" r="5.35" fill="#ff8300"/>
<circle cx="1387.2" cy="274.3" r="5.35" fill="#ffa500"/>
<circle cx="1478.9" cy="346.6" r="5.35" fill="#d4ff56"/>
<circle cx="1339.3" cy="462.1" r="5.35" fill="#4dffc1"/>
<circle cx="1458.2" cy="324.8" r="5.35" fill="#ffc200"/>
<circle cx="1313.2" cy="523.9" r="5.35" fill="#5170ff"/>
<circle cx="1403.1" cy="427.6" r="5.35" fill="#b5ff71"/>
<circle cx="1547.7" cy="194.8" r="5.35" fill="#4655ff"/>
<circle cx="1376.1" cy="320.2" r="5.35" fill="#990001"/>
<circle cx="1273.5" cy="459.0" r="5.35" fill="#48ffcc"/>
<circle cx="1385.0" cy="370.0" r="5.35" fill="#ff6300"/>
<circle cx="1448.5" cy="350.2" r="5.35" fill="#ffe500"/>
<circle cx="1339.4" cy="125.2" r="5.35" fill="#1b1aff"/>
<circle cx="1391.0" cy="317.7" r="5.35" fill="#ad0002"/>
<circle cx="1292.1" cy="338.1" r="5.35" fill="#ffaa00"/>
<circle cx="1456.5" cy="317.8" r="5.35" fill="#ffc000"/>
<circle cx="1385.6" cy="390.7" r="5.35" fill="#ffbc00"/>
<circle cx="1421.2" cy="271.2" r="5.35" fill="#ffb300"/>
<circle cx="1258.9" cy="312.7" r="5.35" fill="#a9ff79"/>
<circle cx="1366.2" cy="288.9" r="5.35" fill="#ff4800"/>
<circle cx="1429.7" cy="256.3" r="5.35" fill="#fff200"/>
<circle cx="1356.4" cy="263.7" r="5.35" fill="#ffbc00"/>
<circle cx="1453.3" cy="294.9" r="5.35" fill="#ffd900"/>
<circle cx="1392.8" cy="349.8" r="5.35" fill="#e90001"/>
<circle cx="1542.7" cy="209.6" r="5.35" fill="#4d67ff"/>
<circle cx="1343.8" cy="246.0" r="5.35" fill="#e6ff40"/>
<circle cx="1329.6" cy="340.4" r="5.35" fill="#ee0001"/>
<circle cx="1436.9" cy="309.0" r="5.35" fill="#ff6c00"/>
<circle cx="1357.3" cy="410.5" r="5.35" fill="#ffed00"/>
<circle cx="1412.2" cy="439.0" r="5.35" fill="#64ff9a"/>
<circle cx="1299.8" cy="255.6" r="5.35" fill="#ccff5e"/>
<circle cx="1407.3" cy="391.3" r="5.35" fill="#fff100"/>
<circle cx="1254.9" cy="453.6" r="5.35" fill="#2afff1"/>
<circle cx="1366.0" cy="410.3" r="5.35" fill="#ffec00"/>
<circle cx="1348.1" cy="341.1" r="5.35" fill="#a10002"/>
<circle cx="1402.8" cy="385.3" r="5.35" fill="#ffd200"/>
<circle cx="1566.9" cy="290.3" r="5.35" fill="#506dff"/>
<circle cx="1270.9" cy="280.8" r="5.35" fill="#afff75"/>
<circle cx="1355.2" cy="322.8" r="5.35" fill="#b30002"/>
<circle cx="1524.4" cy="396.6" r="5.35" fill="#4fcaff"/>
<circle cx="1429.4" cy="452.4" r="5.35" fill="#40ffda"/>
<circle cx="1420.3" cy="277.7" r="5.35" fill="#ff9900"/>
<circle cx="1507.3" cy="281.2" r="5.35" fill="#44ffd5"/>
<circle cx="1480.5" cy="345.7" r="5.35" fill="#d0ff5a"/>
<circle cx="1358.9" cy="349.9" r="5.35" fill="#a10002"/>
<circle cx="1424.9" cy="348.6" r="5.35" fill="#ff9f00"/>
<circle cx="1427.6" cy="303.0" r="5.35" fill="#ff3700"/>
<circle cx="1291.7" cy="289.6" r="5.35" fill="#ffc500"/>
<circle cx="1463.2" cy="316.2" r="5.35" fill="#ffd600"/>
<circle cx="1442.6" cy="237.1" r="5.35" fill="#53ffa6"/>
<circle cx="1333.2" cy="408.2" r="5.35" fill="#ffd100"/>
<circle cx="1305.8" cy="474.2" r="5.35" fill="#3affe3"/>
<circle cx="1367.0" cy="372.0" r="5.35" fill="#ff3900"/>
<circle cx="1282.2" cy="347.9" r="5.35" fill="#ffd600"/>
<circle cx="1266.9" cy="284.1" r="5.35" fill="#abff78"/>
<circle cx="1554.4" cy="331.2" r="5.35" fill="#589eff"/>
<circle cx="1250.3" cy="229.0" r="5.35" fill="#568aff"/>
<circle cx="1423.8" cy="297.4" r="5.35" fill="#ff3e00"/>
<circle cx="1352.9" cy="383.5" r="5.35" fill="#ff8500"/>
<circle cx="1433.0" cy="308.8" r="5.35" fill="#ff4e00"/>
<circle cx="1391.7" cy="352.6" r="5.35" fill="#f00001"/>
<circle cx="1321.7" cy="337.9" r="5.35" fill="#ff2c00"/>
<circle cx="1437.0" cy="299.3" r="5.35" fill="#ff8600"/>
<circle cx="1338.8" cy="218.5" r="5.35" fill="#42ffd9"/>
<circle cx="1318.6" cy="567.5" r="5.35" fill="#3e46ff"/>
<circle cx="1361.4" cy="253.4" r="5.35" fill="#fff100"/>
<circle cx="1423.1" cy="309.5" r="5.35" fill="#e70001"/>
<circle cx="1411.2" cy="441.4" r="5.35" fill="#55ff9f"/>
<circle cx="1359.3" cy="272.7" r="5.35" fill="#ff9500"/>
<circle cx="1375.5" cy="445.6" r="5.35" fill="#7dff91"/>
<circle cx="1325.2" cy="317.4" r="5.35" fill="#ff4100"/>
<circle cx="1428.7" cy="335.2" r="5.35" fill="#ff6200"/>
<circle cx="1441.7" cy="405.2" r="5.35" fill="#51ffb5"/>
<circle cx="1311.3" cy="363.3" r="5.35" fill="#ff9e00"/>
<circle cx="1330.7" cy="418.2" r="5.35" fill="#fff300"/>
<circle cx="1309.3" cy="245.3" r="5.35" fill="#a2ff7d"/>
<circle cx="1318.4" cy="371.3" r="5.35" fill="#ff9a00"/>
<circle cx="1348.3" cy="379.3" r="5.35" fill="#ff7700"/>
<circle cx="1348.0" cy="393.6" r="5.35" fill="#ffb200"/>
<circle cx="1398.3" cy="437.8" r="5.35" fill="#9aff82"/>
<circle cx="1324.8" cy="412.4" r="5.35" fill="#ffe100"/>
<circle cx="1483.2" cy="389.1" r="5.35" fill="#4affc9"/>
<circle cx="1321.6" cy="390.9" r="5.35" fill="#ffac00"/>
<circle cx="1373.7" cy="399.8" r="5.35" fill="#ffc900"/>
<circle cx="1442.7" cy="323.2" r="5.35" fill="#ff8200"/>
<circle cx="1456.6" cy="325.1" r="5.35" fill="#ffbd00"/>
<circle cx="1439.7" cy="457.9" r="5.35" fill="#1bfff9"/>
<circle cx="1395.4" cy="266.6" r="5.35" fill="#ffcb00"/>
<circle cx="1454.9" cy="171.7" r="5.35" fill="#5276ff"/>
<circle cx="1292.5" cy="240.4" r="5.35" fill="#54ffa4"/>
<circle cx="1507.1" cy="395.4" r="5.35" fill="#23fff5"/>
<circle cx="1343.3" cy="239.1" r="5.35" fill="#b2ff73"/>
<circle cx="1420.3" cy="277.3" r="5.35" fill="#ff9b00"/>
<circle cx="1353.5" cy="270.6" r="5.35" fill="#ff9e00"/>
<circle cx="1350.5" cy="355.8" r="5.35" fill="#c50002"/>
<circle cx="1352.3" cy="427.4" r="5.35" fill="#c0ff68"/>
<circle cx="1292.4" cy="311.1" r="5.35" fill="#ffb300"/>
<circle cx="1364.2" cy="282.0" r="5.35" fill="#ff6c00"/>
<circle cx="1410.4" cy="243.1" r="5.35" fill="#d4ff56"/>
<circle cx="1430.3" cy="468.5" r="5.35" fill="#2af3ff"/>
<circle cx="1451.0" cy="165.1" r="5.35" fill="#4e69ff"/>
<circle cx="1421.1" cy="462.9" r="5.35" fill="#31ffeb"/>
<circle cx="1361.1" cy="424.1" r="5.35" fill="#d4ff56"/>
<circle cx="1447.7" cy="319.4" r="5.35" fill="#ff9c00"/>
<circle cx="1549.3" cy="84.0" r="5.35" fill="#2627ff"/>
<circle cx="1524.4" cy="92.5" r="5.35" fill="#3336ff"/>
<circle cx="1511.7" cy="96.3" r="5.35" fill="#2f32ff"/>
<circle cx="1571.8" cy="106.3" r="5.35" fill="#2727ff"/>
<circle cx="1592.4" cy="113.7" r="5.35" fill="#2a2cff"/>
<circle cx="1585.0" cy="120.0" r="5.35" fill="#2d2fff"/>
<circle cx="1597.7" cy="122.2" r="5.35" fill="#2728ff"/>
<circle cx="1555.2" cy="121.2" r="5.35" fill="#2424ff"/>
<circle cx="1555.7" cy="131.8" r="5.35" fill="#1f1fff"/>
<circle cx="1638.0" cy="133.9" r="5.35" fill="#1b1aff"/>
<circle cx="1645.7" cy="150.3" r="5.35" fill="#1b1aff"/>
<circle cx="1617.9" cy="154.1" r="5.35" fill="#2222ff"/>
<circle cx="1605.6" cy="164.3" r="5.35" fill="#2525ff"/>
<circle cx="1596.0" cy="166.4" r="5.35" fill="#2020ff"/>
<circle cx="1636.0" cy="182.3" r="5.35" fill="#1b1aff"/>
<circle cx="1619.6" cy="205.1" r="5.35" fill="#292aff"/>
<circle cx="1624.3" cy="236.3" r="5.35" fill="#1b1aff"/>
<circle cx="1573.3" cy="194.4" r="5.35" fill="#2626ff"/>
<circle cx="1559.9" cy="171.5" r="5.35" fill="#2b2dff"/>
<circle cx="1764.0" cy="111.2" r="5.35" fill="#1b1aff"/>
<circle cx="1611.5" cy="309.6" r="5.35" fill="#2e30ff"/>
<circle cx="1574.8" cy="316.6" r="5.35" fill="#5173ff"/>
<circle cx="1574.8" cy="331.5" r="5.35" fill="#5275ff"/>
<circle cx="1604.0" cy="224.2" r="5.35" fill="#3134ff"/>
<circle cx="1592.4" cy="224.2" r="5.35" fill="#3336ff"/>
<circle cx="1581.8" cy="218.9" r="5.35" fill="#2f32ff"/>
<circle cx="1604.0" cy="282.6" r="5.35" fill="#353aff"/>
<circle cx="1592.4" cy="288.0" r="5.35" fill="#3e48ff"/>
<circle cx="1295.5" cy="656.2" r="5.35" fill="#1b1aff"/>
<circle cx="1308.0" cy="656.2" r="5.35" fill="#1b1aff"/>
<circle cx="1359.0" cy="637.1" r="5.35" fill="#3235ff"/>
<circle cx="1382.9" cy="637.1" r="5.35" fill="#2121ff"/>
<circle cx="1458.8" cy="624.4" r="5.35" fill="#1b1aff"/>
<circle cx="1492.3" cy="637.1" r="5.35" fill="#1b1aff"/>
<circle cx="1420.0" cy="605.3" r="5.35" fill="#2d2fff"/>
<circle cx="1603.8" cy="488.2" r="5.35" fill="#1b1aff"/>
<circle cx="1514.0" cy="517.1" r="5.35" fill="#404bff"/>
<circle cx="1552.8" cy="455.8" r="5.35" fill="#3f4aff"/>
<circle cx="1551.0" cy="471.7" r="5.35" fill="#3e47ff"/>
<circle cx="1531.0" cy="469.8" r="5.35" fill="#3e48ff"/>
<circle cx="1522.8" cy="486.8" r="5.35" fill="#3c45ff"/>
<circle cx="1463.9" cy="546.8" r="5.35" fill="#2e31ff"/>
<circle cx="1431.5" cy="569.1" r="5.35" fill="#3033ff"/>
<circle cx="1347.3" cy="623.8" r="5.35" fill="#3134ff"/>
<circle cx="1333.2" cy="613.2" r="5.35" fill="#292aff"/>
<circle cx="1322.1" cy="597.8" r="5.35" fill="#2829ff"/>
<circle cx="1565.0" cy="413.3" r="5.35" fill="#3e47ff"/>
<circle cx="1548.3" cy="406.6" r="5.35" fill="#4e68ff"/>
<circle cx="1327.5" cy="89.5" r="5.35" fill="#1b1aff"/>
<circle cx="1310.2" cy="100.4" r="5.35" fill="#2424ff"/>
<circle cx="1298.3" cy="110.2" r="5.35" fill="#2525ff"/>
<circle cx="1301.0" cy="115.5" r="5.35" fill="#2424ff"/>
<circle cx="1417.8" cy="108.0" r="5.35" fill="#1b1aff"/>
<circle cx="1477.0" cy="95.6" r="5.35" fill="#1b1aff"/>
<circle cx="1511.5" cy="95.6" r="5.35" fill="#2f32ff"/>
<circle cx="1524.5" cy="92.4" r="5.35" fill="#3336ff"/>
<circle cx="1547.9" cy="83.6" r="5.35" fill="#2727ff"/>
<circle cx="1245.7" cy="217.0" r="5.35" fill="#4d65ff"/>
<circle cx="1257.1" cy="207.1" r="5.35" fill="#547bff"/>
<circle cx="1283.1" cy="175.8" r="5.35" fill="#2f31ff"/>
<circle cx="1342.1" cy="138.0" r="5.35" fill="#2323ff"/>
<circle cx="1327.0" cy="159.3" r="5.35" fill="#3438ff"/>
</g>
<polygon points="1245.2,381.3 1258.2,377.4 1271.1,373.4 1284.1,369.5 1297.1,365.5 1310.0,361.6 1323.0,357.6 1336.0,353.6 1349.0,349.6 1361.9,345.5 1374.9,341.4 1387.9,337.0 1400.8,332.4 1413.8,327.7 1426.8,323.1 1439.8,318.4 1452.7,313.7 1465.7,309.0 1478.7,304.2 1491.6,299.5 1504.6,294.7 1517.6,290.0 1530.5,285.2 1543.5,280.4 1556.5,275.6 1569.5,270.8 1582.4,266.0 1595.4,261.1 1608.4,256.3 1621.3,251.5 1634.3,246.6 1647.3,241.8 1660.2,236.9 1673.2,232.1 1686.2,227.2 1699.2,222.3 1712.1,217.5 1725.1,212.6 1738.1,207.7 1751.0,202.8 1764.0,197.9 1764.0,227.9 1751.0,231.7 1738.1,235.5 1725.1,239.2 1712.1,243.0 1699.2,246.8 1686.2,250.6 1673.2,254.4 1660.2,258.3 1647.3,262.1 1634.3,265.9 1621.3,269.7 1608.4,273.6 1595.4,277.4 1582.4,281.3 1569.5,285.1 1556.5,289.0 1543.5,292.9 1530.5,296.8 1517.6,300.7 1504.6,304.6 1491.6,308.5 1478.7,312.4 1465.7,316.4 1452.7,320.3 1439.8,324.3 1426.8,328.3 1413.8,332.3 1400.8,336.3 1387.9,340.4 1374.9,344.7 1361.9,349.2 1349.0,353.8 1336.0,358.5 1323.0,363.1 1310.0,367.8 1297.1,372.6 1284.1,377.3 1271.1,382.0 1258.2,386.8 1245.2,391.5" fill="#999" fill-opacity="0.4"/>
<line x1="1245.2" y1="386.4" x2="1764.0" y2="212.9" stroke="#ff0000" stroke-width="4.6"/>
<line x1="1559.5" y1="132.2" x2="1590.3" y2="137.1" stroke="#000080" stroke-width="1.6"/>
<line x1="1621.1" y1="155.6" x2="1642.8" y2="166.8" stroke="#000080" stroke-width="1.6"/>
<line x1="1549.9" y1="149.8" x2="1524.4" y2="196.6" stroke="#000080" stroke-width="1.6"/>
<text transform="translate(1603.2,109.5) scale(1,1.04)" font-size="18.15" fill="#000080">SRSF3</text>
<text transform="translate(1593.7,142.8) scale(1,1.04)" font-size="18.15" fill="#000080">SRSF2</text>
<text transform="translate(1555.5,153.0) scale(1,1.04)" font-size="18.15" fill="#000080">SRSF5</text>
<text transform="translate(1505.3,160.9) scale(1,1.04)" font-size="18.15" fill="#000080">HNRNPAB</text>
<text transform="translate(1645.8,174.3) scale(1,1.04)" font-size="18.15" fill="#000080">MCL1</text>
<text transform="translate(1630.1,206.6) scale(1,1.04)" font-size="18.15" fill="#000080">HNRNPA2B1</text>
<line x1="1291.6" x2="1291.6" y1="705.9" y2="712.6" stroke="#333" stroke-width="2.6"/>
<text transform="translate(1291.6,743.1) scale(1,1.04)" font-size="35" fill="#4d4d4d" text-anchor="middle">−1</text>
<line x1="1447.2" x2="1447.2" y1="705.9" y2="712.6" stroke="#333" stroke-width="2.6"/>
<text transform="translate(1447.2,743.1) scale(1,1.04)" font-size="35" fill="#4d4d4d" text-anchor="middle">0</text>
<line x1="1602.8" x2="1602.8" y1="705.9" y2="712.6" stroke="#333" stroke-width="2.6"/>
<text transform="translate(1602.8,743.1) scale(1,1.04)" font-size="35" fill="#4d4d4d" text-anchor="middle">1</text>
<line x1="1758.4" x2="1758.4" y1="705.9" y2="712.6" stroke="#333" stroke-width="2.6"/>
<text transform="translate(1758.4,743.1) scale(1,1.04)" font-size="35" fill="#4d4d4d" text-anchor="middle">2</text>
<line x1="1208.3" x2="1215.0" y1="656.2" y2="656.2" stroke="#333" stroke-width="2.6"/>
<text transform="translate(1204,668.7) scale(1,1.04)" font-size="35" fill="#4d4d4d" text-anchor="end">0</text>
<line x1="1208.3" x2="1215.0" y1="442.5" y2="442.5" stroke="#333" stroke-width="2.6"/>
<text transform="translate(1204,455.0) scale(1,1.04)" font-size="35" fill="#4d4d4d" text-anchor="end">2</text>
<line x1="1208.3" x2="1215.0" y1="228.8" y2="228.8" stroke="#333" stroke-width="2.6"/>
<text transform="translate(1204,241.3) scale(1,1.04)" font-size="35" fill="#4d4d4d" text-anchor="end">4</text>
<text transform="translate(1540.7,780.5) scale(1,1.04)" font-size="34.8" fill="#000" text-anchor="middle">log10(Downstream FPKM)</text>
<text transform="translate(1171.4,389.1) rotate(-90) scale(1,1.04)" font-size="35.1" fill="#000" text-anchor="middle">log10(dOCR length)</text>
<text transform="translate(1214.6,46.3) scale(1,1.04)" font-size="32.25" fill="#000" xml:space="preserve" style="white-space:pre">ICP22 + ICP27 + Dox: Slope = 0.4922  P =  0</text>
<text transform="translate(1076.9,59) scale(1,1.04)" font-size="45" font-weight="bold" fill="#000">c</text>
<text transform="translate(1903.3,293) scale(1,1.04)" font-size="30.3" fill="#000">density</text>
<rect x="1904.2" y="311" width="41.5" height="200.6" fill="url(#jet)"/>
<line x1="1904.2" x2="1912.5" y1="335.3" y2="335.3" stroke="#fff" stroke-width="1.3"/>
<line x1="1937.4" x2="1945.7" y1="335.3" y2="335.3" stroke="#fff" stroke-width="1.3"/>
<text transform="translate(1958,345.7) scale(1,1.04)" font-size="29" fill="#000">0.4</text>
<line x1="1904.2" x2="1912.5" y1="379.8" y2="379.8" stroke="#fff" stroke-width="1.3"/>
<line x1="1937.4" x2="1945.7" y1="379.8" y2="379.8" stroke="#fff" stroke-width="1.3"/>
<text transform="translate(1958,390.2) scale(1,1.04)" font-size="29" fill="#000">0.3</text>
<line x1="1904.2" x2="1912.5" y1="424.2" y2="424.2" stroke="#fff" stroke-width="1.3"/>
<line x1="1937.4" x2="1945.7" y1="424.2" y2="424.2" stroke="#fff" stroke-width="1.3"/>
<text transform="translate(1958,434.6) scale(1,1.04)" font-size="29" fill="#000">0.2</text>
<line x1="1904.2" x2="1912.5" y1="468.6" y2="468.6" stroke="#fff" stroke-width="1.3"/>
<line x1="1937.4" x2="1945.7" y1="468.6" y2="468.6" stroke="#fff" stroke-width="1.3"/>
<text transform="translate(1958,479.0) scale(1,1.04)" font-size="29" fill="#000">0.1</text>
</g>
<g id="panel-b">
<line x1="1130.0" x2="1505.0" y1="913.8" y2="913.8" stroke="#000" stroke-width="1.6"/>
<rect x="1119.5" y="894.8" width="10.8" height="38.0" fill="#a9a9a9" stroke="#000" stroke-width="1.5" stroke-linejoin="miter"/>
<rect x="1433.5" y="894.8" width="5.5" height="38.0" fill="#a9a9a9" stroke="#000" stroke-width="1.5" stroke-linejoin="miter"/>
<rect x="1504.6" y="894.8" width="5.4" height="38.0" fill="#a9a9a9" stroke="#000" stroke-width="1.5" stroke-linejoin="miter"/>
<polygon points="1510.0,894.8 1520.3,894.8 1520.3,885.6 1547.0,913.8 1520.3,942.0 1520.3,932.8 1510.0,932.8" fill="#a9a9a9" stroke="#000" stroke-width="1.5" stroke-linejoin="miter"/>
<line x1="1743.0" x2="1847.0" y1="913.8" y2="913.8" stroke="#000" stroke-width="1.6"/>
<rect x="1719.1" y="894.8" width="5.3" height="38.0" fill="#a9a9a9" stroke="#000" stroke-width="1.5" stroke-linejoin="miter"/>
<polygon points="1724.4,894.8 1729.2,894.8 1729.2,885.6 1743.9,913.8 1729.2,942.0 1729.2,932.8 1724.4,932.8" fill="#a9a9a9" stroke="#000" stroke-width="1.5" stroke-linejoin="miter"/>
<rect x="1778.9" y="894.8" width="7.1" height="38.0" fill="#a9a9a9" stroke="#000" stroke-width="1.5" stroke-linejoin="miter"/>
<rect x="1804.6" y="894.8" width="6.7" height="38.0" fill="#a9a9a9" stroke="#000" stroke-width="1.5" stroke-linejoin="miter"/>
<rect x="1825.3" y="894.8" width="10.0" height="38.0" fill="#a9a9a9" stroke="#000" stroke-width="1.5" stroke-linejoin="miter"/>
<rect x="1846.9" y="894.8" width="4.5" height="38.0" fill="#a9a9a9" stroke="#000" stroke-width="1.5" stroke-linejoin="miter"/>
<polygon points="1851.4,894.8 1857.0,894.8 1857.0,885.6 1868.8,913.8 1857.0,942.0 1857.0,932.8 1851.4,932.8" fill="#a9a9a9" stroke="#000" stroke-width="1.5" stroke-linejoin="miter"/>
<polygon points="1381.6,987.0 1393.5,958.8 1393.5,968.0 1398.2,968.0 1398.2,1006.0 1393.5,1006.0 1393.5,1015.2" fill="#a9a9a9" stroke="#000" stroke-width="1.5" stroke-linejoin="miter"/>
<line x1="1615.0" x2="1661.0" y1="987.0" y2="987.0" stroke="#000" stroke-width="1.6"/>
<polygon points="1581.5,987.0 1607.6,958.8 1607.6,968.0 1615.6,968.0 1615.6,1006.0 1607.6,1006.0 1607.6,1015.2" fill="#a9a9a9" stroke="#000" stroke-width="1.5" stroke-linejoin="miter"/>
<rect x="1621.6" y="968.0" width="3.6" height="38.0" fill="#a9a9a9" stroke="#000" stroke-width="1.5" stroke-linejoin="miter"/>
<rect x="1625.2" y="968.0" width="4.3" height="38.0" fill="#a9a9a9" stroke="#000" stroke-width="1.5" stroke-linejoin="miter"/>
<rect x="1652.4" y="968.0" width="4.9" height="38.0" fill="#a9a9a9" stroke="#000" stroke-width="1.5" stroke-linejoin="miter"/>
<rect x="1660.7" y="968.0" width="9.3" height="38.0" fill="#a9a9a9" stroke="#000" stroke-width="1.5" stroke-linejoin="miter"/>
<polygon points="1671.8,987.0 1710.2,958.8 1710.2,968.0 1724.3,968.0 1724.3,1006.0 1710.2,1006.0 1710.2,1015.2" fill="#a9a9a9" stroke="#000" stroke-width="1.5" stroke-linejoin="miter"/>
<text x="1051.7" y="949.5" font-size="29.7" font-weight="bold" fill="#000">NFE2L3</text>
<text x="1661.5" y="949.3" font-size="29.7" font-weight="bold" fill="#000">CBX3</text>
<text x="1285.2" y="1024.2" font-size="29.7" font-weight="bold" fill="#000">CTB-119C2.1</text>
<text x="1490.8" y="1024.4" font-size="29.7" font-weight="bold" fill="#000">HNRNPA2B1</text>
<text x="1010" y="1069.8" font-size="30.2" font-weight="bold" text-anchor="middle" fill="#000">ICP22 + ICP27 (T-HFs-ICP22/ICP27 cells) - Dox</text>
<polygon points="112.9,1233.6 112.9,1233.6 113.9,1233.6 114.9,1233.6 115.9,1233.6 116.9,1233.6 117.9,1233.6 118.9,1233.6 119.9,1233.6 120.9,1233.6 121.9,1233.6 122.9,1233.6 123.9,1233.6 124.9,1233.6 125.9,1233.6 126.9,1233.6 127.9,1233.6 128.9,1233.6 129.9,1233.6 130.9,1233.6 131.9,1233.6 132.9,1233.6 133.9,1233.6 134.9,1233.6 135.9,1233.6 136.9,1233.6 137.9,1233.6 138.9,1233.6 139.9,1233.6 140.9,1233.6 141.9,1233.6 142.9,1233.6 143.9,1233.6 144.9,1233.6 145.9,1233.6 146.9,1233.6 147.9,1233.6 148.9,1233.6 149.9,1233.6 150.9,1233.6 151.9,1233.6 152.9,1233.6 153.9,1233.6 154.9,1233.6 155.9,1233.6 156.9,1233.6 157.9,1233.6 158.9,1233.6 159.9,1233.6 160.9,1233.6 161.9,1233.6 162.9,1233.6 163.9,1233.6 164.9,1233.6 165.9,1233.6 166.9,1233.6 167.9,1233.6 168.9,1233.6 169.9,1233.6 170.9,1233.6 171.9,1233.6 172.9,1233.6 173.9,1233.6 174.9,1233.6 175.9,1233.6 176.9,1233.6 177.9,1233.6 178.9,1233.6 179.9,1233.6 180.9,1233.6 181.9,1233.6 182.9,1233.6 183.9,1233.6 184.9,1233.6 185.9,1233.6 186.9,1233.6 187.9,1233.6 188.9,1233.6 189.9,1233.6 190.9,1233.6 191.9,1233.6 192.9,1233.6 193.9,1233.6 194.9,1233.6 195.9,1233.6 196.9,1233.6 197.9,1233.6 198.9,1233.6 199.9,1233.6 200.9,1233.6 201.9,1233.6 202.9,1233.6 203.9,1233.6 204.9,1233.6 205.9,1233.6 206.9,1233.6 207.9,1233.6 208.9,1233.6 209.9,1233.6 210.9,1233.6 211.9,1233.6 212.9,1233.6 213.9,1233.6 214.9,1233.6 215.9,1233.6 216.9,1233.6 217.9,1233.6 218.9,1233.6 219.9,1233.6 220.9,1233.6 221.9,1233.6 222.9,1233.6 223.9,1233.6 224.9,1233.6 225.9,1233.6 226.9,1233.6 227.9,1233.6 228.9,1233.6 229.9,1233.6 230.9,1233.6 231.9,1233.6 232.9,1233.6 233.9,1233.6 234.9,1233.6 235.9,1233.6 236.9,1233.6 237.9,1233.6 238.9,1233.6 239.9,1233.6 240.9,1233.6 241.9,1233.6 242.9,1233.6 243.9,1233.6 244.9,1233.6 245.9,1233.6 246.9,1233.6 247.9,1233.6 248.9,1233.6 249.9,1233.6 250.9,1233.6 251.9,1233.6 252.9,1233.6 253.9,1233.6 254.9,1233.6 255.9,1233.6 256.9,1233.6 257.9,1233.6 258.9,1233.6 259.9,1233.6 260.9,1233.6 261.9,1233.6 262.9,1233.6 263.9,1233.6 264.9,1233.6 265.9,1233.6 266.9,1233.6 267.9,1233.6 268.9,1233.6 269.9,1233.6 270.9,1233.6 271.9,1233.6 272.9,1233.6 273.9,1233.6 274.9,1233.6 275.9,1233.6 276.9,1233.6 277.9,1233.6 278.9,1233.6 279.9,1233.6 280.9,1233.6 281.9,1233.6 282.9,1233.6 283.9,1233.6 284.9,1233.6 285.9,1233.6 286.9,1233.6 287.9,1233.6 288.9,1233.6 289.9,1233.6 290.9,1233.6 291.9,1233.6 292.9,1233.6 293.9,1233.6 294.9,1233.6 295.9,1233.6 296.9,1233.6 297.9,1233.6 298.9,1233.6 299.9,1233.6 300.9,1233.6 301.9,1233.6 302.9,1233.6 303.9,1233.6 304.9,1233.6 305.9,1233.6 306.9,1233.6 307.9,1233.6 308.9,1233.6 309.9,1233.6 310.9,1233.6 311.9,1233.6 312.9,1233.6 313.9,1233.6 314.9,1233.6 315.9,1233.6 316.9,1233.6 317.9,1233.6 318.9,1233.6 319.9,1233.6 320.9,1233.6 321.9,1233.6 322.9,1233.6 323.9,1233.6 324.9,1233.6 325.9,1233.6 326.9,1233.6 327.9,1233.6 328.9,1233.6 329.9,1233.6 330.9,1233.6 331.9,1233.6 332.9,1233.6 333.9,1233.6 334.9,1233.6 335.9,1233.6 336.9,1233.6 337.9,1233.6 338.9,1233.6 339.9,1233.6 340.9,1233.6 341.9,1233.6 342.9,1233.6 343.9,1233.6 344.9,1233.6 345.9,1233.6 346.9,1233.6 347.9,1233.6 348.9,1233.6 349.9,1233.6 350.9,1233.6 351.9,1233.6 352.9,1233.6 353.9,1233.6 354.9,1233.6 355.9,1233.6 356.9,1233.6 357.9,1233.6 358.9,1233.6 359.9,1233.6 360.9,1233.6 361.9,1233.6 362.9,1233.6 363.9,1233.6 364.9,1233.6 365.9,1233.6 366.9,1233.6 367.9,1233.6 368.9,1233.6 369.9,1233.6 370.9,1233.6 371.9,1233.6 372.9,1233.6 373.9,1233.6 374.9,1233.6 375.9,1233.6 376.9,1233.6 377.9,1233.6 378.9,1233.6 379.9,1233.6 380.9,1233.6 381.9,1233.6 382.9,1233.6 383.9,1233.6 384.9,1233.6 385.9,1233.6 386.9,1233.6 387.9,1233.6 388.9,1233.6 389.9,1233.6 390.9,1233.6 391.9,1233.6 392.9,1233.6 393.9,1233.6 394.9,1233.6 395.9,1233.6 396.9,1233.6 397.9,1233.6 398.9,1233.6 399.9,1233.6 400.9,1233.6 401.9,1233.6 402.9,1233.6 403.9,1233.6 404.9,1233.6 405.9,1233.6 406.9,1233.6 407.9,1233.6 408.9,1233.6 409.9,1233.6 410.9,1233.6 411.9,1233.6 412.9,1233.6 413.9,1233.6 414.9,1233.6 415.9,1233.6 416.9,1233.6 417.9,1233.6 418.9,1233.6 419.9,1233.6 420.9,1233.6 421.9,1233.6 422.9,1233.6 423.9,1233.6 424.9,1233.6 425.9,1233.6 426.9,1233.6 427.9,1233.6 428.9,1233.6 429.9,1233.6 430.9,1233.6 431.9,1233.6 432.9,1233.6 433.9,1233.6 434.9,1233.6 435.9,1233.6 436.9,1233.6 437.9,1233.6 438.9,1233.6 439.9,1233.6 440.9,1233.6 441.9,1233.6 442.9,1233.6 443.9,1233.6 444.9,1233.6 445.9,1233.6 446.9,1233.6 447.9,1233.6 448.9,1233.6 449.9,1233.6 450.9,1233.6 451.9,1233.6 452.9,1233.6 453.9,1233.6 454.9,1233.6 455.9,1233.6 456.9,1233.6 457.9,1233.6 458.9,1233.6 459.9,1233.6 460.9,1233.6 461.9,1233.6 462.9,1233.6 463.9,1233.6 464.9,1233.6 465.9,1233.6 466.9,1233.6 467.9,1233.6 468.9,1233.6 469.9,1233.6 470.9,1233.6 471.9,1233.6 472.9,1233.6 473.9,1233.6 474.9,1233.6 475.9,1233.6 476.9,1233.6 477.9,1233.6 478.9,1233.6 479.9,1233.6 480.9,1233.6 481.9,1233.6 482.9,1233.6 483.9,1233.6 484.9,1233.6 485.9,1233.6 486.9,1233.6 487.9,1233.6 488.9,1233.6 489.9,1233.6 490.9,1233.6 491.9,1233.6 492.9,1233.6 493.9,1233.6 494.9,1233.6 495.9,1233.6 496.9,1233.6 497.9,1233.6 498.9,1233.6 499.9,1233.6 500.9,1233.6 501.9,1233.6 502.9,1233.6 503.9,1233.6 504.9,1233.6 505.9,1233.6 506.9,1233.6 507.9,1233.6 508.9,1233.6 509.9,1233.6 510.9,1233.6 511.9,1233.6 512.9,1233.6 513.9,1233.6 514.9,1233.6 515.9,1233.6 516.9,1233.6 517.9,1233.6 518.9,1233.6 519.9,1233.6 520.9,1233.6 521.9,1233.6 522.9,1233.6 523.9,1233.6 524.9,1233.6 525.9,1233.6 526.9,1233.6 527.9,1233.6 528.9,1233.6 529.9,1233.6 530.9,1233.6 531.9,1233.6 532.9,1233.6 533.9,1233.6 534.9,1233.6 535.9,1233.6 536.9,1233.6 537.9,1233.6 538.9,1233.6 539.9,1233.6 540.9,1233.6 541.9,1233.6 542.9,1233.6 543.9,1233.6 544.9,1233.6 545.9,1233.6 546.9,1233.6 547.9,1233.6 548.9,1233.6 549.9,1233.6 550.9,1233.6 551.9,1233.6 552.9,1233.6 553.9,1233.6 554.9,1233.6 555.9,1233.6 556.9,1233.6 557.9,1233.6 558.9,1233.6 559.9,1233.6 560.9,1233.6 561.9,1233.6 562.9,1233.6 563.9,1233.6 564.9,1233.6 565.9,1233.6 566.9,1233.6 567.9,1233.6 568.9,1233.6 569.9,1233.6 570.9,1233.6 571.9,1233.6 572.9,1233.6 573.9,1233.6 574.9,1233.6 575.9,1233.6 576.9,1233.6 577.9,1233.6 578.9,1233.6 579.9,1233.6 580.9,1233.6 581.9,1233.6 582.9,1233.6 583.9,1233.6 584.9,1233.6 585.9,1233.6 586.9,1233.6 587.9,1233.6 588.9,1233.6 589.9,1233.6 590.9,1233.6 591.9,1233.6 592.9,1233.6 593.9,1233.6 594.9,1233.6 595.9,1233.6 596.9,1233.6 597.9,1233.6 598.9,1233.6 599.9,1233.6 600.9,1233.6 601.9,1233.6 602.9,1233.6 603.9,1233.6 604.9,1233.6 605.9,1233.6 606.9,1233.6 607.9,1233.6 608.9,1233.6 609.9,1233.6 610.9,1233.6 611.9,1233.6 612.9,1233.6 613.9,1233.6 614.9,1233.6 615.9,1233.6 616.9,1233.6 617.9,1233.6 618.9,1233.6 619.9,1233.6 620.9,1233.6 621.9,1233.6 622.9,1233.6 623.9,1233.6 624.9,1233.6 625.9,1233.6 626.9,1233.6 627.9,1233.6 628.9,1233.6 629.9,1233.6 630.9,1233.6 631.9,1233.6 632.9,1233.6 633.9,1233.6 634.9,1233.6 635.9,1233.6 636.9,1233.6 637.9,1233.6 638.9,1233.6 639.9,1233.6 640.9,1233.6 641.9,1233.6 642.9,1233.6 643.9,1233.6 644.9,1233.6 645.9,1233.6 646.9,1233.6 647.9,1233.6 648.9,1233.6 649.9,1233.6 650.9,1233.6 651.9,1233.6 652.9,1233.6 653.9,1233.6 654.9,1233.6 655.9,1233.6 656.9,1233.6 657.9,1233.6 658.9,1233.6 659.9,1233.6 660.9,1233.6 661.9,1233.6 662.9,1233.6 663.9,1233.6 664.9,1233.6 665.9,1233.6 666.9,1233.6 667.9,1233.6 668.9,1233.6 669.9,1233.6 670.9,1233.6 671.9,1233.6 672.9,1233.6 673.9,1233.6 674.9,1233.6 675.9,1233.6 676.9,1233.6 677.9,1233.6 678.9,1233.6 679.9,1233.6 680.9,1233.6 681.9,1233.6 682.9,1233.6 683.9,1233.6 684.9,1233.6 685.9,1233.6 686.9,1233.6 687.9,1233.6 688.9,1233.6 689.9,1233.6 690.9,1233.6 691.9,1233.6 692.9,1233.6 693.9,1233.6 694.9,1233.6 695.9,1233.6 696.9,1233.6 697.9,1233.6 698.9,1233.6 699.9,1233.6 700.9,1233.6 701.9,1233.6 702.9,1233.6 703.9,1233.6 704.9,1233.6 705.9,1233.6 706.9,1233.6 707.9,1233.6 708.9,1233.6 709.9,1233.6 710.9,1233.6 711.9,1233.6 712.9,1233.6 713.9,1233.6 714.9,1233.6 715.9,1233.6 716.9,1233.6 717.9,1233.6 718.9,1233.6 719.9,1233.6 720.9,1233.6 721.9,1233.6 722.9,1233.6 723.9,1233.6 724.9,1233.6 725.9,1233.6 726.9,1233.6 727.9,1233.6 728.9,1233.6 729.9,1233.6 730.9,1233.6 731.9,1233.6 732.9,1233.6 733.9,1233.6 734.9,1233.6 735.9,1233.6 736.9,1233.6 737.9,1233.6 738.9,1233.6 739.9,1233.6 740.9,1233.6 741.9,1233.6 742.9,1233.6 743.9,1233.6 744.9,1233.6 745.9,1233.6 746.9,1233.6 747.9,1233.6 748.9,1233.6 749.9,1233.6 750.9,1233.6 751.9,1233.6 752.9,1233.6 753.9,1233.6 754.9,1233.6 755.9,1233.6 756.9,1233.6 757.9,1233.6 758.9,1233.6 759.9,1233.6 760.9,1233.6 761.9,1233.6 762.9,1233.6 763.9,1233.6 764.9,1233.6 765.9,1233.6 766.9,1233.6 767.9,1233.6 768.9,1233.6 769.9,1233.6 770.9,1233.6 771.9,1233.6 772.9,1233.6 773.9,1233.6 774.9,1233.6 775.9,1233.6 776.9,1233.6 777.9,1233.6 778.9,1233.6 779.9,1233.6 780.9,1233.6 781.9,1233.6 782.9,1233.6 783.9,1233.6 784.9,1233.6 785.9,1233.6 786.9,1233.6 787.9,1233.6 788.9,1233.6 789.9,1233.6 790.9,1233.6 791.9,1233.6 792.9,1233.6 793.9,1233.6 794.9,1233.6 795.9,1233.6 796.9,1233.6 797.9,1233.6 798.9,1233.6 799.9,1233.6 800.9,1233.6 801.9,1233.6 802.9,1233.6 803.9,1233.6 804.9,1233.6 805.9,1233.6 806.9,1233.6 807.9,1233.6 808.9,1233.6 809.9,1233.6 810.9,1233.6 811.9,1233.6 812.9,1233.6 813.9,1233.6 814.9,1233.6 815.9,1233.6 816.9,1233.6 817.9,1233.6 818.9,1233.6 819.9,1233.6 820.9,1233.6 821.9,1233.6 822.9,1233.6 823.9,1233.6 824.9,1233.6 825.9,1233.6 826.9,1233.6 827.9,1233.6 828.9,1233.6 829.9,1233.6 830.9,1233.6 831.9,1233.6 832.9,1233.6 833.9,1233.6 834.9,1233.6 835.9,1233.6 836.9,1233.6 837.9,1233.6 838.9,1233.6 839.9,1233.6 840.9,1233.6 841.9,1233.6 842.9,1233.6 843.9,1233.6 844.9,1233.6 845.9,1233.6 846.9,1233.6 847.9,1233.6 848.9,1233.6 849.9,1233.6 850.9,1233.6 851.9,1233.6 852.9,1233.6 853.9,1233.6 854.9,1233.6 855.9,1233.6 856.9,1233.6 857.9,1233.6 858.9,1233.6 859.9,1233.6 860.9,1233.6 861.9,1233.6 862.9,1233.6 863.9,1233.6 864.9,1233.6 865.9,1233.6 866.9,1233.6 867.9,1233.6 868.9,1233.6 869.9,1233.6 870.9,1233.6 871.9,1233.6 872.9,1233.6 873.9,1233.6 874.9,1233.6 875.9,1233.6 876.9,1233.6 877.9,1233.6 878.9,1233.6 879.9,1233.6 880.9,1233.6 881.9,1233.6 882.9,1233.6 883.9,1233.6 884.9,1233.6 885.9,1233.6 886.9,1233.6 887.9,1233.6 888.9,1233.6 889.9,1233.6 890.9,1233.6 891.9,1233.6 892.9,1233.6 893.9,1233.6 894.9,1233.6 895.9,1233.6 896.9,1233.6 897.9,1233.6 898.9,1233.6 899.9,1233.6 900.9,1233.6 901.9,1233.6 902.9,1233.6 903.9,1233.6 904.9,1233.6 905.9,1233.6 906.9,1233.6 907.9,1233.6 908.9,1233.6 909.9,1233.6 910.9,1233.6 911.9,1233.6 912.9,1233.6 913.9,1233.6 914.9,1233.6 915.9,1233.6 916.9,1233.6 917.9,1233.6 918.9,1233.6 919.9,1233.6 920.9,1233.6 921.9,1233.6 922.9,1233.6 923.9,1233.6 924.9,1233.6 925.9,1233.6 926.9,1233.6 927.9,1233.6 928.9,1233.6 929.9,1233.6 930.9,1233.6 931.9,1233.6 932.9,1233.6 933.9,1233.6 934.9,1233.6 935.9,1233.6 936.9,1233.6 937.9,1233.6 938.9,1233.6 939.9,1233.6 940.9,1233.6 941.9,1233.6 942.9,1233.6 943.9,1233.6 944.9,1233.6 945.9,1233.6 946.9,1233.6 947.9,1233.6 948.9,1233.6 949.9,1233.6 950.9,1233.6 951.9,1233.6 952.9,1233.6 953.9,1233.6 954.9,1233.6 955.9,1233.6 956.9,1233.6 957.9,1233.6 958.9,1233.6 959.9,1233.6 960.9,1233.6 961.9,1233.6 962.9,1233.6 963.9,1233.6 964.9,1233.6 965.9,1233.6 966.9,1233.6 967.9,1233.6 968.9,1233.6 969.9,1233.6 970.9,1233.6 971.9,1233.6 972.9,1233.6 973.9,1233.6 974.9,1233.6 975.9,1233.6 976.9,1233.6 977.9,1233.6 978.9,1233.6 979.9,1233.6 980.9,1233.6 981.9,1233.6 982.9,1233.6 983.9,1233.6 984.9,1233.6 985.9,1233.6 986.9,1233.6 987.9,1233.6 988.9,1233.6 989.9,1233.6 990.9,1233.6 991.9,1233.6 992.9,1233.6 993.9,1233.6 994.9,1233.6 995.9,1233.6 996.9,1233.6 997.9,1233.6 998.9,1233.6 999.9,1233.6 1000.9,1233.6 1001.9,1233.6 1002.9,1233.6 1003.9,1233.6 1004.9,1233.6 1005.9,1233.6 1006.9,1233.6 1007.9,1233.6 1008.9,1233.6 1009.9,1233.6 1010.9,1233.6 1011.9,1233.6 1012.9,1233.6 1013.9,1233.6 1014.9,1233.6 1015.9,1233.6 1016.9,1233.6 1017.9,1233.6 1018.9,1233.6 1019.9,1233.6 1020.9,1233.6 1021.9,1233.6 1022.9,1233.6 1023.9,1233.6 1024.9,1233.6 1025.9,1233.6 1026.9,1233.6 1027.9,1233.6 1028.9,1233.6 1029.9,1233.6 1030.9,1233.6 1031.9,1233.6 1032.9,1233.6 1033.9,1233.6 1034.9,1233.6 1035.9,1233.6 1036.9,1233.6 1037.9,1233.6 1038.9,1233.6 1039.9,1233.6 1040.9,1233.6 1041.9,1233.6 1042.9,1233.6 1043.9,1233.6 1044.9,1233.6 1045.9,1233.6 1046.9,1233.6 1047.9,1233.6 1048.9,1233.6 1049.9,1233.6 1050.9,1233.6 1051.9,1233.6 1052.9,1233.6 1053.9,1233.6 1054.9,1233.6 1055.9,1233.6 1056.9,1233.6 1057.9,1233.6 1058.9,1233.6 1059.9,1233.6 1060.9,1233.6 1061.9,1233.6 1062.9,1233.6 1063.9,1233.6 1064.9,1233.6 1065.9,1233.6 1066.9,1233.6 1067.9,1233.6 1068.9,1233.6 1069.9,1233.6 1070.9,1233.6 1071.9,1233.6 1072.9,1233.6 1073.9,1233.6 1074.9,1233.6 1075.9,1233.6 1076.9,1233.6 1077.9,1233.6 1078.9,1233.6 1079.9,1233.6 1080.9,1233.6 1081.9,1233.6 1082.9,1233.6 1083.9,1233.6 1084.9,1233.6 1085.9,1233.6 1086.9,1233.6 1087.9,1233.6 1088.9,1233.6 1089.9,1233.6 1090.9,1233.6 1091.9,1233.6 1092.9,1233.6 1093.9,1233.6 1094.9,1233.6 1095.9,1233.6 1096.9,1233.6 1097.9,1233.6 1098.9,1233.6 1099.9,1233.6 1100.9,1233.6 1101.9,1233.6 1102.9,1233.6 1103.9,1233.6 1104.9,1233.6 1105.9,1233.6 1106.9,1233.6 1107.9,1233.6 1108.9,1233.6 1109.9,1233.6 1110.9,1233.6 1111.9,1233.6 1112.9,1233.6 1113.9,1233.6 1114.9,1233.6 1115.9,1233.6 1116.9,1233.6 1117.9,1233.6 1118.9,1233.6 1119.9,1233.6 1120.9,1233.6 1121.9,1233.6 1122.9,1233.6 1123.9,1233.6 1124.9,1233.6 1125.9,1233.6 1126.9,1233.6 1127.9,1233.6 1128.9,1233.6 1129.9,1233.6 1130.9,1233.6 1131.9,1233.6 1132.9,1233.6 1133.9,1233.6 1134.9,1233.6 1135.9,1233.6 1136.9,1233.6 1137.9,1233.6 1138.9,1233.6 1139.9,1233.6 1140.9,1233.6 1141.9,1233.6 1142.9,1233.6 1143.9,1233.6 1144.9,1233.6 1145.9,1233.6 1146.9,1233.6 1147.9,1233.6 1148.9,1233.6 1149.9,1233.6 1150.9,1233.6 1151.9,1233.6 1152.9,1233.6 1153.9,1233.6 1154.9,1233.6 1155.9,1233.6 1156.9,1233.6 1157.9,1233.6 1158.9,1233.6 1159.9,1233.6 1160.9,1233.6 1161.9,1233.6 1162.9,1233.6 1163.9,1233.6 1164.9,1233.6 1165.9,1233.6 1166.9,1233.6 1167.9,1233.6 1168.9,1233.6 1169.9,1233.6 1170.9,1233.6 1171.9,1233.6 1172.9,1233.6 1173.9,1233.6 1174.9,1233.6 1175.9,1233.6 1176.9,1233.6 1177.9,1233.6 1178.9,1233.6 1179.9,1233.6 1180.9,1233.6 1181.9,1233.6 1182.9,1233.6 1183.9,1233.6 1184.9,1233.6 1185.9,1233.6 1186.9,1233.6 1187.9,1233.6 1188.9,1233.6 1189.9,1233.6 1190.9,1233.6 1191.9,1233.6 1192.9,1233.6 1193.9,1233.6 1194.9,1233.6 1195.9,1233.6 1196.9,1233.6 1197.9,1233.6 1198.9,1233.6 1199.9,1233.6 1200.9,1233.6 1201.9,1233.6 1202.9,1233.6 1203.9,1233.6 1204.9,1233.6 1205.9,1233.6 1206.9,1233.6 1207.9,1233.6 1208.9,1233.6 1209.9,1233.6 1210.9,1233.6 1211.9,1233.6 1212.9,1233.6 1213.9,1233.6 1214.9,1233.6 1215.9,1233.6 1216.9,1233.6 1217.9,1233.6 1218.9,1233.6 1219.9,1233.6 1220.9,1233.6 1221.9,1233.6 1222.9,1233.6 1223.9,1233.6 1224.9,1233.6 1225.9,1233.6 1226.9,1233.6 1227.9,1233.6 1228.9,1233.6 1229.9,1233.6 1230.9,1233.6 1231.9,1233.6 1232.9,1233.6 1233.9,1233.6 1234.9,1233.6 1235.9,1233.6 1236.9,1233.6 1237.9,1233.6 1238.9,1233.6 1239.9,1233.6 1240.9,1233.6 1241.9,1233.6 1242.9,1233.6 1243.9,1233.6 1244.9,1233.6 1245.9,1233.6 1246.9,1233.6 1247.9,1233.6 1248.9,1233.6 1249.9,1233.6 1250.9,1233.6 1251.9,1233.6 1252.9,1233.6 1253.9,1233.6 1254.9,1233.6 1255.9,1233.6 1256.9,1233.6 1257.9,1233.6 1258.9,1233.6 1259.9,1233.6 1260.9,1233.6 1261.9,1233.6 1262.9,1233.6 1263.9,1233.6 1264.9,1233.6 1265.9,1233.6 1266.9,1233.6 1267.9,1233.6 1268.9,1233.6 1269.9,1233.6 1270.9,1233.6 1271.9,1233.6 1272.9,1233.6 1273.9,1233.6 1274.9,1233.6 1275.9,1233.6 1276.9,1233.6 1277.9,1233.6 1278.9,1233.6 1279.9,1233.6 1280.9,1233.6 1281.9,1233.6 1282.9,1233.6 1283.9,1233.6 1284.9,1233.6 1285.9,1233.6 1286.9,1233.6 1287.9,1233.6 1288.9,1233.6 1289.9,1233.6 1290.9,1233.6 1291.9,1233.6 1292.9,1233.6 1293.9,1233.6 1294.9,1233.6 1295.9,1233.6 1296.9,1233.6 1297.9,1233.6 1298.9,1233.6 1299.9,1233.6 1300.9,1233.6 1301.9,1233.6 1302.9,1233.6 1303.9,1233.6 1304.9,1233.6 1305.9,1233.6 1306.9,1233.6 1307.9,1233.6 1308.9,1233.6 1309.9,1233.6 1310.9,1233.6 1311.9,1233.6 1312.9,1233.6 1313.9,1233.6 1314.9,1233.6 1315.9,1233.6 1316.9,1233.6 1317.9,1233.6 1318.9,1233.6 1319.9,1233.6 1320.9,1233.6 1321.9,1233.6 1322.9,1233.6 1323.9,1233.6 1324.9,1233.6 1325.9,1233.6 1326.9,1233.6 1327.9,1233.6 1328.9,1233.6 1329.9,1233.6 1330.9,1233.6 1331.9,1233.6 1332.9,1233.6 1333.9,1233.6 1334.9,1233.6 1335.9,1233.6 1336.9,1233.6 1337.9,1233.6 1338.9,1233.6 1339.9,1233.6 1340.9,1233.6 1341.9,1233.6 1342.9,1233.6 1343.9,1233.6 1344.9,1233.6 1345.9,1233.6 1346.9,1233.6 1347.9,1233.6 1348.9,1233.6 1349.9,1233.6 1350.9,1233.6 1351.9,1233.6 1352.9,1233.6 1353.9,1233.6 1354.9,1233.6 1355.9,1233.6 1356.9,1233.6 1357.9,1233.6 1358.9,1233.6 1359.9,1233.6 1360.9,1233.6 1361.9,1233.6 1362.9,1233.6 1363.9,1233.6 1364.9,1233.6 1365.9,1233.6 1366.9,1233.6 1367.9,1233.6 1368.9,1233.6 1369.9,1233.6 1370.9,1233.6 1371.9,1233.6 1372.9,1233.6 1373.9,1233.6 1374.9,1233.6 1375.9,1233.6 1376.9,1233.6 1377.9,1233.6 1378.9,1233.6 1379.9,1233.6 1380.9,1233.6 1381.9,1233.6 1382.9,1233.6 1383.9,1233.6 1384.9,1233.6 1385.9,1233.6 1386.9,1233.6 1387.9,1233.6 1388.9,1233.6 1389.9,1233.6 1390.9,1233.6 1391.9,1233.6 1392.9,1233.6 1393.9,1233.6 1394.9,1233.6 1395.9,1233.6 1396.9,1233.6 1397.9,1233.6 1398.9,1233.6 1399.9,1233.6 1400.9,1233.6 1401.9,1233.6 1402.9,1233.6 1403.9,1233.6 1404.9,1233.6 1405.9,1233.6 1406.9,1233.6 1407.9,1233.6 1408.9,1233.6 1409.9,1233.6 1410.9,1233.6 1411.9,1233.6 1412.9,1233.6 1413.9,1233.6 1414.9,1233.6 1415.9,1233.6 1416.9,1233.6 1417.9,1233.6 1418.9,1233.6 1419.9,1233.6 1420.9,1233.6 1421.9,1233.6 1422.9,1233.6 1423.9,1233.6 1424.9,1233.6 1425.9,1233.6 1426.9,1233.6 1427.9,1233.6 1428.9,1233.6 1429.9,1233.6 1430.9,1233.6 1431.9,1233.6 1432.9,1233.6 1433.9,1233.6 1434.9,1233.6 1435.9,1233.6 1436.9,1233.6 1437.9,1233.6 1438.9,1233.6 1439.9,1233.6 1440.9,1233.6 1441.9,1233.6 1442.9,1233.6 1443.9,1233.6 1444.9,1233.6 1445.9,1233.6 1446.9,1233.6 1447.9,1233.6 1448.9,1233.6 1449.9,1233.6 1450.9,1233.6 1451.9,1233.6 1452.9,1233.6 1453.9,1233.6 1454.9,1233.6 1455.9,1233.6 1456.9,1233.6 1457.9,1233.6 1458.9,1233.6 1459.9,1233.6 1460.9,1233.6 1461.9,1233.6 1462.9,1233.6 1463.9,1233.6 1464.9,1233.6 1465.9,1233.6 1466.9,1233.6 1467.9,1233.6 1468.9,1233.6 1469.9,1233.6 1470.9,1233.6 1471.9,1233.6 1472.9,1233.6 1473.9,1233.6 1474.9,1233.6 1475.9,1233.6 1476.9,1233.6 1477.9,1233.6 1478.9,1233.6 1479.9,1233.6 1480.9,1233.6 1481.9,1233.6 1482.9,1233.6 1483.9,1233.6 1484.9,1233.6 1485.9,1233.6 1486.9,1233.6 1487.9,1233.6 1488.9,1233.6 1489.9,1233.6 1490.9,1233.6 1491.9,1233.6 1492.9,1233.6 1493.9,1233.6 1494.9,1233.6 1495.9,1233.6 1496.9,1233.6 1497.9,1233.6 1498.9,1233.6 1499.9,1233.6 1500.9,1233.6 1501.9,1233.6 1502.9,1233.6 1503.9,1233.6 1504.9,1233.6 1505.9,1233.6 1506.9,1233.6 1507.9,1233.6 1508.9,1233.6 1509.9,1233.6 1510.9,1233.6 1511.9,1233.6 1512.9,1233.6 1513.9,1233.5 1514.9,1233.5 1515.9,1233.4 1516.9,1233.4 1517.9,1233.5 1518.9,1233.0 1519.9,1231.8 1520.9,1231.7 1521.9,1232.6 1522.9,1232.0 1523.9,1231.7 1524.9,1232.8 1525.9,1233.3 1526.9,1232.1 1527.9,1231.4 1528.9,1232.6 1529.9,1233.4 1530.9,1233.5 1531.9,1233.3 1532.9,1232.9 1533.9,1233.2 1534.9,1233.3 1535.9,1233.2 1536.9,1232.8 1537.9,1232.2 1538.9,1232.7 1539.9,1232.6 1540.9,1232.3 1541.9,1232.9 1542.9,1232.3 1543.9,1231.8 1544.9,1232.8 1545.9,1232.9 1546.9,1232.5 1547.9,1232.8 1548.9,1232.9 1549.9,1233.0 1550.9,1233.2 1551.9,1233.1 1552.9,1232.4 1553.9,1232.0 1554.9,1232.0 1555.9,1231.7 1556.9,1232.7 1557.9,1233.4 1558.9,1233.4 1559.9,1233.5 1560.9,1233.3 1561.9,1232.8 1562.9,1231.8 1563.9,1231.3 1564.9,1231.3 1565.9,1232.1 1566.9,1232.2 1567.9,1232.8 1568.9,1233.1 1569.9,1232.7 1570.9,1232.7 1571.9,1233.0 1572.9,1233.3 1573.9,1232.3 1574.9,1231.1 1575.9,1232.3 1576.9,1233.4 1577.9,1233.1 1578.9,1232.6 1579.9,1231.3 1580.9,1230.8 1581.9,1231.9 1582.9,1232.9 1583.9,1233.1 1584.9,1233.3 1585.9,1230.9 1586.9,1223.1 1587.9,1223.1 1588.9,1232.7 1589.9,1233.0 1590.9,1233.3 1591.9,1233.2 1592.9,1233.1 1593.9,1230.4 1594.9,1224.6 1595.9,1225.4 1596.9,1231.4 1597.9,1232.5 1598.9,1231.9 1599.9,1229.7 1600.9,1226.9 1601.9,1226.9 1602.9,1230.6 1603.9,1233.1 1604.9,1232.5 1605.9,1232.2 1606.9,1215.9 1607.9,1200.6 1608.9,1209.8 1609.9,1216.6 1610.9,1216.6 1611.9,1216.6 1612.9,1195.7 1613.9,1177.2 1614.9,1233.1 1615.9,1233.2 1616.9,1232.2 1617.9,1231.6 1618.9,1232.7 1619.9,1233.2 1620.9,1232.1 1621.9,1227.8 1622.9,1227.8 1623.9,1233.0 1624.9,1233.1 1625.9,1232.1 1626.9,1227.8 1627.9,1227.8 1628.9,1233.0 1629.9,1233.1 1630.9,1231.7 1631.9,1230.2 1632.9,1231.5 1633.9,1231.9 1634.9,1232.7 1635.9,1231.9 1636.9,1230.5 1637.9,1231.9 1638.9,1233.2 1639.9,1232.3 1640.9,1231.8 1641.9,1231.8 1642.9,1230.9 1643.9,1230.7 1644.9,1231.9 1645.9,1232.4 1646.9,1232.6 1647.9,1232.7 1648.9,1232.0 1649.9,1231.4 1650.9,1231.6 1651.9,1231.1 1652.9,1232.3 1653.9,1228.9 1654.9,1228.9 1655.9,1231.8 1656.9,1230.7 1657.9,1232.2 1658.9,1233.3 1659.9,1233.1 1660.9,1231.0 1661.9,1228.9 1662.9,1232.0 1663.9,1227.7 1664.9,1222.6 1665.9,1225.7 1666.9,1189.9 1667.9,1177.8 1668.9,1189.9 1669.9,1232.9 1670.9,1230.3 1671.9,1206.7 1672.9,1199.6 1673.9,1143.2 1674.9,1121.7 1675.9,1155.6 1676.9,1162.8 1677.9,1142.8 1678.9,1191.4 1679.9,1232.9 1680.9,1232.7 1681.9,1232.7 1682.9,1232.5 1683.9,1232.5 1684.9,1233.2 1685.9,1233.3 1686.9,1232.4 1687.9,1231.3 1688.9,1232.3 1689.9,1233.1 1690.9,1232.9 1691.9,1233.1 1692.9,1233.2 1693.9,1233.3 1694.9,1233.3 1695.9,1233.0 1696.9,1232.5 1697.9,1233.0 1698.9,1233.1 1699.9,1231.9 1700.9,1228.9 1701.9,1229.3 1702.9,1231.0 1703.9,1232.2 1704.9,1233.2 1705.9,1233.4 1706.9,1233.2 1707.9,1232.8 1708.9,1232.0 1709.9,1231.3 1710.9,1187.6 1711.9,1192.7 1712.9,1132.6 1713.9,1146.6 1714.9,1232.4 1715.9,1232.7 1716.9,1233.1 1717.9,1232.3 1718.9,1231.6 1719.9,1232.5 1720.9,1233.0 1721.9,1232.9 1722.9,1232.5 1723.9,1232.4 1724.9,1233.0 1725.9,1233.3 1726.9,1233.2 1727.9,1232.6 1728.9,1230.5 1729.9,1230.4 1730.9,1232.2 1731.9,1232.5 1732.9,1232.1 1733.9,1232.9 1734.9,1233.1 1735.9,1233.1 1736.9,1233.0 1737.9,1231.4 1738.9,1229.2 1739.9,1229.2 1740.9,1229.4 1741.9,1231.1 1742.9,1232.2 1743.9,1233.0 1744.9,1233.2 1745.9,1233.1 1746.9,1233.2 1747.9,1233.0 1748.9,1233.0 1749.9,1233.1 1750.9,1233.2 1751.9,1233.3 1752.9,1233.5 1753.9,1233.4 1754.9,1233.4 1755.9,1233.3 1756.9,1232.9 1757.9,1232.7 1758.9,1232.7 1759.9,1232.7 1760.9,1233.0 1761.9,1232.8 1762.9,1232.8 1763.9,1233.1 1764.9,1233.3 1765.9,1233.4 1766.9,1232.9 1767.9,1232.1 1768.9,1232.8 1769.9,1233.2 1770.9,1233.1 1771.9,1232.7 1772.9,1232.4 1773.9,1232.7 1774.9,1233.0 1775.9,1233.3 1776.9,1233.3 1777.9,1233.3 1778.9,1233.4 1779.9,1233.5 1780.9,1233.2 1781.9,1232.7 1782.9,1232.5 1783.9,1217.2 1784.9,1217.2 1785.9,1232.5 1786.9,1233.2 1787.9,1233.0 1788.9,1233.1 1789.9,1232.8 1790.9,1232.0 1791.9,1231.9 1792.9,1232.4 1793.9,1233.1 1794.9,1233.1 1795.9,1233.4 1796.9,1233.2 1797.9,1232.7 1798.9,1232.8 1799.9,1233.4 1800.9,1233.5 1801.9,1233.4 1802.9,1233.3 1803.9,1233.1 1804.9,1233.1 1805.9,1233.3 1806.9,1233.1 1807.9,1227.1 1808.9,1208.5 1809.9,1208.5 1810.9,1231.7 1811.9,1233.5 1812.9,1233.4 1813.9,1233.4 1814.9,1233.4 1815.9,1233.3 1816.9,1233.2 1817.9,1233.1 1818.9,1233.3 1819.9,1233.4 1820.9,1233.4 1821.9,1233.4 1822.9,1233.4 1823.9,1233.2 1824.9,1232.9 1825.9,1233.1 1826.9,1233.4 1827.9,1233.4 1828.9,1233.0 1829.9,1232.5 1830.9,1233.0 1831.9,1233.5 1832.9,1233.5 1833.9,1233.4 1834.9,1233.3 1835.9,1233.3 1836.9,1233.5 1837.9,1233.5 1838.9,1233.4 1839.9,1233.4 1840.9,1233.3 1841.9,1233.3 1842.9,1233.3 1843.9,1233.4 1844.9,1233.5 1845.9,1233.4 1846.9,1233.5 1847.9,1211.4 1848.9,1188.0 1849.9,1211.4 1850.9,1232.4 1851.9,1232.1 1852.9,1214.1 1853.9,1202.6 1854.9,1228.4 1855.9,1216.7 1856.9,1214.6 1857.9,1221.3 1858.9,1218.4 1859.9,1218.1 1860.9,1218.1 1861.9,1218.1 1862.9,1218.1 1863.9,1218.1 1864.9,1218.1 1865.9,1220.7 1866.9,1223.6 1867.9,1215.2 1868.9,1219.3 1869.9,1232.2 1870.9,1233.5 1871.9,1233.4 1872.9,1233.5 1873.9,1233.6 1874.9,1233.6 1875.9,1233.6 1876.9,1233.6 1877.9,1233.6 1878.9,1233.6 1879.9,1233.6 1880.9,1233.6 1881.9,1233.6 1882.9,1233.6 1883.9,1233.6 1884.9,1233.6 1885.9,1233.6 1886.9,1233.6 1887.9,1233.6 1888.9,1233.6 1889.9,1233.6 1890.9,1233.6 1891.9,1233.6 1892.9,1233.6 1893.9,1233.6 1894.9,1233.6 1895.9,1233.6 1896.9,1233.6 1897.9,1233.6 1898.9,1233.6 1899.9,1233.6 1900.9,1233.6 1901.9,1233.6 1902.9,1233.6 1903.9,1233.6 1904.9,1233.6 1905.9,1233.6 1906.9,1233.6 1907.9,1233.6 1908.9,1233.6 1909.9,1233.6 1910.9,1233.6 1911.9,1233.6 1912.9,1233.6 1913.9,1233.6 1914.9,1233.6 1915.9,1233.6 1916.9,1233.6 1917.9,1233.6 1918.9,1233.6 1919.9,1233.6 1920.9,1233.6 1921.9,1233.6 1922.9,1233.6 1923.9,1233.6 1924.9,1233.6 1925.9,1233.6 1926.9,1233.6 1927.9,1233.6 1928.9,1233.6 1929.9,1233.6 1930.9,1233.6 1931.9,1233.6 1932.9,1233.6 1933.9,1233.6 1934.9,1233.6 1935.9,1233.6 1936.9,1233.6 1937.9,1233.6 1938.9,1233.6 1939.9,1233.6 1940.9,1233.6 1941.9,1233.6 1942.9,1233.6 1943.9,1233.6 1944.9,1233.6 1945.9,1233.6 1946.9,1233.6 1947.9,1233.6 1948.9,1233.6 1949.9,1233.6 1950.9,1233.6 1951.9,1233.6 1952.9,1233.6 1953.9,1233.6 1954.9,1233.6 1955.9,1233.6 1956.9,1233.6 1957.9,1233.6 1958.9,1233.6 1959.9,1233.6 1960.9,1233.6 1961.9,1233.6 1962.9,1233.6 1963.9,1233.6 1964.9,1233.6 1965.9,1233.6 1966.9,1233.6 1967.9,1233.6 1968.9,1233.6 1969.9,1233.6 1969.9,1233.6" fill="#ffa500" stroke="#ffa500" stroke-width="0.4" stroke-linejoin="round"/>
<polygon points="112.9,1388.9 112.9,1388.0 113.9,1386.8 114.9,1385.8 115.9,1387.1 116.9,1387.4 117.9,1386.1 118.9,1386.5 119.9,1387.8 120.9,1388.8 121.9,1388.9 122.9,1387.8 123.9,1386.7 124.9,1387.8 125.9,1386.9 126.9,1385.3 127.9,1387.0 128.9,1387.7 129.9,1387.9 130.9,1388.1 131.9,1387.7 132.9,1387.7 133.9,1387.8 134.9,1386.3 135.9,1384.8 136.9,1385.6 137.9,1386.8 138.9,1387.3 139.9,1386.4 140.9,1386.2 141.9,1387.3 142.9,1387.1 143.9,1386.6 144.9,1387.1 145.9,1386.7 146.9,1386.7 147.9,1387.6 148.9,1388.1 149.9,1388.2 150.9,1387.3 151.9,1386.3 152.9,1387.5 153.9,1388.2 154.9,1386.1 155.9,1383.2 156.9,1383.0 157.9,1385.8 158.9,1386.7 159.9,1386.7 160.9,1387.5 161.9,1387.6 162.9,1386.7 163.9,1387.6 164.9,1387.7 165.9,1385.4 166.9,1383.0 167.9,1382.6 168.9,1381.6 169.9,1382.4 170.9,1386.0 171.9,1386.9 172.9,1387.1 173.9,1388.4 174.9,1388.9 175.9,1388.8 176.9,1387.8 177.9,1386.5 178.9,1386.9 179.9,1387.9 180.9,1387.9 181.9,1387.6 182.9,1387.4 183.9,1387.2 184.9,1387.7 185.9,1387.1 186.9,1386.4 187.9,1387.0 188.9,1385.4 189.9,1383.7 190.9,1386.4 191.9,1388.1 192.9,1387.5 193.9,1387.1 194.9,1385.6 195.9,1382.5 196.9,1384.6 197.9,1387.1 198.9,1384.5 199.9,1381.3 200.9,1380.5 201.9,1382.9 202.9,1387.0 203.9,1387.2 204.9,1386.2 205.9,1386.6 206.9,1387.5 207.9,1386.9 208.9,1387.6 209.9,1388.1 210.9,1385.3 211.9,1381.9 212.9,1385.4 213.9,1386.3 214.9,1383.4 215.9,1383.6 216.9,1383.4 217.9,1385.5 218.9,1387.8 219.9,1387.9 220.9,1387.6 221.9,1387.5 222.9,1386.9 223.9,1387.4 224.9,1387.6 225.9,1387.0 226.9,1384.4 227.9,1384.9 228.9,1385.5 229.9,1384.9 230.9,1386.7 231.9,1388.5 232.9,1388.2 233.9,1388.7 234.9,1388.5 235.9,1388.4 236.9,1386.3 237.9,1383.4 238.9,1386.2 239.9,1388.2 240.9,1388.4 241.9,1388.4 242.9,1387.8 243.9,1387.4 244.9,1388.0 245.9,1388.4 246.9,1388.1 247.9,1388.1 248.9,1388.3 249.9,1388.4 250.9,1388.3 251.9,1387.7 252.9,1385.6 253.9,1385.0 254.9,1384.9 255.9,1383.2 256.9,1383.5 257.9,1385.8 258.9,1387.4 259.9,1387.2 260.9,1386.6 261.9,1386.4 262.9,1386.9 263.9,1386.6 264.9,1386.6 265.9,1386.6 266.9,1387.3 267.9,1387.8 268.9,1387.2 269.9,1386.1 270.9,1386.9 271.9,1388.4 272.9,1388.3 273.9,1388.5 274.9,1388.3 275.9,1388.1 276.9,1387.3 277.9,1386.7 278.9,1386.8 279.9,1387.0 280.9,1386.2 281.9,1386.7 282.9,1385.2 283.9,1382.8 284.9,1385.3 285.9,1387.3 286.9,1386.8 287.9,1385.2 288.9,1384.5 289.9,1385.6 290.9,1384.7 291.9,1384.3 292.9,1383.1 293.9,1380.1 294.9,1383.0 295.9,1386.4 296.9,1386.6 297.9,1387.8 298.9,1387.7 299.9,1387.2 300.9,1387.7 301.9,1388.4 302.9,1388.0 303.9,1387.9 304.9,1387.7 305.9,1385.9 306.9,1385.1 307.9,1387.1 308.9,1386.9 309.9,1385.4 310.9,1386.9 311.9,1388.2 312.9,1387.7 313.9,1387.5 314.9,1386.6 315.9,1386.1 316.9,1384.0 317.9,1386.3 318.9,1387.4 319.9,1386.7 320.9,1386.3 321.9,1387.2 322.9,1387.4 323.9,1387.2 324.9,1387.0 325.9,1385.7 326.9,1383.7 327.9,1386.2 328.9,1388.0 329.9,1387.7 330.9,1386.9 331.9,1384.7 332.9,1384.2 333.9,1386.0 334.9,1386.9 335.9,1386.5 336.9,1387.8 337.9,1388.7 338.9,1388.9 339.9,1388.9 340.9,1387.8 341.9,1387.0 342.9,1387.5 343.9,1388.2 344.9,1388.5 345.9,1388.7 346.9,1388.4 347.9,1388.0 348.9,1385.9 349.9,1383.3 350.9,1383.2 351.9,1383.6 352.9,1384.4 353.9,1386.1 354.9,1385.2 355.9,1386.9 356.9,1387.7 357.9,1387.5 358.9,1384.8 359.9,1381.1 360.9,1384.3 361.9,1386.8 362.9,1386.9 363.9,1386.3 364.9,1386.1 365.9,1386.1 366.9,1387.6 367.9,1388.1 368.9,1387.4 369.9,1387.5 370.9,1388.7 371.9,1380.7 372.9,1375.9 373.9,1386.7 374.9,1387.5 375.9,1387.5 376.9,1388.0 377.9,1386.8 378.9,1385.6 379.9,1386.4 380.9,1387.3 381.9,1386.2 382.9,1387.2 383.9,1387.0 384.9,1387.8 385.9,1386.0 386.9,1383.0 387.9,1385.8 388.9,1387.7 389.9,1386.4 390.9,1385.1 391.9,1384.2 392.9,1383.2 393.9,1382.7 394.9,1384.6 395.9,1387.8 396.9,1386.7 397.9,1387.0 398.9,1387.4 399.9,1384.3 400.9,1381.0 401.9,1381.5 402.9,1385.1 403.9,1385.2 404.9,1382.2 405.9,1382.7 406.9,1381.5 407.9,1382.2 408.9,1380.3 409.9,1382.7 410.9,1385.4 411.9,1387.2 412.9,1384.8 413.9,1381.7 414.9,1385.5 415.9,1386.8 416.9,1386.8 417.9,1387.5 418.9,1388.2 419.9,1386.0 420.9,1382.7 421.9,1382.7 422.9,1386.1 423.9,1386.6 424.9,1386.1 425.9,1387.0 426.9,1387.6 427.9,1388.3 428.9,1388.4 429.9,1387.4 430.9,1386.4 431.9,1387.6 432.9,1386.8 433.9,1384.4 434.9,1386.2 435.9,1387.4 436.9,1386.9 437.9,1385.2 438.9,1384.6 439.9,1386.2 440.9,1388.2 441.9,1388.0 442.9,1386.9 443.9,1387.1 444.9,1387.7 445.9,1383.4 446.9,1379.9 447.9,1383.6 448.9,1387.7 449.9,1387.3 450.9,1388.0 451.9,1388.1 452.9,1388.2 453.9,1384.1 454.9,1381.1 455.9,1383.5 456.9,1385.9 457.9,1384.6 458.9,1385.6 459.9,1387.8 460.9,1387.7 461.9,1388.0 462.9,1387.2 463.9,1385.3 464.9,1387.3 465.9,1387.4 466.9,1385.3 467.9,1386.6 468.9,1387.7 469.9,1385.2 470.9,1381.9 471.9,1382.8 472.9,1386.4 473.9,1387.6 474.9,1387.6 475.9,1386.3 476.9,1387.3 477.9,1387.2 478.9,1386.5 479.9,1385.5 480.9,1383.2 481.9,1385.6 482.9,1386.1 483.9,1384.9 484.9,1383.7 485.9,1385.9 486.9,1388.0 487.9,1387.6 488.9,1387.3 489.9,1386.7 490.9,1384.6 491.9,1383.2 492.9,1384.8 493.9,1386.4 494.9,1386.9 495.9,1387.5 496.9,1387.6 497.9,1387.1 498.9,1386.7 499.9,1386.2 500.9,1387.0 501.9,1388.0 502.9,1387.8 503.9,1387.5 504.9,1386.5 505.9,1385.4 506.9,1385.8 507.9,1386.9 508.9,1385.8 509.9,1385.7 510.9,1387.3 511.9,1387.6 512.9,1385.2 513.9,1384.6 514.9,1387.1 515.9,1387.9 516.9,1387.4 517.9,1388.1 518.9,1388.3 519.9,1388.5 520.9,1388.4 521.9,1388.1 522.9,1388.3 523.9,1388.3 524.9,1387.1 525.9,1385.9 526.9,1386.6 527.9,1387.5 528.9,1387.2 529.9,1387.3 530.9,1386.1 531.9,1387.4 532.9,1388.0 533.9,1387.4 534.9,1385.2 535.9,1384.6 536.9,1386.6 537.9,1387.8 538.9,1386.4 539.9,1384.9 540.9,1384.2 541.9,1382.3 542.9,1385.9 543.9,1387.0 544.9,1385.1 545.9,1386.9 546.9,1387.7 547.9,1386.3 548.9,1385.1 549.9,1385.3 550.9,1386.7 551.9,1387.2 552.9,1385.5 553.9,1386.5 554.9,1386.3 555.9,1383.9 556.9,1383.6 557.9,1382.7 558.9,1383.6 559.9,1386.5 560.9,1386.0 561.9,1385.3 562.9,1384.9 563.9,1385.0 564.9,1387.3 565.9,1387.6 566.9,1387.5 567.9,1386.8 568.9,1386.8 569.9,1386.0 570.9,1386.6 571.9,1383.6 572.9,1382.5 573.9,1385.5 574.9,1387.4 575.9,1384.7 576.9,1381.3 577.9,1383.1 578.9,1386.2 579.9,1387.8 580.9,1387.3 581.9,1387.6 582.9,1385.0 583.9,1382.1 584.9,1385.6 585.9,1388.3 586.9,1388.3 587.9,1388.4 588.9,1388.1 589.9,1386.7 590.9,1385.1 591.9,1384.5 592.9,1382.2 593.9,1382.0 594.9,1386.1 595.9,1388.4 596.9,1386.8 597.9,1384.2 598.9,1386.4 599.9,1387.6 600.9,1386.3 601.9,1387.0 602.9,1387.6 603.9,1386.5 604.9,1386.3 605.9,1386.7 606.9,1387.1 607.9,1386.8 608.9,1386.2 609.9,1386.7 610.9,1387.2 611.9,1386.9 612.9,1386.0 613.9,1384.8 614.9,1386.6 615.9,1387.4 616.9,1387.0 617.9,1387.3 618.9,1388.2 619.9,1387.5 620.9,1387.3 621.9,1384.1 622.9,1382.1 623.9,1385.0 624.9,1386.5 625.9,1387.0 626.9,1388.3 627.9,1387.4 628.9,1385.9 629.9,1387.0 630.9,1387.4 631.9,1386.0 632.9,1386.1 633.9,1387.7 634.9,1387.9 635.9,1387.9 636.9,1387.3 637.9,1387.3 638.9,1386.8 639.9,1386.7 640.9,1385.4 641.9,1383.3 642.9,1385.5 643.9,1388.2 644.9,1386.1 645.9,1383.3 646.9,1384.2 647.9,1383.8 648.9,1384.9 649.9,1382.1 650.9,1381.6 651.9,1385.9 652.9,1387.8 653.9,1388.4 654.9,1388.6 655.9,1388.0 656.9,1387.0 657.9,1386.8 658.9,1383.5 659.9,1382.6 660.9,1385.1 661.9,1387.1 662.9,1386.8 663.9,1387.1 664.9,1386.5 665.9,1384.5 666.9,1384.0 667.9,1381.3 668.9,1381.7 669.9,1382.6 670.9,1388.7 671.9,1388.2 672.9,1387.3 673.9,1388.0 674.9,1388.6 675.9,1388.5 676.9,1386.8 677.9,1384.5 678.9,1386.1 679.9,1386.6 680.9,1387.3 681.9,1388.1 682.9,1388.3 683.9,1388.1 684.9,1386.7 685.9,1385.8 686.9,1386.1 687.9,1385.9 688.9,1387.1 689.9,1388.1 690.9,1387.9 691.9,1388.4 692.9,1387.4 693.9,1386.8 694.9,1386.7 695.9,1385.4 696.9,1385.7 697.9,1386.5 698.9,1386.4 699.9,1387.3 700.9,1388.2 701.9,1388.1 702.9,1387.3 703.9,1385.3 704.9,1386.5 705.9,1386.7 706.9,1387.8 707.9,1387.7 708.9,1387.4 709.9,1387.8 710.9,1388.4 711.9,1388.3 712.9,1388.3 713.9,1387.8 714.9,1387.3 715.9,1386.2 716.9,1387.2 717.9,1385.8 718.9,1383.9 719.9,1385.5 720.9,1387.2 721.9,1386.6 722.9,1386.7 723.9,1385.4 724.9,1385.1 725.9,1384.3 726.9,1386.5 727.9,1387.1 728.9,1387.0 729.9,1384.4 730.9,1381.4 731.9,1385.4 732.9,1386.4 733.9,1384.7 734.9,1386.7 735.9,1387.7 736.9,1387.5 737.9,1384.7 738.9,1380.1 739.9,1382.3 740.9,1387.5 741.9,1388.4 742.9,1387.3 743.9,1384.7 744.9,1383.5 745.9,1384.4 746.9,1382.5 747.9,1382.0 748.9,1386.6 749.9,1388.7 750.9,1388.7 751.9,1388.7 752.9,1388.4 753.9,1387.0 754.9,1386.6 755.9,1387.8 756.9,1388.2 757.9,1387.5 758.9,1386.0 759.9,1386.2 760.9,1385.0 761.9,1385.8 762.9,1387.4 763.9,1387.3 764.9,1386.4 765.9,1385.2 766.9,1387.5 767.9,1388.3 768.9,1387.8 769.9,1388.2 770.9,1388.1 771.9,1388.2 772.9,1388.3 773.9,1388.3 774.9,1387.8 775.9,1388.1 776.9,1388.4 777.9,1388.3 778.9,1388.0 779.9,1387.5 780.9,1386.7 781.9,1385.0 782.9,1384.5 783.9,1386.0 784.9,1385.9 785.9,1383.9 786.9,1385.7 787.9,1386.9 788.9,1387.8 789.9,1387.6 790.9,1388.0 791.9,1388.3 792.9,1388.2 793.9,1387.6 794.9,1386.8 795.9,1385.3 796.9,1386.9 797.9,1387.9 798.9,1388.2 799.9,1387.5 800.9,1387.8 801.9,1388.5 802.9,1388.4 803.9,1386.9 804.9,1386.6 805.9,1388.1 806.9,1388.4 807.9,1387.9 808.9,1388.3 809.9,1388.0 810.9,1387.3 811.9,1388.0 812.9,1388.3 813.9,1388.2 814.9,1388.1 815.9,1387.7 816.9,1388.0 817.9,1388.2 818.9,1388.2 819.9,1388.4 820.9,1388.0 821.9,1385.8 822.9,1383.1 823.9,1382.0 824.9,1385.7 825.9,1387.6 826.9,1387.7 827.9,1388.0 828.9,1388.5 829.9,1386.8 830.9,1385.4 831.9,1387.1 832.9,1388.4 833.9,1387.9 834.9,1388.0 835.9,1388.4 836.9,1388.4 837.9,1388.2 838.9,1388.3 839.9,1387.9 840.9,1388.1 841.9,1388.4 842.9,1387.4 843.9,1386.5 844.9,1385.7 845.9,1384.2 846.9,1384.4 847.9,1385.3 848.9,1384.9 849.9,1386.6 850.9,1387.0 851.9,1386.7 852.9,1385.3 853.9,1386.6 854.9,1385.0 855.9,1382.1 856.9,1383.8 857.9,1385.6 858.9,1386.3 859.9,1385.4 860.9,1383.2 861.9,1383.9 862.9,1384.0 863.9,1383.3 864.9,1384.6 865.9,1386.9 866.9,1387.8 867.9,1387.4 868.9,1386.2 869.9,1387.5 870.9,1387.0 871.9,1385.7 872.9,1387.2 873.9,1388.6 874.9,1388.5 875.9,1388.0 876.9,1385.7 877.9,1382.5 878.9,1382.7 879.9,1384.2 880.9,1382.9 881.9,1385.4 882.9,1386.3 883.9,1384.4 884.9,1384.1 885.9,1386.9 886.9,1387.9 887.9,1388.0 888.9,1387.0 889.9,1386.0 890.9,1386.5 891.9,1387.6 892.9,1387.4 893.9,1387.9 894.9,1388.2 895.9,1388.2 896.9,1386.8 897.9,1385.1 898.9,1385.9 899.9,1386.1 900.9,1385.2 901.9,1386.8 902.9,1388.4 903.9,1387.2 904.9,1385.6 905.9,1385.8 906.9,1386.0 907.9,1387.4 908.9,1386.1 909.9,1382.9 910.9,1386.0 911.9,1388.2 912.9,1387.1 913.9,1387.6 914.9,1386.3 915.9,1384.6 916.9,1385.1 917.9,1386.2 918.9,1384.9 919.9,1381.7 920.9,1384.9 921.9,1385.8 922.9,1383.8 923.9,1385.5 924.9,1384.5 925.9,1381.5 926.9,1384.1 927.9,1387.4 928.9,1387.8 929.9,1387.1 930.9,1386.4 931.9,1384.1 932.9,1382.5 933.9,1381.4 934.9,1383.5 935.9,1385.3 936.9,1386.8 937.9,1387.6 938.9,1386.9 939.9,1387.0 940.9,1385.8 941.9,1384.5 942.9,1386.1 943.9,1388.0 944.9,1388.5 945.9,1388.3 946.9,1387.1 947.9,1387.6 948.9,1387.0 949.9,1385.7 950.9,1386.2 951.9,1387.5 952.9,1387.4 953.9,1387.3 954.9,1387.8 955.9,1387.2 956.9,1387.0 957.9,1386.8 958.9,1386.2 959.9,1384.8 960.9,1382.2 961.9,1384.9 962.9,1387.8 963.9,1388.3 964.9,1386.8 965.9,1385.3 966.9,1385.6 967.9,1386.5 968.9,1387.2 969.9,1388.4 970.9,1388.7 971.9,1388.4 972.9,1387.6 973.9,1387.4 974.9,1387.2 975.9,1387.2 976.9,1387.5 977.9,1388.4 978.9,1388.2 979.9,1387.9 980.9,1387.9 981.9,1387.7 982.9,1387.0 983.9,1386.8 984.9,1387.0 985.9,1387.1 986.9,1387.3 987.9,1384.9 988.9,1383.0 989.9,1386.1 990.9,1388.0 991.9,1386.2 992.9,1383.7 993.9,1384.9 994.9,1386.4 995.9,1387.0 996.9,1387.1 997.9,1386.9 998.9,1385.5 999.9,1385.7 1000.9,1385.2 1001.9,1386.5 1002.9,1387.4 1003.9,1387.9 1004.9,1386.2 1005.9,1385.2 1006.9,1386.1 1007.9,1387.2 1008.9,1387.6 1009.9,1388.3 1010.9,1387.1 1011.9,1386.0 1012.9,1385.9 1013.9,1386.7 1014.9,1387.0 1015.9,1387.3 1016.9,1385.9 1017.9,1385.0 1018.9,1385.0 1019.9,1384.4 1020.9,1384.9 1021.9,1384.8 1022.9,1385.1 1023.9,1386.5 1024.9,1387.6 1025.9,1387.1 1026.9,1385.1 1027.9,1386.2 1028.9,1387.7 1029.9,1387.1 1030.9,1385.9 1031.9,1386.6 1032.9,1384.8 1033.9,1382.1 1034.9,1385.2 1035.9,1386.9 1036.9,1385.0 1037.9,1381.3 1038.9,1380.6 1039.9,1384.1 1040.9,1385.1 1041.9,1381.8 1042.9,1385.0 1043.9,1385.3 1044.9,1382.4 1045.9,1385.1 1046.9,1387.7 1047.9,1385.9 1048.9,1383.0 1049.9,1380.4 1050.9,1384.9 1051.9,1387.0 1052.9,1387.7 1053.9,1387.5 1054.9,1386.5 1055.9,1386.5 1056.9,1387.9 1057.9,1385.5 1058.9,1380.6 1059.9,1380.1 1060.9,1380.1 1061.9,1384.5 1062.9,1388.1 1063.9,1387.1 1064.9,1386.3 1065.9,1387.1 1066.9,1388.2 1067.9,1388.0 1068.9,1388.4 1069.9,1386.3 1070.9,1383.9 1071.9,1385.4 1072.9,1385.5 1073.9,1386.0 1074.9,1387.1 1075.9,1388.0 1076.9,1378.7 1077.9,1369.0 1078.9,1383.3 1079.9,1387.2 1080.9,1386.9 1081.9,1386.3 1082.9,1386.6 1083.9,1386.3 1084.9,1384.6 1085.9,1385.8 1086.9,1383.5 1087.9,1378.5 1088.9,1378.1 1089.9,1382.6 1090.9,1382.2 1091.9,1385.3 1092.9,1388.2 1093.9,1386.9 1094.9,1384.2 1095.9,1385.7 1096.9,1387.4 1097.9,1384.7 1098.9,1379.8 1099.9,1378.2 1100.9,1381.3 1101.9,1383.8 1102.9,1382.1 1103.9,1381.4 1104.9,1379.7 1105.9,1383.9 1106.9,1387.2 1107.9,1385.7 1108.9,1381.8 1109.9,1381.7 1110.9,1385.8 1111.9,1387.4 1112.9,1387.3 1113.9,1387.6 1114.9,1386.7 1115.9,1386.0 1116.9,1387.2 1117.9,1370.5 1118.9,1366.3 1119.9,1378.9 1120.9,1381.4 1121.9,1380.9 1122.9,1380.9 1123.9,1380.9 1124.9,1380.9 1125.9,1380.9 1126.9,1381.1 1127.9,1382.6 1128.9,1384.2 1129.9,1385.8 1130.9,1386.1 1131.9,1384.3 1132.9,1384.8 1133.9,1386.5 1134.9,1386.1 1135.9,1385.8 1136.9,1385.6 1137.9,1386.6 1138.9,1385.9 1139.9,1384.7 1140.9,1382.4 1141.9,1381.3 1142.9,1364.7 1143.9,1364.7 1144.9,1384.9 1145.9,1386.4 1146.9,1385.3 1147.9,1386.8 1148.9,1387.4 1149.9,1388.0 1150.9,1388.1 1151.9,1386.2 1152.9,1382.3 1153.9,1381.9 1154.9,1381.9 1155.9,1385.4 1156.9,1388.4 1157.9,1387.6 1158.9,1387.6 1159.9,1381.5 1160.9,1344.3 1161.9,1344.3 1162.9,1381.5 1163.9,1380.8 1164.9,1376.6 1165.9,1375.4 1166.9,1375.4 1167.9,1375.4 1168.9,1375.8 1169.9,1380.0 1170.9,1384.2 1171.9,1355.8 1172.9,1324.4 1173.9,1324.4 1174.9,1355.8 1175.9,1384.9 1176.9,1382.3 1177.9,1381.9 1178.9,1381.9 1179.9,1385.4 1180.9,1387.9 1181.9,1385.4 1182.9,1381.1 1183.9,1382.6 1184.9,1384.6 1185.9,1386.8 1186.9,1387.6 1187.9,1387.1 1188.9,1386.1 1189.9,1386.8 1190.9,1387.5 1191.9,1387.8 1192.9,1387.9 1193.9,1387.5 1194.9,1386.8 1195.9,1386.9 1196.9,1384.7 1197.9,1382.5 1198.9,1381.9 1199.9,1381.9 1200.9,1381.9 1201.9,1382.1 1202.9,1384.3 1203.9,1386.4 1204.9,1386.5 1205.9,1383.5 1206.9,1380.5 1207.9,1372.2 1208.9,1380.8 1209.9,1388.3 1210.9,1388.7 1211.9,1388.7 1212.9,1388.5 1213.9,1388.0 1214.9,1387.8 1215.9,1387.8 1216.9,1385.4 1217.9,1384.6 1218.9,1387.3 1219.9,1388.5 1220.9,1387.7 1221.9,1387.6 1222.9,1387.3 1223.9,1384.5 1224.9,1381.0 1225.9,1385.0 1226.9,1387.9 1227.9,1386.5 1228.9,1384.7 1229.9,1382.9 1230.9,1383.3 1231.9,1386.6 1232.9,1387.8 1233.9,1387.3 1234.9,1386.2 1235.9,1385.6 1236.9,1386.3 1237.9,1385.7 1238.9,1382.5 1239.9,1381.6 1240.9,1384.2 1241.9,1383.8 1242.9,1386.3 1243.9,1386.6 1244.9,1384.2 1245.9,1385.2 1246.9,1387.9 1247.9,1388.2 1248.9,1387.8 1249.9,1387.4 1250.9,1386.3 1251.9,1386.6 1252.9,1386.6 1253.9,1387.7 1254.9,1388.3 1255.9,1388.1 1256.9,1387.5 1257.9,1387.6 1258.9,1388.2 1259.9,1387.9 1260.9,1387.1 1261.9,1386.5 1262.9,1387.2 1263.9,1388.0 1264.9,1387.8 1265.9,1388.1 1266.9,1388.4 1267.9,1388.6 1268.9,1388.6 1269.9,1388.2 1270.9,1387.4 1271.9,1388.1 1272.9,1388.6 1273.9,1388.7 1274.9,1388.8 1275.9,1388.8 1276.9,1388.2 1277.9,1387.7 1278.9,1388.2 1279.9,1388.1 1280.9,1387.6 1281.9,1388.3 1282.9,1388.5 1283.9,1387.6 1284.9,1385.5 1285.9,1386.1 1286.9,1387.0 1287.9,1386.3 1288.9,1385.1 1289.9,1382.6 1290.9,1384.6 1291.9,1385.9 1292.9,1384.7 1293.9,1383.9 1294.9,1383.9 1295.9,1383.9 1296.9,1383.9 1297.9,1383.8 1298.9,1383.6 1299.9,1382.1 1300.9,1383.4 1301.9,1384.9 1302.9,1384.5 1303.9,1382.9 1304.9,1379.3 1305.9,1383.0 1306.9,1387.3 1307.9,1388.6 1308.9,1387.9 1309.9,1387.0 1310.9,1387.0 1311.9,1386.6 1312.9,1386.3 1313.9,1383.4 1314.9,1381.5 1315.9,1383.0 1316.9,1387.9 1317.9,1388.4 1318.9,1388.7 1319.9,1388.4 1320.9,1387.9 1321.9,1388.3 1322.9,1388.3 1323.9,1384.8 1324.9,1381.8 1325.9,1385.2 1326.9,1387.1 1327.9,1387.8 1328.9,1387.2 1329.9,1385.1 1330.9,1384.4 1331.9,1385.2 1332.9,1384.3 1333.9,1385.4 1334.9,1382.9 1335.9,1380.8 1336.9,1381.8 1337.9,1387.2 1338.9,1387.4 1339.9,1386.3 1340.9,1385.7 1341.9,1382.5 1342.9,1382.0 1343.9,1385.3 1344.9,1385.4 1345.9,1382.5 1346.9,1384.5 1347.9,1386.3 1348.9,1385.2 1349.9,1384.2 1350.9,1386.5 1351.9,1387.5 1352.9,1387.7 1353.9,1387.7 1354.9,1388.2 1355.9,1387.9 1356.9,1388.1 1357.9,1387.6 1358.9,1387.2 1359.9,1387.8 1360.9,1388.4 1361.9,1387.9 1362.9,1386.9 1363.9,1387.7 1364.9,1387.6 1365.9,1385.5 1366.9,1383.7 1367.9,1384.0 1368.9,1386.8 1369.9,1388.2 1370.9,1388.1 1371.9,1388.5 1372.9,1388.0 1373.9,1388.6 1374.9,1386.8 1375.9,1383.4 1376.9,1384.0 1377.9,1385.2 1378.9,1383.7 1379.9,1386.5 1380.9,1388.4 1381.9,1387.6 1382.9,1387.2 1383.9,1387.1 1384.9,1387.4 1385.9,1386.7 1386.9,1385.3 1387.9,1385.3 1388.9,1386.7 1389.9,1387.5 1390.9,1387.9 1391.9,1387.4 1392.9,1387.4 1393.9,1387.7 1394.9,1388.4 1395.9,1388.3 1396.9,1388.3 1397.9,1386.6 1398.9,1385.0 1399.9,1384.6 1400.9,1381.3 1401.9,1382.9 1402.9,1387.0 1403.9,1386.5 1404.9,1383.5 1405.9,1384.8 1406.9,1386.0 1407.9,1385.6 1408.9,1386.8 1409.9,1388.0 1410.9,1388.5 1411.9,1386.3 1412.9,1383.7 1413.9,1384.0 1414.9,1383.5 1415.9,1385.6 1416.9,1386.8 1417.9,1386.0 1418.9,1387.7 1419.9,1386.6 1420.9,1383.8 1421.9,1386.0 1422.9,1387.3 1423.9,1386.5 1424.9,1387.6 1425.9,1387.8 1426.9,1386.3 1427.9,1385.3 1428.9,1386.9 1429.9,1387.4 1430.9,1387.6 1431.9,1387.1 1432.9,1386.5 1433.9,1387.8 1434.9,1388.3 1435.9,1387.6 1436.9,1387.9 1437.9,1387.8 1438.9,1387.7 1439.9,1388.1 1440.9,1388.4 1441.9,1385.6 1442.9,1383.0 1443.9,1385.1 1444.9,1387.6 1445.9,1385.3 1446.9,1380.9 1447.9,1380.9 1448.9,1384.2 1449.9,1387.5 1450.9,1387.1 1451.9,1386.9 1452.9,1387.5 1453.9,1388.2 1454.9,1388.5 1455.9,1388.8 1456.9,1388.5 1457.9,1388.4 1458.9,1388.5 1459.9,1388.3 1460.9,1388.4 1461.9,1387.7 1462.9,1386.5 1463.9,1386.0 1464.9,1387.3 1465.9,1387.7 1466.9,1388.3 1467.9,1387.9 1468.9,1386.9 1469.9,1386.1 1470.9,1383.6 1471.9,1383.4 1472.9,1385.1 1473.9,1387.5 1474.9,1386.5 1475.9,1384.2 1476.9,1385.6 1477.9,1387.4 1478.9,1387.2 1479.9,1387.9 1480.9,1387.6 1481.9,1383.6 1482.9,1378.8 1483.9,1383.2 1484.9,1385.3 1485.9,1385.8 1486.9,1385.1 1487.9,1382.8 1488.9,1380.5 1489.9,1378.9 1490.9,1378.9 1491.9,1378.9 1492.9,1378.9 1493.9,1378.9 1494.9,1380.1 1495.9,1382.4 1496.9,1384.7 1497.9,1386.2 1498.9,1384.7 1499.9,1382.1 1500.9,1381.6 1501.9,1375.5 1502.9,1373.1 1503.9,1377.8 1504.9,1379.6 1505.9,1382.9 1506.9,1385.8 1507.9,1386.8 1508.9,1387.7 1509.9,1387.2 1510.9,1386.0 1511.9,1386.1 1512.9,1386.8 1513.9,1387.1 1514.9,1386.5 1515.9,1385.6 1516.9,1386.3 1517.9,1387.6 1518.9,1388.5 1519.9,1384.9 1520.9,1379.1 1521.9,1380.4 1522.9,1381.3 1523.9,1385.1 1524.9,1386.4 1525.9,1378.2 1526.9,1372.8 1527.9,1373.1 1528.9,1381.2 1529.9,1386.3 1530.9,1385.8 1531.9,1386.7 1532.9,1386.9 1533.9,1385.2 1534.9,1386.5 1535.9,1388.0 1536.9,1387.5 1537.9,1381.1 1538.9,1379.3 1539.9,1381.4 1540.9,1388.2 1541.9,1385.1 1542.9,1380.9 1543.9,1384.7 1544.9,1387.6 1545.9,1387.5 1546.9,1384.5 1547.9,1381.7 1548.9,1384.9 1549.9,1386.5 1550.9,1387.4 1551.9,1387.3 1552.9,1387.8 1553.9,1388.5 1554.9,1387.6 1555.9,1386.7 1556.9,1387.4 1557.9,1387.9 1558.9,1383.0 1559.9,1379.2 1560.9,1382.2 1561.9,1386.0 1562.9,1387.0 1563.9,1386.3 1564.9,1383.3 1565.9,1383.9 1566.9,1380.9 1567.9,1377.9 1568.9,1381.2 1569.9,1386.1 1570.9,1385.1 1571.9,1384.2 1572.9,1381.5 1573.9,1382.2 1574.9,1385.6 1575.9,1386.7 1576.9,1387.2 1577.9,1388.0 1578.9,1387.2 1579.9,1386.6 1580.9,1384.0 1581.9,1379.1 1582.9,1380.0 1583.9,1384.7 1584.9,1386.7 1585.9,1387.4 1586.9,1387.8 1587.9,1387.1 1588.9,1386.1 1589.9,1379.6 1590.9,1377.5 1591.9,1378.0 1592.9,1378.2 1593.9,1382.5 1594.9,1386.6 1595.9,1385.4 1596.9,1383.7 1597.9,1385.6 1598.9,1387.8 1599.9,1386.8 1600.9,1385.1 1601.9,1386.7 1602.9,1387.6 1603.9,1385.2 1604.9,1382.8 1605.9,1385.7 1606.9,1388.3 1607.9,1388.9 1608.9,1388.4 1609.9,1388.8 1610.9,1388.3 1611.9,1388.0 1612.9,1387.4 1613.9,1386.7 1614.9,1387.2 1615.9,1387.9 1616.9,1386.6 1617.9,1384.2 1618.9,1385.4 1619.9,1385.8 1620.9,1384.2 1621.9,1385.9 1622.9,1387.5 1623.9,1386.9 1624.9,1386.9 1625.9,1387.5 1626.9,1385.2 1627.9,1382.0 1628.9,1385.3 1629.9,1387.8 1630.9,1384.8 1631.9,1380.1 1632.9,1380.8 1633.9,1383.2 1634.9,1378.2 1635.9,1378.1 1636.9,1378.2 1637.9,1384.3 1638.9,1386.4 1639.9,1386.7 1640.9,1384.0 1641.9,1380.3 1642.9,1379.7 1643.9,1379.2 1644.9,1382.5 1645.9,1383.1 1646.9,1382.2 1647.9,1383.8 1648.9,1384.1 1649.9,1387.0 1650.9,1388.1 1651.9,1386.1 1652.9,1386.1 1653.9,1385.7 1654.9,1381.3 1655.9,1380.4 1656.9,1384.5 1657.9,1387.4 1658.9,1387.1 1659.9,1386.7 1660.9,1387.1 1661.9,1386.0 1662.9,1384.0 1663.9,1386.0 1664.9,1388.4 1665.9,1386.9 1666.9,1385.1 1667.9,1384.7 1668.9,1384.0 1669.9,1385.9 1670.9,1385.8 1671.9,1383.2 1672.9,1384.7 1673.9,1385.2 1674.9,1383.6 1675.9,1383.0 1676.9,1380.8 1677.9,1380.6 1678.9,1380.6 1679.9,1380.7 1680.9,1384.7 1681.9,1383.7 1682.9,1381.7 1683.9,1382.3 1684.9,1386.1 1685.9,1386.8 1686.9,1383.9 1687.9,1386.1 1688.9,1387.7 1689.9,1386.0 1690.9,1384.1 1691.9,1386.3 1692.9,1385.9 1693.9,1385.1 1694.9,1387.2 1695.9,1387.5 1696.9,1384.9 1697.9,1382.7 1698.9,1385.3 1699.9,1386.0 1700.9,1383.6 1701.9,1379.8 1702.9,1377.9 1703.9,1377.9 1704.9,1377.9 1705.9,1379.0 1706.9,1382.9 1707.9,1383.6 1708.9,1377.1 1709.9,1374.0 1710.9,1375.9 1711.9,1360.0 1712.9,1348.9 1713.9,1348.9 1714.9,1300.3 1715.9,1277.9 1716.9,1277.9 1717.9,1300.3 1718.9,1356.4 1719.9,1383.6 1720.9,1332.3 1721.9,1326.2 1722.9,1348.3 1723.9,1345.9 1724.9,1345.9 1725.9,1322.5 1726.9,1337.5 1727.9,1374.9 1728.9,1374.9 1729.9,1376.2 1730.9,1358.1 1731.9,1373.1 1732.9,1379.5 1733.9,1378.9 1734.9,1378.9 1735.9,1383.9 1736.9,1387.5 1737.9,1387.1 1738.9,1387.1 1739.9,1387.5 1740.9,1387.4 1741.9,1386.5 1742.9,1385.2 1743.9,1384.7 1744.9,1384.8 1745.9,1386.9 1746.9,1388.2 1747.9,1388.3 1748.9,1387.9 1749.9,1387.8 1750.9,1386.5 1751.9,1381.4 1752.9,1381.2 1753.9,1382.5 1754.9,1388.0 1755.9,1388.4 1756.9,1387.6 1757.9,1383.9 1758.9,1380.9 1759.9,1383.9 1760.9,1387.7 1761.9,1387.8 1762.9,1388.4 1763.9,1387.5 1764.9,1386.2 1765.9,1385.8 1766.9,1385.0 1767.9,1386.7 1768.9,1387.0 1769.9,1385.6 1770.9,1386.8 1771.9,1387.6 1772.9,1385.0 1773.9,1384.8 1774.9,1382.9 1775.9,1384.6 1776.9,1387.7 1777.9,1387.1 1778.9,1385.7 1779.9,1385.4 1780.9,1385.9 1781.9,1386.0 1782.9,1387.0 1783.9,1388.1 1784.9,1387.7 1785.9,1387.8 1786.9,1388.2 1787.9,1387.3 1788.9,1386.5 1789.9,1386.7 1790.9,1387.2 1791.9,1387.0 1792.9,1387.2 1793.9,1387.1 1794.9,1387.7 1795.9,1384.6 1796.9,1381.9 1797.9,1383.3 1798.9,1385.7 1799.9,1386.8 1800.9,1387.8 1801.9,1387.9 1802.9,1388.1 1803.9,1387.9 1804.9,1385.3 1805.9,1382.3 1806.9,1384.8 1807.9,1387.6 1808.9,1385.8 1809.9,1384.0 1810.9,1386.3 1811.9,1387.1 1812.9,1387.0 1813.9,1386.8 1814.9,1385.2 1815.9,1386.8 1816.9,1388.3 1817.9,1386.5 1818.9,1383.2 1819.9,1385.3 1820.9,1388.0 1821.9,1388.4 1822.9,1388.4 1823.9,1388.2 1824.9,1388.0 1825.9,1387.5 1826.9,1387.9 1827.9,1387.3 1828.9,1387.2 1829.9,1387.6 1830.9,1388.1 1831.9,1387.7 1832.9,1387.0 1833.9,1387.3 1834.9,1386.2 1835.9,1385.1 1836.9,1386.3 1837.9,1387.6 1838.9,1385.9 1839.9,1385.1 1840.9,1386.2 1841.9,1384.7 1842.9,1380.9 1843.9,1384.1 1844.9,1386.1 1845.9,1382.5 1846.9,1380.0 1847.9,1380.1 1848.9,1383.2 1849.9,1380.0 1850.9,1381.0 1851.9,1384.8 1852.9,1387.8 1853.9,1385.9 1854.9,1383.8 1855.9,1386.0 1856.9,1387.3 1857.9,1384.4 1858.9,1382.0 1859.9,1381.8 1860.9,1385.7 1861.9,1388.3 1862.9,1388.4 1863.9,1387.6 1864.9,1387.1 1865.9,1386.1 1866.9,1386.3 1867.9,1386.7 1868.9,1387.0 1869.9,1387.7 1870.9,1386.8 1871.9,1386.4 1872.9,1386.6 1873.9,1387.8 1874.9,1387.9 1875.9,1387.8 1876.9,1387.8 1877.9,1387.9 1878.9,1386.2 1879.9,1383.7 1880.9,1384.0 1881.9,1382.9 1882.9,1384.1 1883.9,1386.3 1884.9,1386.3 1885.9,1382.5 1886.9,1381.6 1887.9,1381.4 1888.9,1383.7 1889.9,1385.5 1890.9,1384.1 1891.9,1384.8 1892.9,1387.8 1893.9,1388.2 1894.9,1388.0 1895.9,1386.8 1896.9,1386.3 1897.9,1387.1 1898.9,1387.3 1899.9,1385.7 1900.9,1386.4 1901.9,1388.4 1902.9,1388.6 1903.9,1387.3 1904.9,1386.0 1905.9,1385.2 1906.9,1383.2 1907.9,1386.2 1908.9,1388.2 1909.9,1387.8 1910.9,1387.5 1911.9,1386.6 1912.9,1387.7 1913.9,1388.2 1914.9,1388.0 1915.9,1388.2 1916.9,1388.5 1917.9,1388.0 1918.9,1385.9 1919.9,1385.6 1920.9,1386.1 1921.9,1385.4 1922.9,1385.7 1923.9,1385.8 1924.9,1387.4 1925.9,1388.2 1926.9,1388.0 1927.9,1388.5 1928.9,1387.6 1929.9,1386.6 1930.9,1383.2 1931.9,1382.3 1932.9,1383.5 1933.9,1387.8 1934.9,1387.4 1935.9,1387.1 1936.9,1386.3 1937.9,1386.4 1938.9,1386.6 1939.9,1387.9 1940.9,1387.8 1941.9,1387.0 1942.9,1387.8 1943.9,1385.7 1944.9,1382.4 1945.9,1384.2 1946.9,1387.0 1947.9,1388.1 1948.9,1388.1 1949.9,1387.1 1950.9,1385.6 1951.9,1385.9 1952.9,1385.7 1953.9,1387.2 1954.9,1388.0 1955.9,1387.8 1956.9,1387.2 1957.9,1386.5 1958.9,1387.6 1959.9,1388.4 1960.9,1388.7 1961.9,1388.6 1962.9,1388.3 1963.9,1387.7 1964.9,1388.3 1965.9,1388.4 1966.9,1388.7 1967.9,1386.0 1968.9,1384.8 1969.9,1386.2 1969.9,1388.9" fill="#ffa500" stroke="#ffa500" stroke-width="0.4" stroke-linejoin="round"/>
<line x1="100.1" x2="1970" y1="1233.6" y2="1233.6" stroke="#000" stroke-width="1.6"/>
<line x1="100.1" x2="1970" y1="1388.9" y2="1388.9" stroke="#000" stroke-width="1.6"/>
<path d="M112.1 1120.7 V1233.6" stroke="#000" stroke-width="1.6" fill="none"/>
<line x1="100.1" x2="112.1" y1="1121.5" y2="1121.5" stroke="#000" stroke-width="1.4"/>
<line x1="100.1" x2="112.1" y1="1149.5" y2="1149.5" stroke="#000" stroke-width="1.4"/>
<line x1="100.1" x2="112.1" y1="1177.5" y2="1177.5" stroke="#000" stroke-width="1.4"/>
<line x1="100.1" x2="112.1" y1="1205.6" y2="1205.6" stroke="#000" stroke-width="1.4"/>
<line x1="100.1" x2="112.1" y1="1233.6" y2="1233.6" stroke="#000" stroke-width="1.4"/>
<text x="102.6" y="1128.8" font-size="24.9" fill="#000" text-anchor="end">17.54</text>
<text x="99.8" y="1186.5" font-size="24.9" fill="#000" text-anchor="end">8.77</text>
<text x="91.2" y="1242.5" font-size="24.9" fill="#000" text-anchor="end">0</text>
<path d="M112.1 1276.9 V1388.9" stroke="#000" stroke-width="1.6" fill="none"/>
<line x1="100.1" x2="112.1" y1="1277.7" y2="1277.7" stroke="#000" stroke-width="1.4"/>
<line x1="100.1" x2="112.1" y1="1305.5" y2="1305.5" stroke="#000" stroke-width="1.4"/>
<line x1="100.1" x2="112.1" y1="1333.3" y2="1333.3" stroke="#000" stroke-width="1.4"/>
<line x1="100.1" x2="112.1" y1="1361.1" y2="1361.1" stroke="#000" stroke-width="1.4"/>
<line x1="100.1" x2="112.1" y1="1388.9" y2="1388.9" stroke="#000" stroke-width="1.4"/>
<text x="102.6" y="1285.0" font-size="24.9" fill="#000" text-anchor="end">32.47</text>
<text x="102.6" y="1342.2" font-size="24.9" fill="#000" text-anchor="end">16.24</text>
<text x="91.2" y="1397.8" font-size="24.9" fill="#000" text-anchor="end">0</text>
<text transform="translate(24.8,1235.8) rotate(-90)" font-size="30.4" fill="#000">RNA-seq [-]</text>
<text transform="translate(24.8,1384.6) rotate(-90)" font-size="30.4" fill="#000">ATAC-seq</text>
<path d="M118.3 1434.0h5.9v7.6h-5.9zM248.4 1434.0h5.9v7.6h-5.9zM289.9 1434.0h5.8v7.6h-5.8zM303.7 1434.0h5.8v7.6h-5.8zM336.5 1434.0h7.9v7.6h-7.9zM349.2 1434.0h6.2v7.6h-6.2zM436.6 1434.0h5.1v7.6h-5.1zM491.8 1434.0h5.9v7.6h-5.9zM510.1 1434.0h5.2v7.6h-5.2zM544.3 1434.0h5.1v7.6h-5.1zM631.6 1434.0h5.9v7.6h-5.9zM666.1 1434.0h8.6v7.6h-8.6zM678.9 1434.0h6.2v7.6h-6.2zM766.2 1434.0h9.7v7.6h-9.7zM994.0 1434.0h5.2v7.6h-5.2zM1001.3 1434.0h5.5v7.6h-5.5zM1026.5 1434.0h6.9v7.6h-6.9zM1036.8 1434.0h5.9v7.6h-5.9zM1056.5 1434.0h5.9v7.6h-5.9zM1066.2 1434.0h5.9v7.6h-5.9zM1087.9 1434.0h5.6v7.6h-5.6zM1140.7 1434.0h5.9v7.6h-5.9zM1159.0 1434.0h5.9v7.6h-5.9zM1169.0 1434.0h8.0v7.6h-8.0zM1297.5 1434.0h5.8v7.6h-5.8zM1415.9 1434.0h5.6v7.6h-5.6zM1543.6 1434.0h4.2v7.6h-4.2zM1553.7 1434.0h5.5v7.6h-5.5zM1590.9 1434.0h5.2v7.6h-5.2zM1700.4 1434.0h5.5v7.6h-5.5zM1712.8 1434.0h19.7v7.6h-19.7zM1756.3 1434.0h5.2v7.6h-5.2zM1771.5 1434.0h5.5v7.6h-5.5zM1796.0 1434.0h5.2v7.6h-5.2zM1892.0 1434.0h5.1v7.6h-5.1zM1908.2 1434.0h5.5v7.6h-5.5z" fill="#000"/>
<path d="M1297.5 1486.5h85.2v7.9h-85.2zM1543.6 1486.5h38.7v7.9h-38.7z" fill="#000"/>
<text x="178.2" y="1444.8" font-size="34" fill="#000">OCRs</text>
<text x="172.0" y="1497.2" font-size="34" fill="#000">dOCRs</text>
<text x="1010" y="1559.8" font-size="30.2" font-weight="bold" text-anchor="middle" fill="#000">ICP22 + ICP27 (T-HFs-ICP22/ICP27 cells) + Dox</text>
<polygon points="112.9,1723.6 112.9,1723.5 113.9,1723.3 114.9,1723.3 115.9,1723.3 116.9,1723.1 117.9,1723.2 118.9,1723.2 119.9,1723.3 120.9,1723.4 121.9,1723.4 122.9,1723.4 123.9,1723.5 124.9,1723.5 125.9,1723.4 126.9,1723.4 127.9,1723.3 128.9,1723.3 129.9,1723.4 130.9,1723.4 131.9,1723.4 132.9,1723.4 133.9,1723.5 134.9,1723.4 135.9,1723.3 136.9,1723.4 137.9,1723.5 138.9,1723.5 139.9,1723.5 140.9,1723.4 141.9,1723.5 142.9,1723.4 143.9,1723.4 144.9,1723.4 145.9,1723.4 146.9,1723.3 147.9,1723.5 148.9,1723.6 149.9,1723.6 150.9,1723.4 151.9,1723.4 152.9,1723.5 153.9,1723.5 154.9,1723.4 155.9,1723.2 156.9,1723.2 157.9,1723.4 158.9,1723.3 159.9,1723.2 160.9,1723.4 161.9,1723.5 162.9,1723.5 163.9,1723.4 164.9,1723.4 165.9,1723.5 166.9,1723.5 167.9,1723.4 168.9,1723.5 169.9,1723.6 170.9,1723.4 171.9,1723.4 172.9,1723.4 173.9,1723.5 174.9,1723.5 175.9,1723.5 176.9,1723.4 177.9,1723.1 178.9,1723.1 179.9,1723.3 180.9,1723.4 181.9,1723.3 182.9,1723.3 183.9,1723.5 184.9,1723.6 185.9,1723.6 186.9,1723.5 187.9,1723.4 188.9,1723.4 189.9,1723.3 190.9,1723.3 191.9,1723.4 192.9,1723.4 193.9,1723.3 194.9,1723.3 195.9,1723.5 196.9,1723.5 197.9,1723.5 198.9,1723.5 199.9,1723.5 200.9,1723.4 201.9,1723.4 202.9,1723.3 203.9,1723.4 204.9,1723.5 205.9,1723.5 206.9,1723.5 207.9,1723.5 208.9,1723.4 209.9,1723.5 210.9,1723.5 211.9,1723.5 212.9,1723.4 213.9,1723.4 214.9,1723.3 215.9,1723.3 216.9,1723.1 217.9,1723.1 218.9,1723.3 219.9,1723.4 220.9,1723.4 221.9,1723.4 222.9,1723.4 223.9,1723.3 224.9,1723.4 225.9,1723.4 226.9,1723.3 227.9,1723.2 228.9,1723.3 229.9,1723.4 230.9,1723.5 231.9,1723.5 232.9,1723.3 233.9,1723.1 234.9,1723.1 235.9,1723.2 236.9,1723.4 237.9,1723.5 238.9,1723.5 239.9,1723.5 240.9,1723.5 241.9,1723.4 242.9,1723.3 243.9,1723.2 244.9,1723.4 245.9,1723.5 246.9,1723.4 247.9,1723.4 248.9,1723.5 249.9,1723.5 250.9,1723.5 251.9,1723.4 252.9,1723.5 253.9,1723.5 254.9,1723.5 255.9,1723.5 256.9,1723.5 257.9,1723.4 258.9,1723.0 259.9,1723.0 260.9,1723.0 261.9,1723.3 262.9,1723.4 263.9,1723.4 264.9,1723.5 265.9,1723.5 266.9,1723.5 267.9,1723.4 268.9,1723.3 269.9,1723.4 270.9,1723.4 271.9,1723.3 272.9,1723.3 273.9,1723.4 274.9,1723.4 275.9,1723.4 276.9,1723.4 277.9,1723.4 278.9,1723.3 279.9,1723.3 280.9,1723.4 281.9,1723.3 282.9,1723.2 283.9,1723.3 284.9,1723.5 285.9,1723.4 286.9,1723.3 287.9,1723.3 288.9,1723.4 289.9,1723.5 290.9,1723.4 291.9,1723.1 292.9,1723.2 293.9,1723.2 294.9,1723.2 295.9,1723.2 296.9,1723.4 297.9,1723.5 298.9,1723.5 299.9,1723.5 300.9,1723.5 301.9,1723.4 302.9,1723.4 303.9,1723.4 304.9,1723.5 305.9,1723.5 306.9,1723.5 307.9,1723.4 308.9,1723.4 309.9,1723.4 310.9,1723.3 311.9,1723.1 312.9,1723.2 313.9,1723.3 314.9,1723.2 315.9,1723.4 316.9,1723.5 317.9,1723.3 318.9,1723.2 319.9,1723.4 320.9,1723.5 321.9,1723.3 322.9,1723.3 323.9,1723.4 324.9,1723.3 325.9,1723.0 326.9,1723.0 327.9,1723.1 328.9,1723.4 329.9,1723.5 330.9,1723.5 331.9,1723.4 332.9,1723.2 333.9,1723.3 334.9,1723.2 335.9,1723.2 336.9,1723.4 337.9,1723.5 338.9,1723.5 339.9,1723.5 340.9,1723.4 341.9,1723.2 342.9,1723.2 343.9,1723.4 344.9,1723.4 345.9,1723.3 346.9,1723.2 347.9,1723.3 348.9,1723.2 349.9,1723.1 350.9,1723.1 351.9,1723.3 352.9,1723.4 353.9,1723.5 354.9,1723.4 355.9,1723.4 356.9,1723.4 357.9,1723.5 358.9,1723.5 359.9,1723.5 360.9,1723.5 361.9,1723.6 362.9,1723.5 363.9,1723.4 364.9,1723.5 365.9,1723.5 366.9,1723.4 367.9,1723.4 368.9,1723.5 369.9,1723.4 370.9,1723.5 371.9,1723.5 372.9,1723.5 373.9,1723.3 374.9,1723.4 375.9,1723.3 376.9,1723.4 377.9,1723.4 378.9,1723.5 379.9,1723.4 380.9,1723.4 381.9,1723.2 382.9,1723.1 383.9,1723.2 384.9,1723.4 385.9,1723.3 386.9,1723.4 387.9,1723.2 388.9,1723.1 389.9,1723.2 390.9,1723.4 391.9,1723.2 392.9,1723.2 393.9,1723.4 394.9,1723.4 395.9,1723.3 396.9,1723.4 397.9,1723.6 398.9,1723.3 399.9,1723.2 400.9,1723.2 401.9,1723.5 402.9,1723.4 403.9,1723.4 404.9,1723.4 405.9,1723.3 406.9,1723.3 407.9,1723.5 408.9,1723.4 409.9,1723.3 410.9,1723.4 411.9,1723.4 412.9,1723.5 413.9,1723.5 414.9,1723.4 415.9,1723.4 416.9,1723.1 417.9,1723.2 418.9,1723.4 419.9,1723.3 420.9,1723.3 421.9,1723.3 422.9,1723.4 423.9,1723.4 424.9,1723.4 425.9,1723.5 426.9,1723.4 427.9,1723.4 428.9,1723.4 429.9,1723.5 430.9,1723.5 431.9,1723.5 432.9,1723.5 433.9,1723.4 434.9,1723.2 435.9,1723.2 436.9,1723.3 437.9,1723.2 438.9,1723.4 439.9,1723.4 440.9,1723.3 441.9,1723.4 442.9,1723.4 443.9,1723.4 444.9,1723.5 445.9,1723.4 446.9,1723.4 447.9,1723.5 448.9,1723.5 449.9,1723.4 450.9,1723.3 451.9,1723.3 452.9,1723.5 453.9,1723.4 454.9,1723.4 455.9,1723.3 456.9,1723.4 457.9,1723.4 458.9,1723.5 459.9,1723.5 460.9,1723.6 461.9,1723.5 462.9,1723.4 463.9,1723.4 464.9,1723.4 465.9,1723.4 466.9,1723.4 467.9,1723.4 468.9,1723.4 469.9,1723.4 470.9,1723.5 471.9,1723.5 472.9,1723.6 473.9,1723.6 474.9,1723.5 475.9,1723.5 476.9,1723.5 477.9,1723.4 478.9,1723.4 479.9,1723.4 480.9,1723.4 481.9,1723.3 482.9,1723.3 483.9,1723.4 484.9,1723.5 485.9,1723.5 486.9,1723.5 487.9,1723.5 488.9,1723.5 489.9,1723.5 490.9,1723.4 491.9,1723.5 492.9,1723.4 493.9,1723.4 494.9,1723.4 495.9,1723.3 496.9,1723.4 497.9,1723.4 498.9,1723.4 499.9,1723.3 500.9,1723.1 501.9,1723.3 502.9,1723.4 503.9,1723.3 504.9,1723.3 505.9,1723.4 506.9,1723.4 507.9,1723.5 508.9,1723.5 509.9,1723.5 510.9,1723.4 511.9,1723.2 512.9,1723.4 513.9,1723.4 514.9,1723.4 515.9,1723.4 516.9,1723.3 517.9,1723.4 518.9,1723.4 519.9,1723.4 520.9,1723.2 521.9,1723.3 522.9,1723.4 523.9,1723.3 524.9,1723.3 525.9,1723.3 526.9,1723.4 527.9,1723.4 528.9,1723.5 529.9,1723.5 530.9,1723.4 531.9,1723.4 532.9,1723.4 533.9,1723.2 534.9,1723.1 535.9,1723.3 536.9,1723.4 537.9,1723.3 538.9,1723.3 539.9,1723.4 540.9,1723.2 541.9,1723.0 542.9,1723.2 543.9,1723.4 544.9,1723.4 545.9,1723.5 546.9,1723.5 547.9,1723.3 548.9,1723.1 549.9,1723.3 550.9,1723.3 551.9,1723.4 552.9,1723.3 553.9,1723.3 554.9,1723.3 555.9,1723.3 556.9,1723.4 557.9,1723.4 558.9,1723.5 559.9,1723.6 560.9,1723.6 561.9,1723.5 562.9,1723.4 563.9,1723.4 564.9,1723.3 565.9,1723.3 566.9,1723.3 567.9,1723.4 568.9,1723.4 569.9,1723.5 570.9,1723.5 571.9,1723.5 572.9,1723.5 573.9,1723.5 574.9,1723.5 575.9,1723.5 576.9,1723.4 577.9,1723.4 578.9,1723.5 579.9,1723.5 580.9,1723.4 581.9,1723.5 582.9,1723.4 583.9,1723.4 584.9,1723.4 585.9,1723.4 586.9,1723.3 587.9,1723.2 588.9,1723.4 589.9,1723.5 590.9,1723.5 591.9,1723.3 592.9,1723.2 593.9,1723.2 594.9,1723.4 595.9,1723.2 596.9,1723.0 597.9,1723.0 598.9,1723.2 599.9,1723.2 600.9,1723.2 601.9,1723.3 602.9,1723.2 603.9,1723.2 604.9,1723.2 605.9,1723.4 606.9,1723.4 607.9,1723.5 608.9,1723.3 609.9,1723.0 610.9,1722.9 611.9,1723.1 612.9,1723.4 613.9,1723.4 614.9,1723.3 615.9,1723.3 616.9,1723.3 617.9,1723.2 618.9,1723.1 619.9,1723.4 620.9,1723.5 621.9,1723.5 622.9,1723.4 623.9,1723.5 624.9,1723.5 625.9,1723.5 626.9,1723.5 627.9,1723.5 628.9,1723.4 629.9,1723.5 630.9,1723.4 631.9,1723.4 632.9,1723.3 633.9,1723.2 634.9,1723.3 635.9,1723.3 636.9,1723.4 637.9,1723.3 638.9,1723.3 639.9,1723.4 640.9,1723.4 641.9,1723.4 642.9,1723.3 643.9,1723.3 644.9,1723.3 645.9,1723.4 646.9,1723.5 647.9,1723.5 648.9,1723.4 649.9,1723.5 650.9,1723.4 651.9,1723.3 652.9,1723.4 653.9,1723.6 654.9,1723.6 655.9,1723.5 656.9,1723.5 657.9,1723.3 658.9,1723.2 659.9,1723.3 660.9,1723.4 661.9,1723.5 662.9,1723.5 663.9,1723.3 664.9,1723.3 665.9,1723.4 666.9,1723.5 667.9,1723.4 668.9,1723.5 669.9,1723.5 670.9,1723.6 671.9,1723.5 672.9,1723.5 673.9,1723.3 674.9,1723.4 675.9,1723.5 676.9,1723.5 677.9,1723.4 678.9,1723.5 679.9,1723.6 680.9,1723.6 681.9,1723.5 682.9,1723.3 683.9,1723.3 684.9,1723.4 685.9,1723.4 686.9,1723.4 687.9,1723.5 688.9,1723.5 689.9,1723.5 690.9,1723.5 691.9,1723.5 692.9,1723.5 693.9,1723.3 694.9,1723.2 695.9,1723.2 696.9,1723.4 697.9,1723.4 698.9,1723.3 699.9,1723.4 700.9,1723.5 701.9,1723.5 702.9,1723.5 703.9,1723.6 704.9,1723.6 705.9,1723.6 706.9,1723.5 707.9,1723.5 708.9,1723.5 709.9,1723.4 710.9,1723.2 711.9,1723.3 712.9,1723.2 713.9,1723.3 714.9,1723.3 715.9,1723.4 716.9,1723.4 717.9,1723.5 718.9,1723.3 719.9,1723.2 720.9,1723.4 721.9,1723.3 722.9,1723.4 723.9,1723.3 724.9,1723.4 725.9,1723.4 726.9,1723.4 727.9,1723.3 728.9,1723.4 729.9,1723.4 730.9,1723.4 731.9,1723.4 732.9,1723.5 733.9,1723.4 734.9,1723.5 735.9,1723.4 736.9,1723.4 737.9,1723.3 738.9,1723.1 739.9,1723.1 740.9,1723.3 741.9,1723.3 742.9,1723.3 743.9,1723.2 744.9,1723.4 745.9,1723.4 746.9,1723.3 747.9,1723.2 748.9,1723.3 749.9,1723.2 750.9,1723.2 751.9,1723.2 752.9,1723.2 753.9,1723.3 754.9,1723.5 755.9,1723.3 756.9,1723.2 757.9,1723.2 758.9,1723.3 759.9,1723.3 760.9,1723.3 761.9,1723.3 762.9,1723.5 763.9,1723.5 764.9,1723.5 765.9,1723.5 766.9,1723.5 767.9,1723.5 768.9,1723.5 769.9,1723.5 770.9,1723.5 771.9,1723.5 772.9,1723.4 773.9,1723.5 774.9,1723.4 775.9,1723.4 776.9,1723.3 777.9,1723.5 778.9,1723.5 779.9,1723.5 780.9,1723.5 781.9,1723.5 782.9,1723.5 783.9,1723.5 784.9,1723.5 785.9,1723.4 786.9,1723.4 787.9,1723.4 788.9,1723.3 789.9,1723.1 790.9,1723.3 791.9,1723.4 792.9,1723.5 793.9,1723.3 794.9,1723.2 795.9,1723.3 796.9,1723.4 797.9,1723.4 798.9,1723.5 799.9,1723.3 800.9,1723.2 801.9,1723.3 802.9,1723.3 803.9,1723.3 804.9,1723.4 805.9,1723.4 806.9,1723.3 807.9,1723.0 808.9,1722.9 809.9,1723.2 810.9,1723.4 811.9,1723.4 812.9,1723.4 813.9,1723.5 814.9,1723.4 815.9,1723.2 816.9,1723.3 817.9,1723.3 818.9,1723.4 819.9,1723.4 820.9,1723.4 821.9,1723.4 822.9,1723.3 823.9,1723.1 824.9,1723.0 825.9,1723.3 826.9,1723.5 827.9,1723.4 828.9,1723.5 829.9,1723.5 830.9,1723.5 831.9,1723.4 832.9,1723.4 833.9,1723.4 834.9,1723.2 835.9,1723.2 836.9,1723.3 837.9,1723.5 838.9,1723.6 839.9,1723.5 840.9,1723.5 841.9,1723.4 842.9,1723.5 843.9,1723.3 844.9,1723.3 845.9,1723.4 846.9,1723.5 847.9,1723.4 848.9,1723.4 849.9,1723.4 850.9,1723.5 851.9,1723.5 852.9,1723.5 853.9,1723.6 854.9,1723.5 855.9,1723.2 856.9,1723.1 857.9,1723.1 858.9,1723.5 859.9,1723.5 860.9,1723.4 861.9,1723.5 862.9,1723.5 863.9,1723.5 864.9,1723.4 865.9,1723.5 866.9,1723.5 867.9,1723.4 868.9,1723.4 869.9,1723.5 870.9,1723.5 871.9,1723.4 872.9,1723.5 873.9,1723.5 874.9,1723.4 875.9,1723.3 876.9,1723.4 877.9,1723.5 878.9,1723.4 879.9,1723.4 880.9,1723.4 881.9,1723.4 882.9,1723.4 883.9,1723.3 884.9,1723.4 885.9,1723.3 886.9,1723.2 887.9,1723.4 888.9,1723.3 889.9,1723.3 890.9,1723.3 891.9,1723.3 892.9,1723.5 893.9,1723.5 894.9,1723.3 895.9,1723.1 896.9,1723.2 897.9,1723.5 898.9,1723.5 899.9,1723.5 900.9,1723.4 901.9,1723.3 902.9,1723.4 903.9,1723.5 904.9,1723.5 905.9,1723.4 906.9,1723.4 907.9,1723.4 908.9,1723.3 909.9,1723.2 910.9,1723.2 911.9,1723.1 912.9,1723.0 913.9,1723.2 914.9,1723.2 915.9,1723.1 916.9,1723.3 917.9,1723.5 918.9,1723.4 919.9,1723.4 920.9,1723.4 921.9,1723.5 922.9,1723.4 923.9,1723.3 924.9,1723.4 925.9,1723.5 926.9,1723.4 927.9,1723.3 928.9,1723.4 929.9,1723.4 930.9,1723.4 931.9,1723.4 932.9,1723.5 933.9,1723.5 934.9,1723.5 935.9,1723.5 936.9,1723.4 937.9,1723.3 938.9,1723.4 939.9,1723.5 940.9,1723.5 941.9,1723.4 942.9,1723.4 943.9,1723.4 944.9,1723.4 945.9,1723.4 946.9,1723.5 947.9,1723.5 948.9,1723.5 949.9,1723.4 950.9,1723.3 951.9,1723.2 952.9,1723.3 953.9,1723.3 954.9,1723.2 955.9,1723.2 956.9,1723.2 957.9,1723.5 958.9,1723.5 959.9,1723.4 960.9,1723.4 961.9,1723.3 962.9,1723.2 963.9,1723.3 964.9,1723.4 965.9,1723.4 966.9,1723.2 967.9,1723.1 968.9,1723.2 969.9,1723.4 970.9,1723.6 971.9,1723.5 972.9,1723.4 973.9,1723.4 974.9,1723.5 975.9,1723.5 976.9,1723.5 977.9,1723.4 978.9,1723.3 979.9,1723.2 980.9,1723.2 981.9,1723.4 982.9,1723.5 983.9,1723.5 984.9,1723.4 985.9,1723.4 986.9,1723.5 987.9,1723.5 988.9,1723.5 989.9,1723.6 990.9,1723.5 991.9,1723.3 992.9,1723.3 993.9,1723.4 994.9,1723.4 995.9,1723.3 996.9,1723.4 997.9,1723.5 998.9,1723.4 999.9,1723.5 1000.9,1723.3 1001.9,1722.9 1002.9,1722.9 1003.9,1723.1 1004.9,1722.8 1005.9,1722.6 1006.9,1722.6 1007.9,1722.7 1008.9,1722.7 1009.9,1722.7 1010.9,1722.7 1011.9,1723.3 1012.9,1723.6 1013.9,1723.1 1014.9,1722.8 1015.9,1723.1 1016.9,1723.5 1017.9,1723.4 1018.9,1723.4 1019.9,1723.3 1020.9,1723.2 1021.9,1723.3 1022.9,1723.3 1023.9,1723.5 1024.9,1723.4 1025.9,1723.4 1026.9,1723.2 1027.9,1723.2 1028.9,1723.3 1029.9,1723.0 1030.9,1723.1 1031.9,1723.0 1032.9,1723.0 1033.9,1722.7 1034.9,1722.6 1035.9,1722.8 1036.9,1723.2 1037.9,1723.2 1038.9,1723.2 1039.9,1723.3 1040.9,1723.4 1041.9,1723.5 1042.9,1723.5 1043.9,1723.3 1044.9,1723.4 1045.9,1723.3 1046.9,1723.0 1047.9,1723.2 1048.9,1723.1 1049.9,1723.0 1050.9,1722.4 1051.9,1722.5 1052.9,1722.4 1053.9,1722.7 1054.9,1723.0 1055.9,1722.9 1056.9,1722.5 1057.9,1722.7 1058.9,1723.1 1059.9,1723.2 1060.9,1723.2 1061.9,1723.3 1062.9,1723.3 1063.9,1723.4 1064.9,1723.3 1065.9,1723.2 1066.9,1723.1 1067.9,1723.1 1068.9,1723.0 1069.9,1721.9 1070.9,1721.8 1071.9,1722.1 1072.9,1723.0 1073.9,1723.0 1074.9,1723.3 1075.9,1723.1 1076.9,1722.7 1077.9,1722.5 1078.9,1722.9 1079.9,1723.0 1080.9,1723.2 1081.9,1723.1 1082.9,1723.2 1083.9,1722.8 1084.9,1722.3 1085.9,1722.6 1086.9,1723.1 1087.9,1722.9 1088.9,1722.8 1089.9,1723.2 1090.9,1723.4 1091.9,1723.1 1092.9,1723.3 1093.9,1723.5 1094.9,1723.5 1095.9,1723.5 1096.9,1723.2 1097.9,1722.8 1098.9,1722.4 1099.9,1722.0 1100.9,1722.6 1101.9,1723.2 1102.9,1723.3 1103.9,1723.4 1104.9,1723.4 1105.9,1723.0 1106.9,1722.9 1107.9,1723.0 1108.9,1723.2 1109.9,1723.2 1110.9,1723.2 1111.9,1723.2 1112.9,1723.2 1113.9,1723.0 1114.9,1722.8 1115.9,1723.1 1116.9,1723.3 1117.9,1723.1 1118.9,1723.3 1119.9,1723.5 1120.9,1723.3 1121.9,1723.2 1122.9,1722.7 1123.9,1722.6 1124.9,1722.5 1125.9,1722.4 1126.9,1722.6 1127.9,1722.8 1128.9,1722.4 1129.9,1722.1 1130.9,1722.6 1131.9,1723.1 1132.9,1722.2 1133.9,1722.2 1134.9,1722.4 1135.9,1723.4 1136.9,1723.6 1137.9,1723.5 1138.9,1723.3 1139.9,1723.0 1140.9,1723.4 1141.9,1723.4 1142.9,1723.2 1143.9,1723.1 1144.9,1723.2 1145.9,1722.8 1146.9,1722.0 1147.9,1722.1 1148.9,1722.5 1149.9,1722.9 1150.9,1722.8 1151.9,1722.4 1152.9,1722.5 1153.9,1722.6 1154.9,1722.9 1155.9,1722.7 1156.9,1722.6 1157.9,1722.8 1158.9,1723.3 1159.9,1723.6 1160.9,1723.3 1161.9,1723.0 1162.9,1722.9 1163.9,1722.6 1164.9,1723.1 1165.9,1723.2 1166.9,1723.3 1167.9,1723.2 1168.9,1722.9 1169.9,1723.1 1170.9,1723.1 1171.9,1722.8 1172.9,1722.6 1173.9,1722.8 1174.9,1723.0 1175.9,1723.2 1176.9,1722.7 1177.9,1722.4 1178.9,1722.7 1179.9,1723.0 1180.9,1723.2 1181.9,1723.3 1182.9,1723.2 1183.9,1723.4 1184.9,1723.0 1185.9,1722.5 1186.9,1722.8 1187.9,1723.0 1188.9,1723.2 1189.9,1723.4 1190.9,1723.4 1191.9,1723.4 1192.9,1723.5 1193.9,1723.6 1194.9,1723.4 1195.9,1723.1 1196.9,1723.4 1197.9,1723.4 1198.9,1723.1 1199.9,1722.9 1200.9,1722.2 1201.9,1721.9 1202.9,1722.0 1203.9,1722.3 1204.9,1722.7 1205.9,1723.1 1206.9,1723.2 1207.9,1722.8 1208.9,1722.9 1209.9,1722.7 1210.9,1722.4 1211.9,1722.3 1212.9,1722.8 1213.9,1723.1 1214.9,1723.3 1215.9,1723.4 1216.9,1723.2 1217.9,1723.1 1218.9,1722.9 1219.9,1723.0 1220.9,1723.2 1221.9,1723.3 1222.9,1723.0 1223.9,1723.1 1224.9,1723.2 1225.9,1723.4 1226.9,1722.8 1227.9,1722.9 1228.9,1722.4 1229.9,1721.9 1230.9,1721.8 1231.9,1723.0 1232.9,1723.1 1233.9,1722.8 1234.9,1723.0 1235.9,1722.4 1236.9,1722.1 1237.9,1722.1 1238.9,1722.7 1239.9,1723.2 1240.9,1723.6 1241.9,1723.5 1242.9,1723.4 1243.9,1723.4 1244.9,1723.3 1245.9,1723.1 1246.9,1723.2 1247.9,1723.0 1248.9,1723.4 1249.9,1723.1 1250.9,1722.9 1251.9,1722.9 1252.9,1722.9 1253.9,1722.9 1254.9,1722.5 1255.9,1722.0 1256.9,1722.7 1257.9,1723.3 1258.9,1723.3 1259.9,1723.2 1260.9,1723.2 1261.9,1723.0 1262.9,1723.0 1263.9,1722.6 1264.9,1722.6 1265.9,1722.7 1266.9,1723.0 1267.9,1722.8 1268.9,1722.4 1269.9,1722.8 1270.9,1723.0 1271.9,1722.8 1272.9,1723.0 1273.9,1722.8 1274.9,1722.9 1275.9,1722.9 1276.9,1722.8 1277.9,1722.9 1278.9,1723.2 1279.9,1722.9 1280.9,1723.1 1281.9,1722.9 1282.9,1722.7 1283.9,1721.7 1284.9,1721.2 1285.9,1721.7 1286.9,1721.9 1287.9,1721.8 1288.9,1720.9 1289.9,1717.3 1290.9,1719.1 1291.9,1721.2 1292.9,1721.3 1293.9,1720.9 1294.9,1722.2 1295.9,1721.6 1296.9,1720.3 1297.9,1721.0 1298.9,1720.7 1299.9,1720.8 1300.9,1722.0 1301.9,1721.9 1302.9,1722.0 1303.9,1720.0 1304.9,1717.5 1305.9,1717.4 1306.9,1719.2 1307.9,1719.3 1308.9,1720.7 1309.9,1721.2 1310.9,1720.6 1311.9,1720.4 1312.9,1721.1 1313.9,1720.9 1314.9,1721.0 1315.9,1721.3 1316.9,1722.4 1317.9,1722.0 1318.9,1720.4 1319.9,1719.1 1320.9,1719.7 1321.9,1720.8 1322.9,1720.8 1323.9,1719.7 1324.9,1718.7 1325.9,1720.5 1326.9,1722.1 1327.9,1722.2 1328.9,1721.2 1329.9,1716.5 1330.9,1718.0 1331.9,1719.1 1332.9,1719.4 1333.9,1719.3 1334.9,1718.8 1335.9,1718.9 1336.9,1718.6 1337.9,1718.1 1338.9,1716.0 1339.9,1718.4 1340.9,1720.9 1341.9,1717.6 1342.9,1715.0 1343.9,1715.0 1344.9,1716.6 1345.9,1718.5 1346.9,1720.7 1347.9,1720.0 1348.9,1716.4 1349.9,1719.0 1350.9,1720.6 1351.9,1717.2 1352.9,1718.1 1353.9,1721.1 1354.9,1718.1 1355.9,1715.4 1356.9,1717.1 1357.9,1718.9 1358.9,1719.6 1359.9,1721.1 1360.9,1720.4 1361.9,1720.2 1362.9,1721.4 1363.9,1721.7 1364.9,1721.4 1365.9,1721.4 1366.9,1721.3 1367.9,1721.9 1368.9,1722.0 1369.9,1721.5 1370.9,1722.1 1371.9,1719.5 1372.9,1718.5 1373.9,1719.2 1374.9,1721.4 1375.9,1720.6 1376.9,1719.9 1377.9,1722.0 1378.9,1722.3 1379.9,1722.1 1380.9,1722.4 1381.9,1721.4 1382.9,1720.1 1383.9,1719.0 1384.9,1719.9 1385.9,1717.8 1386.9,1717.6 1387.9,1719.4 1388.9,1721.3 1389.9,1719.8 1390.9,1718.4 1391.9,1717.7 1392.9,1717.6 1393.9,1720.2 1394.9,1723.3 1395.9,1723.6 1396.9,1723.4 1397.9,1723.1 1398.9,1723.2 1399.9,1723.4 1400.9,1723.3 1401.9,1723.4 1402.9,1723.5 1403.9,1723.4 1404.9,1723.3 1405.9,1723.0 1406.9,1722.7 1407.9,1723.0 1408.9,1723.2 1409.9,1723.3 1410.9,1723.4 1411.9,1723.3 1412.9,1723.2 1413.9,1723.1 1414.9,1723.0 1415.9,1723.4 1416.9,1723.5 1417.9,1723.6 1418.9,1723.4 1419.9,1723.2 1420.9,1722.3 1421.9,1721.0 1422.9,1721.6 1423.9,1722.0 1424.9,1721.6 1425.9,1722.0 1426.9,1722.0 1427.9,1719.2 1428.9,1717.5 1429.9,1718.6 1430.9,1720.9 1431.9,1720.6 1432.9,1720.8 1433.9,1720.8 1434.9,1719.1 1435.9,1720.9 1436.9,1721.9 1437.9,1722.0 1438.9,1721.1 1439.9,1720.9 1440.9,1718.5 1441.9,1718.5 1442.9,1720.0 1443.9,1720.0 1444.9,1720.3 1445.9,1721.5 1446.9,1721.7 1447.9,1722.2 1448.9,1721.9 1449.9,1722.2 1450.9,1722.4 1451.9,1722.8 1452.9,1721.4 1453.9,1721.2 1454.9,1721.5 1455.9,1722.0 1456.9,1722.4 1457.9,1722.3 1458.9,1721.0 1459.9,1719.2 1460.9,1720.0 1461.9,1721.7 1462.9,1722.7 1463.9,1722.8 1464.9,1722.3 1465.9,1721.0 1466.9,1717.6 1467.9,1719.7 1468.9,1718.7 1469.9,1719.9 1470.9,1720.7 1471.9,1720.9 1472.9,1719.6 1473.9,1719.6 1474.9,1720.9 1475.9,1721.8 1476.9,1722.3 1477.9,1721.8 1478.9,1723.1 1479.9,1723.2 1480.9,1722.5 1481.9,1722.3 1482.9,1722.4 1483.9,1722.1 1484.9,1721.6 1485.9,1721.7 1486.9,1721.2 1487.9,1721.7 1488.9,1721.1 1489.9,1721.0 1490.9,1721.0 1491.9,1718.7 1492.9,1718.9 1493.9,1720.7 1494.9,1721.4 1495.9,1719.5 1496.9,1720.4 1497.9,1720.2 1498.9,1720.7 1499.9,1720.4 1500.9,1722.3 1501.9,1722.7 1502.9,1722.2 1503.9,1722.2 1504.9,1720.8 1505.9,1716.6 1506.9,1714.9 1507.9,1719.6 1508.9,1720.8 1509.9,1721.0 1510.9,1719.5 1511.9,1721.2 1512.9,1721.1 1513.9,1719.6 1514.9,1722.0 1515.9,1722.5 1516.9,1715.8 1517.9,1714.0 1518.9,1719.3 1519.9,1717.4 1520.9,1717.8 1521.9,1719.1 1522.9,1720.9 1523.9,1716.6 1524.9,1717.1 1525.9,1719.6 1526.9,1720.2 1527.9,1720.5 1528.9,1719.3 1529.9,1720.2 1530.9,1721.5 1531.9,1720.1 1532.9,1719.6 1533.9,1717.7 1534.9,1719.5 1535.9,1720.8 1536.9,1721.2 1537.9,1720.1 1538.9,1720.7 1539.9,1719.6 1540.9,1718.6 1541.9,1721.1 1542.9,1721.2 1543.9,1721.6 1544.9,1721.4 1545.9,1719.3 1546.9,1717.9 1547.9,1718.1 1548.9,1718.7 1549.9,1719.0 1550.9,1719.5 1551.9,1719.3 1552.9,1718.3 1553.9,1718.6 1554.9,1719.6 1555.9,1719.4 1556.9,1719.5 1557.9,1718.6 1558.9,1718.3 1559.9,1721.2 1560.9,1719.9 1561.9,1719.4 1562.9,1717.4 1563.9,1718.8 1564.9,1719.2 1565.9,1721.4 1566.9,1717.4 1567.9,1715.0 1568.9,1714.1 1569.9,1716.5 1570.9,1716.6 1571.9,1713.1 1572.9,1718.5 1573.9,1719.6 1574.9,1719.5 1575.9,1719.8 1576.9,1718.6 1577.9,1717.8 1578.9,1720.1 1579.9,1719.6 1580.9,1716.2 1581.9,1718.0 1582.9,1715.8 1583.9,1711.1 1584.9,1712.0 1585.9,1713.2 1586.9,1699.4 1587.9,1699.4 1588.9,1721.8 1589.9,1720.3 1590.9,1714.5 1591.9,1715.1 1592.9,1715.2 1593.9,1712.2 1594.9,1697.0 1595.9,1698.4 1596.9,1721.5 1597.9,1717.5 1598.9,1712.8 1599.9,1715.4 1600.9,1692.1 1601.9,1692.1 1602.9,1705.9 1603.9,1706.8 1604.9,1707.9 1605.9,1710.6 1606.9,1699.9 1607.9,1684.2 1608.9,1693.1 1609.9,1710.0 1610.9,1709.6 1611.9,1715.2 1612.9,1670.0 1613.9,1651.7 1614.9,1718.7 1615.9,1719.4 1616.9,1719.2 1617.9,1719.5 1618.9,1719.5 1619.9,1719.5 1620.9,1720.7 1621.9,1712.6 1622.9,1712.6 1623.9,1722.8 1624.9,1722.5 1625.9,1720.7 1626.9,1712.6 1627.9,1712.6 1628.9,1720.9 1629.9,1721.3 1630.9,1722.0 1631.9,1721.4 1632.9,1720.6 1633.9,1721.6 1634.9,1721.7 1635.9,1722.7 1636.9,1723.2 1637.9,1722.4 1638.9,1721.4 1639.9,1722.0 1640.9,1722.4 1641.9,1722.8 1642.9,1722.9 1643.9,1720.6 1644.9,1719.8 1645.9,1720.4 1646.9,1722.4 1647.9,1722.5 1648.9,1722.8 1649.9,1723.4 1650.9,1723.6 1651.9,1723.0 1652.9,1722.2 1653.9,1712.6 1654.9,1712.6 1655.9,1720.7 1656.9,1720.7 1657.9,1721.4 1658.9,1721.8 1659.9,1717.8 1660.9,1716.7 1661.9,1714.8 1662.9,1718.3 1663.9,1716.8 1664.9,1711.0 1665.9,1714.5 1666.9,1675.4 1667.9,1665.2 1668.9,1675.4 1669.9,1718.1 1670.9,1720.3 1671.9,1696.7 1672.9,1689.6 1673.9,1638.5 1674.9,1618.2 1675.9,1651.6 1676.9,1650.0 1677.9,1612.6 1678.9,1672.1 1679.9,1718.7 1680.9,1718.4 1681.9,1722.4 1682.9,1721.5 1683.9,1719.2 1684.9,1715.6 1685.9,1716.7 1686.9,1717.8 1687.9,1714.9 1688.9,1718.0 1689.9,1720.3 1690.9,1720.9 1691.9,1720.1 1692.9,1718.7 1693.9,1719.4 1694.9,1720.3 1695.9,1718.2 1696.9,1715.6 1697.9,1716.0 1698.9,1719.4 1699.9,1720.0 1700.9,1714.8 1701.9,1715.6 1702.9,1719.7 1703.9,1719.7 1704.9,1721.6 1705.9,1722.5 1706.9,1722.3 1707.9,1721.9 1708.9,1720.4 1709.9,1720.9 1710.9,1680.6 1711.9,1685.4 1712.9,1620.5 1713.9,1634.8 1714.9,1722.7 1715.9,1723.3 1716.9,1723.5 1717.9,1723.4 1718.9,1722.6 1719.9,1721.4 1720.9,1722.0 1721.9,1722.7 1722.9,1722.4 1723.9,1722.8 1724.9,1723.5 1725.9,1723.3 1726.9,1723.4 1727.9,1723.2 1728.9,1723.2 1729.9,1721.9 1730.9,1720.2 1731.9,1719.9 1732.9,1719.4 1733.9,1718.7 1734.9,1719.8 1735.9,1721.4 1736.9,1721.6 1737.9,1721.1 1738.9,1718.6 1739.9,1718.6 1740.9,1718.9 1741.9,1721.7 1742.9,1722.1 1743.9,1721.6 1744.9,1722.4 1745.9,1722.5 1746.9,1722.8 1747.9,1721.5 1748.9,1721.2 1749.9,1721.5 1750.9,1723.1 1751.9,1722.8 1752.9,1722.6 1753.9,1722.7 1754.9,1722.6 1755.9,1722.5 1756.9,1722.6 1757.9,1722.5 1758.9,1722.4 1759.9,1722.5 1760.9,1722.5 1761.9,1720.9 1762.9,1720.8 1763.9,1721.0 1764.9,1722.2 1765.9,1722.6 1766.9,1722.6 1767.9,1722.5 1768.9,1722.3 1769.9,1722.7 1770.9,1722.5 1771.9,1722.4 1772.9,1722.5 1773.9,1723.0 1774.9,1722.5 1775.9,1721.2 1776.9,1721.4 1777.9,1722.5 1778.9,1722.8 1779.9,1722.9 1780.9,1723.1 1781.9,1723.1 1782.9,1722.6 1783.9,1714.8 1784.9,1714.8 1785.9,1723.0 1786.9,1723.3 1787.9,1723.3 1788.9,1722.7 1789.9,1721.9 1790.9,1722.4 1791.9,1722.7 1792.9,1722.7 1793.9,1722.7 1794.9,1720.7 1795.9,1720.8 1796.9,1720.7 1797.9,1721.8 1798.9,1721.2 1799.9,1721.3 1800.9,1722.4 1801.9,1722.7 1802.9,1721.8 1803.9,1722.6 1804.9,1723.0 1805.9,1723.4 1806.9,1723.3 1807.9,1713.2 1808.9,1704.3 1809.9,1709.7 1810.9,1722.9 1811.9,1722.0 1812.9,1721.6 1813.9,1721.4 1814.9,1721.3 1815.9,1721.4 1816.9,1722.3 1817.9,1722.2 1818.9,1722.7 1819.9,1721.9 1820.9,1722.4 1821.9,1721.5 1822.9,1721.2 1823.9,1722.0 1824.9,1722.8 1825.9,1722.9 1826.9,1722.9 1827.9,1723.2 1828.9,1723.2 1829.9,1722.8 1830.9,1722.7 1831.9,1722.8 1832.9,1721.8 1833.9,1722.5 1834.9,1723.0 1835.9,1723.1 1836.9,1721.7 1837.9,1721.4 1838.9,1721.8 1839.9,1722.1 1840.9,1722.1 1841.9,1722.0 1842.9,1721.4 1843.9,1721.7 1844.9,1722.2 1845.9,1722.3 1846.9,1722.5 1847.9,1707.5 1848.9,1690.6 1849.9,1707.5 1850.9,1722.3 1851.9,1722.9 1852.9,1704.1 1853.9,1692.6 1854.9,1718.4 1855.9,1708.5 1856.9,1706.6 1857.9,1712.8 1858.9,1710.3 1859.9,1710.1 1860.9,1710.1 1861.9,1710.1 1862.9,1710.1 1863.9,1710.1 1864.9,1710.1 1865.9,1712.4 1866.9,1714.9 1867.9,1709.6 1868.9,1712.7 1869.9,1722.4 1870.9,1722.7 1871.9,1722.9 1872.9,1723.1 1873.9,1722.9 1874.9,1723.1 1875.9,1723.1 1876.9,1722.9 1877.9,1722.5 1878.9,1722.7 1879.9,1723.3 1880.9,1723.4 1881.9,1723.3 1882.9,1723.3 1883.9,1723.3 1884.9,1723.2 1885.9,1723.2 1886.9,1723.0 1887.9,1723.2 1888.9,1723.1 1889.9,1723.3 1890.9,1723.3 1891.9,1723.4 1892.9,1723.4 1893.9,1723.0 1894.9,1722.8 1895.9,1723.1 1896.9,1723.3 1897.9,1723.1 1898.9,1722.9 1899.9,1722.7 1900.9,1722.9 1901.9,1723.1 1902.9,1722.8 1903.9,1723.0 1904.9,1722.7 1905.9,1722.4 1906.9,1722.8 1907.9,1723.2 1908.9,1722.9 1909.9,1723.1 1910.9,1722.9 1911.9,1722.6 1912.9,1723.1 1913.9,1723.5 1914.9,1723.4 1915.9,1723.2 1916.9,1723.2 1917.9,1723.2 1918.9,1723.0 1919.9,1723.0 1920.9,1723.1 1921.9,1722.8 1922.9,1722.8 1923.9,1722.7 1924.9,1723.0 1925.9,1722.8 1926.9,1722.4 1927.9,1722.0 1928.9,1722.3 1929.9,1722.7 1930.9,1722.8 1931.9,1722.9 1932.9,1723.0 1933.9,1722.8 1934.9,1723.0 1935.9,1722.9 1936.9,1722.8 1937.9,1722.5 1938.9,1721.9 1939.9,1722.6 1940.9,1723.3 1941.9,1723.0 1942.9,1723.1 1943.9,1723.3 1944.9,1723.2 1945.9,1722.8 1946.9,1723.0 1947.9,1723.2 1948.9,1723.2 1949.9,1723.2 1950.9,1722.9 1951.9,1722.5 1952.9,1722.7 1953.9,1722.5 1954.9,1722.1 1955.9,1722.1 1956.9,1722.3 1957.9,1722.3 1958.9,1722.7 1959.9,1723.0 1960.9,1723.3 1961.9,1723.3 1962.9,1723.3 1963.9,1723.3 1964.9,1723.3 1965.9,1723.0 1966.9,1723.0 1967.9,1722.6 1968.9,1723.2 1969.9,1723.6 1969.9,1723.6" fill="#ff0000" stroke="#ff0000" stroke-width="0.4" stroke-linejoin="round"/>
<polygon points="112.9,1878.9 112.9,1878.4 113.9,1878.3 114.9,1878.0 115.9,1877.5 116.9,1877.5 117.9,1878.4 118.9,1877.8 119.9,1876.7 120.9,1877.1 121.9,1877.8 122.9,1877.5 123.9,1877.7 124.9,1878.1 125.9,1877.4 126.9,1876.0 127.9,1877.1 128.9,1877.7 129.9,1876.7 130.9,1876.8 131.9,1877.6 132.9,1878.5 133.9,1878.2 134.9,1878.1 135.9,1877.2 136.9,1876.1 137.9,1876.0 138.9,1876.7 139.9,1877.1 140.9,1877.8 141.9,1877.6 142.9,1877.1 143.9,1876.3 144.9,1876.4 145.9,1877.1 146.9,1877.6 147.9,1877.8 148.9,1877.6 149.9,1878.1 150.9,1878.1 151.9,1877.9 152.9,1878.2 153.9,1878.2 154.9,1877.8 155.9,1877.9 156.9,1877.6 157.9,1877.3 158.9,1876.9 159.9,1876.4 160.9,1877.4 161.9,1877.9 162.9,1878.0 163.9,1877.7 164.9,1876.4 165.9,1877.1 166.9,1878.0 167.9,1878.1 168.9,1877.4 169.9,1876.7 170.9,1877.7 171.9,1877.2 172.9,1876.1 173.9,1876.7 174.9,1876.8 175.9,1877.3 176.9,1878.3 177.9,1877.8 178.9,1876.9 179.9,1876.7 180.9,1877.2 181.9,1876.5 182.9,1877.1 183.9,1877.7 184.9,1877.7 185.9,1877.5 186.9,1876.6 187.9,1877.7 188.9,1877.4 189.9,1877.6 190.9,1877.7 191.9,1878.4 192.9,1878.2 193.9,1877.1 194.9,1877.2 195.9,1876.2 196.9,1876.1 197.9,1876.4 198.9,1877.3 199.9,1877.7 200.9,1876.5 201.9,1876.0 202.9,1876.8 203.9,1877.6 204.9,1877.8 205.9,1877.8 206.9,1877.5 207.9,1877.2 208.9,1877.6 209.9,1877.4 210.9,1877.1 211.9,1876.0 212.9,1876.7 213.9,1877.4 214.9,1877.1 215.9,1877.6 216.9,1877.6 217.9,1877.4 218.9,1876.8 219.9,1877.3 220.9,1876.6 221.9,1875.8 222.9,1876.1 223.9,1877.9 224.9,1878.0 225.9,1878.2 226.9,1877.9 227.9,1876.9 228.9,1876.3 229.9,1877.5 230.9,1877.6 231.9,1877.4 232.9,1877.3 233.9,1877.7 234.9,1878.1 235.9,1878.1 236.9,1878.0 237.9,1877.8 238.9,1878.0 239.9,1878.2 240.9,1877.8 241.9,1877.4 242.9,1877.6 243.9,1877.4 244.9,1877.9 245.9,1878.0 246.9,1877.3 247.9,1876.6 248.9,1877.0 249.9,1877.1 250.9,1876.6 251.9,1877.1 252.9,1878.4 253.9,1878.4 254.9,1877.7 255.9,1876.7 256.9,1877.0 257.9,1877.2 258.9,1876.1 259.9,1876.6 260.9,1877.3 261.9,1876.9 262.9,1876.0 263.9,1876.7 264.9,1876.5 265.9,1877.8 266.9,1878.5 267.9,1878.6 268.9,1878.4 269.9,1878.4 270.9,1878.2 271.9,1877.7 272.9,1876.8 273.9,1876.1 274.9,1877.1 275.9,1877.5 276.9,1877.4 277.9,1878.2 278.9,1877.6 279.9,1876.0 280.9,1876.3 281.9,1877.5 282.9,1877.3 283.9,1878.0 284.9,1878.6 285.9,1878.6 286.9,1878.1 287.9,1877.3 288.9,1877.2 289.9,1877.1 290.9,1877.4 291.9,1877.6 292.9,1876.3 293.9,1876.0 294.9,1876.1 295.9,1877.9 296.9,1877.8 297.9,1877.7 298.9,1877.2 299.9,1878.0 300.9,1878.5 301.9,1878.3 302.9,1877.7 303.9,1878.3 304.9,1878.2 305.9,1878.2 306.9,1878.0 307.9,1878.2 308.9,1877.5 309.9,1877.6 310.9,1877.9 311.9,1878.2 312.9,1878.0 313.9,1877.6 314.9,1878.0 315.9,1877.9 316.9,1878.0 317.9,1877.8 318.9,1877.7 319.9,1877.9 320.9,1877.4 321.9,1875.7 322.9,1874.9 323.9,1875.0 324.9,1876.5 325.9,1877.6 326.9,1877.4 327.9,1877.8 328.9,1877.5 329.9,1875.7 330.9,1875.1 331.9,1875.6 332.9,1877.3 333.9,1877.6 334.9,1877.9 335.9,1878.3 336.9,1878.0 337.9,1877.8 338.9,1877.5 339.9,1878.2 340.9,1877.8 341.9,1877.5 342.9,1877.1 343.9,1876.9 344.9,1878.3 345.9,1878.3 346.9,1878.6 347.9,1878.3 348.9,1878.1 349.9,1877.1 350.9,1876.3 351.9,1875.7 352.9,1876.6 353.9,1876.6 354.9,1877.3 355.9,1877.8 356.9,1877.7 357.9,1877.2 358.9,1876.6 359.9,1875.3 360.9,1875.8 361.9,1875.8 362.9,1877.1 363.9,1877.8 364.9,1878.0 365.9,1877.6 366.9,1877.6 367.9,1878.1 368.9,1877.6 369.9,1876.5 370.9,1876.8 371.9,1877.8 372.9,1878.5 373.9,1878.3 374.9,1878.3 375.9,1877.9 376.9,1877.2 377.9,1877.1 378.9,1876.9 379.9,1878.0 380.9,1878.4 381.9,1878.3 382.9,1878.2 383.9,1877.6 384.9,1877.3 385.9,1877.9 386.9,1878.3 387.9,1878.3 388.9,1878.4 389.9,1878.6 390.9,1878.3 391.9,1878.1 392.9,1877.7 393.9,1878.2 394.9,1878.5 395.9,1878.3 396.9,1877.9 397.9,1878.1 398.9,1877.7 399.9,1877.8 400.9,1877.5 401.9,1877.6 402.9,1876.8 403.9,1877.1 404.9,1877.3 405.9,1877.1 406.9,1877.5 407.9,1876.7 408.9,1875.9 409.9,1876.4 410.9,1877.6 411.9,1877.1 412.9,1877.5 413.9,1877.2 414.9,1877.9 415.9,1877.7 416.9,1878.6 417.9,1878.4 418.9,1878.2 419.9,1877.7 420.9,1877.1 421.9,1877.9 422.9,1878.5 423.9,1878.0 424.9,1877.5 425.9,1877.0 426.9,1876.4 427.9,1877.1 428.9,1877.4 429.9,1877.2 430.9,1876.6 431.9,1876.8 432.9,1877.9 433.9,1877.2 434.9,1876.3 435.9,1876.3 436.9,1877.1 437.9,1876.2 438.9,1876.9 439.9,1878.1 440.9,1878.2 441.9,1877.4 442.9,1877.7 443.9,1877.1 444.9,1875.8 445.9,1876.7 446.9,1878.0 447.9,1877.8 448.9,1878.1 449.9,1878.5 450.9,1867.9 451.9,1867.9 452.9,1876.2 453.9,1877.2 454.9,1877.8 455.9,1878.1 456.9,1878.5 457.9,1877.9 458.9,1876.5 459.9,1876.6 460.9,1877.0 461.9,1877.6 462.9,1877.5 463.9,1877.0 464.9,1875.7 465.9,1876.1 466.9,1877.2 467.9,1877.5 468.9,1877.3 469.9,1878.0 470.9,1878.2 471.9,1878.3 472.9,1878.3 473.9,1878.4 474.9,1878.3 475.9,1878.0 476.9,1878.0 477.9,1877.4 478.9,1876.6 479.9,1875.8 480.9,1874.5 481.9,1874.9 482.9,1875.4 483.9,1874.9 484.9,1874.0 485.9,1876.4 486.9,1877.7 487.9,1878.0 488.9,1878.0 489.9,1878.2 490.9,1878.0 491.9,1877.6 492.9,1877.5 493.9,1877.6 494.9,1877.4 495.9,1877.4 496.9,1877.5 497.9,1877.4 498.9,1878.4 499.9,1878.1 500.9,1877.8 501.9,1877.9 502.9,1878.2 503.9,1878.2 504.9,1878.3 505.9,1877.6 506.9,1877.2 507.9,1877.4 508.9,1876.7 509.9,1875.3 510.9,1876.6 511.9,1878.3 512.9,1878.5 513.9,1878.6 514.9,1878.2 515.9,1878.0 516.9,1878.6 517.9,1877.1 518.9,1875.8 519.9,1877.0 520.9,1877.7 521.9,1877.2 522.9,1876.0 523.9,1875.7 524.9,1876.5 525.9,1878.1 526.9,1878.2 527.9,1878.2 528.9,1877.7 529.9,1877.2 530.9,1877.2 531.9,1876.6 532.9,1877.0 533.9,1877.0 534.9,1877.8 535.9,1877.7 536.9,1877.4 537.9,1877.6 538.9,1878.1 539.9,1878.0 540.9,1878.6 541.9,1878.0 542.9,1878.4 543.9,1878.2 544.9,1877.5 545.9,1876.6 546.9,1878.1 547.9,1878.2 548.9,1877.5 549.9,1876.8 550.9,1877.1 551.9,1877.2 552.9,1877.1 553.9,1877.4 554.9,1877.4 555.9,1878.3 556.9,1877.9 557.9,1877.2 558.9,1877.0 559.9,1877.7 560.9,1877.1 561.9,1876.1 562.9,1877.5 563.9,1878.3 564.9,1877.5 565.9,1878.0 566.9,1877.7 567.9,1877.4 568.9,1877.9 569.9,1878.7 570.9,1878.5 571.9,1878.7 572.9,1878.5 573.9,1877.8 574.9,1876.4 575.9,1876.0 576.9,1877.3 577.9,1878.2 578.9,1878.5 579.9,1878.5 580.9,1878.7 581.9,1878.5 582.9,1877.8 583.9,1877.7 584.9,1878.0 585.9,1878.1 586.9,1877.5 587.9,1878.2 588.9,1877.7 589.9,1877.0 590.9,1877.5 591.9,1877.3 592.9,1876.2 593.9,1877.3 594.9,1878.3 595.9,1878.2 596.9,1877.8 597.9,1878.2 598.9,1878.3 599.9,1877.9 600.9,1877.4 601.9,1877.4 602.9,1876.3 603.9,1876.9 604.9,1876.9 605.9,1877.5 606.9,1877.9 607.9,1878.3 608.9,1878.3 609.9,1878.6 610.9,1878.0 611.9,1876.9 612.9,1876.8 613.9,1876.7 614.9,1877.6 615.9,1878.7 616.9,1878.5 617.9,1878.0 618.9,1878.4 619.9,1878.5 620.9,1877.7 621.9,1877.3 622.9,1877.8 623.9,1878.1 624.9,1878.3 625.9,1878.1 626.9,1878.1 627.9,1877.7 628.9,1877.9 629.9,1878.2 630.9,1877.6 631.9,1877.4 632.9,1877.6 633.9,1877.8 634.9,1877.9 635.9,1878.2 636.9,1877.8 637.9,1877.3 638.9,1877.1 639.9,1877.9 640.9,1877.7 641.9,1877.9 642.9,1877.6 643.9,1878.3 644.9,1878.4 645.9,1878.1 646.9,1877.1 647.9,1878.0 648.9,1878.0 649.9,1876.8 650.9,1876.8 651.9,1875.8 652.9,1875.8 653.9,1875.4 654.9,1876.8 655.9,1876.4 656.9,1877.0 657.9,1876.7 658.9,1876.1 659.9,1876.1 660.9,1877.2 661.9,1877.3 662.9,1877.8 663.9,1876.5 664.9,1877.3 665.9,1875.5 666.9,1874.3 667.9,1876.7 668.9,1878.2 669.9,1877.6 670.9,1876.7 671.9,1876.5 672.9,1877.4 673.9,1878.0 674.9,1877.9 675.9,1878.4 676.9,1878.9 677.9,1877.9 678.9,1876.7 679.9,1877.0 680.9,1877.9 681.9,1877.6 682.9,1878.4 683.9,1878.4 684.9,1878.5 685.9,1878.0 686.9,1878.0 687.9,1877.6 688.9,1878.2 689.9,1878.0 690.9,1877.8 691.9,1878.2 692.9,1878.1 693.9,1878.1 694.9,1878.3 695.9,1878.1 696.9,1878.2 697.9,1877.3 698.9,1875.8 699.9,1875.3 700.9,1875.3 701.9,1875.3 702.9,1876.2 703.9,1877.5 704.9,1877.9 705.9,1877.9 706.9,1877.5 707.9,1877.7 708.9,1877.6 709.9,1876.8 710.9,1876.9 711.9,1877.3 712.9,1878.1 713.9,1877.8 714.9,1878.2 715.9,1878.4 716.9,1878.3 717.9,1877.8 718.9,1876.7 719.9,1876.7 720.9,1877.4 721.9,1878.2 722.9,1878.1 723.9,1877.4 724.9,1876.6 725.9,1876.6 726.9,1875.8 727.9,1875.3 728.9,1876.7 729.9,1877.3 730.9,1877.5 731.9,1877.3 732.9,1877.4 733.9,1877.6 734.9,1878.2 735.9,1878.7 736.9,1878.6 737.9,1878.1 738.9,1878.2 739.9,1878.1 740.9,1877.8 741.9,1877.2 742.9,1876.4 743.9,1876.7 744.9,1877.6 745.9,1878.1 746.9,1877.2 747.9,1876.7 748.9,1877.0 749.9,1877.3 750.9,1877.5 751.9,1877.8 752.9,1877.5 753.9,1877.3 754.9,1876.7 755.9,1874.9 756.9,1876.3 757.9,1877.7 758.9,1877.1 759.9,1877.5 760.9,1878.0 761.9,1878.5 762.9,1878.3 763.9,1878.4 764.9,1878.3 765.9,1878.2 766.9,1877.9 767.9,1877.7 768.9,1876.9 769.9,1877.6 770.9,1877.9 771.9,1878.1 772.9,1877.7 773.9,1877.7 774.9,1878.0 775.9,1878.4 776.9,1878.4 777.9,1878.3 778.9,1878.7 779.9,1877.0 780.9,1875.7 781.9,1875.5 782.9,1877.2 783.9,1877.5 784.9,1876.0 785.9,1876.4 786.9,1877.8 787.9,1878.3 788.9,1878.2 789.9,1878.1 790.9,1877.2 791.9,1877.6 792.9,1877.3 793.9,1877.3 794.9,1877.4 795.9,1877.7 796.9,1876.8 797.9,1877.1 798.9,1877.8 799.9,1877.8 800.9,1877.1 801.9,1876.6 802.9,1877.3 803.9,1877.9 804.9,1878.3 805.9,1877.8 806.9,1878.1 807.9,1878.2 808.9,1878.4 809.9,1878.3 810.9,1877.9 811.9,1877.6 812.9,1877.7 813.9,1877.9 814.9,1878.1 815.9,1877.9 816.9,1877.6 817.9,1876.9 818.9,1877.7 819.9,1878.0 820.9,1877.6 821.9,1877.8 822.9,1876.1 823.9,1875.3 824.9,1876.0 825.9,1877.6 826.9,1877.2 827.9,1876.6 828.9,1877.8 829.9,1878.3 830.9,1878.4 831.9,1878.5 832.9,1878.2 833.9,1878.4 834.9,1878.6 835.9,1877.5 836.9,1877.5 837.9,1878.0 838.9,1878.5 839.9,1878.2 840.9,1877.7 841.9,1876.5 842.9,1875.7 843.9,1876.1 844.9,1877.9 845.9,1878.6 846.9,1878.5 847.9,1878.1 848.9,1877.5 849.9,1877.9 850.9,1878.1 851.9,1876.2 852.9,1875.8 853.9,1876.0 854.9,1877.3 855.9,1877.5 856.9,1877.5 857.9,1877.6 858.9,1877.5 859.9,1877.8 860.9,1878.0 861.9,1877.5 862.9,1877.4 863.9,1878.1 864.9,1878.3 865.9,1878.0 866.9,1877.8 867.9,1877.8 868.9,1877.8 869.9,1877.4 870.9,1876.9 871.9,1877.6 872.9,1877.5 873.9,1877.5 874.9,1877.9 875.9,1877.5 876.9,1877.7 877.9,1877.7 878.9,1877.1 879.9,1876.4 880.9,1877.4 881.9,1878.1 882.9,1877.5 883.9,1877.9 884.9,1878.2 885.9,1877.8 886.9,1877.8 887.9,1878.0 888.9,1878.2 889.9,1878.1 890.9,1878.4 891.9,1878.7 892.9,1878.6 893.9,1878.6 894.9,1878.3 895.9,1878.2 896.9,1878.2 897.9,1878.0 898.9,1878.2 899.9,1878.7 900.9,1878.9 901.9,1878.6 902.9,1878.4 903.9,1877.5 904.9,1876.6 905.9,1875.9 906.9,1876.2 907.9,1876.3 908.9,1876.5 909.9,1877.6 910.9,1878.4 911.9,1878.3 912.9,1878.4 913.9,1878.3 914.9,1878.5 915.9,1878.4 916.9,1877.4 917.9,1876.5 918.9,1877.7 919.9,1877.9 920.9,1877.7 921.9,1877.4 922.9,1876.5 923.9,1874.8 924.9,1875.3 925.9,1876.8 926.9,1877.7 927.9,1877.5 928.9,1877.2 929.9,1877.6 930.9,1877.8 931.9,1877.8 932.9,1878.3 933.9,1877.9 934.9,1877.7 935.9,1877.6 936.9,1877.9 937.9,1877.8 938.9,1877.5 939.9,1877.5 940.9,1877.6 941.9,1878.3 942.9,1878.0 943.9,1877.0 944.9,1878.2 945.9,1878.9 946.9,1878.3 947.9,1877.9 948.9,1878.2 949.9,1878.6 950.9,1878.5 951.9,1878.4 952.9,1878.0 953.9,1878.3 954.9,1878.3 955.9,1878.1 956.9,1876.9 957.9,1876.9 958.9,1877.4 959.9,1877.1 960.9,1876.2 961.9,1877.7 962.9,1878.2 963.9,1878.3 964.9,1878.4 965.9,1877.8 966.9,1877.1 967.9,1877.4 968.9,1877.2 969.9,1877.5 970.9,1878.2 971.9,1877.6 972.9,1875.8 973.9,1877.3 974.9,1878.2 975.9,1877.9 976.9,1878.4 977.9,1877.9 978.9,1877.0 979.9,1876.9 980.9,1877.8 981.9,1878.0 982.9,1878.0 983.9,1877.9 984.9,1877.5 985.9,1877.4 986.9,1877.8 987.9,1877.8 988.9,1877.9 989.9,1878.0 990.9,1878.2 991.9,1878.0 992.9,1877.6 993.9,1877.6 994.9,1876.7 995.9,1877.0 996.9,1876.9 997.9,1877.5 998.9,1876.4 999.9,1877.1 1000.9,1876.8 1001.9,1874.5 1002.9,1875.8 1003.9,1874.5 1004.9,1870.6 1005.9,1870.9 1006.9,1874.5 1007.9,1874.6 1008.9,1875.1 1009.9,1877.2 1010.9,1877.0 1011.9,1878.0 1012.9,1877.2 1013.9,1877.1 1014.9,1876.0 1015.9,1877.4 1016.9,1877.3 1017.9,1877.0 1018.9,1877.5 1019.9,1877.8 1020.9,1877.0 1021.9,1876.6 1022.9,1876.6 1023.9,1876.1 1024.9,1875.6 1025.9,1875.1 1026.9,1875.7 1027.9,1873.8 1028.9,1875.5 1029.9,1877.0 1030.9,1876.2 1031.9,1875.0 1032.9,1876.6 1033.9,1876.6 1034.9,1875.8 1035.9,1871.3 1036.9,1870.9 1037.9,1870.9 1038.9,1874.0 1039.9,1875.3 1040.9,1876.2 1041.9,1874.6 1042.9,1875.1 1043.9,1873.7 1044.9,1874.7 1045.9,1875.2 1046.9,1877.1 1047.9,1877.6 1048.9,1877.4 1049.9,1876.9 1050.9,1877.4 1051.9,1876.7 1052.9,1876.8 1053.9,1877.4 1054.9,1876.3 1055.9,1876.1 1056.9,1876.5 1057.9,1875.6 1058.9,1875.2 1059.9,1869.4 1060.9,1866.9 1061.9,1867.7 1062.9,1872.5 1063.9,1870.3 1064.9,1871.6 1065.9,1872.0 1066.9,1873.3 1067.9,1874.9 1068.9,1875.9 1069.9,1875.1 1070.9,1876.9 1071.9,1877.3 1072.9,1878.0 1073.9,1876.6 1074.9,1876.8 1075.9,1877.2 1076.9,1877.7 1077.9,1877.7 1078.9,1877.2 1079.9,1876.3 1080.9,1874.6 1081.9,1876.6 1082.9,1876.9 1083.9,1876.6 1084.9,1877.4 1085.9,1878.6 1086.9,1878.9 1087.9,1878.4 1088.9,1877.5 1089.9,1876.9 1090.9,1875.5 1091.9,1874.7 1092.9,1876.3 1093.9,1877.2 1094.9,1877.9 1095.9,1875.2 1096.9,1873.7 1097.9,1873.0 1098.9,1875.8 1099.9,1875.6 1100.9,1875.1 1101.9,1876.2 1102.9,1876.2 1103.9,1875.1 1104.9,1874.6 1105.9,1875.2 1106.9,1869.9 1107.9,1869.9 1108.9,1875.8 1109.9,1873.5 1110.9,1869.7 1111.9,1872.8 1112.9,1875.2 1113.9,1876.2 1114.9,1874.8 1115.9,1872.4 1116.9,1873.4 1117.9,1873.4 1118.9,1859.9 1119.9,1859.9 1120.9,1871.1 1121.9,1873.4 1122.9,1870.4 1123.9,1871.1 1124.9,1870.9 1125.9,1870.9 1126.9,1870.9 1127.9,1870.9 1128.9,1872.9 1129.9,1870.3 1130.9,1867.2 1131.9,1870.1 1132.9,1869.9 1133.9,1870.3 1134.9,1874.7 1135.9,1877.8 1136.9,1878.8 1137.9,1875.9 1138.9,1871.4 1139.9,1873.3 1140.9,1875.8 1141.9,1874.4 1142.9,1861.1 1143.9,1861.1 1144.9,1874.4 1145.9,1877.4 1146.9,1876.0 1147.9,1873.9 1148.9,1872.8 1149.9,1870.0 1150.9,1868.5 1151.9,1871.4 1152.9,1875.1 1153.9,1877.7 1154.9,1875.4 1155.9,1873.1 1156.9,1871.6 1157.9,1874.6 1158.9,1873.5 1159.9,1871.6 1160.9,1850.0 1161.9,1850.0 1162.9,1871.6 1163.9,1874.8 1164.9,1871.9 1165.9,1870.4 1166.9,1870.4 1167.9,1870.4 1168.9,1871.3 1169.9,1871.4 1170.9,1870.1 1171.9,1872.2 1172.9,1852.6 1173.9,1852.6 1174.9,1872.2 1175.9,1876.9 1176.9,1876.1 1177.9,1877.5 1178.9,1876.1 1179.9,1876.7 1180.9,1874.6 1181.9,1870.9 1182.9,1871.4 1183.9,1873.8 1184.9,1874.9 1185.9,1873.6 1186.9,1872.5 1187.9,1873.4 1188.9,1875.9 1189.9,1876.6 1190.9,1876.5 1191.9,1874.7 1192.9,1874.0 1193.9,1876.4 1194.9,1877.3 1195.9,1876.7 1196.9,1877.6 1197.9,1877.9 1198.9,1877.7 1199.9,1876.6 1200.9,1874.5 1201.9,1876.4 1202.9,1877.4 1203.9,1876.9 1204.9,1876.5 1205.9,1877.6 1206.9,1872.6 1207.9,1868.9 1208.9,1872.6 1209.9,1877.2 1210.9,1878.0 1211.9,1878.3 1212.9,1877.6 1213.9,1876.1 1214.9,1872.5 1215.9,1874.6 1216.9,1875.3 1217.9,1873.3 1218.9,1874.8 1219.9,1874.5 1220.9,1874.9 1221.9,1876.7 1222.9,1877.4 1223.9,1877.1 1224.9,1877.4 1225.9,1877.1 1226.9,1877.6 1227.9,1875.7 1228.9,1872.8 1229.9,1874.4 1230.9,1876.5 1231.9,1873.2 1232.9,1871.8 1233.9,1873.0 1234.9,1876.9 1235.9,1876.3 1236.9,1875.5 1237.9,1875.8 1238.9,1875.0 1239.9,1877.5 1240.9,1878.4 1241.9,1877.6 1242.9,1877.3 1243.9,1874.6 1244.9,1872.3 1245.9,1872.4 1246.9,1867.3 1247.9,1864.3 1248.9,1865.3 1249.9,1869.5 1250.9,1869.5 1251.9,1873.5 1252.9,1872.8 1253.9,1873.2 1254.9,1875.9 1255.9,1875.1 1256.9,1875.9 1257.9,1874.5 1258.9,1875.4 1259.9,1876.5 1260.9,1877.8 1261.9,1876.2 1262.9,1875.5 1263.9,1875.2 1264.9,1877.1 1265.9,1876.8 1266.9,1877.2 1267.9,1877.9 1268.9,1878.3 1269.9,1878.5 1270.9,1878.5 1271.9,1878.6 1272.9,1878.6 1273.9,1878.6 1274.9,1878.4 1275.9,1878.4 1276.9,1878.6 1277.9,1878.5 1278.9,1878.5 1279.9,1878.4 1280.9,1878.4 1281.9,1878.4 1282.9,1878.3 1283.9,1878.2 1284.9,1878.1 1285.9,1877.6 1286.9,1877.1 1287.9,1875.5 1288.9,1875.4 1289.9,1875.7 1290.9,1874.6 1291.9,1873.0 1292.9,1867.8 1293.9,1866.8 1294.9,1868.7 1295.9,1866.3 1296.9,1870.9 1297.9,1870.9 1298.9,1865.9 1299.9,1865.9 1300.9,1871.3 1301.9,1870.6 1302.9,1872.9 1303.9,1875.0 1304.9,1875.0 1305.9,1875.8 1306.9,1873.8 1307.9,1871.0 1308.9,1870.8 1309.9,1872.5 1310.9,1870.8 1311.9,1869.1 1312.9,1871.4 1313.9,1873.8 1314.9,1875.7 1315.9,1877.4 1316.9,1878.9 1317.9,1878.5 1318.9,1876.5 1319.9,1875.6 1320.9,1875.7 1321.9,1875.8 1322.9,1876.1 1323.9,1874.1 1324.9,1869.7 1325.9,1870.0 1326.9,1872.3 1327.9,1874.6 1328.9,1875.4 1329.9,1875.6 1330.9,1872.2 1331.9,1867.9 1332.9,1867.9 1333.9,1869.7 1334.9,1873.7 1335.9,1874.8 1336.9,1876.3 1337.9,1875.8 1338.9,1875.8 1339.9,1874.1 1340.9,1874.0 1341.9,1873.5 1342.9,1875.7 1343.9,1876.5 1344.9,1875.7 1345.9,1876.0 1346.9,1870.8 1347.9,1858.5 1348.9,1870.8 1349.9,1876.5 1350.9,1874.3 1351.9,1873.9 1352.9,1874.7 1353.9,1875.4 1354.9,1873.2 1355.9,1874.5 1356.9,1875.6 1357.9,1874.2 1358.9,1871.7 1359.9,1872.9 1360.9,1872.0 1361.9,1875.2 1362.9,1876.5 1363.9,1876.4 1364.9,1875.1 1365.9,1876.5 1366.9,1875.2 1367.9,1875.5 1368.9,1873.9 1369.9,1875.6 1370.9,1875.4 1371.9,1875.2 1372.9,1875.6 1373.9,1877.2 1374.9,1876.1 1375.9,1876.1 1376.9,1876.3 1377.9,1877.0 1378.9,1877.5 1379.9,1877.5 1380.9,1876.9 1381.9,1876.2 1382.9,1876.7 1383.9,1876.2 1384.9,1876.7 1385.9,1875.1 1386.9,1875.7 1387.9,1877.5 1388.9,1877.8 1389.9,1878.5 1390.9,1878.4 1391.9,1876.4 1392.9,1875.4 1393.9,1872.7 1394.9,1874.2 1395.9,1874.1 1396.9,1873.8 1397.9,1874.6 1398.9,1869.6 1399.9,1868.4 1400.9,1870.3 1401.9,1872.7 1402.9,1874.7 1403.9,1875.8 1404.9,1872.7 1405.9,1870.8 1406.9,1869.1 1407.9,1869.4 1408.9,1873.4 1409.9,1874.9 1410.9,1875.8 1411.9,1875.8 1412.9,1869.3 1413.9,1866.8 1414.9,1872.4 1415.9,1874.6 1416.9,1869.1 1417.9,1872.8 1418.9,1863.9 1419.9,1870.0 1420.9,1874.1 1421.9,1867.9 1422.9,1867.1 1423.9,1873.2 1424.9,1873.6 1425.9,1867.0 1426.9,1861.9 1427.9,1868.9 1428.9,1869.3 1429.9,1864.8 1430.9,1871.4 1431.9,1875.2 1432.9,1873.2 1433.9,1870.1 1434.9,1872.5 1435.9,1873.9 1436.9,1875.7 1437.9,1876.2 1438.9,1873.1 1439.9,1876.2 1440.9,1875.8 1441.9,1875.1 1442.9,1869.6 1443.9,1857.9 1444.9,1857.9 1445.9,1866.7 1446.9,1864.9 1447.9,1867.0 1448.9,1866.3 1449.9,1863.9 1450.9,1863.9 1451.9,1863.9 1452.9,1863.9 1453.9,1863.9 1454.9,1865.6 1455.9,1869.1 1456.9,1871.1 1457.9,1865.4 1458.9,1866.4 1459.9,1867.5 1460.9,1871.5 1461.9,1875.9 1462.9,1875.2 1463.9,1869.5 1464.9,1867.8 1465.9,1863.9 1466.9,1868.1 1467.9,1869.4 1468.9,1863.5 1469.9,1866.6 1470.9,1871.9 1471.9,1870.0 1472.9,1872.5 1473.9,1873.3 1474.9,1874.3 1475.9,1871.8 1476.9,1871.1 1477.9,1872.2 1478.9,1872.0 1479.9,1868.5 1480.9,1863.6 1481.9,1863.7 1482.9,1866.7 1483.9,1873.2 1484.9,1874.5 1485.9,1875.3 1486.9,1873.1 1487.9,1864.0 1488.9,1861.6 1489.9,1862.9 1490.9,1865.9 1491.9,1864.1 1492.9,1867.6 1493.9,1871.4 1494.9,1870.7 1495.9,1867.4 1496.9,1870.3 1497.9,1874.3 1498.9,1875.4 1499.9,1875.5 1500.9,1875.2 1501.9,1875.5 1502.9,1876.4 1503.9,1876.9 1504.9,1873.7 1505.9,1870.9 1506.9,1873.0 1507.9,1877.2 1508.9,1877.1 1509.9,1874.3 1510.9,1873.5 1511.9,1874.1 1512.9,1869.1 1513.9,1872.0 1514.9,1872.7 1515.9,1870.9 1516.9,1873.1 1517.9,1874.3 1518.9,1874.5 1519.9,1874.0 1520.9,1876.8 1521.9,1876.7 1522.9,1876.0 1523.9,1867.9 1524.9,1867.4 1525.9,1870.8 1526.9,1874.6 1527.9,1876.0 1528.9,1876.0 1529.9,1868.8 1530.9,1867.9 1531.9,1876.6 1532.9,1875.3 1533.9,1873.3 1534.9,1873.9 1535.9,1874.3 1536.9,1874.8 1537.9,1872.0 1538.9,1874.4 1539.9,1869.7 1540.9,1865.1 1541.9,1868.2 1542.9,1868.8 1543.9,1869.2 1544.9,1868.1 1545.9,1857.9 1546.9,1857.9 1547.9,1871.3 1548.9,1871.3 1549.9,1867.6 1550.9,1861.3 1551.9,1863.7 1552.9,1860.3 1553.9,1858.1 1554.9,1858.7 1555.9,1866.1 1556.9,1873.9 1557.9,1873.0 1558.9,1872.6 1559.9,1869.3 1560.9,1865.9 1561.9,1873.2 1562.9,1878.1 1563.9,1877.4 1564.9,1877.4 1565.9,1877.8 1566.9,1877.3 1567.9,1877.3 1568.9,1877.7 1569.9,1874.6 1570.9,1871.3 1571.9,1874.5 1572.9,1873.1 1573.9,1871.1 1574.9,1874.3 1575.9,1877.6 1576.9,1876.8 1577.9,1875.2 1578.9,1875.3 1579.9,1875.1 1580.9,1875.4 1581.9,1874.3 1582.9,1874.1 1583.9,1876.2 1584.9,1876.1 1585.9,1874.6 1586.9,1872.3 1587.9,1872.4 1588.9,1868.9 1589.9,1871.7 1590.9,1875.5 1591.9,1876.1 1592.9,1877.0 1593.9,1874.2 1594.9,1873.0 1595.9,1871.9 1596.9,1874.8 1597.9,1876.0 1598.9,1875.0 1599.9,1874.7 1600.9,1875.7 1601.9,1874.8 1602.9,1876.2 1603.9,1876.6 1604.9,1872.8 1605.9,1873.3 1606.9,1875.3 1607.9,1875.3 1608.9,1873.9 1609.9,1876.0 1610.9,1876.6 1611.9,1877.6 1612.9,1878.4 1613.9,1878.1 1614.9,1877.4 1615.9,1876.9 1616.9,1875.2 1617.9,1873.0 1618.9,1873.2 1619.9,1872.3 1620.9,1871.2 1621.9,1871.2 1622.9,1868.8 1623.9,1865.5 1624.9,1864.2 1625.9,1871.7 1626.9,1871.0 1627.9,1867.6 1628.9,1869.4 1629.9,1875.1 1630.9,1863.2 1631.9,1863.2 1632.9,1873.9 1633.9,1874.9 1634.9,1875.2 1635.9,1873.9 1636.9,1871.1 1637.9,1868.5 1638.9,1868.2 1639.9,1871.6 1640.9,1865.7 1641.9,1864.9 1642.9,1864.9 1643.9,1871.9 1644.9,1867.9 1645.9,1868.5 1646.9,1871.8 1647.9,1874.1 1648.9,1874.5 1649.9,1871.5 1650.9,1868.1 1651.9,1869.5 1652.9,1872.3 1653.9,1874.0 1654.9,1872.0 1655.9,1874.6 1656.9,1871.9 1657.9,1868.1 1658.9,1869.5 1659.9,1870.4 1660.9,1868.6 1661.9,1872.2 1662.9,1874.8 1663.9,1871.5 1664.9,1872.1 1665.9,1875.4 1666.9,1877.2 1667.9,1877.4 1668.9,1875.7 1669.9,1876.0 1670.9,1874.3 1671.9,1869.5 1672.9,1870.0 1673.9,1874.4 1674.9,1874.1 1675.9,1867.6 1676.9,1866.4 1677.9,1874.5 1678.9,1876.8 1679.9,1876.7 1680.9,1878.1 1681.9,1876.9 1682.9,1876.9 1683.9,1875.3 1684.9,1874.3 1685.9,1871.3 1686.9,1871.3 1687.9,1869.4 1688.9,1870.1 1689.9,1872.9 1690.9,1871.8 1691.9,1871.2 1692.9,1874.3 1693.9,1874.3 1694.9,1869.5 1695.9,1862.5 1696.9,1868.0 1697.9,1872.4 1698.9,1865.8 1699.9,1856.9 1700.9,1856.9 1701.9,1865.2 1702.9,1859.1 1703.9,1851.8 1704.9,1850.0 1705.9,1843.1 1706.9,1855.9 1707.9,1867.3 1708.9,1845.9 1709.9,1849.0 1710.9,1849.6 1711.9,1812.9 1712.9,1812.9 1713.9,1840.4 1714.9,1807.4 1715.9,1768.9 1716.9,1768.9 1717.9,1807.4 1718.9,1838.9 1719.9,1838.9 1720.9,1835.2 1721.9,1825.3 1722.9,1855.1 1723.9,1848.9 1724.9,1847.2 1725.9,1819.9 1726.9,1836.3 1727.9,1860.9 1728.9,1860.9 1729.9,1864.9 1730.9,1853.1 1731.9,1860.3 1732.9,1860.8 1733.9,1858.9 1734.9,1871.9 1735.9,1872.7 1736.9,1872.8 1737.9,1874.3 1738.9,1865.1 1739.9,1869.1 1740.9,1870.2 1741.9,1871.7 1742.9,1870.1 1743.9,1870.7 1744.9,1872.6 1745.9,1876.4 1746.9,1877.4 1747.9,1877.6 1748.9,1877.5 1749.9,1877.4 1750.9,1876.8 1751.9,1876.4 1752.9,1875.8 1753.9,1877.3 1754.9,1877.7 1755.9,1877.6 1756.9,1877.8 1757.9,1877.1 1758.9,1876.7 1759.9,1877.2 1760.9,1877.6 1761.9,1876.0 1762.9,1875.5 1763.9,1877.1 1764.9,1877.8 1765.9,1877.3 1766.9,1876.3 1767.9,1875.9 1768.9,1875.4 1769.9,1876.8 1770.9,1876.2 1771.9,1875.9 1772.9,1875.9 1773.9,1876.0 1774.9,1875.1 1775.9,1871.9 1776.9,1873.8 1777.9,1876.7 1778.9,1877.5 1779.9,1876.5 1780.9,1876.8 1781.9,1877.4 1782.9,1875.9 1783.9,1875.8 1784.9,1876.9 1785.9,1877.5 1786.9,1877.7 1787.9,1877.6 1788.9,1878.1 1789.9,1878.4 1790.9,1877.8 1791.9,1877.1 1792.9,1877.1 1793.9,1876.6 1794.9,1876.6 1795.9,1876.6 1796.9,1877.3 1797.9,1877.8 1798.9,1878.4 1799.9,1877.8 1800.9,1877.0 1801.9,1876.8 1802.9,1877.5 1803.9,1876.9 1804.9,1876.5 1805.9,1876.3 1806.9,1876.0 1807.9,1877.3 1808.9,1877.3 1809.9,1877.2 1810.9,1877.2 1811.9,1876.5 1812.9,1877.5 1813.9,1877.2 1814.9,1877.0 1815.9,1877.3 1816.9,1876.9 1817.9,1876.4 1818.9,1877.2 1819.9,1878.0 1820.9,1877.7 1821.9,1877.9 1822.9,1876.5 1823.9,1876.8 1824.9,1877.2 1825.9,1877.9 1826.9,1877.3 1827.9,1875.6 1828.9,1875.8 1829.9,1877.3 1830.9,1877.6 1831.9,1877.1 1832.9,1877.4 1833.9,1876.8 1834.9,1875.9 1835.9,1877.4 1836.9,1878.0 1837.9,1878.7 1838.9,1878.7 1839.9,1878.9 1840.9,1878.5 1841.9,1877.9 1842.9,1878.2 1843.9,1878.2 1844.9,1877.8 1845.9,1877.1 1846.9,1878.0 1847.9,1878.3 1848.9,1878.3 1849.9,1878.0 1850.9,1877.5 1851.9,1877.3 1852.9,1876.7 1853.9,1877.5 1854.9,1877.7 1855.9,1876.6 1856.9,1876.0 1857.9,1876.3 1858.9,1877.8 1859.9,1877.3 1860.9,1877.6 1861.9,1877.7 1862.9,1877.7 1863.9,1878.1 1864.9,1878.7 1865.9,1878.9 1866.9,1878.2 1867.9,1877.2 1868.9,1877.9 1869.9,1878.8 1870.9,1878.6 1871.9,1877.8 1872.9,1878.0 1873.9,1877.9 1874.9,1876.3 1875.9,1876.7 1876.9,1877.7 1877.9,1877.8 1878.9,1877.3 1879.9,1877.7 1880.9,1877.4 1881.9,1876.9 1882.9,1876.8 1883.9,1876.8 1884.9,1877.4 1885.9,1877.5 1886.9,1877.3 1887.9,1877.0 1888.9,1877.3 1889.9,1877.9 1890.9,1877.5 1891.9,1878.1 1892.9,1878.2 1893.9,1878.1 1894.9,1877.6 1895.9,1877.6 1896.9,1878.1 1897.9,1878.5 1898.9,1878.8 1899.9,1878.6 1900.9,1878.1 1901.9,1877.7 1902.9,1878.0 1903.9,1878.5 1904.9,1878.4 1905.9,1878.6 1906.9,1878.5 1907.9,1878.4 1908.9,1878.0 1909.9,1878.0 1910.9,1878.2 1911.9,1878.4 1912.9,1878.1 1913.9,1877.9 1914.9,1878.1 1915.9,1878.2 1916.9,1877.7 1917.9,1876.9 1918.9,1878.1 1919.9,1878.3 1920.9,1877.8 1921.9,1878.2 1922.9,1878.6 1923.9,1877.5 1924.9,1876.0 1925.9,1875.4 1926.9,1875.0 1927.9,1876.1 1928.9,1876.4 1929.9,1876.8 1930.9,1877.7 1931.9,1877.6 1932.9,1877.7 1933.9,1877.7 1934.9,1877.4 1935.9,1877.3 1936.9,1877.9 1937.9,1876.8 1938.9,1875.5 1939.9,1876.9 1940.9,1878.3 1941.9,1878.2 1942.9,1878.5 1943.9,1878.2 1944.9,1877.8 1945.9,1877.6 1946.9,1877.3 1947.9,1877.8 1948.9,1878.1 1949.9,1877.6 1950.9,1877.6 1951.9,1877.3 1952.9,1877.7 1953.9,1877.4 1954.9,1877.9 1955.9,1878.2 1956.9,1878.7 1957.9,1878.5 1958.9,1877.8 1959.9,1877.1 1960.9,1876.9 1961.9,1877.3 1962.9,1877.7 1963.9,1878.1 1964.9,1877.8 1965.9,1877.5 1966.9,1878.2 1967.9,1878.5 1968.9,1878.5 1969.9,1878.8 1969.9,1878.9" fill="#ff0000" stroke="#ff0000" stroke-width="0.4" stroke-linejoin="round"/>
<line x1="100.1" x2="1970" y1="1723.6" y2="1723.6" stroke="#000" stroke-width="1.6"/>
<line x1="100.1" x2="1970" y1="1878.9" y2="1878.9" stroke="#000" stroke-width="1.6"/>
<path d="M112.1 1610.7 V1723.6" stroke="#000" stroke-width="1.6" fill="none"/>
<line x1="100.1" x2="112.1" y1="1611.5" y2="1611.5" stroke="#000" stroke-width="1.4"/>
<line x1="100.1" x2="112.1" y1="1639.5" y2="1639.5" stroke="#000" stroke-width="1.4"/>
<line x1="100.1" x2="112.1" y1="1667.5" y2="1667.5" stroke="#000" stroke-width="1.4"/>
<line x1="100.1" x2="112.1" y1="1695.6" y2="1695.6" stroke="#000" stroke-width="1.4"/>
<line x1="100.1" x2="112.1" y1="1723.6" y2="1723.6" stroke="#000" stroke-width="1.4"/>
<text x="100.6" y="1618.8" font-size="24.9" fill="#000" text-anchor="end">7.95</text>
<text x="99.8" y="1676.5" font-size="24.9" fill="#000" text-anchor="end">3.98</text>
<text x="91.2" y="1732.5" font-size="24.9" fill="#000" text-anchor="end">0</text>
<path d="M112.1 1766.9 V1878.9" stroke="#000" stroke-width="1.6" fill="none"/>
<line x1="100.1" x2="112.1" y1="1767.7" y2="1767.7" stroke="#000" stroke-width="1.4"/>
<line x1="100.1" x2="112.1" y1="1795.5" y2="1795.5" stroke="#000" stroke-width="1.4"/>
<line x1="100.1" x2="112.1" y1="1823.3" y2="1823.3" stroke="#000" stroke-width="1.4"/>
<line x1="100.1" x2="112.1" y1="1851.1" y2="1851.1" stroke="#000" stroke-width="1.4"/>
<line x1="100.1" x2="112.1" y1="1878.9" y2="1878.9" stroke="#000" stroke-width="1.4"/>
<text x="101.2" y="1775.0" font-size="24.9" fill="#000" text-anchor="end">43.62</text>
<text x="101.4" y="1832.2" font-size="24.9" fill="#000" text-anchor="end">21.81</text>
<text x="91.2" y="1887.8" font-size="24.9" fill="#000" text-anchor="end">0</text>
<text transform="translate(24.8,1725.8) rotate(-90)" font-size="30.4" fill="#000">RNA-seq [-]</text>
<text transform="translate(24.8,1874.6) rotate(-90)" font-size="30.4" fill="#000">ATAC-seq</text>
<path d="M152.5 1924.4h6.2v7.6h-6.2zM164.9 1924.4h8.3v7.6h-8.3zM225.0 1924.4h8.9v7.6h-8.9zM266.4 1924.4h6.2v7.6h-6.2zM426.2 1924.4h5.9v7.6h-5.9zM509.0 1924.4h5.2v7.6h-5.2zM665.4 1924.4h5.9v7.6h-5.9zM794.9 1924.4h7.9v7.6h-7.9zM814.9 1924.4h5.5v7.6h-5.5zM824.6 1924.4h5.5v7.6h-5.5zM849.1 1924.4h5.1v7.6h-5.1zM1023.4 1924.4h5.2v7.6h-5.2zM1050.0 1924.4h5.5v7.6h-5.5zM1057.6 1924.4h5.5v7.6h-5.5zM1063.6 1924.4h4.0v7.6h-4.0zM1104.5 1924.4h9.7v7.6h-9.7zM1118.0 1924.4h8.3v7.6h-8.3zM1126.9 1924.4h4.9v7.6h-4.9zM1136.6 1924.4h9.7v7.6h-9.7zM1159.4 1924.4h5.9v7.6h-5.9zM1169.7 1924.4h7.6v7.6h-7.6zM1178.0 1924.4h5.6v7.6h-5.6zM1186.3 1924.4h5.2v7.6h-5.2zM1197.0 1924.4h9.3v7.6h-9.3zM1213.6 1924.4h5.2v7.6h-5.2zM1254.0 1924.4h5.1v7.6h-5.1zM1292.0 1924.4h10.3v7.6h-10.3zM1327.2 1924.4h9.6v7.6h-9.6zM1344.8 1924.4h8.9v7.6h-8.9zM1359.9 1924.4h5.1v7.6h-5.1zM1388.9 1924.4h5.4v7.6h-5.4zM1416.3 1924.4h5.2v7.6h-5.2zM1429.4 1924.4h9.7v7.6h-9.7zM1440.4 1924.4h9.0v7.6h-9.0zM1458.7 1924.4h4.9v7.6h-4.9zM1474.3 1924.4h5.1v7.6h-5.1zM1491.5 1924.4h4.9v7.6h-4.9zM1504.3 1924.4h7.9v7.6h-7.9zM1515.7 1924.4h5.2v7.6h-5.2zM1528.5 1924.4h6.9v7.6h-6.9zM1545.7 1924.4h9.0v7.6h-9.0zM1557.1 1924.4h5.2v7.6h-5.2zM1578.9 1924.4h5.5v7.6h-5.5zM1606.5 1924.4h10.7v7.6h-10.7zM1673.8 1924.4h5.9v7.6h-5.9zM1698.3 1924.4h36.6v7.6h-36.6zM1736.6 1924.4h5.2v7.6h-5.2zM1792.5 1924.4h5.2v7.6h-5.2zM1827.4 1924.4h5.2v7.6h-5.2zM1925.4 1924.4h5.9v7.6h-5.9zM1939.2 1924.4h5.2v7.6h-5.2z" fill="#000"/>
<path d="M1024.8 1976.5h557.2v7.9h-557.2z" fill="#000"/>
<text x="178.2" y="1934.8" font-size="34" fill="#000">OCRs</text>
<text x="172.0" y="1987.2" font-size="34" fill="#000">dOCRs</text>
<path d="M129.3 2041.1H1952.3L1932.7 2034.9" stroke="#000" stroke-width="1.5" fill="none"/>
<path d="M1952.3 2046.6H129.3L149.4 2053.2" stroke="#000" stroke-width="1.5" fill="none"/>
<line x1="240.5" x2="240.5" y1="2041.1" y2="2032.1" stroke="#000" stroke-width="1.5"/>
<text x="256.2" y="2021.8" font-size="26" text-anchor="middle" fill="#000">26.12 mb</text>
<line x1="362.9" x2="362.9" y1="2046.6" y2="2055.6" stroke="#000" stroke-width="1.5"/>
<text x="378.6" y="2079" font-size="26" text-anchor="middle" fill="#000">26.13 mb</text>
<line x1="485.3" x2="485.3" y1="2041.1" y2="2032.1" stroke="#000" stroke-width="1.5"/>
<text x="501.0" y="2021.8" font-size="26" text-anchor="middle" fill="#000">26.14 mb</text>
<line x1="607.7" x2="607.7" y1="2046.6" y2="2055.6" stroke="#000" stroke-width="1.5"/>
<text x="623.4" y="2079" font-size="26" text-anchor="middle" fill="#000">26.15 mb</text>
<line x1="730.1" x2="730.1" y1="2041.1" y2="2032.1" stroke="#000" stroke-width="1.5"/>
<text x="745.8" y="2021.8" font-size="26" text-anchor="middle" fill="#000">26.16 mb</text>
<line x1="852.5" x2="852.5" y1="2046.6" y2="2055.6" stroke="#000" stroke-width="1.5"/>
<text x="868.2" y="2079" font-size="26" text-anchor="middle" fill="#000">26.17 mb</text>
<line x1="974.9" x2="974.9" y1="2041.1" y2="2032.1" stroke="#000" stroke-width="1.5"/>
<text x="990.6" y="2021.8" font-size="26" text-anchor="middle" fill="#000">26.18 mb</text>
<line x1="1097.3" x2="1097.3" y1="2046.6" y2="2055.6" stroke="#000" stroke-width="1.5"/>
<text x="1113.0" y="2079" font-size="26" text-anchor="middle" fill="#000">26.19 mb</text>
<line x1="1219.7" x2="1219.7" y1="2041.1" y2="2032.1" stroke="#000" stroke-width="1.5"/>
<text x="1235.4" y="2021.8" font-size="26" text-anchor="middle" fill="#000">26.2 mb</text>
<line x1="1342.1" x2="1342.1" y1="2046.6" y2="2055.6" stroke="#000" stroke-width="1.5"/>
<text x="1357.8" y="2079" font-size="26" text-anchor="middle" fill="#000">26.21 mb</text>
<line x1="1464.5" x2="1464.5" y1="2041.1" y2="2032.1" stroke="#000" stroke-width="1.5"/>
<text x="1480.2" y="2021.8" font-size="26" text-anchor="middle" fill="#000">26.22 mb</text>
<line x1="1586.9" x2="1586.9" y1="2046.6" y2="2055.6" stroke="#000" stroke-width="1.5"/>
<text x="1602.6" y="2079" font-size="26" text-anchor="middle" fill="#000">26.23 mb</text>
<line x1="1709.3" x2="1709.3" y1="2041.1" y2="2032.1" stroke="#000" stroke-width="1.5"/>
<text x="1725.0" y="2021.8" font-size="26" text-anchor="middle" fill="#000">26.24 mb</text>
<line x1="1831.7" x2="1831.7" y1="2046.6" y2="2055.6" stroke="#000" stroke-width="1.5"/>
<text x="1847.4" y="2079" font-size="26" text-anchor="middle" fill="#000">26.25 mb</text>
<text x="10.8" y="919.7" font-size="45" font-weight="bold" fill="#000">b</text>
</g>
</svg></body></html>
